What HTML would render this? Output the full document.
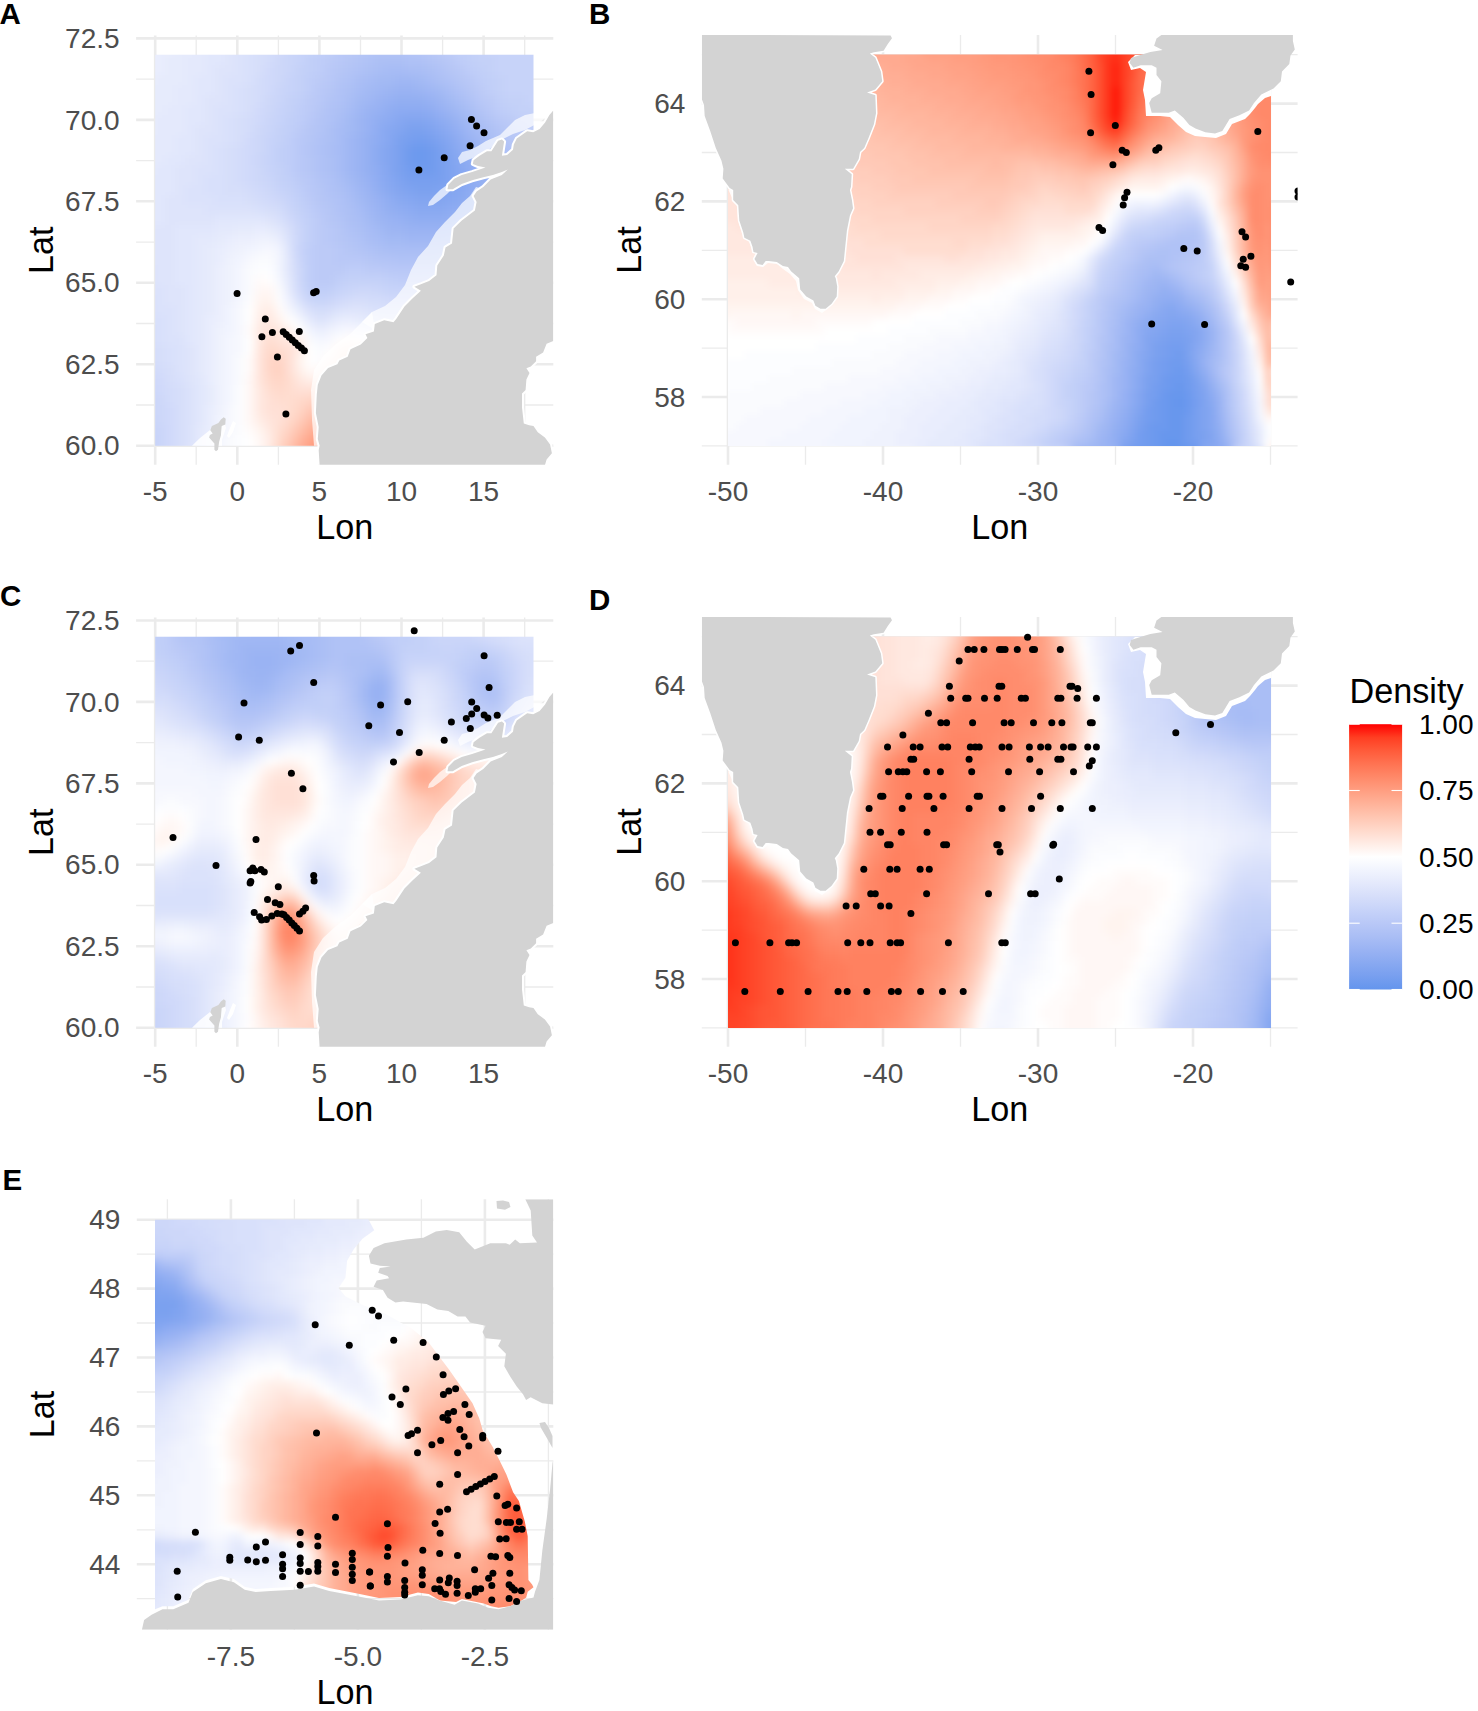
<!DOCTYPE html>
<html><head><meta charset="utf-8"><title>Density maps</title>
<style>
html,body{margin:0;padding:0;background:#fff;}
svg{display:block;}
.tk{font-family:"Liberation Sans",Arial,sans-serif;font-size:28px;fill:#4D4D4D;}
.ti{font-family:"Liberation Sans",Arial,sans-serif;font-size:34.2px;fill:#000;}
.pl{font-family:"Liberation Sans",Arial,sans-serif;font-size:29.5px;font-weight:bold;fill:#000;}
.lg{font-family:"Liberation Sans",Arial,sans-serif;font-size:28px;fill:#000;}
</style></head><body>
<svg width="1478" height="1711" viewBox="0 0 1478 1711">
<defs><filter id="blA" filterUnits="userSpaceOnUse" x="135.2" y="34.8" width="420" height="440" color-interpolation-filters="sRGB"><feGaussianBlur stdDeviation="5"/></filter><clipPath id="rcA"><path d="M155.2 54.8H533.5V338H518V445.7H155.2Z"/></clipPath><clipPath id="clipA"><rect x="136.1" y="35.6" width="417.2" height="429.1"/></clipPath><filter id="blB" filterUnits="userSpaceOnUse" x="712" y="38.5" width="576" height="424" color-interpolation-filters="sRGB"><feGaussianBlur stdDeviation="3.5"/></filter><clipPath id="rcB"><path d="M728 54.5H1271V445.9H728z"/></clipPath><clipPath id="clipB"><rect x="701.8" y="35" width="595.8" height="429.8"/></clipPath><filter id="blC" filterUnits="userSpaceOnUse" x="139.2" y="620.8" width="416" height="424" color-interpolation-filters="sRGB"><feGaussianBlur stdDeviation="4"/></filter><clipPath id="rcC"><path d="M155.2 636.8H533.5V920H518V1027.7H155.2Z"/></clipPath><clipPath id="clipC"><rect x="136.1" y="617.6" width="417.2" height="429.1"/></clipPath><filter id="blD" filterUnits="userSpaceOnUse" x="712" y="620.5" width="576" height="424" color-interpolation-filters="sRGB"><feGaussianBlur stdDeviation="4"/></filter><clipPath id="rcD"><path d="M728 636.5H1271V1027.9H728z"/></clipPath><clipPath id="clipD"><rect x="701.8" y="617" width="595.8" height="429.8"/></clipPath><filter id="blE" filterUnits="userSpaceOnUse" x="139" y="1203.5" width="416" height="424" color-interpolation-filters="sRGB"><feGaussianBlur stdDeviation="3.5"/></filter><clipPath id="rcE"><path d="M155 1219.7L368.3 1219.3L374.2 1230.3L362.4 1238.8L353.9 1249L347.1 1260.8L345.4 1277.8L338.6 1288L345.4 1296.4L362.4 1304.9L384.4 1313.4L399.7 1321.9L411.5 1328.6L428.5 1342.2L438.6 1355.8L448.8 1369.3L460.7 1386.3L472.5 1403.2L479.3 1418.5L482.7 1430.3L492.9 1447.3L499.7 1460.8L506.4 1474.4L513.1 1492.3L518.9 1501.1L524.8 1521.5L527.7 1536.2L528.4 1580L532.1 1584.4L533.5 1587.3L527.7 1591.7L526.2 1597.5L521.8 1600.5L510.2 1606.3L498.5 1607.8L491.2 1606.3L483.8 1603.4L461.9 1599L456.1 1601.9L440 1600.5L428.8 1594L417.9 1592.5L400.6 1597L379 1598L357.3 1593.5L329.2 1588L314 1583.5L294.5 1586.8L270.7 1588L255.6 1589L244.7 1586.8L233.9 1579L220.9 1576L205.8 1580.3L192.8 1589L188.5 1599.8L173.3 1606.3L162.5 1606.3L155 1609.3Z"/></clipPath><clipPath id="clipE"><rect x="136.8" y="1199.2" width="416.5" height="430.6"/></clipPath><linearGradient id="lgbar" x1="0" y1="0" x2="0" y2="1"><stop offset="0.00" stop-color="#ff0000"/><stop offset="0.05" stop-color="#ff3e22"/><stop offset="0.10" stop-color="#ff5b3a"/><stop offset="0.15" stop-color="#ff7352"/><stop offset="0.20" stop-color="#ff8969"/><stop offset="0.25" stop-color="#ff9e81"/><stop offset="0.30" stop-color="#ffb299"/><stop offset="0.35" stop-color="#ffc6b2"/><stop offset="0.40" stop-color="#ffd9cb"/><stop offset="0.45" stop-color="#ffece5"/><stop offset="0.50" stop-color="#ffffff"/><stop offset="0.55" stop-color="#f1f4fe"/><stop offset="0.60" stop-color="#e4e9fc"/><stop offset="0.65" stop-color="#d6defa"/><stop offset="0.70" stop-color="#c7d3f9"/><stop offset="0.75" stop-color="#b9c8f7"/><stop offset="0.80" stop-color="#aabef5"/><stop offset="0.85" stop-color="#9ab3f3"/><stop offset="0.90" stop-color="#89a9f1"/><stop offset="0.95" stop-color="#789fef"/><stop offset="1.00" stop-color="#6495ed"/></linearGradient></defs>
<rect width="1478" height="1711" fill="#fff"/>
<line x1="196.2" y1="35.6" x2="196.2" y2="464.7" stroke="#EBEBEB" stroke-width="1.3"/>
<line x1="278.4" y1="35.6" x2="278.4" y2="464.7" stroke="#EBEBEB" stroke-width="1.3"/>
<line x1="360.5" y1="35.6" x2="360.5" y2="464.7" stroke="#EBEBEB" stroke-width="1.3"/>
<line x1="442.6" y1="35.6" x2="442.6" y2="464.7" stroke="#EBEBEB" stroke-width="1.3"/>
<line x1="524.7" y1="35.6" x2="524.7" y2="464.7" stroke="#EBEBEB" stroke-width="1.3"/>
<line x1="136.1" y1="405" x2="553.3" y2="405" stroke="#EBEBEB" stroke-width="1.3"/>
<line x1="136.1" y1="323.5" x2="553.3" y2="323.5" stroke="#EBEBEB" stroke-width="1.3"/>
<line x1="136.1" y1="242.1" x2="553.3" y2="242.1" stroke="#EBEBEB" stroke-width="1.3"/>
<line x1="136.1" y1="160.6" x2="553.3" y2="160.6" stroke="#EBEBEB" stroke-width="1.3"/>
<line x1="136.1" y1="79.2" x2="553.3" y2="79.2" stroke="#EBEBEB" stroke-width="1.3"/>
<line x1="155.2" y1="35.6" x2="155.2" y2="464.7" stroke="#EBEBEB" stroke-width="2.6"/>
<line x1="237.3" y1="35.6" x2="237.3" y2="464.7" stroke="#EBEBEB" stroke-width="2.6"/>
<line x1="319.4" y1="35.6" x2="319.4" y2="464.7" stroke="#EBEBEB" stroke-width="2.6"/>
<line x1="401.5" y1="35.6" x2="401.5" y2="464.7" stroke="#EBEBEB" stroke-width="2.6"/>
<line x1="483.6" y1="35.6" x2="483.6" y2="464.7" stroke="#EBEBEB" stroke-width="2.6"/>
<line x1="136.1" y1="445.7" x2="553.3" y2="445.7" stroke="#EBEBEB" stroke-width="2.6"/>
<line x1="136.1" y1="364.2" x2="553.3" y2="364.2" stroke="#EBEBEB" stroke-width="2.6"/>
<line x1="136.1" y1="282.8" x2="553.3" y2="282.8" stroke="#EBEBEB" stroke-width="2.6"/>
<line x1="136.1" y1="201.3" x2="553.3" y2="201.3" stroke="#EBEBEB" stroke-width="2.6"/>
<line x1="136.1" y1="119.9" x2="553.3" y2="119.9" stroke="#EBEBEB" stroke-width="2.6"/>
<line x1="136.1" y1="38.4" x2="553.3" y2="38.4" stroke="#EBEBEB" stroke-width="2.6"/>
<g clip-path="url(#rcA)"><g filter="url(#blA)" shape-rendering="crispEdges"><path fill="#6c99ee" d="M415.2 144.8h10v10h-10zM415.2 154.8h10v10h-10z"/><path fill="#709bee" d="M405.2 144.8h10v10h-10zM425.2 144.8h10v10h-10zM405.2 154.8h10v10h-10zM425.2 154.8h10v10h-10zM415.2 164.8h20v10h-20z"/><path fill="#749def" d="M415.2 134.8h10v10h-10zM405.2 164.8h10v10h-10z"/><path fill="#789fef" d="M405.2 134.8h10v10h-10zM425.2 134.8h10v10h-10zM435.2 144.8h10v10h-10zM435.2 154.8h10v10h-10zM435.2 164.8h10v10h-10zM405.2 174.8h40v10h-40z"/><path fill="#7ba1ef" d="M405.2 124.8h20v10h-20zM395.2 134.8h10v10h-10zM395.2 144.8h10v10h-10zM395.2 154.8h10v10h-10zM395.2 164.8h10v10h-10zM415.2 184.8h20v10h-20z"/><path fill="#7fa3f0" d="M425.2 124.8h10v10h-10zM435.2 134.8h10v10h-10zM445.2 154.8h10v10h-10zM445.2 164.8h10v10h-10zM395.2 174.8h10v10h-10zM445.2 174.8h10v10h-10zM405.2 184.8h10v10h-10zM435.2 184.8h10v10h-10z"/><path fill="#83a5f0" d="M405.2 114.8h20v10h-20zM395.2 124.8h10v10h-10zM385.2 144.8h10v10h-10zM445.2 144.8h10v10h-10zM385.2 154.8h10v10h-10zM385.2 164.8h10v10h-10zM395.2 184.8h10v10h-10zM445.2 184.8h10v10h-10zM415.2 194.8h30v10h-30z"/><path fill="#86a7f1" d="M395.2 114.8h10v10h-10zM425.2 114.8h10v10h-10zM385.2 124.8h10v10h-10zM435.2 124.8h10v10h-10zM385.2 134.8h10v10h-10zM445.2 134.8h10v10h-10zM455.2 164.8h10v10h-10zM385.2 174.8h10v10h-10zM455.2 174.8h10v10h-10zM455.2 184.8h10v10h-10zM405.2 194.8h10v10h-10zM445.2 194.8h10v10h-10z"/><path fill="#89a9f1" d="M375.2 144.8h10v10h-10zM375.2 154.8h10v10h-10zM455.2 154.8h10v10h-10zM385.2 184.8h10v10h-10zM395.2 194.8h10v10h-10zM455.2 194.8h10v10h-10zM415.2 204.8h30v10h-30z"/><path fill="#8dabf2" d="M395.2 104.8h30v10h-30zM385.2 114.8h10v10h-10zM435.2 114.8h10v10h-10zM375.2 124.8h10v10h-10zM445.2 124.8h10v10h-10zM375.2 134.8h10v10h-10zM455.2 144.8h10v10h-10zM375.2 164.8h10v10h-10zM465.2 164.8h10v10h-10zM375.2 174.8h10v10h-10zM465.2 174.8h10v10h-10zM465.2 184.8h10v10h-10zM405.2 204.8h10v10h-10zM445.2 204.8h10v10h-10z"/><path fill="#90adf2" d="M385.2 104.8h10v10h-10zM425.2 104.8h10v10h-10zM375.2 114.8h10v10h-10zM455.2 134.8h10v10h-10zM465.2 154.8h10v10h-10zM375.2 184.8h10v10h-10zM385.2 194.8h10v10h-10zM465.2 194.8h10v10h-10zM395.2 204.8h10v10h-10zM455.2 204.8h10v10h-10zM415.2 214.8h30v10h-30z"/><path fill="#93aff2" d="M395.2 94.8h30v10h-30zM445.2 114.8h10v10h-10zM365.2 134.8h10v10h-10zM365.2 144.8h10v10h-10zM465.2 144.8h10v10h-10zM365.2 154.8h10v10h-10zM365.2 164.8h10v10h-10zM475.2 174.8h10v10h-10zM475.2 184.8h10v10h-10zM385.2 204.8h10v10h-10zM465.2 204.8h10v10h-10zM405.2 214.8h10v10h-10zM445.2 214.8h10v10h-10z"/><path fill="#97b1f3" d="M385.2 94.8h10v10h-10zM425.2 94.8h10v10h-10zM375.2 104.8h10v10h-10zM435.2 104.8h10v10h-10zM365.2 114.8h10v10h-10zM365.2 124.8h10v10h-10zM455.2 124.8h10v10h-10zM475.2 154.8h10v10h-10zM475.2 164.8h10v10h-10zM365.2 174.8h10v10h-10zM375.2 194.8h10v10h-10zM475.2 194.8h10v10h-10zM395.2 214.8h10v10h-10zM455.2 214.8h10v10h-10z"/><path fill="#9ab3f3" d="M395.2 84.8h20v10h-20zM375.2 94.8h10v10h-10zM365.2 104.8h10v10h-10zM355.2 134.8h10v10h-10zM465.2 134.8h10v10h-10zM355.2 144.8h10v10h-10zM355.2 154.8h10v10h-10zM355.2 164.8h10v10h-10zM485.2 174.8h10v10h-10zM365.2 184.8h10v10h-10zM485.2 184.8h10v10h-10zM375.2 204.8h10v10h-10zM475.2 204.8h10v10h-10zM385.2 214.8h10v10h-10zM465.2 214.8h10v10h-10zM405.2 224.8h50v10h-50z"/><path fill="#9db5f3" d="M385.2 84.8h10v10h-10zM415.2 84.8h10v10h-10zM435.2 94.8h10v10h-10zM445.2 104.8h10v10h-10zM355.2 114.8h10v10h-10zM455.2 114.8h10v10h-10zM355.2 124.8h10v10h-10zM475.2 144.8h10v10h-10zM485.2 164.8h10v10h-10zM355.2 174.8h10v10h-10zM365.2 194.8h10v10h-10zM485.2 194.8h10v10h-10zM375.2 214.8h10v10h-10zM475.2 214.8h10v10h-10zM385.2 224.8h20v10h-20zM455.2 224.8h10v10h-10z"/><path fill="#a0b7f4" d="M395.2 74.8h20v10h-20zM375.2 84.8h10v10h-10zM425.2 84.8h10v10h-10zM365.2 94.8h10v10h-10zM355.2 104.8h10v10h-10zM465.2 124.8h10v10h-10zM345.2 134.8h10v10h-10zM475.2 134.8h10v10h-10zM345.2 144.8h10v10h-10zM345.2 154.8h10v10h-10zM485.2 154.8h10v10h-10zM345.2 164.8h10v10h-10zM355.2 184.8h10v10h-10zM365.2 204.8h10v10h-10zM485.2 204.8h10v10h-10zM465.2 224.8h10v10h-10zM405.2 234.8h40v10h-40z"/><path fill="#a3baf4" d="M375.2 74.8h20v10h-20zM415.2 74.8h10v10h-10zM365.2 84.8h10v10h-10zM435.2 84.8h10v10h-10zM355.2 94.8h10v10h-10zM445.2 94.8h10v10h-10zM455.2 104.8h10v10h-10zM345.2 114.8h10v10h-10zM465.2 114.8h10v10h-10zM345.2 124.8h10v10h-10zM485.2 144.8h10v10h-10zM495.2 164.8h10v10h-10zM345.2 174.8h10v10h-10zM495.2 174.8h10v10h-10zM495.2 184.8h10v10h-10zM355.2 194.8h10v10h-10zM495.2 194.8h10v10h-10zM365.2 214.8h10v10h-10zM485.2 214.8h10v10h-10zM375.2 224.8h10v10h-10zM475.2 224.8h10v10h-10zM385.2 234.8h20v10h-20zM445.2 234.8h20v10h-20z"/><path fill="#a7bcf5" d="M385.2 64.8h20v10h-20zM365.2 74.8h10v10h-10zM425.2 74.8h10v10h-10zM355.2 84.8h10v10h-10zM345.2 104.8h10v10h-10zM335.2 124.8h10v10h-10zM475.2 124.8h10v10h-10zM335.2 134.8h10v10h-10zM335.2 144.8h10v10h-10zM335.2 154.8h10v10h-10zM495.2 154.8h10v10h-10zM335.2 164.8h10v10h-10zM345.2 184.8h10v10h-10zM355.2 204.8h10v10h-10zM495.2 204.8h10v10h-10zM365.2 224.8h10v10h-10zM375.2 234.8h10v10h-10zM465.2 234.8h10v10h-10z"/><path fill="#aabef5" d="M375.2 64.8h10v10h-10zM405.2 64.8h20v10h-20zM355.2 74.8h10v10h-10zM445.2 84.8h10v10h-10zM345.2 94.8h10v10h-10zM455.2 94.8h10v10h-10zM465.2 104.8h10v10h-10zM335.2 114.8h10v10h-10zM485.2 134.8h10v10h-10zM325.2 144.8h10v10h-10zM495.2 144.8h10v10h-10zM505.2 164.8h10v10h-10zM335.2 174.8h10v10h-10zM505.2 174.8h10v10h-10zM505.2 184.8h10v10h-10zM345.2 194.8h10v10h-10zM505.2 194.8h10v10h-10zM355.2 214.8h10v10h-10zM495.2 214.8h10v10h-10zM485.2 224.8h10v10h-10zM365.2 234.8h10v10h-10zM385.2 244.8h70v10h-70z"/><path fill="#adc0f5" d="M375.2 54.8h30v10h-30zM365.2 64.8h10v10h-10zM425.2 64.8h10v10h-10zM435.2 74.8h10v10h-10zM345.2 84.8h10v10h-10zM335.2 104.8h10v10h-10zM475.2 114.8h10v10h-10zM325.2 124.8h10v10h-10zM485.2 124.8h10v10h-10zM325.2 134.8h10v10h-10zM325.2 154.8h10v10h-10zM505.2 154.8h10v10h-10zM325.2 164.8h10v10h-10zM335.2 184.8h10v10h-10zM345.2 204.8h10v10h-10zM505.2 204.8h10v10h-10zM345.2 214.8h10v10h-10zM355.2 224.8h10v10h-10zM475.2 234.8h10v10h-10zM375.2 244.8h10v10h-10zM455.2 244.8h10v10h-10z"/><path fill="#b0c2f6" d="M365.2 54.8h10v10h-10zM405.2 54.8h20v10h-20zM355.2 64.8h10v10h-10zM435.2 64.8h10v10h-10zM345.2 74.8h10v10h-10zM445.2 74.8h10v10h-10zM335.2 84.8h10v10h-10zM455.2 84.8h10v10h-10zM335.2 94.8h10v10h-10zM465.2 94.8h10v10h-10zM325.2 104.8h10v10h-10zM325.2 114.8h10v10h-10zM315.2 134.8h10v10h-10zM495.2 134.8h10v10h-10zM315.2 144.8h10v10h-10zM505.2 144.8h10v10h-10zM315.2 154.8h10v10h-10zM315.2 164.8h10v10h-10zM325.2 174.8h10v10h-10zM515.2 174.8h10v10h-10zM325.2 184.8h10v10h-10zM515.2 184.8h10v10h-10zM335.2 194.8h10v10h-10zM515.2 194.8h10v10h-10zM335.2 204.8h10v10h-10zM505.2 214.8h10v10h-10zM345.2 224.8h10v10h-10zM495.2 224.8h10v10h-10zM355.2 234.8h10v10h-10zM485.2 234.8h10v10h-10zM365.2 244.8h10v10h-10zM465.2 244.8h10v10h-10zM395.2 254.8h40v10h-40z"/><path fill="#b3c4f6" d="M365.2 44.8h50v10h-50zM355.2 54.8h10v10h-10zM425.2 54.8h10v10h-10zM345.2 64.8h10v10h-10zM335.2 74.8h10v10h-10zM325.2 94.8h10v10h-10zM475.2 104.8h10v10h-10zM315.2 114.8h10v10h-10zM485.2 114.8h10v10h-10zM315.2 124.8h10v10h-10zM495.2 124.8h10v10h-10zM305.2 144.8h10v10h-10zM515.2 154.8h10v10h-10zM515.2 164.8h10v10h-10zM315.2 174.8h10v10h-10zM325.2 194.8h10v10h-10zM515.2 204.8h10v10h-10zM335.2 214.8h10v10h-10zM345.2 234.8h10v10h-10zM355.2 244.8h10v10h-10zM475.2 244.8h10v10h-10zM375.2 254.8h20v10h-20zM435.2 254.8h20v10h-20z"/><path fill="#b6c6f6" d="M365.2 34.8h40v10h-40zM355.2 44.8h10v10h-10zM415.2 44.8h10v10h-10zM345.2 54.8h10v10h-10zM435.2 54.8h10v10h-10zM335.2 64.8h10v10h-10zM445.2 64.8h10v10h-10zM455.2 74.8h10v10h-10zM325.2 84.8h10v10h-10zM465.2 84.8h10v10h-10zM315.2 104.8h10v10h-10zM305.2 124.8h10v10h-10zM305.2 134.8h10v10h-10zM505.2 134.8h10v10h-10zM515.2 144.8h10v10h-10zM305.2 154.8h10v10h-10zM305.2 164.8h10v10h-10zM525.2 164.8h10v10h-10zM525.2 174.8h10v10h-10zM315.2 184.8h10v10h-10zM525.2 184.8h10v10h-10zM315.2 194.8h10v10h-10zM525.2 194.8h10v10h-10zM325.2 204.8h10v10h-10zM325.2 214.8h10v10h-10zM515.2 214.8h10v10h-10zM335.2 224.8h10v10h-10zM505.2 224.8h10v10h-10zM335.2 234.8h10v10h-10zM495.2 234.8h10v10h-10zM345.2 244.8h10v10h-10zM485.2 244.8h10v10h-10zM365.2 254.8h10v10h-10zM455.2 254.8h20v10h-20z"/><path fill="#b9c8f7" d="M355.2 34.8h10v10h-10zM405.2 34.8h20v10h-20zM335.2 44.8h20v10h-20zM425.2 44.8h10v10h-10zM335.2 54.8h10v10h-10zM445.2 54.8h10v10h-10zM325.2 64.8h10v10h-10zM455.2 64.8h10v10h-10zM325.2 74.8h10v10h-10zM465.2 74.8h10v10h-10zM315.2 84.8h10v10h-10zM315.2 94.8h10v10h-10zM475.2 94.8h10v10h-10zM485.2 104.8h10v10h-10zM305.2 114.8h10v10h-10zM495.2 114.8h10v10h-10zM505.2 124.8h10v10h-10zM295.2 134.8h10v10h-10zM515.2 134.8h10v10h-10zM295.2 144.8h10v10h-10zM295.2 154.8h10v10h-10zM525.2 154.8h10v10h-10zM295.2 164.8h10v10h-10zM305.2 174.8h10v10h-10zM305.2 184.8h10v10h-10zM315.2 204.8h10v10h-10zM525.2 204.8h10v10h-10zM325.2 224.8h10v10h-10zM515.2 224.8h10v10h-10zM325.2 234.8h10v10h-10zM505.2 234.8h10v10h-10zM335.2 244.8h10v10h-10zM335.2 254.8h30v10h-30zM475.2 254.8h10v10h-10zM385.2 264.8h60v10h-60z"/><path fill="#bccaf7" d="M335.2 34.8h20v10h-20zM425.2 34.8h10v10h-10zM435.2 44.8h10v10h-10zM325.2 54.8h10v10h-10zM315.2 74.8h10v10h-10zM475.2 84.8h10v10h-10zM305.2 94.8h10v10h-10zM485.2 94.8h10v10h-10zM305.2 104.8h10v10h-10zM505.2 114.8h10v10h-10zM295.2 124.8h10v10h-10zM515.2 124.8h10v10h-10zM525.2 144.8h10v10h-10zM535.2 164.8h10v10h-10zM295.2 174.8h10v10h-10zM535.2 174.8h10v10h-10zM535.2 184.8h10v10h-10zM305.2 194.8h10v10h-10zM535.2 194.8h10v10h-10zM315.2 214.8h10v10h-10zM525.2 214.8h10v10h-10zM315.2 224.8h10v10h-10zM315.2 234.8h10v10h-10zM315.2 244.8h20v10h-20zM495.2 244.8h10v10h-10zM315.2 254.8h20v10h-20zM315.2 264.8h30v10h-30zM365.2 264.8h20v10h-20zM445.2 264.8h20v10h-20zM315.2 274.8h20v10h-20z"/><path fill="#bfcdf8" d="M325.2 34.8h10v10h-10zM435.2 34.8h10v10h-10zM325.2 44.8h10v10h-10zM445.2 44.8h10v10h-10zM315.2 54.8h10v10h-10zM455.2 54.8h10v10h-10zM315.2 64.8h10v10h-10zM465.2 64.8h10v10h-10zM305.2 74.8h10v10h-10zM475.2 74.8h10v10h-10zM305.2 84.8h10v10h-10zM295.2 104.8h10v10h-10zM495.2 104.8h10v10h-10zM295.2 114.8h10v10h-10zM285.2 134.8h10v10h-10zM525.2 134.8h10v10h-10zM285.2 144.8h10v10h-10zM535.2 144.8h10v10h-10zM285.2 154.8h10v10h-10zM535.2 154.8h10v10h-10zM285.2 164.8h10v10h-10zM295.2 184.8h10v10h-10zM305.2 204.8h10v10h-10zM535.2 204.8h10v10h-10zM525.2 224.8h10v10h-10zM515.2 234.8h10v10h-10zM305.2 244.8h10v10h-10zM505.2 244.8h10v10h-10zM305.2 254.8h10v10h-10zM485.2 254.8h10v10h-10zM305.2 264.8h10v10h-10zM345.2 264.8h20v10h-20zM465.2 264.8h10v10h-10zM305.2 274.8h10v10h-10zM395.2 274.8h30v10h-30zM315.2 284.8h10v10h-10z"/><path fill="#c1cff8" d="M315.2 34.8h10v10h-10zM445.2 34.8h20v10h-20zM315.2 44.8h10v10h-10zM455.2 44.8h20v10h-20zM305.2 54.8h10v10h-10zM465.2 54.8h10v10h-10zM305.2 64.8h10v10h-10zM475.2 64.8h10v10h-10zM485.2 74.8h10v10h-10zM485.2 84.8h10v10h-10zM295.2 94.8h10v10h-10zM495.2 94.8h10v10h-10zM505.2 104.8h10v10h-10zM285.2 114.8h10v10h-10zM515.2 114.8h20v10h-20zM285.2 124.8h10v10h-10zM525.2 124.8h10v10h-10zM535.2 134.8h10v10h-10zM275.2 144.8h10v10h-10zM275.2 154.8h10v10h-10zM545.2 154.8h10v10h-10zM545.2 164.8h10v10h-10zM285.2 174.8h10v10h-10zM545.2 174.8h10v10h-10zM545.2 184.8h10v10h-10zM295.2 194.8h10v10h-10zM545.2 194.8h10v10h-10zM305.2 214.8h10v10h-10zM535.2 214.8h10v10h-10zM305.2 224.8h10v10h-10zM305.2 234.8h10v10h-10zM495.2 254.8h10v10h-10zM475.2 264.8h10v10h-10zM335.2 274.8h10v10h-10zM385.2 274.8h10v10h-10zM425.2 274.8h20v10h-20zM305.2 284.8h10v10h-10zM325.2 284.8h10v10h-10zM135.2 424.8h10v10h-10zM135.2 434.8h10v10h-10zM135.2 444.8h10v10h-10zM135.2 454.8h10v10h-10z"/><path fill="#c4d1f8" d="M465.2 34.8h10v10h-10zM305.2 44.8h10v10h-10zM475.2 44.8h10v10h-10zM475.2 54.8h20v10h-20zM295.2 64.8h10v10h-10zM485.2 64.8h10v10h-10zM295.2 74.8h10v10h-10zM495.2 74.8h10v10h-10zM295.2 84.8h10v10h-10zM495.2 84.8h10v10h-10zM285.2 94.8h10v10h-10zM505.2 94.8h20v10h-20zM285.2 104.8h10v10h-10zM515.2 104.8h20v10h-20zM535.2 114.8h10v10h-10zM275.2 124.8h10v10h-10zM535.2 124.8h10v10h-10zM275.2 134.8h10v10h-10zM545.2 134.8h10v10h-10zM545.2 144.8h10v10h-10zM275.2 164.8h10v10h-10zM275.2 174.8h10v10h-10zM285.2 184.8h10v10h-10zM295.2 204.8h10v10h-10zM545.2 204.8h10v10h-10zM535.2 224.8h10v10h-10zM525.2 234.8h10v10h-10zM515.2 244.8h10v10h-10zM505.2 254.8h10v10h-10zM485.2 264.8h10v10h-10zM345.2 274.8h40v10h-40zM445.2 274.8h20v10h-20zM135.2 404.8h10v10h-10zM135.2 414.8h10v10h-10zM145.2 434.8h10v10h-10zM145.2 444.8h10v10h-10zM135.2 464.8h10v10h-10z"/><path fill="#c7d3f9" d="M305.2 34.8h10v10h-10zM475.2 34.8h70v10h-70zM295.2 44.8h10v10h-10zM485.2 44.8h60v10h-60zM295.2 54.8h10v10h-10zM495.2 54.8h50v10h-50zM495.2 64.8h50v10h-50zM285.2 74.8h10v10h-10zM505.2 74.8h40v10h-40zM285.2 84.8h10v10h-10zM505.2 84.8h40v10h-40zM525.2 94.8h20v10h-20zM275.2 104.8h10v10h-10zM535.2 104.8h20v10h-20zM275.2 114.8h10v10h-10zM545.2 114.8h10v10h-10zM545.2 124.8h10v10h-10zM265.2 134.8h10v10h-10zM265.2 144.8h10v10h-10zM265.2 154.8h10v10h-10zM265.2 164.8h10v10h-10zM275.2 184.8h10v10h-10zM285.2 194.8h10v10h-10zM295.2 214.8h10v10h-10zM545.2 214.8h10v10h-10zM535.2 234.8h10v10h-10zM295.2 244.8h10v10h-10zM525.2 244.8h10v10h-10zM495.2 264.8h10v10h-10zM465.2 274.8h10v10h-10zM335.2 284.8h10v10h-10zM385.2 284.8h50v10h-50zM315.2 294.8h10v10h-10zM135.2 384.8h10v10h-10zM135.2 394.8h10v10h-10zM145.2 414.8h10v10h-10zM145.2 424.8h10v10h-10zM145.2 454.8h10v10h-10zM145.2 464.8h10v10h-10z"/><path fill="#cad5f9" d="M295.2 34.8h10v10h-10zM545.2 34.8h10v10h-10zM285.2 44.8h10v10h-10zM545.2 44.8h10v10h-10zM285.2 54.8h10v10h-10zM545.2 54.8h10v10h-10zM285.2 64.8h10v10h-10zM545.2 64.8h10v10h-10zM545.2 74.8h10v10h-10zM275.2 84.8h10v10h-10zM545.2 84.8h10v10h-10zM275.2 94.8h10v10h-10zM545.2 94.8h10v10h-10zM265.2 114.8h10v10h-10zM265.2 124.8h10v10h-10zM255.2 154.8h10v10h-10zM265.2 174.8h10v10h-10zM285.2 204.8h10v10h-10zM295.2 224.8h10v10h-10zM545.2 224.8h10v10h-10zM295.2 234.8h10v10h-10zM295.2 254.8h10v10h-10zM515.2 254.8h10v10h-10zM475.2 274.8h10v10h-10zM345.2 284.8h10v10h-10zM375.2 284.8h10v10h-10zM435.2 284.8h20v10h-20zM305.2 294.8h10v10h-10zM325.2 294.8h10v10h-10zM135.2 374.8h10v10h-10zM145.2 384.8h10v10h-10zM145.2 394.8h10v10h-10zM145.2 404.8h10v10h-10zM155.2 424.8h10v10h-10zM155.2 434.8h10v10h-10zM155.2 444.8h10v10h-10zM155.2 454.8h10v10h-10z"/><path fill="#cdd7f9" d="M285.2 34.8h10v10h-10zM275.2 54.8h10v10h-10zM275.2 64.8h10v10h-10zM275.2 74.8h10v10h-10zM265.2 94.8h10v10h-10zM265.2 104.8h10v10h-10zM255.2 124.8h10v10h-10zM255.2 134.8h10v10h-10zM255.2 144.8h10v10h-10zM255.2 164.8h10v10h-10zM255.2 174.8h10v10h-10zM265.2 184.8h10v10h-10zM275.2 194.8h10v10h-10zM545.2 234.8h10v10h-10zM535.2 244.8h10v10h-10zM525.2 254.8h10v10h-10zM295.2 264.8h10v10h-10zM505.2 264.8h10v10h-10zM295.2 274.8h10v10h-10zM485.2 274.8h10v10h-10zM355.2 284.8h20v10h-20zM455.2 284.8h10v10h-10zM135.2 364.8h10v10h-10zM145.2 374.8h10v10h-10zM155.2 394.8h10v10h-10zM155.2 404.8h10v10h-10zM155.2 414.8h10v10h-10zM155.2 464.8h10v10h-10z"/><path fill="#d0d9fa" d="M275.2 34.8h10v10h-10zM275.2 44.8h10v10h-10zM265.2 64.8h10v10h-10zM265.2 74.8h10v10h-10zM265.2 84.8h10v10h-10zM255.2 104.8h10v10h-10zM255.2 114.8h10v10h-10zM245.2 134.8h10v10h-10zM245.2 144.8h10v10h-10zM245.2 154.8h10v10h-10zM245.2 164.8h10v10h-10zM245.2 174.8h10v10h-10zM255.2 184.8h10v10h-10zM265.2 194.8h10v10h-10zM285.2 214.8h10v10h-10zM515.2 264.8h10v10h-10zM495.2 274.8h10v10h-10zM295.2 284.8h10v10h-10zM465.2 284.8h10v10h-10zM335.2 294.8h10v10h-10zM385.2 294.8h50v10h-50zM135.2 344.8h10v10h-10zM135.2 354.8h10v10h-10zM145.2 364.8h10v10h-10zM155.2 374.8h10v10h-10zM155.2 384.8h10v10h-10zM165.2 404.8h10v10h-10zM165.2 414.8h10v10h-10zM165.2 424.8h10v10h-10zM165.2 434.8h10v10h-10zM165.2 444.8h10v10h-10zM165.2 454.8h10v10h-10z"/><path fill="#d3dcfa" d="M265.2 34.8h10v10h-10zM265.2 44.8h10v10h-10zM265.2 54.8h10v10h-10zM255.2 74.8h10v10h-10zM255.2 84.8h10v10h-10zM255.2 94.8h10v10h-10zM245.2 114.8h10v10h-10zM245.2 124.8h10v10h-10zM235.2 144.8h10v10h-10zM235.2 154.8h10v10h-10zM235.2 164.8h10v10h-10zM235.2 174.8h10v10h-10zM245.2 184.8h10v10h-10zM255.2 194.8h10v10h-10zM275.2 204.8h10v10h-10zM545.2 244.8h10v10h-10zM535.2 254.8h10v10h-10zM525.2 264.8h10v10h-10zM505.2 274.8h10v10h-10zM475.2 284.8h10v10h-10zM345.2 294.8h10v10h-10zM365.2 294.8h20v10h-20zM435.2 294.8h20v10h-20zM315.2 304.8h10v10h-10zM135.2 324.8h10v10h-10zM135.2 334.8h10v10h-10zM145.2 344.8h10v10h-10zM145.2 354.8h10v10h-10zM155.2 364.8h10v10h-10zM165.2 384.8h10v10h-10zM165.2 394.8h10v10h-10zM165.2 464.8h10v10h-10z"/><path fill="#d6defa" d="M255.2 34.8h10v10h-10zM255.2 44.8h10v10h-10zM255.2 54.8h10v10h-10zM255.2 64.8h10v10h-10zM245.2 84.8h10v10h-10zM245.2 94.8h10v10h-10zM245.2 104.8h10v10h-10zM235.2 114.8h10v10h-10zM235.2 124.8h10v10h-10zM235.2 134.8h10v10h-10zM225.2 144.8h10v10h-10zM225.2 154.8h10v10h-10zM225.2 164.8h10v10h-10zM225.2 174.8h10v10h-10zM225.2 184.8h20v10h-20zM245.2 194.8h10v10h-10zM265.2 204.8h10v10h-10zM285.2 224.8h10v10h-10zM515.2 274.8h10v10h-10zM485.2 284.8h10v10h-10zM355.2 294.8h10v10h-10zM455.2 294.8h10v10h-10zM135.2 304.8h10v10h-10zM325.2 304.8h10v10h-10zM135.2 314.8h10v10h-10zM145.2 324.8h10v10h-10zM145.2 334.8h10v10h-10zM155.2 344.8h10v10h-10zM155.2 354.8h10v10h-10zM165.2 364.8h10v10h-10zM165.2 374.8h10v10h-10zM175.2 384.8h10v10h-10zM175.2 394.8h10v10h-10zM175.2 404.8h10v10h-10zM175.2 414.8h10v10h-10zM175.2 424.8h10v10h-10zM175.2 434.8h10v10h-10zM175.2 444.8h10v10h-10z"/><path fill="#d8e0fb" d="M245.2 34.8h10v10h-10zM245.2 44.8h10v10h-10zM245.2 54.8h10v10h-10zM245.2 64.8h10v10h-10zM245.2 74.8h10v10h-10zM235.2 84.8h10v10h-10zM235.2 94.8h10v10h-10zM235.2 104.8h10v10h-10zM225.2 114.8h10v10h-10zM225.2 124.8h10v10h-10zM225.2 134.8h10v10h-10zM215.2 144.8h10v10h-10zM215.2 154.8h10v10h-10zM215.2 164.8h10v10h-10zM205.2 174.8h20v10h-20zM205.2 184.8h20v10h-20zM215.2 194.8h30v10h-30zM255.2 204.8h10v10h-10zM275.2 214.8h10v10h-10zM285.2 234.8h10v10h-10zM545.2 254.8h10v10h-10zM535.2 264.8h10v10h-10zM135.2 284.8h10v10h-10zM495.2 284.8h10v10h-10zM135.2 294.8h20v10h-20zM295.2 294.8h10v10h-10zM465.2 294.8h10v10h-10zM145.2 304.8h10v10h-10zM305.2 304.8h10v10h-10zM375.2 304.8h50v10h-50zM145.2 314.8h20v10h-20zM155.2 324.8h10v10h-10zM155.2 334.8h10v10h-10zM165.2 344.8h10v10h-10zM165.2 354.8h10v10h-10zM175.2 374.8h10v10h-10zM175.2 454.8h10v10h-10zM175.2 464.8h10v10h-10z"/><path fill="#dbe2fb" d="M235.2 34.8h10v10h-10zM235.2 44.8h10v10h-10zM235.2 54.8h10v10h-10zM235.2 64.8h10v10h-10zM225.2 74.8h20v10h-20zM225.2 84.8h10v10h-10zM225.2 94.8h10v10h-10zM215.2 104.8h20v10h-20zM215.2 114.8h10v10h-10zM215.2 124.8h10v10h-10zM205.2 134.8h20v10h-20zM205.2 144.8h10v10h-10zM205.2 154.8h10v10h-10zM195.2 164.8h20v10h-20zM195.2 174.8h10v10h-10zM185.2 184.8h20v10h-20zM185.2 194.8h30v10h-30zM205.2 204.8h50v10h-50zM285.2 244.8h10v10h-10zM135.2 254.8h10v10h-10zM135.2 264.8h20v10h-20zM545.2 264.8h10v10h-10zM135.2 274.8h20v10h-20zM525.2 274.8h10v10h-10zM145.2 284.8h20v10h-20zM505.2 284.8h10v10h-10zM155.2 294.8h10v10h-10zM475.2 294.8h20v10h-20zM155.2 304.8h20v10h-20zM335.2 304.8h10v10h-10zM365.2 304.8h10v10h-10zM425.2 304.8h20v10h-20zM165.2 314.8h10v10h-10zM315.2 314.8h10v10h-10zM165.2 324.8h10v10h-10zM165.2 334.8h20v10h-20zM175.2 344.8h10v10h-10zM175.2 354.8h10v10h-10zM175.2 364.8h10v10h-10zM185.2 384.8h10v10h-10zM185.2 394.8h10v10h-10zM185.2 404.8h10v10h-10zM185.2 414.8h10v10h-10zM185.2 424.8h10v10h-10zM185.2 434.8h10v10h-10z"/><path fill="#dee4fb" d="M225.2 34.8h10v10h-10zM225.2 44.8h10v10h-10zM225.2 54.8h10v10h-10zM215.2 64.8h20v10h-20zM215.2 74.8h10v10h-10zM215.2 84.8h10v10h-10zM205.2 94.8h20v10h-20zM205.2 104.8h10v10h-10zM205.2 114.8h10v10h-10zM195.2 124.8h20v10h-20zM195.2 134.8h10v10h-10zM195.2 144.8h10v10h-10zM185.2 154.8h20v10h-20zM175.2 164.8h20v10h-20zM175.2 174.8h20v10h-20zM175.2 184.8h10v10h-10zM165.2 194.8h20v10h-20zM165.2 204.8h40v10h-40zM135.2 214.8h10v10h-10zM165.2 214.8h50v10h-50zM265.2 214.8h10v10h-10zM135.2 224.8h40v10h-40zM135.2 234.8h40v10h-40zM135.2 244.8h40v10h-40zM145.2 254.8h30v10h-30zM285.2 254.8h10v10h-10zM155.2 264.8h20v10h-20zM285.2 264.8h10v10h-10zM155.2 274.8h20v10h-20zM535.2 274.8h10v10h-10zM165.2 284.8h20v10h-20zM515.2 284.8h10v10h-10zM165.2 294.8h20v10h-20zM495.2 294.8h10v10h-10zM175.2 304.8h10v10h-10zM345.2 304.8h20v10h-20zM445.2 304.8h20v10h-20zM175.2 314.8h10v10h-10zM175.2 324.8h10v10h-10zM185.2 344.8h10v10h-10zM185.2 354.8h10v10h-10zM185.2 364.8h10v10h-10zM185.2 374.8h10v10h-10zM185.2 444.8h10v10h-10zM185.2 454.8h10v10h-10z"/><path fill="#e1e7fc" d="M215.2 34.8h10v10h-10zM205.2 44.8h20v10h-20zM205.2 54.8h20v10h-20zM205.2 64.8h10v10h-10zM195.2 74.8h20v10h-20zM195.2 84.8h20v10h-20zM195.2 94.8h10v10h-10zM185.2 104.8h20v10h-20zM185.2 114.8h20v10h-20zM185.2 124.8h10v10h-10zM175.2 134.8h20v10h-20zM175.2 144.8h20v10h-20zM165.2 154.8h20v10h-20zM155.2 164.8h20v10h-20zM145.2 174.8h30v10h-30zM135.2 184.8h40v10h-40zM135.2 194.8h30v10h-30zM135.2 204.8h30v10h-30zM145.2 214.8h20v10h-20zM215.2 214.8h50v10h-50zM175.2 224.8h40v10h-40zM275.2 224.8h10v10h-10zM175.2 234.8h20v10h-20zM175.2 244.8h20v10h-20zM175.2 254.8h20v10h-20zM175.2 264.8h20v10h-20zM175.2 274.8h20v10h-20zM285.2 274.8h10v10h-10zM185.2 284.8h10v10h-10zM525.2 284.8h10v10h-10zM185.2 294.8h10v10h-10zM505.2 294.8h10v10h-10zM185.2 304.8h10v10h-10zM465.2 304.8h10v10h-10zM185.2 314.8h10v10h-10zM325.2 314.8h10v10h-10zM375.2 314.8h40v10h-40zM185.2 324.8h10v10h-10zM185.2 334.8h10v10h-10zM195.2 374.8h10v10h-10zM195.2 384.8h10v10h-10zM195.2 394.8h10v10h-10zM195.2 404.8h10v10h-10zM195.2 414.8h10v10h-10zM185.2 464.8h10v10h-10z"/><path fill="#e4e9fc" d="M195.2 34.8h20v10h-20zM195.2 44.8h10v10h-10zM185.2 54.8h20v10h-20zM185.2 64.8h20v10h-20zM185.2 74.8h10v10h-10zM175.2 84.8h20v10h-20zM175.2 94.8h20v10h-20zM165.2 104.8h20v10h-20zM155.2 114.8h30v10h-30zM155.2 124.8h30v10h-30zM135.2 134.8h40v10h-40zM135.2 144.8h40v10h-40zM135.2 154.8h30v10h-30zM135.2 164.8h20v10h-20zM135.2 174.8h10v10h-10zM215.2 224.8h20v10h-20zM195.2 234.8h20v10h-20zM195.2 244.8h10v10h-10zM195.2 254.8h10v10h-10zM195.2 264.8h10v10h-10zM195.2 274.8h10v10h-10zM545.2 274.8h10v10h-10zM195.2 284.8h10v10h-10zM285.2 284.8h10v10h-10zM535.2 284.8h10v10h-10zM195.2 294.8h10v10h-10zM515.2 294.8h10v10h-10zM195.2 304.8h10v10h-10zM475.2 304.8h20v10h-20zM195.2 314.8h10v10h-10zM305.2 314.8h10v10h-10zM365.2 314.8h10v10h-10zM415.2 314.8h30v10h-30zM195.2 324.8h10v10h-10zM195.2 334.8h10v10h-10zM195.2 344.8h10v10h-10zM195.2 354.8h10v10h-10zM195.2 364.8h10v10h-10zM195.2 424.8h10v10h-10zM195.2 434.8h10v10h-10zM195.2 444.8h10v10h-10z"/><path fill="#e6ebfc" d="M175.2 34.8h20v10h-20zM175.2 44.8h20v10h-20zM165.2 54.8h20v10h-20zM165.2 64.8h20v10h-20zM155.2 74.8h30v10h-30zM145.2 84.8h30v10h-30zM135.2 94.8h40v10h-40zM135.2 104.8h30v10h-30zM135.2 114.8h20v10h-20zM135.2 124.8h20v10h-20zM235.2 224.8h20v10h-20zM265.2 224.8h10v10h-10zM215.2 234.8h10v10h-10zM205.2 244.8h10v10h-10zM205.2 254.8h10v10h-10zM205.2 264.8h10v10h-10zM205.2 274.8h10v10h-10zM205.2 284.8h10v10h-10zM205.2 294.8h10v10h-10zM205.2 304.8h10v10h-10zM295.2 304.8h10v10h-10zM495.2 304.8h10v10h-10zM355.2 314.8h10v10h-10zM445.2 314.8h20v10h-20zM205.2 384.8h10v10h-10zM205.2 394.8h10v10h-10zM195.2 454.8h10v10h-10zM195.2 464.8h10v10h-10z"/><path fill="#e9edfd" d="M135.2 34.8h40v10h-40zM135.2 44.8h40v10h-40zM135.2 54.8h30v10h-30zM135.2 64.8h30v10h-30zM135.2 74.8h20v10h-20zM135.2 84.8h10v10h-10zM255.2 224.8h10v10h-10zM225.2 234.8h10v10h-10zM275.2 234.8h10v10h-10zM215.2 244.8h10v10h-10zM215.2 254.8h10v10h-10zM545.2 284.8h10v10h-10zM525.2 294.8h10v10h-10zM505.2 304.8h10v10h-10zM205.2 314.8h10v10h-10zM335.2 314.8h20v10h-20zM465.2 314.8h10v10h-10zM205.2 324.8h10v10h-10zM315.2 324.8h10v10h-10zM205.2 334.8h10v10h-10zM205.2 344.8h10v10h-10zM205.2 354.8h10v10h-10zM205.2 364.8h10v10h-10zM205.2 374.8h10v10h-10zM205.2 404.8h10v10h-10zM205.2 414.8h10v10h-10zM205.2 424.8h10v10h-10z"/><path fill="#eceffd" d="M235.2 234.8h20v10h-20zM225.2 244.8h10v10h-10zM215.2 264.8h10v10h-10zM215.2 274.8h10v10h-10zM215.2 284.8h10v10h-10zM215.2 294.8h10v10h-10zM285.2 294.8h10v10h-10zM535.2 294.8h10v10h-10zM215.2 304.8h10v10h-10zM515.2 304.8h10v10h-10zM215.2 314.8h10v10h-10zM475.2 314.8h20v10h-20zM375.2 324.8h50v10h-50zM205.2 434.8h10v10h-10zM205.2 444.8h10v10h-10zM205.2 454.8h10v10h-10z"/><path fill="#eff2fd" d="M255.2 234.8h20v10h-20zM235.2 244.8h10v10h-10zM225.2 254.8h10v10h-10zM225.2 264.8h10v10h-10zM225.2 274.8h10v10h-10zM225.2 284.8h10v10h-10zM225.2 294.8h10v10h-10zM545.2 294.8h10v10h-10zM525.2 304.8h10v10h-10zM495.2 314.8h10v10h-10zM215.2 324.8h10v10h-10zM325.2 324.8h10v10h-10zM365.2 324.8h10v10h-10zM425.2 324.8h30v10h-30zM215.2 334.8h10v10h-10zM215.2 344.8h10v10h-10zM215.2 354.8h10v10h-10zM215.2 364.8h10v10h-10zM215.2 374.8h10v10h-10zM215.2 384.8h10v10h-10zM215.2 394.8h10v10h-10zM215.2 404.8h10v10h-10zM205.2 464.8h10v10h-10z"/><path fill="#f1f4fe" d="M245.2 244.8h10v10h-10zM275.2 244.8h10v10h-10zM235.2 254.8h10v10h-10zM275.2 254.8h10v10h-10zM275.2 264.8h10v10h-10zM225.2 304.8h10v10h-10zM535.2 304.8h10v10h-10zM225.2 314.8h10v10h-10zM505.2 314.8h10v10h-10zM225.2 324.8h10v10h-10zM305.2 324.8h10v10h-10zM455.2 324.8h20v10h-20zM215.2 414.8h10v10h-10zM215.2 424.8h10v10h-10z"/><path fill="#f4f6fe" d="M255.2 244.8h10v10h-10zM235.2 264.8h10v10h-10zM235.2 274.8h10v10h-10zM275.2 274.8h10v10h-10zM235.2 284.8h10v10h-10zM235.2 294.8h10v10h-10zM285.2 304.8h10v10h-10zM545.2 304.8h10v10h-10zM295.2 314.8h10v10h-10zM515.2 314.8h10v10h-10zM335.2 324.8h10v10h-10zM355.2 324.8h10v10h-10zM475.2 324.8h10v10h-10zM225.2 334.8h10v10h-10zM315.2 334.8h10v10h-10zM225.2 344.8h10v10h-10zM225.2 354.8h10v10h-10zM225.2 364.8h10v10h-10zM225.2 374.8h10v10h-10zM225.2 384.8h10v10h-10zM225.2 394.8h10v10h-10zM215.2 434.8h10v10h-10zM215.2 444.8h10v10h-10zM215.2 454.8h10v10h-10zM215.2 464.8h10v10h-10z"/><path fill="#f7f8fe" d="M265.2 244.8h10v10h-10zM245.2 254.8h10v10h-10zM235.2 304.8h10v10h-10zM235.2 314.8h10v10h-10zM525.2 314.8h10v10h-10zM235.2 324.8h10v10h-10zM345.2 324.8h10v10h-10zM485.2 324.8h20v10h-20zM235.2 334.8h10v10h-10zM325.2 334.8h10v10h-10zM385.2 334.8h50v10h-50zM235.2 344.8h10v10h-10zM225.2 404.8h10v10h-10zM225.2 414.8h10v10h-10zM225.2 424.8h10v10h-10z"/><path fill="#fafbfe" d="M255.2 254.8h20v10h-20zM245.2 264.8h10v10h-10zM245.2 274.8h10v10h-10zM245.2 284.8h10v10h-10zM275.2 284.8h10v10h-10zM535.2 314.8h10v10h-10zM505.2 324.8h10v10h-10zM305.2 334.8h10v10h-10zM375.2 334.8h10v10h-10zM435.2 334.8h30v10h-30zM315.2 344.8h10v10h-10zM235.2 354.8h10v10h-10zM235.2 364.8h10v10h-10zM235.2 374.8h10v10h-10zM225.2 434.8h10v10h-10zM225.2 444.8h10v10h-10zM225.2 454.8h10v10h-10zM225.2 464.8h10v10h-10z"/><path fill="#fcfdff" d="M255.2 264.8h20v10h-20zM245.2 294.8h10v10h-10zM275.2 294.8h10v10h-10zM545.2 314.8h10v10h-10zM515.2 324.8h10v10h-10zM365.2 334.8h10v10h-10zM465.2 334.8h20v10h-20zM315.2 354.8h10v10h-10zM235.2 384.8h10v10h-10zM235.2 394.8h10v10h-10zM235.2 404.8h10v10h-10zM235.2 414.8h10v10h-10zM235.2 424.8h10v10h-10zM235.2 434.8h10v10h-10zM235.2 444.8h10v10h-10z"/><path fill="#ffffff" d="M265.2 274.8h10v10h-10zM245.2 304.8h10v10h-10zM245.2 314.8h10v10h-10zM285.2 314.8h10v10h-10zM295.2 324.8h10v10h-10zM525.2 324.8h10v10h-10zM245.2 334.8h10v10h-10zM335.2 334.8h10v10h-10zM355.2 334.8h10v10h-10zM485.2 334.8h20v10h-20zM245.2 344.8h10v10h-10zM305.2 344.8h10v10h-10zM325.2 344.8h10v10h-10zM305.2 354.8h10v10h-10zM245.2 434.8h10v10h-10zM245.2 444.8h10v10h-10zM235.2 454.8h10v10h-10zM235.2 464.8h10v10h-10z"/><path fill="#fffbfa" d="M255.2 274.8h10v10h-10zM275.2 304.8h10v10h-10zM245.2 324.8h10v10h-10zM535.2 324.8h10v10h-10zM345.2 334.8h10v10h-10zM505.2 334.8h10v10h-10zM395.2 344.8h60v10h-60zM245.2 354.8h10v10h-10zM245.2 364.8h10v10h-10zM305.2 364.8h10v10h-10zM245.2 424.8h10v10h-10zM245.2 454.8h10v10h-10z"/><path fill="#fff7f5" d="M255.2 284.8h20v10h-20zM545.2 324.8h10v10h-10zM515.2 334.8h10v10h-10zM375.2 344.8h20v10h-20zM455.2 344.8h20v10h-20zM325.2 354.8h10v10h-10zM315.2 364.8h10v10h-10zM245.2 374.8h10v10h-10zM245.2 384.8h10v10h-10zM245.2 394.8h10v10h-10zM245.2 404.8h10v10h-10zM245.2 414.8h10v10h-10zM255.2 434.8h10v10h-10zM255.2 444.8h10v10h-10z"/><path fill="#fff4ef" d="M255.2 294.8h20v10h-20zM275.2 314.8h10v10h-10zM285.2 324.8h10v10h-10zM525.2 334.8h20v10h-20zM335.2 344.8h10v10h-10zM365.2 344.8h10v10h-10zM475.2 344.8h20v10h-20zM295.2 354.8h10v10h-10zM255.2 424.8h10v10h-10zM245.2 464.8h10v10h-10z"/><path fill="#fff0ea" d="M255.2 304.8h10v10h-10zM295.2 334.8h10v10h-10zM545.2 334.8h10v10h-10zM345.2 344.8h20v10h-20zM495.2 344.8h20v10h-20zM335.2 354.8h10v10h-10zM295.2 364.8h10v10h-10zM325.2 364.8h10v10h-10zM305.2 374.8h10v10h-10zM255.2 454.8h10v10h-10z"/><path fill="#ffece5" d="M265.2 304.8h10v10h-10zM255.2 314.8h10v10h-10zM295.2 344.8h10v10h-10zM515.2 344.8h10v10h-10zM395.2 354.8h70v10h-70zM315.2 374.8h10v10h-10zM255.2 414.8h10v10h-10zM265.2 434.8h10v10h-10zM255.2 464.8h10v10h-10z"/><path fill="#ffe8e0" d="M265.2 314.8h10v10h-10zM255.2 324.8h10v10h-10zM275.2 324.8h10v10h-10zM255.2 334.8h10v10h-10zM285.2 334.8h10v10h-10zM525.2 344.8h20v10h-20zM345.2 354.8h10v10h-10zM365.2 354.8h30v10h-30zM465.2 354.8h30v10h-30zM335.2 364.8h10v10h-10zM295.2 374.8h10v10h-10zM255.2 384.8h10v10h-10zM255.2 394.8h10v10h-10zM255.2 404.8h10v10h-10zM265.2 424.8h10v10h-10zM265.2 444.8h10v10h-10z"/><path fill="#ffe4db" d="M265.2 324.8h10v10h-10zM275.2 334.8h10v10h-10zM255.2 344.8h10v10h-10zM545.2 344.8h10v10h-10zM255.2 354.8h10v10h-10zM355.2 354.8h10v10h-10zM495.2 354.8h20v10h-20zM255.2 364.8h10v10h-10zM255.2 374.8h10v10h-10zM325.2 374.8h10v10h-10zM265.2 414.8h10v10h-10zM265.2 454.8h10v10h-10z"/><path fill="#ffe0d6" d="M285.2 344.8h10v10h-10zM285.2 354.8h10v10h-10zM515.2 354.8h20v10h-20zM285.2 364.8h10v10h-10zM345.2 364.8h10v10h-10zM295.2 384.8h20v10h-20zM265.2 394.8h10v10h-10zM265.2 404.8h20v10h-20zM275.2 414.8h10v10h-10z"/><path fill="#ffddd0" d="M265.2 334.8h10v10h-10zM275.2 344.8h10v10h-10zM535.2 354.8h10v10h-10zM355.2 364.8h10v10h-10zM385.2 364.8h100v10h-100zM285.2 374.8h10v10h-10zM335.2 374.8h10v10h-10zM265.2 384.8h10v10h-10zM285.2 384.8h10v10h-10zM315.2 384.8h10v10h-10zM275.2 394.8h20v10h-20zM285.2 404.8h10v10h-10zM275.2 424.8h10v10h-10zM265.2 464.8h10v10h-10z"/><path fill="#ffd9cb" d="M265.2 344.8h10v10h-10zM545.2 354.8h10v10h-10zM365.2 364.8h20v10h-20zM485.2 364.8h30v10h-30zM265.2 374.8h10v10h-10zM275.2 384.8h10v10h-10zM325.2 384.8h10v10h-10zM295.2 394.8h10v10h-10zM285.2 414.8h10v10h-10zM275.2 434.8h10v10h-10z"/><path fill="#ffd5c6" d="M265.2 354.8h20v10h-20zM265.2 364.8h10v10h-10zM515.2 364.8h20v10h-20zM275.2 374.8h10v10h-10zM345.2 374.8h10v10h-10zM305.2 394.8h10v10h-10zM295.2 404.8h10v10h-10zM275.2 444.8h10v10h-10z"/><path fill="#ffd1c1" d="M275.2 364.8h10v10h-10zM535.2 364.8h10v10h-10zM355.2 374.8h10v10h-10zM425.2 374.8h50v10h-50zM335.2 384.8h10v10h-10zM315.2 394.8h10v10h-10zM285.2 424.8h10v10h-10zM275.2 454.8h10v10h-10z"/><path fill="#ffcdbc" d="M545.2 364.8h10v10h-10zM365.2 374.8h60v10h-60zM475.2 374.8h40v10h-40zM295.2 414.8h10v10h-10zM275.2 464.8h10v10h-10z"/><path fill="#ffc9b7" d="M515.2 374.8h20v10h-20zM345.2 384.8h10v10h-10zM325.2 394.8h10v10h-10zM305.2 404.8h10v10h-10zM285.2 434.8h10v10h-10z"/><path fill="#ffc6b2" d="M535.2 374.8h20v10h-20zM355.2 384.8h10v10h-10z"/><path fill="#ffc2ad" d="M365.2 384.8h20v10h-20zM395.2 384.8h110v10h-110zM335.2 394.8h10v10h-10zM315.2 404.8h10v10h-10zM295.2 424.8h10v10h-10zM285.2 444.8h10v10h-10z"/><path fill="#ffbea8" d="M385.2 384.8h10v10h-10zM505.2 384.8h30v10h-30zM305.2 414.8h10v10h-10zM285.2 454.8h10v10h-10z"/><path fill="#ffbaa3" d="M535.2 384.8h20v10h-20zM345.2 394.8h10v10h-10zM325.2 404.8h10v10h-10zM285.2 464.8h10v10h-10z"/><path fill="#ffb69e" d="M355.2 394.8h20v10h-20zM425.2 394.8h80v10h-80zM295.2 434.8h10v10h-10z"/><path fill="#ffb299" d="M375.2 394.8h50v10h-50zM505.2 394.8h40v10h-40zM335.2 404.8h10v10h-10zM315.2 414.8h10v10h-10zM305.2 424.8h10v10h-10z"/><path fill="#ffae95" d="M545.2 394.8h10v10h-10zM345.2 404.8h10v10h-10zM295.2 444.8h10v10h-10z"/><path fill="#ffaa90" d="M355.2 404.8h10v10h-10zM445.2 404.8h70v10h-70zM325.2 414.8h10v10h-10zM295.2 454.8h10v10h-10z"/><path fill="#ffa68b" d="M365.2 404.8h80v10h-80zM515.2 404.8h40v10h-40zM315.2 424.8h10v10h-10zM305.2 434.8h10v10h-10zM295.2 464.8h10v10h-10z"/><path fill="#ffa286" d="M335.2 414.8h10v10h-10z"/><path fill="#ff9e81" d="M345.2 414.8h10v10h-10zM455.2 414.8h70v10h-70zM325.2 424.8h10v10h-10zM305.2 444.8h10v10h-10z"/><path fill="#ff9a7c" d="M355.2 414.8h30v10h-30zM395.2 414.8h60v10h-60zM525.2 414.8h30v10h-30zM315.2 434.8h10v10h-10zM305.2 454.8h10v10h-10z"/><path fill="#ff9678" d="M385.2 414.8h10v10h-10zM335.2 424.8h10v10h-10zM305.2 464.8h10v10h-10z"/><path fill="#ff9273" d="M345.2 424.8h10v10h-10zM455.2 424.8h90v10h-90zM325.2 434.8h10v10h-10zM315.2 444.8h10v10h-10z"/><path fill="#ff8d6e" d="M355.2 424.8h100v10h-100zM545.2 424.8h10v10h-10zM315.2 454.8h10v10h-10z"/><path fill="#ff8969" d="M335.2 434.8h10v10h-10zM325.2 444.8h10v10h-10zM315.2 464.8h10v10h-10z"/><path fill="#ff8565" d="M345.2 434.8h20v10h-20zM445.2 434.8h110v10h-110z"/><path fill="#ff8160" d="M365.2 434.8h80v10h-80zM335.2 444.8h10v10h-10zM325.2 454.8h10v10h-10z"/><path fill="#ff7c5b" d="M345.2 444.8h10v10h-10zM475.2 444.8h80v10h-80zM335.2 454.8h10v10h-10zM325.2 464.8h10v10h-10z"/><path fill="#ff7857" d="M355.2 444.8h30v10h-30zM415.2 444.8h60v10h-60z"/><path fill="#ff7352" d="M385.2 444.8h30v10h-30zM345.2 454.8h10v10h-10zM335.2 464.8h10v10h-10z"/><path fill="#ff6f4d" d="M355.2 454.8h20v10h-20zM445.2 454.8h110v10h-110zM345.2 464.8h10v10h-10z"/><path fill="#ff6a49" d="M375.2 454.8h70v10h-70zM355.2 464.8h10v10h-10z"/><path fill="#ff6544" d="M365.2 464.8h20v10h-20zM455.2 464.8h100v10h-100z"/><path fill="#ff603f" d="M385.2 464.8h70v10h-70z"/></g></g>
<g clip-path="url(#clipA)"><path d="M553 104L540 112L525 115L515 120L508 127L500 135L493 138L486 141L478 146L470 150L462 152L458 158L460 164L468 160L478 156L488 151L498 141L505 138L513 134L525 130L540 122L553 112Z" fill="#ffffff" fill-opacity="0.7"/><path d="M447 185L440 190L434 196L429 202L428 206L433 205L440 200L447 194L452 189Z" fill="#ffffff" fill-opacity="0.7"/><path d="M452 189L460 185L472 181L485 178L495 176L505 172L507 168L495 172L483 175L470 178L458 182L448 187Z" fill="#ffffff" fill-opacity="0.7"/><path d="M487 190L476 187L470 196L462 203L455 212L445 222L436 232L428 246L418 257L411 270L405 285L396 297L385 306L372 312L362 322L375 330L395 320L415 295L435 275L445 255L455 235L465 220L478 205L487 195Z" fill="#ffffff" fill-opacity="0.7"/><path d="M372 312L362 322L350 334L336 344L323 356L314 370L311 390L312 420L314 445.7L321 445.7L318 420L318 395L322 380L330 368L345 356L360 342L375 330Z" fill="#ffffff" fill-opacity="0.7"/><path d="M192 445.7L200 438L210 430L218 424L224 419L226 428L222 440L222 445.7Z" fill="#ffffff" fill-opacity="0.85"/><path d="M233 421L236 423L233 432L229 438L227 436L230 428Z" fill="#ffffff"/><path d="M553.3 110.5L549.4 114.9L545.1 122.5L539.6 129L533.2 132.2L527.2 131.2L516.8 138.6L513.8 144.6L513 149.8L507.1 155L501.9 155.7L504.1 141.6L501.9 139.4L498.1 140.8L491.4 151.3L487 151.3L479.5 155.7L473.6 160.2L472.8 163.9L478 166.1L485.5 167.6L472.1 172.1L461.7 175.1L454.2 178.8L448.3 184.8L447.5 189.2L452.7 189.2L461.7 184L472.1 180.3L483.3 177.3L492.9 175.1L501.9 172.1L507.8 169.6L501.9 175.1L490.7 179.5L483.3 187L476.6 191.4L473.6 195.9L476.6 201.9L474.9 210.6L461.8 220.5L453.6 228.6L452 243.4L445.5 247.5L443.8 255.6L437.3 265.5L436.5 275.3L429.1 281L420.9 284.3L414.4 286.7L420.9 290.8L412.7 298.2L404.5 306.4L396.4 318.7L393.5 322.2L384.2 320.3L374.8 324L373.9 331.5L365.5 334.3L367.4 338.1L360.8 344.6L350.5 349.3L347.7 356.8L339.3 360.5L337.4 364.3L328.1 368L321.5 375.5L317.8 384.8L316.8 394.2L315.9 412.9L318.7 426.9L317.8 439.1L319.6 445.6L318.7 450.3L319.6 465.3L544.9 465.3L546.6 459.4L551.9 453.2L550.1 444.4L544.9 437.4L537.8 432.2L533.5 426L529.1 425.2L523.8 423.4L522 407.6L522 393.6L525.6 390.1L526.4 379.6L529.5 373L526.4 368.2L530.8 366.4L536.1 361.2L536.1 356.8L543.1 352.4L546.6 343.7L553.3 341Z" fill="#ffffff" stroke="#fff" stroke-width="4" stroke-linejoin="round"/><path d="M553.3 110.5L549.4 114.9L545.1 122.5L539.6 129L533.2 132.2L527.2 131.2L516.8 138.6L513.8 144.6L513 149.8L507.1 155L501.9 155.7L504.1 141.6L501.9 139.4L498.1 140.8L491.4 151.3L487 151.3L479.5 155.7L473.6 160.2L472.8 163.9L478 166.1L485.5 167.6L472.1 172.1L461.7 175.1L454.2 178.8L448.3 184.8L447.5 189.2L452.7 189.2L461.7 184L472.1 180.3L483.3 177.3L492.9 175.1L501.9 172.1L507.8 169.6L501.9 175.1L490.7 179.5L483.3 187L476.6 191.4L473.6 195.9L476.6 201.9L474.9 210.6L461.8 220.5L453.6 228.6L452 243.4L445.5 247.5L443.8 255.6L437.3 265.5L436.5 275.3L429.1 281L420.9 284.3L414.4 286.7L420.9 290.8L412.7 298.2L404.5 306.4L396.4 318.7L393.5 322.2L384.2 320.3L374.8 324L373.9 331.5L365.5 334.3L367.4 338.1L360.8 344.6L350.5 349.3L347.7 356.8L339.3 360.5L337.4 364.3L328.1 368L321.5 375.5L317.8 384.8L316.8 394.2L315.9 412.9L318.7 426.9L317.8 439.1L319.6 445.6L318.7 450.3L319.6 465.3L544.9 465.3L546.6 459.4L551.9 453.2L550.1 444.4L544.9 437.4L537.8 432.2L533.5 426L529.1 425.2L523.8 423.4L522 407.6L522 393.6L525.6 390.1L526.4 379.6L529.5 373L526.4 368.2L530.8 366.4L536.1 361.2L536.1 356.8L543.1 352.4L546.6 343.7L553.3 341Z" fill="#D3D3D3"/><path d="M223.7 417.2L225.7 418.8L225.3 424.5L221.7 426.1L221.3 430.2L220.9 435.5L219.2 441.5L218 449.7L216 451.3L214.4 449.7L214.4 443.6L211.5 440.3L209.1 437.5L209.9 435L212.7 433.4L210.3 430.2L211.9 426.1L218.4 422.9L220.9 419.6Z" fill="#D3D3D3"/></g>
<g clip-path="url(#clipA)" fill="#000"><circle cx="237.1" cy="293.5" r="3.5"/><circle cx="313.6" cy="292.7" r="3.5"/><circle cx="316.2" cy="291.4" r="3.5"/><circle cx="265.3" cy="319.1" r="3.5"/><circle cx="272.4" cy="332.6" r="3.5"/><circle cx="261.9" cy="336.8" r="3.5"/><circle cx="299.3" cy="331.5" r="3.5"/><circle cx="277.4" cy="356.9" r="3.5"/><circle cx="285.9" cy="414.1" r="3.5"/><circle cx="418.9" cy="170.0" r="3.5"/><circle cx="444.2" cy="157.7" r="3.5"/><circle cx="470.1" cy="145.8" r="3.5"/><circle cx="471.4" cy="119.4" r="3.5"/><circle cx="476.6" cy="126.0" r="3.5"/><circle cx="484.0" cy="132.8" r="3.5"/><circle cx="283.2" cy="331.8" r="3.5"/><circle cx="286.2" cy="334.5" r="3.5"/><circle cx="289.3" cy="337.2" r="3.5"/><circle cx="292.3" cy="339.9" r="3.5"/><circle cx="295.3" cy="342.7" r="3.5"/><circle cx="298.3" cy="345.4" r="3.5"/><circle cx="301.4" cy="348.1" r="3.5"/><circle cx="304.4" cy="350.8" r="3.5"/></g>
<text x="119.6" y="455.3" text-anchor="end" class="tk">60.0</text>
<text x="119.6" y="373.9" text-anchor="end" class="tk">62.5</text>
<text x="119.6" y="292.4" text-anchor="end" class="tk">65.0</text>
<text x="119.6" y="210.9" text-anchor="end" class="tk">67.5</text>
<text x="119.6" y="129.5" text-anchor="end" class="tk">70.0</text>
<text x="119.6" y="48" text-anchor="end" class="tk">72.5</text>
<text x="155.2" y="500.7" text-anchor="middle" class="tk">-5</text>
<text x="237.3" y="500.7" text-anchor="middle" class="tk">0</text>
<text x="319.4" y="500.7" text-anchor="middle" class="tk">5</text>
<text x="401.5" y="500.7" text-anchor="middle" class="tk">10</text>
<text x="483.6" y="500.7" text-anchor="middle" class="tk">15</text>
<text x="344.7" y="539.2" text-anchor="middle" class="ti">Lon</text>
<text transform="translate(52.8,250.2) rotate(-90)" text-anchor="middle" class="ti">Lat</text>
<text x="-0.5" y="24.1" class="pl">A</text>
<line x1="805.5" y1="35" x2="805.5" y2="464.8" stroke="#EBEBEB" stroke-width="1.3"/>
<line x1="960.5" y1="35" x2="960.5" y2="464.8" stroke="#EBEBEB" stroke-width="1.3"/>
<line x1="1115.5" y1="35" x2="1115.5" y2="464.8" stroke="#EBEBEB" stroke-width="1.3"/>
<line x1="1270.5" y1="35" x2="1270.5" y2="464.8" stroke="#EBEBEB" stroke-width="1.3"/>
<line x1="701.8" y1="445.9" x2="1297.6" y2="445.9" stroke="#EBEBEB" stroke-width="1.3"/>
<line x1="701.8" y1="348.1" x2="1297.6" y2="348.1" stroke="#EBEBEB" stroke-width="1.3"/>
<line x1="701.8" y1="250.3" x2="1297.6" y2="250.3" stroke="#EBEBEB" stroke-width="1.3"/>
<line x1="701.8" y1="152.5" x2="1297.6" y2="152.5" stroke="#EBEBEB" stroke-width="1.3"/>
<line x1="701.8" y1="54.7" x2="1297.6" y2="54.7" stroke="#EBEBEB" stroke-width="1.3"/>
<line x1="728" y1="35" x2="728" y2="464.8" stroke="#EBEBEB" stroke-width="2.6"/>
<line x1="883" y1="35" x2="883" y2="464.8" stroke="#EBEBEB" stroke-width="2.6"/>
<line x1="1038" y1="35" x2="1038" y2="464.8" stroke="#EBEBEB" stroke-width="2.6"/>
<line x1="1193" y1="35" x2="1193" y2="464.8" stroke="#EBEBEB" stroke-width="2.6"/>
<line x1="701.8" y1="397" x2="1297.6" y2="397" stroke="#EBEBEB" stroke-width="2.6"/>
<line x1="701.8" y1="299.2" x2="1297.6" y2="299.2" stroke="#EBEBEB" stroke-width="2.6"/>
<line x1="701.8" y1="201.4" x2="1297.6" y2="201.4" stroke="#EBEBEB" stroke-width="2.6"/>
<line x1="701.8" y1="103.6" x2="1297.6" y2="103.6" stroke="#EBEBEB" stroke-width="2.6"/>
<g clip-path="url(#rcB)"><g filter="url(#blB)" shape-rendering="crispEdges"><path fill="#6495ed" d="M1176 398.5h8v8h-8zM1168 438.5h8v8h-8zM1160 446.5h32v8h-32zM1160 454.5h32v8h-32z"/><path fill="#6897ed" d="M1176 382.5h8v8h-8zM1168 390.5h16v8h-16zM1168 398.5h8v8h-8zM1168 406.5h16v8h-16zM1168 414.5h16v8h-16zM1168 422.5h16v8h-16zM1160 430.5h24v8h-24zM1160 438.5h8v8h-8zM1176 438.5h8v8h-8zM1192 446.5h8v8h-8zM1192 454.5h8v8h-8z"/><path fill="#6c99ee" d="M1176 366.5h8v8h-8zM1168 374.5h16v8h-16zM1168 382.5h8v8h-8zM1160 390.5h8v8h-8zM1184 390.5h8v8h-8zM1160 398.5h8v8h-8zM1184 398.5h8v8h-8zM1160 406.5h8v8h-8zM1184 406.5h8v8h-8zM1160 414.5h8v8h-8zM1152 422.5h16v8h-16zM1152 430.5h8v8h-8zM1152 438.5h8v8h-8z"/><path fill="#709bee" d="M1176 350.5h8v8h-8zM1168 358.5h16v8h-16zM1168 366.5h8v8h-8zM1160 374.5h8v8h-8zM1184 374.5h8v8h-8zM1160 382.5h8v8h-8zM1184 382.5h8v8h-8zM1152 398.5h8v8h-8zM1152 406.5h8v8h-8zM1152 414.5h8v8h-8zM1184 414.5h8v8h-8zM1144 422.5h8v8h-8zM1184 422.5h8v8h-8zM1144 430.5h8v8h-8zM1184 430.5h8v8h-8zM1144 438.5h8v8h-8zM1184 438.5h8v8h-8zM1128 446.5h32v8h-32zM1128 454.5h32v8h-32z"/><path fill="#749def" d="M1168 342.5h16v8h-16zM1168 350.5h8v8h-8zM1160 358.5h8v8h-8zM1160 366.5h8v8h-8zM1184 366.5h8v8h-8zM1152 382.5h8v8h-8zM1152 390.5h8v8h-8zM1192 398.5h8v8h-8zM1144 406.5h8v8h-8zM1144 414.5h8v8h-8zM1136 430.5h8v8h-8zM1136 438.5h8v8h-8zM1192 438.5h8v8h-8zM1120 454.5h8v8h-8z"/><path fill="#789fef" d="M1168 334.5h16v8h-16zM1160 342.5h8v8h-8zM1160 350.5h8v8h-8zM1152 358.5h8v8h-8zM1184 358.5h8v8h-8zM1152 366.5h8v8h-8zM1152 374.5h8v8h-8zM1192 382.5h8v8h-8zM1144 390.5h8v8h-8zM1192 390.5h8v8h-8zM1144 398.5h8v8h-8zM1192 406.5h8v8h-8zM1192 414.5h8v8h-8zM1136 422.5h8v8h-8zM1192 422.5h8v8h-8zM1192 430.5h8v8h-8zM1120 446.5h8v8h-8z"/><path fill="#7ba1ef" d="M1168 326.5h16v8h-16zM1160 334.5h8v8h-8zM1184 334.5h8v8h-8zM1152 342.5h8v8h-8zM1184 342.5h8v8h-8zM1152 350.5h8v8h-8zM1184 350.5h8v8h-8zM1144 374.5h8v8h-8zM1192 374.5h8v8h-8zM1144 382.5h8v8h-8zM1136 414.5h8v8h-8zM1200 430.5h8v8h-8zM1128 438.5h8v8h-8z"/><path fill="#7fa3f0" d="M1168 318.5h16v8h-16zM1160 326.5h8v8h-8zM1184 326.5h8v8h-8zM1152 334.5h8v8h-8zM1144 358.5h8v8h-8zM1144 366.5h8v8h-8zM1200 390.5h8v8h-8zM1200 398.5h8v8h-8zM1136 406.5h8v8h-8zM1200 406.5h8v8h-8zM1200 414.5h8v8h-8zM1200 422.5h8v8h-8zM1128 430.5h8v8h-8zM1200 438.5h8v8h-8z"/><path fill="#83a5f0" d="M1168 310.5h8v8h-8zM1160 318.5h8v8h-8zM1184 318.5h8v8h-8zM1152 326.5h8v8h-8zM1192 326.5h8v8h-8zM1144 334.5h8v8h-8zM1192 334.5h8v8h-8zM1144 342.5h8v8h-8zM1144 350.5h8v8h-8zM1192 366.5h8v8h-8zM1200 382.5h8v8h-8zM1136 390.5h8v8h-8zM1136 398.5h8v8h-8zM1128 422.5h8v8h-8zM1208 430.5h8v8h-8zM1120 438.5h8v8h-8zM1208 438.5h8v8h-8z"/><path fill="#86a7f1" d="M1168 302.5h8v8h-8zM1160 310.5h8v8h-8zM1176 310.5h8v8h-8zM1152 318.5h8v8h-8zM1144 326.5h8v8h-8zM1192 342.5h8v8h-8zM1192 358.5h8v8h-8zM1136 374.5h8v8h-8zM1136 382.5h8v8h-8zM1208 406.5h8v8h-8zM1128 414.5h8v8h-8zM1208 414.5h8v8h-8zM1208 422.5h8v8h-8zM1200 446.5h8v8h-8zM1200 454.5h8v8h-8z"/><path fill="#89a9f1" d="M1160 302.5h8v8h-8zM1152 310.5h8v8h-8zM1184 310.5h8v8h-8zM1144 318.5h8v8h-8zM1192 318.5h8v8h-8zM1136 350.5h8v8h-8zM1192 350.5h8v8h-8zM1136 358.5h8v8h-8zM1136 366.5h8v8h-8zM1200 374.5h8v8h-8zM1208 398.5h8v8h-8zM1128 406.5h8v8h-8zM1120 430.5h8v8h-8zM1208 446.5h16v8h-16zM1208 454.5h16v8h-16z"/><path fill="#8dabf2" d="M1176 302.5h8v8h-8zM1136 326.5h8v8h-8zM1200 326.5h8v8h-8zM1136 334.5h8v8h-8zM1200 334.5h8v8h-8zM1136 342.5h8v8h-8zM1128 390.5h8v8h-8zM1208 390.5h8v8h-8zM1128 398.5h8v8h-8zM1120 422.5h8v8h-8zM1216 438.5h8v8h-8z"/><path fill="#90adf2" d="M1160 294.5h16v8h-16zM1152 302.5h8v8h-8zM1144 310.5h8v8h-8zM1192 310.5h8v8h-8zM1136 318.5h8v8h-8zM1200 342.5h8v8h-8zM1128 366.5h8v8h-8zM1200 366.5h8v8h-8zM1128 374.5h8v8h-8zM1128 382.5h8v8h-8zM1120 414.5h8v8h-8zM1112 430.5h8v8h-8zM1216 430.5h8v8h-8zM1112 438.5h8v8h-8zM1224 454.5h8v8h-8z"/><path fill="#93aff2" d="M1160 286.5h8v8h-8zM1152 294.5h8v8h-8zM1176 294.5h8v8h-8zM1184 302.5h8v8h-8zM1200 318.5h8v8h-8zM1128 342.5h8v8h-8zM1128 350.5h8v8h-8zM1200 350.5h8v8h-8zM1128 358.5h8v8h-8zM1208 382.5h8v8h-8zM1120 406.5h8v8h-8zM1112 422.5h8v8h-8zM1216 422.5h8v8h-8zM1224 446.5h8v8h-8z"/><path fill="#97b1f3" d="M1168 286.5h8v8h-8zM1144 302.5h8v8h-8zM1136 310.5h8v8h-8zM1128 318.5h8v8h-8zM1128 326.5h8v8h-8zM1128 334.5h8v8h-8zM1200 358.5h8v8h-8zM1120 390.5h8v8h-8zM1120 398.5h8v8h-8zM1112 414.5h8v8h-8zM1216 414.5h8v8h-8zM1104 438.5h8v8h-8zM1112 446.5h8v8h-8z"/><path fill="#9ab3f3" d="M1160 278.5h8v8h-8zM1152 286.5h8v8h-8zM1144 294.5h8v8h-8zM1136 302.5h8v8h-8zM1192 302.5h8v8h-8zM1200 310.5h8v8h-8zM1208 326.5h8v8h-8zM1208 334.5h8v8h-8zM1120 358.5h8v8h-8zM1120 366.5h8v8h-8zM1120 374.5h8v8h-8zM1208 374.5h8v8h-8zM1120 382.5h8v8h-8zM1216 398.5h8v8h-8zM1112 406.5h8v8h-8zM1216 406.5h8v8h-8zM1104 430.5h8v8h-8zM1112 454.5h8v8h-8z"/><path fill="#9db5f3" d="M1152 278.5h8v8h-8zM1144 286.5h8v8h-8zM1176 286.5h8v8h-8zM1184 294.5h8v8h-8zM1128 310.5h8v8h-8zM1120 334.5h8v8h-8zM1120 342.5h8v8h-8zM1208 342.5h8v8h-8zM1120 350.5h8v8h-8zM1216 390.5h8v8h-8zM1112 398.5h8v8h-8zM1104 422.5h8v8h-8zM1096 438.5h8v8h-8zM1224 438.5h8v8h-8zM1080 446.5h32v8h-32zM1072 454.5h40v8h-40z"/><path fill="#a0b7f4" d="M1152 270.5h8v8h-8zM1144 278.5h8v8h-8zM1168 278.5h8v8h-8zM1136 294.5h8v8h-8zM1128 302.5h8v8h-8zM1120 318.5h8v8h-8zM1208 318.5h8v8h-8zM1120 326.5h8v8h-8zM1208 350.5h8v8h-8zM1208 366.5h8v8h-8zM1112 374.5h8v8h-8zM1112 382.5h8v8h-8zM1112 390.5h8v8h-8zM1104 414.5h8v8h-8zM1096 430.5h8v8h-8z"/><path fill="#a3baf4" d="M1160 270.5h8v8h-8zM1136 286.5h8v8h-8zM1192 294.5h8v8h-8zM1200 302.5h8v8h-8zM1120 310.5h8v8h-8zM1112 350.5h8v8h-8zM1112 358.5h8v8h-8zM1208 358.5h8v8h-8zM1112 366.5h8v8h-8zM1216 382.5h8v8h-8zM1104 406.5h8v8h-8zM1096 422.5h8v8h-8zM1224 430.5h8v8h-8zM1088 438.5h8v8h-8zM1072 446.5h8v8h-8z"/><path fill="#a7bcf5" d="M1152 262.5h8v8h-8zM1144 270.5h8v8h-8zM1136 278.5h8v8h-8zM1176 278.5h8v8h-8zM1184 286.5h8v8h-8zM1128 294.5h8v8h-8zM1120 302.5h8v8h-8zM1208 310.5h8v8h-8zM1112 326.5h8v8h-8zM1112 334.5h8v8h-8zM1112 342.5h8v8h-8zM1104 398.5h8v8h-8zM1224 422.5h8v8h-8zM1064 454.5h8v8h-8z"/><path fill="#aabef5" d="M1144 262.5h8v8h-8zM1136 270.5h8v8h-8zM1168 270.5h8v8h-8zM1128 286.5h8v8h-8zM1200 294.5h8v8h-8zM1112 310.5h8v8h-8zM1112 318.5h8v8h-8zM1216 326.5h8v8h-8zM1216 334.5h8v8h-8zM1216 342.5h8v8h-8zM1216 350.5h8v8h-8zM1104 366.5h8v8h-8zM1104 374.5h8v8h-8zM1216 374.5h8v8h-8zM1104 382.5h8v8h-8zM1104 390.5h8v8h-8zM1096 414.5h8v8h-8zM1224 414.5h8v8h-8zM1088 430.5h8v8h-8zM1080 438.5h8v8h-8z"/><path fill="#adc0f5" d="M1160 246.5h8v8h-8zM1144 254.5h24v8h-24zM1136 262.5h8v8h-8zM1160 262.5h8v8h-8zM1128 278.5h8v8h-8zM1192 286.5h8v8h-8zM1120 294.5h8v8h-8zM1112 302.5h8v8h-8zM1208 302.5h8v8h-8zM1104 342.5h8v8h-8zM1104 350.5h8v8h-8zM1104 358.5h8v8h-8zM1216 358.5h8v8h-8zM1096 406.5h8v8h-8zM1224 406.5h8v8h-8zM1088 422.5h8v8h-8zM1072 438.5h8v8h-8z"/><path fill="#b0c2f6" d="M1168 238.5h24v8h-24zM1152 246.5h8v8h-8zM1168 246.5h16v8h-16zM1168 254.5h8v8h-8zM1128 270.5h8v8h-8zM1176 270.5h8v8h-8zM1184 278.5h8v8h-8zM1120 286.5h8v8h-8zM1112 294.5h8v8h-8zM1104 318.5h8v8h-8zM1216 318.5h8v8h-8zM1104 326.5h8v8h-8zM1104 334.5h8v8h-8zM1216 366.5h8v8h-8zM1096 382.5h8v8h-8zM1096 390.5h8v8h-8zM1224 390.5h8v8h-8zM1096 398.5h8v8h-8zM1224 398.5h8v8h-8zM1088 414.5h8v8h-8zM1080 430.5h8v8h-8z"/><path fill="#b3c4f6" d="M1176 230.5h24v8h-24zM1160 238.5h8v8h-8zM1192 238.5h8v8h-8zM1144 246.5h8v8h-8zM1184 246.5h8v8h-8zM1136 254.5h8v8h-8zM1176 254.5h8v8h-8zM1128 262.5h8v8h-8zM1168 262.5h8v8h-8zM1120 278.5h8v8h-8zM1200 286.5h8v8h-8zM1104 302.5h8v8h-8zM1104 310.5h8v8h-8zM1096 358.5h8v8h-8zM1096 366.5h8v8h-8zM1096 374.5h8v8h-8zM1224 382.5h8v8h-8zM1088 406.5h8v8h-8zM1232 438.5h8v8h-8z"/><path fill="#b6c6f6" d="M1152 238.5h8v8h-8zM1136 246.5h8v8h-8zM1192 246.5h8v8h-8zM1184 254.5h8v8h-8zM1176 262.5h8v8h-8zM1120 270.5h8v8h-8zM1184 270.5h8v8h-8zM1192 278.5h8v8h-8zM1112 286.5h8v8h-8zM1104 294.5h8v8h-8zM1208 294.5h8v8h-8zM1216 310.5h8v8h-8zM1096 334.5h8v8h-8zM1096 342.5h8v8h-8zM1096 350.5h8v8h-8zM1088 390.5h8v8h-8zM1088 398.5h8v8h-8zM1080 422.5h8v8h-8zM1072 430.5h8v8h-8zM1232 430.5h8v8h-8zM1064 438.5h8v8h-8z"/><path fill="#b9c8f7" d="M1184 222.5h16v8h-16zM1168 230.5h8v8h-8zM1144 238.5h8v8h-8zM1128 254.5h8v8h-8zM1192 254.5h8v8h-8zM1120 262.5h8v8h-8zM1184 262.5h8v8h-8zM1112 278.5h8v8h-8zM1096 310.5h8v8h-8zM1096 318.5h8v8h-8zM1096 326.5h8v8h-8zM1224 326.5h8v8h-8zM1224 334.5h8v8h-8zM1224 342.5h8v8h-8zM1224 350.5h8v8h-8zM1224 358.5h8v8h-8zM1088 374.5h8v8h-8zM1224 374.5h8v8h-8zM1088 382.5h8v8h-8zM1080 414.5h8v8h-8zM1232 422.5h8v8h-8z"/><path fill="#bccaf7" d="M1176 222.5h8v8h-8zM1160 230.5h8v8h-8zM1136 238.5h8v8h-8zM1200 238.5h8v8h-8zM1128 246.5h8v8h-8zM1200 246.5h8v8h-8zM1192 262.5h8v8h-8zM1112 270.5h8v8h-8zM1192 270.5h8v8h-8zM1200 278.5h8v8h-8zM1104 286.5h8v8h-8zM1208 286.5h8v8h-8zM1096 294.5h8v8h-8zM1096 302.5h8v8h-8zM1216 302.5h8v8h-8zM1088 350.5h8v8h-8zM1088 358.5h8v8h-8zM1088 366.5h8v8h-8zM1224 366.5h8v8h-8zM1080 382.5h8v8h-8zM1080 390.5h8v8h-8zM1080 398.5h8v8h-8zM1080 406.5h8v8h-8zM1232 414.5h8v8h-8zM1072 422.5h8v8h-8zM1064 430.5h8v8h-8zM1056 438.5h8v8h-8z"/><path fill="#bfcdf8" d="M1168 222.5h8v8h-8zM1152 230.5h8v8h-8zM1200 230.5h8v8h-8zM1128 238.5h8v8h-8zM1120 254.5h8v8h-8zM1200 254.5h8v8h-8zM1112 262.5h8v8h-8zM1200 262.5h8v8h-8zM1104 278.5h8v8h-8zM1224 318.5h8v8h-8zM1088 326.5h8v8h-8zM1088 334.5h8v8h-8zM1088 342.5h8v8h-8zM1080 374.5h8v8h-8zM1232 398.5h8v8h-8zM1232 406.5h8v8h-8zM1072 414.5h8v8h-8zM1056 430.5h8v8h-8zM1048 438.5h8v8h-8z"/><path fill="#c1cff8" d="M1184 214.5h16v8h-16zM1160 222.5h8v8h-8zM1136 230.5h16v8h-16zM1120 246.5h8v8h-8zM1112 254.5h8v8h-8zM1104 270.5h8v8h-8zM1200 270.5h8v8h-8zM1208 278.5h8v8h-8zM1096 286.5h8v8h-8zM1088 302.5h8v8h-8zM1088 310.5h8v8h-8zM1088 318.5h8v8h-8zM1080 366.5h8v8h-8zM1072 374.5h8v8h-8zM1072 382.5h8v8h-8zM1072 390.5h8v8h-8zM1232 390.5h8v8h-8zM1072 398.5h8v8h-8zM1072 406.5h8v8h-8zM1064 422.5h8v8h-8zM1064 446.5h8v8h-8z"/><path fill="#c4d1f8" d="M1176 214.5h8v8h-8zM1152 222.5h8v8h-8zM1128 230.5h8v8h-8zM1104 262.5h8v8h-8zM1096 278.5h8v8h-8zM1088 294.5h8v8h-8zM1216 294.5h8v8h-8zM1080 342.5h8v8h-8zM1080 350.5h8v8h-8zM1080 358.5h8v8h-8zM1072 366.5h8v8h-8zM1064 382.5h8v8h-8zM1232 382.5h8v8h-8zM1064 390.5h8v8h-8zM1048 430.5h8v8h-8zM1240 430.5h8v8h-8zM1040 438.5h8v8h-8zM1240 438.5h8v8h-8zM1232 446.5h8v8h-8z"/><path fill="#c7d3f9" d="M1168 214.5h8v8h-8zM1144 222.5h8v8h-8zM1200 222.5h8v8h-8zM1120 238.5h8v8h-8zM1112 246.5h8v8h-8zM1208 262.5h8v8h-8zM1096 270.5h8v8h-8zM1208 270.5h8v8h-8zM1224 310.5h8v8h-8zM1080 318.5h8v8h-8zM1080 326.5h8v8h-8zM1080 334.5h8v8h-8zM1232 350.5h8v8h-8zM1072 358.5h8v8h-8zM1232 358.5h8v8h-8zM1232 366.5h8v8h-8zM1064 374.5h8v8h-8zM1232 374.5h8v8h-8zM1064 398.5h8v8h-8zM1064 406.5h8v8h-8zM1064 414.5h8v8h-8zM1056 422.5h8v8h-8zM1240 422.5h8v8h-8zM1056 454.5h8v8h-8zM1232 454.5h8v8h-8z"/><path fill="#cad5f9" d="M1184 206.5h8v8h-8zM1160 214.5h8v8h-8zM1136 222.5h8v8h-8zM1104 254.5h8v8h-8zM1216 286.5h8v8h-8zM1080 302.5h8v8h-8zM1080 310.5h8v8h-8zM1232 334.5h8v8h-8zM1232 342.5h8v8h-8zM1072 350.5h8v8h-8zM1064 366.5h8v8h-8zM1056 374.5h8v8h-8zM1056 382.5h8v8h-8zM1056 390.5h8v8h-8zM1056 398.5h8v8h-8zM1240 414.5h8v8h-8zM1048 422.5h8v8h-8zM1040 430.5h8v8h-8zM1032 438.5h8v8h-8zM1048 446.5h16v8h-16z"/><path fill="#cdd7f9" d="M1176 206.5h8v8h-8zM1152 214.5h8v8h-8zM1128 222.5h8v8h-8zM1120 230.5h8v8h-8zM1208 254.5h8v8h-8zM1096 262.5h8v8h-8zM1088 286.5h8v8h-8zM1080 294.5h8v8h-8zM1072 326.5h8v8h-8zM1072 334.5h8v8h-8zM1072 342.5h8v8h-8zM1064 358.5h8v8h-8zM1056 366.5h8v8h-8zM1056 406.5h8v8h-8zM1240 406.5h8v8h-8zM1056 414.5h8v8h-8zM1032 430.5h8v8h-8zM1024 438.5h8v8h-8zM1040 446.5h8v8h-8zM1240 446.5h16v8h-16zM1040 454.5h16v8h-16zM1240 454.5h16v8h-16z"/><path fill="#d0d9fa" d="M1168 206.5h8v8h-8zM1192 206.5h8v8h-8zM1112 238.5h8v8h-8zM1072 302.5h8v8h-8zM1224 302.5h8v8h-8zM1072 310.5h8v8h-8zM1072 318.5h8v8h-8zM1232 326.5h8v8h-8zM1064 342.5h8v8h-8zM1064 350.5h8v8h-8zM1056 358.5h8v8h-8zM1048 366.5h8v8h-8zM1048 374.5h8v8h-8zM1048 382.5h8v8h-8zM1048 390.5h8v8h-8zM1240 390.5h8v8h-8zM1048 398.5h8v8h-8zM1240 398.5h8v8h-8zM1048 406.5h8v8h-8zM1048 414.5h8v8h-8zM1040 422.5h8v8h-8zM1016 438.5h8v8h-8z"/><path fill="#d3dcfa" d="M1144 214.5h8v8h-8zM1200 214.5h8v8h-8zM1104 246.5h8v8h-8zM1208 246.5h8v8h-8zM1096 254.5h8v8h-8zM1216 278.5h8v8h-8zM1064 334.5h8v8h-8zM1056 350.5h8v8h-8zM1048 358.5h8v8h-8zM1240 382.5h8v8h-8zM1040 406.5h8v8h-8zM1032 414.5h16v8h-16zM1032 422.5h8v8h-8zM1024 430.5h8v8h-8zM1248 438.5h8v8h-8zM1256 454.5h8v8h-8z"/><path fill="#d6defa" d="M1184 198.5h8v8h-8zM1136 214.5h8v8h-8zM1208 238.5h8v8h-8zM1088 278.5h8v8h-8zM1080 286.5h8v8h-8zM1072 294.5h8v8h-8zM1064 318.5h8v8h-8zM1064 326.5h8v8h-8zM1056 342.5h8v8h-8zM1048 350.5h8v8h-8zM1040 358.5h8v8h-8zM1040 366.5h8v8h-8zM1040 374.5h8v8h-8zM1040 382.5h8v8h-8zM1040 390.5h8v8h-8zM1040 398.5h8v8h-8zM1032 406.5h8v8h-8zM1024 414.5h8v8h-8zM1016 422.5h16v8h-16zM1008 430.5h16v8h-16zM1248 430.5h8v8h-8zM1008 438.5h8v8h-8zM1024 446.5h16v8h-16zM1256 446.5h8v8h-8z"/><path fill="#d8e0fb" d="M1160 206.5h8v8h-8zM1128 214.5h8v8h-8zM1120 222.5h8v8h-8zM1088 270.5h8v8h-8zM1224 294.5h8v8h-8zM1064 302.5h8v8h-8zM1064 310.5h8v8h-8zM1056 334.5h8v8h-8zM1048 342.5h8v8h-8zM1040 350.5h8v8h-8zM1032 366.5h8v8h-8zM1240 366.5h8v8h-8zM1032 374.5h8v8h-8zM1240 374.5h8v8h-8zM1032 390.5h8v8h-8zM1024 398.5h16v8h-16zM1016 406.5h16v8h-16zM1016 414.5h8v8h-8zM1008 422.5h8v8h-8zM1248 422.5h8v8h-8zM1000 430.5h8v8h-8zM1000 438.5h8v8h-8zM984 446.5h40v8h-40zM976 454.5h64v8h-64z"/><path fill="#dbe2fb" d="M1176 198.5h8v8h-8zM1216 270.5h8v8h-8zM1072 286.5h8v8h-8zM1064 294.5h8v8h-8zM1232 318.5h8v8h-8zM1056 326.5h8v8h-8zM1048 334.5h8v8h-8zM1040 342.5h8v8h-8zM1240 350.5h8v8h-8zM1032 358.5h8v8h-8zM1240 358.5h8v8h-8zM1032 382.5h8v8h-8zM1024 390.5h8v8h-8zM1016 398.5h8v8h-8zM1008 406.5h8v8h-8zM1000 414.5h16v8h-16zM1248 414.5h8v8h-8zM1000 422.5h8v8h-8zM992 430.5h8v8h-8zM984 438.5h16v8h-16zM976 446.5h8v8h-8z"/><path fill="#dee4fb" d="M1192 198.5h8v8h-8zM1152 206.5h8v8h-8zM1112 230.5h8v8h-8zM1208 230.5h8v8h-8zM1088 262.5h8v8h-8zM1080 278.5h8v8h-8zM1056 310.5h8v8h-8zM1056 318.5h8v8h-8zM1048 326.5h8v8h-8zM1040 334.5h8v8h-8zM1240 342.5h8v8h-8zM1032 350.5h8v8h-8zM1024 358.5h8v8h-8zM1024 366.5h8v8h-8zM1024 374.5h8v8h-8zM1024 382.5h8v8h-8zM1016 390.5h8v8h-8zM1000 398.5h16v8h-16zM1000 406.5h8v8h-8zM1248 406.5h8v8h-8zM992 414.5h8v8h-8zM984 422.5h16v8h-16zM984 430.5h8v8h-8zM976 438.5h8v8h-8z"/><path fill="#e1e7fc" d="M1168 198.5h8v8h-8zM1136 206.5h16v8h-16zM1200 206.5h8v8h-8zM1216 262.5h8v8h-8zM1224 286.5h8v8h-8zM1056 302.5h8v8h-8zM1232 310.5h8v8h-8zM1048 318.5h8v8h-8zM1040 326.5h8v8h-8zM1032 342.5h8v8h-8zM1024 350.5h8v8h-8zM1016 374.5h8v8h-8zM1008 382.5h16v8h-16zM1000 390.5h16v8h-16zM992 398.5h8v8h-8zM1248 398.5h8v8h-8zM984 406.5h16v8h-16zM984 414.5h8v8h-8zM976 422.5h8v8h-8zM968 430.5h16v8h-16zM968 438.5h8v8h-8z"/><path fill="#e4e9fc" d="M1120 214.5h8v8h-8zM1104 238.5h8v8h-8zM1096 246.5h8v8h-8zM1088 254.5h8v8h-8zM1064 286.5h8v8h-8zM1056 294.5h8v8h-8zM1048 310.5h8v8h-8zM1040 318.5h8v8h-8zM1032 334.5h8v8h-8zM1240 334.5h8v8h-8zM1024 342.5h8v8h-8zM1016 350.5h8v8h-8zM1016 358.5h8v8h-8zM1016 366.5h8v8h-8zM1008 374.5h8v8h-8zM1000 382.5h8v8h-8zM984 390.5h16v8h-16zM1248 390.5h8v8h-8zM976 398.5h16v8h-16zM976 406.5h8v8h-8zM968 414.5h16v8h-16zM968 422.5h8v8h-8zM960 430.5h8v8h-8zM952 438.5h16v8h-16zM928 446.5h48v8h-48zM920 454.5h56v8h-56z"/><path fill="#e6ebfc" d="M1184 190.5h8v8h-8zM1128 206.5h8v8h-8zM1080 270.5h8v8h-8zM1072 278.5h8v8h-8zM1048 302.5h8v8h-8zM1232 302.5h8v8h-8zM1040 310.5h8v8h-8zM1032 326.5h8v8h-8zM1024 334.5h8v8h-8zM1016 342.5h8v8h-8zM1008 358.5h8v8h-8zM1008 366.5h8v8h-8zM992 374.5h16v8h-16zM984 382.5h16v8h-16zM1248 382.5h8v8h-8zM976 390.5h8v8h-8zM968 398.5h8v8h-8zM960 406.5h16v8h-16zM952 414.5h16v8h-16zM944 422.5h24v8h-24zM936 430.5h24v8h-24zM1256 430.5h8v8h-8zM928 438.5h24v8h-24zM1256 438.5h8v8h-8zM920 446.5h8v8h-8z"/><path fill="#e9edfd" d="M1176 190.5h8v8h-8zM1160 198.5h8v8h-8zM1112 222.5h8v8h-8zM1208 222.5h8v8h-8zM1216 254.5h8v8h-8zM1224 278.5h8v8h-8zM1056 286.5h8v8h-8zM1048 294.5h8v8h-8zM1040 302.5h8v8h-8zM1032 310.5h8v8h-8zM1032 318.5h8v8h-8zM1024 326.5h8v8h-8zM1016 334.5h8v8h-8zM1008 350.5h8v8h-8zM1000 358.5h8v8h-8zM992 366.5h16v8h-16zM984 374.5h8v8h-8zM1248 374.5h8v8h-8zM968 382.5h16v8h-16zM960 390.5h16v8h-16zM944 398.5h24v8h-24zM936 406.5h24v8h-24zM928 414.5h24v8h-24zM920 422.5h24v8h-24zM1256 422.5h8v8h-8zM920 430.5h16v8h-16zM912 438.5h16v8h-16z"/><path fill="#eceffd" d="M1192 190.5h8v8h-8zM1120 206.5h8v8h-8zM1064 278.5h8v8h-8zM1040 294.5h8v8h-8zM1032 302.5h8v8h-8zM1024 318.5h8v8h-8zM1016 326.5h8v8h-8zM1240 326.5h8v8h-8zM1008 334.5h8v8h-8zM1008 342.5h8v8h-8zM1000 350.5h8v8h-8zM992 358.5h8v8h-8zM976 366.5h16v8h-16zM1248 366.5h8v8h-8zM968 374.5h16v8h-16zM952 382.5h16v8h-16zM936 390.5h24v8h-24zM920 398.5h24v8h-24zM912 406.5h24v8h-24zM904 414.5h24v8h-24zM904 422.5h16v8h-16zM896 430.5h24v8h-24zM896 438.5h16v8h-16zM912 446.5h8v8h-8z"/><path fill="#eff2fd" d="M1136 198.5h8v8h-8zM1152 198.5h8v8h-8zM1200 198.5h8v8h-8zM1216 246.5h8v8h-8zM1080 262.5h8v8h-8zM1072 270.5h8v8h-8zM1048 286.5h8v8h-8zM1032 294.5h8v8h-8zM1232 294.5h8v8h-8zM1024 302.5h8v8h-8zM1024 310.5h8v8h-8zM1016 318.5h8v8h-8zM1008 326.5h8v8h-8zM992 342.5h16v8h-16zM984 350.5h16v8h-16zM968 358.5h24v8h-24zM1248 358.5h8v8h-8zM960 366.5h16v8h-16zM944 374.5h24v8h-24zM928 382.5h24v8h-24zM912 390.5h24v8h-24zM904 398.5h16v8h-16zM888 406.5h24v8h-24zM888 414.5h16v8h-16zM880 422.5h24v8h-24zM872 430.5h24v8h-24zM864 438.5h32v8h-32zM840 446.5h72v8h-72zM840 454.5h80v8h-80z"/><path fill="#f1f4fe" d="M1168 190.5h8v8h-8zM1128 198.5h8v8h-8zM1144 198.5h8v8h-8zM1112 214.5h8v8h-8zM1208 214.5h8v8h-8zM1104 230.5h8v8h-8zM1224 270.5h8v8h-8zM1056 278.5h8v8h-8zM1040 286.5h8v8h-8zM1024 294.5h8v8h-8zM1016 310.5h8v8h-8zM1008 318.5h8v8h-8zM1000 326.5h8v8h-8zM992 334.5h16v8h-16zM976 342.5h16v8h-16zM960 350.5h24v8h-24zM1248 350.5h8v8h-8zM952 358.5h16v8h-16zM936 366.5h24v8h-24zM920 374.5h24v8h-24zM904 382.5h24v8h-24zM888 390.5h24v8h-24zM880 398.5h24v8h-24zM864 406.5h24v8h-24zM848 414.5h40v8h-40zM1256 414.5h8v8h-8zM840 422.5h40v8h-40zM832 430.5h40v8h-40zM824 438.5h40v8h-40z"/><path fill="#f4f6fe" d="M1216 238.5h8v8h-8zM1088 246.5h8v8h-8zM1080 254.5h8v8h-8zM1064 270.5h8v8h-8zM1048 278.5h8v8h-8zM1032 286.5h8v8h-8zM1016 294.5h8v8h-8zM1016 302.5h8v8h-8zM1008 310.5h8v8h-8zM1000 318.5h8v8h-8zM1240 318.5h8v8h-8zM984 326.5h16v8h-16zM968 334.5h24v8h-24zM952 342.5h24v8h-24zM936 350.5h24v8h-24zM920 358.5h32v8h-32zM912 366.5h24v8h-24zM896 374.5h24v8h-24zM880 382.5h24v8h-24zM864 390.5h24v8h-24zM840 398.5h40v8h-40zM1256 398.5h8v8h-8zM824 406.5h40v8h-40zM1256 406.5h8v8h-8zM808 414.5h40v8h-40zM800 422.5h40v8h-40zM784 430.5h48v8h-48zM768 438.5h56v8h-56zM768 446.5h72v8h-72zM768 454.5h72v8h-72z"/><path fill="#f7f8fe" d="M1184 182.5h8v8h-8zM1120 198.5h8v8h-8zM1096 238.5h8v8h-8zM1072 262.5h8v8h-8zM1056 270.5h8v8h-8zM1040 278.5h8v8h-8zM1024 286.5h8v8h-8zM1232 286.5h8v8h-8zM1008 302.5h8v8h-8zM1000 310.5h8v8h-8zM984 318.5h16v8h-16zM968 326.5h16v8h-16zM936 334.5h32v8h-32zM920 342.5h32v8h-32zM1248 342.5h8v8h-8zM904 350.5h32v8h-32zM896 358.5h24v8h-24zM880 366.5h32v8h-32zM848 374.5h48v8h-48zM824 382.5h56v8h-56zM800 390.5h64v8h-64zM1256 390.5h8v8h-8zM784 398.5h56v8h-56zM760 406.5h64v8h-64zM744 414.5h64v8h-64zM736 422.5h64v8h-64zM712 430.5h72v8h-72zM712 438.5h56v8h-56zM712 446.5h56v8h-56zM712 454.5h56v8h-56z"/><path fill="#fafbfe" d="M1176 182.5h8v8h-8zM1192 182.5h8v8h-8zM1160 190.5h8v8h-8zM1200 190.5h8v8h-8zM1112 206.5h8v8h-8zM1208 206.5h8v8h-8zM1104 222.5h8v8h-8zM1064 262.5h8v8h-8zM1224 262.5h8v8h-8zM1048 270.5h8v8h-8zM1032 278.5h8v8h-8zM1016 286.5h8v8h-8zM1008 294.5h8v8h-8zM992 302.5h16v8h-16zM976 310.5h24v8h-24zM960 318.5h24v8h-24zM928 326.5h40v8h-40zM904 334.5h32v8h-32zM888 342.5h32v8h-32zM872 350.5h32v8h-32zM832 358.5h64v8h-64zM792 366.5h88v8h-88zM768 374.5h80v8h-80zM752 382.5h72v8h-72zM1256 382.5h8v8h-8zM728 390.5h72v8h-72zM712 398.5h72v8h-72zM712 406.5h48v8h-48zM712 414.5h32v8h-32zM712 422.5h24v8h-24zM1264 430.5h8v8h-8z"/><path fill="#fcfdff" d="M1216 230.5h8v8h-8zM1072 254.5h8v8h-8zM1056 262.5h8v8h-8zM1040 270.5h8v8h-8zM1024 278.5h8v8h-8zM1000 286.5h16v8h-16zM992 294.5h16v8h-16zM968 302.5h24v8h-24zM944 310.5h32v8h-32zM912 318.5h48v8h-48zM888 326.5h40v8h-40zM856 334.5h48v8h-48zM816 342.5h72v8h-72zM744 350.5h128v8h-128zM712 358.5h120v8h-120zM712 366.5h80v8h-80zM712 374.5h56v8h-56zM1256 374.5h8v8h-8zM712 382.5h40v8h-40zM712 390.5h16v8h-16zM1264 422.5h8v8h-8z"/><path fill="#ffffff" d="M1168 182.5h8v8h-8zM1128 190.5h32v8h-32zM1104 214.5h8v8h-8zM1096 230.5h8v8h-8zM1088 238.5h8v8h-8zM1080 246.5h8v8h-8zM1064 254.5h8v8h-8zM1048 262.5h8v8h-8zM1032 270.5h8v8h-8zM1008 278.5h16v8h-16zM1232 278.5h8v8h-8zM992 286.5h8v8h-8zM968 294.5h24v8h-24zM944 302.5h24v8h-24zM912 310.5h32v8h-32zM1240 310.5h8v8h-8zM712 318.5h8v8h-8zM872 318.5h40v8h-40zM712 326.5h16v8h-16zM824 326.5h64v8h-64zM712 334.5h144v8h-144zM1248 334.5h8v8h-8zM712 342.5h104v8h-104zM712 350.5h32v8h-32zM1272 422.5h16v8h-16zM1272 430.5h8v8h-8zM1264 438.5h8v8h-8z"/><path fill="#fffbfa" d="M1184 174.5h8v8h-8zM1200 182.5h8v8h-8zM1120 190.5h8v8h-8zM1112 198.5h8v8h-8zM1208 198.5h8v8h-8zM1096 222.5h8v8h-8zM1216 222.5h8v8h-8zM1064 246.5h16v8h-16zM1048 254.5h16v8h-16zM1224 254.5h8v8h-8zM1032 262.5h16v8h-16zM1016 270.5h16v8h-16zM1000 278.5h8v8h-8zM976 286.5h16v8h-16zM952 294.5h16v8h-16zM920 302.5h24v8h-24zM888 310.5h24v8h-24zM720 318.5h16v8h-16zM816 318.5h56v8h-56zM728 326.5h96v8h-96zM1256 366.5h8v8h-8zM1272 414.5h16v8h-16zM1280 430.5h8v8h-8z"/><path fill="#fff7f5" d="M1176 174.5h8v8h-8zM1192 174.5h8v8h-8zM1160 182.5h8v8h-8zM1208 190.5h8v8h-8zM1104 206.5h8v8h-8zM1088 230.5h8v8h-8zM1072 238.5h16v8h-16zM1040 246.5h24v8h-24zM1032 254.5h16v8h-16zM1024 262.5h8v8h-8zM1000 270.5h16v8h-16zM976 278.5h24v8h-24zM952 286.5h24v8h-24zM928 294.5h24v8h-24zM896 302.5h24v8h-24zM1240 302.5h8v8h-8zM728 310.5h64v8h-64zM800 310.5h88v8h-88zM736 318.5h80v8h-80zM1264 414.5h8v8h-8zM1264 446.5h8v8h-8z"/><path fill="#fff4ef" d="M1168 174.5h8v8h-8zM1200 174.5h8v8h-8zM1128 182.5h32v8h-32zM1208 182.5h8v8h-8zM1112 190.5h8v8h-8zM1216 214.5h8v8h-8zM1088 222.5h8v8h-8zM1080 230.5h8v8h-8zM1040 238.5h32v8h-32zM1032 246.5h8v8h-8zM1224 246.5h8v8h-8zM1024 254.5h8v8h-8zM1008 262.5h16v8h-16zM984 270.5h16v8h-16zM1232 270.5h8v8h-8zM960 278.5h16v8h-16zM936 286.5h16v8h-16zM904 294.5h24v8h-24zM712 302.5h184v8h-184zM712 310.5h16v8h-16zM792 310.5h8v8h-8zM1248 326.5h8v8h-8zM1256 358.5h8v8h-8zM1280 366.5h8v8h-8zM1264 454.5h8v8h-8z"/><path fill="#fff0ea" d="M1160 174.5h8v8h-8zM1104 198.5h8v8h-8zM1096 214.5h8v8h-8zM1080 222.5h8v8h-8zM1040 230.5h40v8h-40zM1032 238.5h8v8h-8zM1224 238.5h8v8h-8zM1024 246.5h8v8h-8zM1016 254.5h8v8h-8zM992 262.5h16v8h-16zM968 270.5h16v8h-16zM712 278.5h56v8h-56zM936 278.5h24v8h-24zM712 286.5h88v8h-88zM904 286.5h32v8h-32zM712 294.5h160v8h-160zM880 294.5h24v8h-24zM1240 294.5h8v8h-8zM1272 438.5h16v8h-16z"/><path fill="#ffece5" d="M1184 166.5h16v8h-16zM1136 174.5h24v8h-24zM1208 174.5h8v8h-8zM1120 182.5h8v8h-8zM1096 206.5h8v8h-8zM1216 206.5h8v8h-8zM1088 214.5h8v8h-8zM1072 222.5h8v8h-8zM1032 230.5h8v8h-8zM1224 230.5h8v8h-8zM1024 238.5h8v8h-8zM1016 246.5h8v8h-8zM712 254.5h64v8h-64zM1000 254.5h16v8h-16zM712 262.5h96v8h-96zM976 262.5h16v8h-16zM712 270.5h104v8h-104zM920 270.5h48v8h-48zM768 278.5h56v8h-56zM896 278.5h40v8h-40zM800 286.5h104v8h-104zM872 294.5h8v8h-8zM1256 350.5h8v8h-8zM1272 366.5h8v8h-8zM1264 406.5h8v8h-8zM1272 446.5h16v8h-16zM1272 454.5h16v8h-16z"/><path fill="#ffe8e0" d="M1168 166.5h16v8h-16zM1200 166.5h8v8h-8zM1128 174.5h8v8h-8zM1104 190.5h8v8h-8zM1216 190.5h8v8h-8zM1080 214.5h8v8h-8zM712 222.5h24v8h-24zM1032 222.5h40v8h-40zM712 230.5h40v8h-40zM1024 230.5h8v8h-8zM712 238.5h88v8h-88zM1016 238.5h8v8h-8zM712 246.5h104v8h-104zM1000 246.5h16v8h-16zM776 254.5h48v8h-48zM984 254.5h16v8h-16zM808 262.5h32v8h-32zM904 262.5h72v8h-72zM1232 262.5h8v8h-8zM816 270.5h56v8h-56zM880 270.5h40v8h-40zM824 278.5h72v8h-72zM1240 286.5h8v8h-8zM1248 318.5h8v8h-8z"/><path fill="#ffe4db" d="M1184 158.5h16v8h-16zM1160 166.5h8v8h-8zM1208 166.5h8v8h-8zM712 174.5h16v8h-16zM712 182.5h16v8h-16zM1112 182.5h8v8h-8zM1216 182.5h8v8h-8zM712 190.5h24v8h-24zM712 198.5h40v8h-40zM1096 198.5h8v8h-8zM1216 198.5h8v8h-8zM712 206.5h48v8h-48zM712 214.5h56v8h-56zM1032 214.5h48v8h-48zM736 222.5h64v8h-64zM1024 222.5h8v8h-8zM1224 222.5h8v8h-8zM752 230.5h64v8h-64zM1016 230.5h8v8h-8zM800 238.5h32v8h-32zM1008 238.5h8v8h-8zM816 246.5h32v8h-32zM984 246.5h16v8h-16zM824 254.5h32v8h-32zM896 254.5h48v8h-48zM960 254.5h24v8h-24zM840 262.5h64v8h-64zM872 270.5h8v8h-8zM1256 342.5h8v8h-8z"/><path fill="#ffe0d6" d="M1176 158.5h8v8h-8zM1200 158.5h8v8h-8zM728 166.5h8v8h-8zM1144 166.5h16v8h-16zM728 174.5h24v8h-24zM1120 174.5h8v8h-8zM1216 174.5h8v8h-8zM728 182.5h32v8h-32zM736 190.5h40v8h-40zM752 198.5h32v8h-32zM760 206.5h40v8h-40zM1032 206.5h32v8h-32zM1088 206.5h8v8h-8zM768 214.5h48v8h-48zM1024 214.5h8v8h-8zM1224 214.5h8v8h-8zM800 222.5h32v8h-32zM1016 222.5h8v8h-8zM816 230.5h32v8h-32zM1008 230.5h8v8h-8zM832 238.5h32v8h-32zM992 238.5h16v8h-16zM848 246.5h56v8h-56zM968 246.5h16v8h-16zM856 254.5h40v8h-40zM944 254.5h16v8h-16zM1240 278.5h8v8h-8zM1264 390.5h8v8h-8zM1264 398.5h8v8h-8z"/><path fill="#ffddd0" d="M712 126.5h16v8h-16zM712 134.5h16v8h-16zM712 142.5h24v8h-24zM712 150.5h32v8h-32zM1192 150.5h8v8h-8zM712 158.5h48v8h-48zM1168 158.5h8v8h-8zM1208 158.5h8v8h-8zM712 166.5h16v8h-16zM736 166.5h32v8h-32zM1136 166.5h8v8h-8zM1216 166.5h8v8h-8zM752 174.5h32v8h-32zM760 182.5h32v8h-32zM1104 182.5h8v8h-8zM776 190.5h32v8h-32zM1096 190.5h8v8h-8zM784 198.5h32v8h-32zM1040 198.5h24v8h-24zM800 206.5h32v8h-32zM1024 206.5h8v8h-8zM1064 206.5h24v8h-24zM816 214.5h24v8h-24zM1016 214.5h8v8h-8zM832 222.5h24v8h-24zM1008 222.5h8v8h-8zM848 230.5h32v8h-32zM992 230.5h16v8h-16zM864 238.5h88v8h-88zM968 238.5h24v8h-24zM904 246.5h64v8h-64zM1232 254.5h8v8h-8zM1248 310.5h8v8h-8zM1256 334.5h8v8h-8z"/><path fill="#ffd9cb" d="M728 126.5h8v8h-8zM728 134.5h16v8h-16zM736 142.5h24v8h-24zM744 150.5h24v8h-24zM1184 150.5h8v8h-8zM1200 150.5h8v8h-8zM760 158.5h24v8h-24zM1160 158.5h8v8h-8zM768 166.5h24v8h-24zM1128 166.5h8v8h-8zM784 174.5h24v8h-24zM1112 174.5h8v8h-8zM792 182.5h24v8h-24zM808 190.5h24v8h-24zM1040 190.5h16v8h-16zM816 198.5h32v8h-32zM1024 198.5h16v8h-16zM1064 198.5h32v8h-32zM832 206.5h24v8h-24zM1016 206.5h8v8h-8zM1224 206.5h8v8h-8zM840 214.5h32v8h-32zM1008 214.5h8v8h-8zM856 222.5h72v8h-72zM992 222.5h16v8h-16zM880 230.5h112v8h-112zM952 238.5h16v8h-16zM1264 382.5h8v8h-8zM1272 406.5h8v8h-8z"/><path fill="#ffd5c6" d="M728 110.5h8v8h-8zM728 118.5h24v8h-24zM736 126.5h24v8h-24zM744 134.5h24v8h-24zM760 142.5h24v8h-24zM768 150.5h24v8h-24zM1176 150.5h8v8h-8zM1208 150.5h8v8h-8zM784 158.5h24v8h-24zM1216 158.5h8v8h-8zM792 166.5h24v8h-24zM808 174.5h24v8h-24zM816 182.5h32v8h-32zM1040 182.5h8v8h-8zM1096 182.5h8v8h-8zM832 190.5h24v8h-24zM1032 190.5h8v8h-8zM1056 190.5h16v8h-16zM1088 190.5h8v8h-8zM848 198.5h24v8h-24zM1016 198.5h8v8h-8zM856 206.5h48v8h-48zM1008 206.5h8v8h-8zM872 214.5h88v8h-88zM1000 214.5h8v8h-8zM928 222.5h64v8h-64zM1232 246.5h8v8h-8zM1240 270.5h8v8h-8zM1272 374.5h16v8h-16zM1280 406.5h8v8h-8z"/><path fill="#ffd1c1" d="M712 78.5h16v8h-16zM712 86.5h16v8h-16zM712 94.5h24v8h-24zM712 102.5h40v8h-40zM712 110.5h16v8h-16zM736 110.5h24v8h-24zM712 118.5h16v8h-16zM752 118.5h24v8h-24zM760 126.5h24v8h-24zM768 134.5h24v8h-24zM784 142.5h24v8h-24zM1192 142.5h16v8h-16zM792 150.5h32v8h-32zM1168 150.5h8v8h-8zM808 158.5h24v8h-24zM1144 158.5h16v8h-16zM816 166.5h32v8h-32zM832 174.5h24v8h-24zM1104 174.5h8v8h-8zM1224 174.5h8v8h-8zM848 182.5h24v8h-24zM1032 182.5h8v8h-8zM1048 182.5h16v8h-16zM1088 182.5h8v8h-8zM1224 182.5h8v8h-8zM856 190.5h32v8h-32zM1016 190.5h16v8h-16zM1072 190.5h16v8h-16zM1224 190.5h8v8h-8zM872 198.5h64v8h-64zM1008 198.5h8v8h-8zM1224 198.5h8v8h-8zM904 206.5h72v8h-72zM1000 206.5h8v8h-8zM960 214.5h40v8h-40zM1232 230.5h8v8h-8zM1232 238.5h8v8h-8zM1256 326.5h8v8h-8zM1264 374.5h8v8h-8zM1272 382.5h16v8h-16zM1272 390.5h16v8h-16zM1272 398.5h16v8h-16z"/><path fill="#ffcdbc" d="M728 70.5h8v8h-8zM728 78.5h16v8h-16zM728 86.5h24v8h-24zM736 94.5h24v8h-24zM752 102.5h24v8h-24zM760 110.5h24v8h-24zM776 118.5h24v8h-24zM784 126.5h24v8h-24zM792 134.5h24v8h-24zM1192 134.5h8v8h-8zM808 142.5h24v8h-24zM1184 142.5h8v8h-8zM824 150.5h24v8h-24zM1160 150.5h8v8h-8zM1216 150.5h8v8h-8zM832 158.5h24v8h-24zM1136 158.5h8v8h-8zM848 166.5h24v8h-24zM1120 166.5h8v8h-8zM1224 166.5h8v8h-8zM856 174.5h32v8h-32zM1032 174.5h24v8h-24zM1096 174.5h8v8h-8zM872 182.5h24v8h-24zM1024 182.5h8v8h-8zM1064 182.5h16v8h-16zM888 190.5h64v8h-64zM1008 190.5h8v8h-8zM936 198.5h48v8h-48zM1000 198.5h8v8h-8zM976 206.5h24v8h-24zM1232 222.5h8v8h-8zM1248 302.5h8v8h-8zM1280 318.5h8v8h-8zM1272 326.5h16v8h-16zM1264 366.5h8v8h-8z"/><path fill="#ffc9b7" d="M712 38.5h56v8h-56zM712 46.5h48v8h-48zM712 54.5h32v8h-32zM712 62.5h40v8h-40zM712 70.5h16v8h-16zM736 70.5h24v8h-24zM744 78.5h24v8h-24zM752 86.5h24v8h-24zM760 94.5h24v8h-24zM776 102.5h24v8h-24zM784 110.5h24v8h-24zM800 118.5h16v8h-16zM808 126.5h16v8h-16zM816 134.5h24v8h-24zM1200 134.5h8v8h-8zM832 142.5h24v8h-24zM1176 142.5h8v8h-8zM1208 142.5h8v8h-8zM848 150.5h24v8h-24zM856 158.5h32v8h-32zM1224 158.5h8v8h-8zM872 166.5h24v8h-24zM1032 166.5h8v8h-8zM888 174.5h24v8h-24zM1016 174.5h16v8h-16zM1056 174.5h16v8h-16zM1088 174.5h8v8h-8zM896 182.5h72v8h-72zM1008 182.5h16v8h-16zM1080 182.5h8v8h-8zM952 190.5h56v8h-56zM984 198.5h16v8h-16zM1232 214.5h8v8h-8zM1240 262.5h8v8h-8zM1256 318.5h8v8h-8zM1272 318.5h8v8h-8zM1272 334.5h8v8h-8z"/><path fill="#ffc6b2" d="M760 46.5h8v8h-8zM744 54.5h16v8h-16zM752 62.5h16v8h-16zM760 70.5h16v8h-16zM768 78.5h16v8h-16zM776 86.5h24v8h-24zM784 94.5h24v8h-24zM800 102.5h16v8h-16zM808 110.5h16v8h-16zM816 118.5h24v8h-24zM824 126.5h24v8h-24zM840 134.5h32v8h-32zM1184 134.5h8v8h-8zM1208 134.5h8v8h-8zM856 142.5h32v8h-32zM1168 142.5h8v8h-8zM1216 142.5h8v8h-8zM872 150.5h32v8h-32zM1152 150.5h8v8h-8zM1224 150.5h8v8h-8zM888 158.5h24v8h-24zM896 166.5h32v8h-32zM1016 166.5h16v8h-16zM1040 166.5h16v8h-16zM1112 166.5h8v8h-8zM912 174.5h64v8h-64zM1008 174.5h8v8h-8zM1072 174.5h16v8h-16zM968 182.5h40v8h-40zM1248 294.5h8v8h-8z"/><path fill="#ffc2ad" d="M760 54.5h16v8h-16zM768 62.5h16v8h-16zM776 70.5h24v8h-24zM784 78.5h24v8h-24zM800 86.5h16v8h-16zM808 94.5h16v8h-16zM816 102.5h24v8h-24zM824 110.5h24v8h-24zM840 118.5h24v8h-24zM848 126.5h32v8h-32zM1184 126.5h24v8h-24zM872 134.5h24v8h-24zM888 142.5h24v8h-24zM904 150.5h24v8h-24zM1144 150.5h8v8h-8zM912 158.5h32v8h-32zM1016 158.5h24v8h-24zM1128 158.5h8v8h-8zM928 166.5h56v8h-56zM1008 166.5h8v8h-8zM1056 166.5h16v8h-16zM1104 166.5h8v8h-8zM976 174.5h32v8h-32zM1232 206.5h8v8h-8zM1240 254.5h8v8h-8zM1248 286.5h8v8h-8zM1264 358.5h8v8h-8z"/><path fill="#ffbea8" d="M768 46.5h8v8h-8zM776 54.5h16v8h-16zM784 62.5h24v8h-24zM800 70.5h16v8h-16zM808 78.5h16v8h-16zM816 86.5h24v8h-24zM824 94.5h24v8h-24zM840 102.5h16v8h-16zM848 110.5h24v8h-24zM864 118.5h24v8h-24zM880 126.5h24v8h-24zM1208 126.5h8v8h-8zM896 134.5h24v8h-24zM1176 134.5h8v8h-8zM912 142.5h24v8h-24zM1160 142.5h8v8h-8zM1224 142.5h8v8h-8zM928 150.5h32v8h-32zM944 158.5h48v8h-48zM1000 158.5h16v8h-16zM1040 158.5h16v8h-16zM984 166.5h24v8h-24zM1072 166.5h8v8h-8zM1096 166.5h8v8h-8zM1232 166.5h8v8h-8zM1232 174.5h8v8h-8zM1256 310.5h8v8h-8zM1264 350.5h8v8h-8z"/><path fill="#ffbaa3" d="M768 38.5h72v8h-72zM776 46.5h56v8h-56zM792 54.5h24v8h-24zM808 62.5h16v8h-16zM816 70.5h24v8h-24zM824 78.5h24v8h-24zM840 86.5h16v8h-16zM848 94.5h16v8h-16zM856 102.5h24v8h-24zM872 110.5h24v8h-24zM888 118.5h24v8h-24zM1184 118.5h16v8h-16zM904 126.5h24v8h-24zM1216 126.5h8v8h-8zM920 134.5h32v8h-32zM1216 134.5h8v8h-8zM936 142.5h32v8h-32zM1152 142.5h8v8h-8zM960 150.5h72v8h-72zM992 158.5h8v8h-8zM1056 158.5h8v8h-8zM1232 158.5h8v8h-8zM1080 166.5h16v8h-16zM1232 182.5h8v8h-8zM1232 198.5h8v8h-8zM1248 278.5h8v8h-8zM1264 326.5h8v8h-8zM1264 334.5h8v8h-8zM1280 334.5h8v8h-8zM1264 342.5h8v8h-8zM1272 358.5h16v8h-16z"/><path fill="#ffb69e" d="M832 46.5h8v8h-8zM816 54.5h24v8h-24zM824 62.5h24v8h-24zM840 70.5h16v8h-16zM848 78.5h16v8h-16zM856 86.5h24v8h-24zM864 94.5h24v8h-24zM880 102.5h24v8h-24zM896 110.5h32v8h-32zM912 118.5h32v8h-32zM1200 118.5h16v8h-16zM928 126.5h32v8h-32zM1176 126.5h8v8h-8zM952 134.5h32v8h-32zM1168 134.5h8v8h-8zM968 142.5h32v8h-32zM1032 150.5h16v8h-16zM1136 150.5h8v8h-8zM1232 150.5h8v8h-8zM1064 158.5h8v8h-8zM1120 158.5h8v8h-8zM1232 190.5h8v8h-8zM1240 238.5h8v8h-8zM1240 246.5h8v8h-8zM1264 318.5h8v8h-8zM1272 342.5h8v8h-8z"/><path fill="#ffb299" d="M840 54.5h16v8h-16zM848 62.5h16v8h-16zM856 70.5h24v8h-24zM864 78.5h24v8h-24zM880 86.5h24v8h-24zM888 94.5h32v8h-32zM904 102.5h32v8h-32zM928 110.5h24v8h-24zM1184 110.5h16v8h-16zM944 118.5h24v8h-24zM1176 118.5h8v8h-8zM1216 118.5h8v8h-8zM960 126.5h32v8h-32zM984 134.5h24v8h-24zM1160 134.5h8v8h-8zM1224 134.5h8v8h-8zM1000 142.5h32v8h-32zM1144 142.5h8v8h-8zM1232 142.5h8v8h-8zM1048 150.5h8v8h-8zM1072 158.5h8v8h-8zM1240 222.5h8v8h-8zM1240 230.5h8v8h-8zM1248 270.5h8v8h-8zM1256 302.5h8v8h-8zM1280 342.5h8v8h-8zM1272 350.5h16v8h-16z"/><path fill="#ffae95" d="M840 46.5h8v8h-8zM856 54.5h16v8h-16zM864 62.5h24v8h-24zM880 70.5h24v8h-24zM888 78.5h24v8h-24zM904 86.5h24v8h-24zM920 94.5h24v8h-24zM936 102.5h24v8h-24zM952 110.5h24v8h-24zM1176 110.5h8v8h-8zM1200 110.5h8v8h-8zM968 118.5h24v8h-24zM992 126.5h16v8h-16zM1168 126.5h8v8h-8zM1224 126.5h8v8h-8zM1008 134.5h8v8h-8zM1152 134.5h8v8h-8zM1032 142.5h16v8h-16zM1056 150.5h16v8h-16zM1080 158.5h8v8h-8zM1240 214.5h8v8h-8zM1264 310.5h8v8h-8z"/><path fill="#ffaa90" d="M840 38.5h80v8h-80zM848 46.5h72v8h-72zM872 54.5h32v8h-32zM888 62.5h24v8h-24zM904 70.5h24v8h-24zM912 78.5h32v8h-32zM928 86.5h32v8h-32zM944 94.5h24v8h-24zM960 102.5h24v8h-24zM1176 102.5h24v8h-24zM976 110.5h24v8h-24zM1208 110.5h8v8h-8zM992 118.5h16v8h-16zM1168 118.5h8v8h-8zM1224 118.5h8v8h-8zM1008 126.5h16v8h-16zM1016 134.5h24v8h-24zM1232 134.5h8v8h-8zM1048 142.5h8v8h-8zM1072 150.5h8v8h-8zM1128 150.5h8v8h-8zM1088 158.5h32v8h-32zM1240 158.5h8v8h-8zM1240 166.5h8v8h-8zM1240 174.5h8v8h-8zM1240 206.5h8v8h-8zM1248 262.5h8v8h-8zM1264 302.5h8v8h-8z"/><path fill="#ffa68b" d="M904 54.5h24v8h-24zM912 62.5h32v8h-32zM928 70.5h24v8h-24zM944 78.5h24v8h-24zM960 86.5h16v8h-16zM968 94.5h24v8h-24zM984 102.5h16v8h-16zM1200 102.5h8v8h-8zM1000 110.5h16v8h-16zM1168 110.5h8v8h-8zM1216 110.5h16v8h-16zM1008 118.5h16v8h-16zM1024 126.5h8v8h-8zM1160 126.5h8v8h-8zM1040 134.5h8v8h-8zM1056 142.5h8v8h-8zM1080 150.5h8v8h-8zM1240 150.5h8v8h-8zM1256 294.5h16v8h-16z"/><path fill="#ffa286" d="M928 54.5h24v8h-24zM944 62.5h24v8h-24zM952 70.5h24v8h-24zM968 78.5h16v8h-16zM976 86.5h24v8h-24zM992 94.5h16v8h-16zM1176 94.5h16v8h-16zM1000 102.5h16v8h-16zM1168 102.5h8v8h-8zM1208 102.5h8v8h-8zM1016 110.5h8v8h-8zM1024 118.5h16v8h-16zM1232 118.5h8v8h-8zM1032 126.5h16v8h-16zM1232 126.5h8v8h-8zM1048 134.5h8v8h-8zM1144 134.5h8v8h-8zM1064 142.5h8v8h-8zM1136 142.5h8v8h-8zM1240 182.5h8v8h-8zM1240 198.5h8v8h-8zM1248 254.5h8v8h-8zM1264 278.5h8v8h-8zM1256 286.5h16v8h-16zM1272 310.5h8v8h-8z"/><path fill="#ff9e81" d="M920 38.5h64v8h-64zM920 46.5h64v8h-64zM952 54.5h24v8h-24zM968 62.5h16v8h-16zM976 70.5h16v8h-16zM984 78.5h24v8h-24zM1000 86.5h16v8h-16zM1008 94.5h8v8h-8zM1168 94.5h8v8h-8zM1192 94.5h8v8h-8zM1016 102.5h16v8h-16zM1216 102.5h8v8h-8zM1024 110.5h16v8h-16zM1232 110.5h8v8h-8zM1040 118.5h8v8h-8zM1160 118.5h8v8h-8zM1048 126.5h8v8h-8zM1152 126.5h8v8h-8zM1056 134.5h8v8h-8zM1072 142.5h8v8h-8zM1240 142.5h8v8h-8zM1120 150.5h8v8h-8zM1240 190.5h8v8h-8zM1264 262.5h8v8h-8zM1264 270.5h8v8h-8zM1280 310.5h8v8h-8z"/><path fill="#ff9a7c" d="M976 54.5h16v8h-16zM984 62.5h24v8h-24zM992 70.5h24v8h-24zM1008 78.5h16v8h-16zM1016 86.5h8v8h-8zM1168 86.5h24v8h-24zM1016 94.5h16v8h-16zM1200 94.5h8v8h-8zM1032 102.5h8v8h-8zM1224 102.5h8v8h-8zM1040 110.5h8v8h-8zM1160 110.5h8v8h-8zM1048 118.5h8v8h-8zM1056 126.5h8v8h-8zM1240 126.5h8v8h-8zM1064 134.5h8v8h-8zM1240 134.5h8v8h-8zM1080 142.5h8v8h-8zM1088 150.5h8v8h-8zM1248 166.5h8v8h-8zM1248 246.5h8v8h-8zM1264 246.5h8v8h-8zM1264 254.5h8v8h-8zM1256 270.5h8v8h-8zM1272 270.5h16v8h-16zM1256 278.5h8v8h-8zM1272 278.5h16v8h-16zM1272 286.5h16v8h-16zM1272 294.5h16v8h-16zM1272 302.5h16v8h-16z"/><path fill="#ff9678" d="M984 38.5h40v8h-40zM984 46.5h40v8h-40zM992 54.5h24v8h-24zM1008 62.5h16v8h-16zM1016 70.5h16v8h-16zM1024 78.5h16v8h-16zM1024 86.5h16v8h-16zM1192 86.5h8v8h-8zM1032 94.5h16v8h-16zM1208 94.5h16v8h-16zM1040 102.5h8v8h-8zM1160 102.5h8v8h-8zM1232 102.5h8v8h-8zM1048 110.5h8v8h-8zM1240 110.5h8v8h-8zM1056 118.5h8v8h-8zM1152 118.5h8v8h-8zM1240 118.5h8v8h-8zM1144 126.5h8v8h-8zM1072 134.5h8v8h-8zM1136 134.5h8v8h-8zM1128 142.5h8v8h-8zM1096 150.5h8v8h-8zM1248 158.5h8v8h-8zM1248 174.5h8v8h-8zM1264 222.5h8v8h-8zM1248 230.5h8v8h-8zM1264 230.5h8v8h-8zM1248 238.5h8v8h-8zM1264 238.5h8v8h-8zM1256 254.5h8v8h-8zM1256 262.5h8v8h-8z"/><path fill="#ff9273" d="M1016 54.5h16v8h-16zM1024 62.5h16v8h-16zM1032 70.5h8v8h-8zM1040 78.5h8v8h-8zM1168 78.5h16v8h-16zM1040 86.5h8v8h-8zM1200 86.5h8v8h-8zM1048 94.5h8v8h-8zM1160 94.5h8v8h-8zM1224 94.5h8v8h-8zM1048 102.5h16v8h-16zM1240 102.5h8v8h-8zM1056 110.5h8v8h-8zM1064 118.5h8v8h-8zM1248 118.5h8v8h-8zM1064 126.5h8v8h-8zM1248 126.5h8v8h-8zM1080 134.5h8v8h-8zM1248 134.5h8v8h-8zM1088 142.5h8v8h-8zM1104 150.5h8v8h-8zM1248 150.5h8v8h-8zM1256 166.5h32v8h-32zM1256 174.5h32v8h-32zM1248 182.5h8v8h-8zM1264 182.5h24v8h-24zM1264 190.5h24v8h-24zM1264 198.5h8v8h-8zM1280 198.5h8v8h-8zM1264 206.5h8v8h-8zM1264 214.5h8v8h-8zM1248 222.5h8v8h-8zM1256 238.5h8v8h-8zM1256 246.5h8v8h-8z"/><path fill="#ff8d6e" d="M1024 38.5h32v8h-32zM1024 46.5h32v8h-32zM1032 54.5h16v8h-16zM1040 62.5h8v8h-8zM1040 70.5h16v8h-16zM1048 78.5h8v8h-8zM1184 78.5h8v8h-8zM1048 86.5h16v8h-16zM1160 86.5h8v8h-8zM1208 86.5h8v8h-8zM1056 94.5h8v8h-8zM1232 94.5h8v8h-8zM1064 102.5h8v8h-8zM1248 102.5h8v8h-8zM1064 110.5h8v8h-8zM1152 110.5h8v8h-8zM1248 110.5h8v8h-8zM1072 118.5h8v8h-8zM1144 118.5h8v8h-8zM1256 118.5h8v8h-8zM1072 126.5h8v8h-8zM1256 126.5h8v8h-8zM1256 134.5h8v8h-8zM1248 142.5h8v8h-8zM1112 150.5h8v8h-8zM1256 150.5h8v8h-8zM1256 158.5h16v8h-16zM1256 182.5h8v8h-8zM1248 190.5h16v8h-16zM1248 198.5h16v8h-16zM1272 198.5h8v8h-8zM1248 206.5h16v8h-16zM1248 214.5h16v8h-16zM1256 222.5h8v8h-8zM1256 230.5h8v8h-8zM1272 254.5h8v8h-8zM1272 262.5h8v8h-8z"/><path fill="#ff8969" d="M1208 38.5h80v8h-80zM1216 46.5h72v8h-72zM1048 54.5h8v8h-8zM1240 54.5h48v8h-48zM1048 62.5h16v8h-16zM1240 62.5h48v8h-48zM1056 70.5h8v8h-8zM1168 70.5h16v8h-16zM1240 70.5h48v8h-48zM1056 78.5h8v8h-8zM1160 78.5h8v8h-8zM1192 78.5h16v8h-16zM1240 78.5h48v8h-48zM1064 86.5h8v8h-8zM1216 86.5h72v8h-72zM1064 94.5h8v8h-8zM1240 94.5h48v8h-48zM1152 102.5h8v8h-8zM1256 102.5h32v8h-32zM1072 110.5h8v8h-8zM1256 110.5h32v8h-32zM1264 118.5h24v8h-24zM1080 126.5h8v8h-8zM1264 126.5h24v8h-24zM1264 134.5h24v8h-24zM1256 142.5h32v8h-32zM1264 150.5h24v8h-24zM1272 158.5h16v8h-16zM1272 206.5h16v8h-16zM1272 214.5h16v8h-16zM1272 222.5h16v8h-16zM1272 230.5h16v8h-16zM1272 238.5h16v8h-16zM1272 246.5h16v8h-16zM1280 254.5h8v8h-8zM1280 262.5h8v8h-8z"/><path fill="#ff8565" d="M1208 46.5h8v8h-8zM1056 54.5h8v8h-8zM1216 54.5h24v8h-24zM1064 62.5h8v8h-8zM1216 62.5h24v8h-24zM1064 70.5h8v8h-8zM1160 70.5h8v8h-8zM1184 70.5h8v8h-8zM1216 70.5h24v8h-24zM1064 78.5h8v8h-8zM1208 78.5h32v8h-32zM1152 94.5h8v8h-8zM1072 102.5h8v8h-8zM1144 110.5h8v8h-8zM1080 118.5h8v8h-8zM1136 126.5h8v8h-8zM1088 134.5h8v8h-8zM1128 134.5h8v8h-8zM1096 142.5h8v8h-8zM1120 142.5h8v8h-8z"/><path fill="#ff8160" d="M1056 38.5h16v8h-16zM1056 46.5h16v8h-16zM1064 54.5h8v8h-8zM1200 54.5h16v8h-16zM1160 62.5h24v8h-24zM1192 62.5h24v8h-24zM1192 70.5h24v8h-24zM1152 78.5h8v8h-8zM1072 86.5h8v8h-8zM1152 86.5h8v8h-8zM1072 94.5h8v8h-8zM1144 102.5h8v8h-8zM1080 110.5h8v8h-8z"/><path fill="#ff7c5b" d="M1072 38.5h8v8h-8zM1072 46.5h8v8h-8zM1200 46.5h8v8h-8zM1160 54.5h40v8h-40zM1072 62.5h8v8h-8zM1184 62.5h8v8h-8zM1072 70.5h8v8h-8zM1152 70.5h8v8h-8zM1072 78.5h8v8h-8zM1144 94.5h8v8h-8zM1080 102.5h8v8h-8zM1136 118.5h8v8h-8z"/><path fill="#ff7857" d="M1152 38.5h56v8h-56zM1152 46.5h48v8h-48zM1072 54.5h8v8h-8zM1152 62.5h8v8h-8zM1144 86.5h8v8h-8zM1080 94.5h8v8h-8zM1136 110.5h8v8h-8zM1088 126.5h8v8h-8zM1104 142.5h8v8h-8z"/><path fill="#ff7352" d="M1152 54.5h8v8h-8zM1080 70.5h8v8h-8zM1144 70.5h8v8h-8zM1080 78.5h8v8h-8zM1144 78.5h8v8h-8zM1080 86.5h8v8h-8zM1136 102.5h8v8h-8zM1128 126.5h8v8h-8zM1096 134.5h8v8h-8zM1112 142.5h8v8h-8z"/><path fill="#ff6f4d" d="M1080 54.5h8v8h-8zM1144 54.5h8v8h-8zM1080 62.5h8v8h-8zM1144 62.5h8v8h-8zM1136 94.5h8v8h-8zM1088 118.5h8v8h-8zM1120 134.5h8v8h-8z"/><path fill="#ff6a49" d="M1080 38.5h8v8h-8zM1080 46.5h8v8h-8zM1144 46.5h8v8h-8zM1136 70.5h8v8h-8zM1136 78.5h8v8h-8zM1136 86.5h8v8h-8zM1088 94.5h8v8h-8zM1088 102.5h8v8h-8zM1088 110.5h8v8h-8z"/><path fill="#ff6544" d="M1144 38.5h8v8h-8zM1136 54.5h8v8h-8zM1136 62.5h8v8h-8zM1088 70.5h8v8h-8zM1088 78.5h8v8h-8zM1088 86.5h8v8h-8zM1128 118.5h8v8h-8zM1104 134.5h8v8h-8z"/><path fill="#ff603f" d="M1088 38.5h8v8h-8zM1136 38.5h8v8h-8zM1088 46.5h8v8h-8zM1136 46.5h8v8h-8zM1088 54.5h8v8h-8zM1088 62.5h8v8h-8zM1128 110.5h8v8h-8zM1096 126.5h8v8h-8z"/><path fill="#ff5b3a" d="M1128 102.5h8v8h-8zM1120 126.5h8v8h-8zM1112 134.5h8v8h-8z"/><path fill="#ff5636" d="M1128 78.5h8v8h-8zM1128 86.5h8v8h-8zM1128 94.5h8v8h-8zM1096 118.5h8v8h-8z"/><path fill="#ff5031" d="M1128 54.5h8v8h-8zM1096 62.5h8v8h-8zM1128 62.5h8v8h-8zM1096 70.5h8v8h-8zM1128 70.5h8v8h-8zM1096 78.5h8v8h-8zM1096 86.5h8v8h-8zM1096 94.5h8v8h-8zM1096 102.5h8v8h-8zM1096 110.5h8v8h-8z"/><path fill="#ff4a2c" d="M1096 54.5h8v8h-8zM1120 118.5h8v8h-8zM1104 126.5h8v8h-8z"/><path fill="#ff4427" d="M1096 38.5h8v8h-8zM1128 38.5h8v8h-8zM1096 46.5h8v8h-8zM1128 46.5h8v8h-8zM1120 110.5h8v8h-8z"/><path fill="#ff3e22" d="M1104 38.5h8v8h-8zM1120 38.5h8v8h-8zM1104 46.5h8v8h-8zM1120 46.5h8v8h-8zM1120 54.5h8v8h-8zM1120 62.5h8v8h-8zM1120 70.5h8v8h-8zM1120 78.5h8v8h-8zM1120 86.5h8v8h-8zM1120 94.5h8v8h-8zM1120 102.5h8v8h-8zM1104 118.5h8v8h-8zM1112 126.5h8v8h-8z"/><path fill="#ff361c" d="M1104 54.5h8v8h-8zM1104 62.5h8v8h-8zM1104 70.5h8v8h-8zM1104 78.5h8v8h-8zM1104 86.5h8v8h-8zM1104 94.5h8v8h-8zM1104 102.5h8v8h-8zM1104 110.5h8v8h-8z"/><path fill="#ff2e16" d="M1112 38.5h8v8h-8zM1112 46.5h8v8h-8zM1112 54.5h8v8h-8z"/><path fill="#ff2410" d="M1112 62.5h8v8h-8zM1112 70.5h8v8h-8zM1112 78.5h8v8h-8zM1112 118.5h8v8h-8z"/><path fill="#ff1708" d="M1112 86.5h8v8h-8zM1112 94.5h8v8h-8zM1112 102.5h8v8h-8zM1112 110.5h8v8h-8z"/></g></g>
<g clip-path="url(#clipB)"><path d="M701.9 34.9L890.6 35.5L892 38.3L887.8 43.9L883.6 50.8L873.9 52.2L869.8 53.6L875.3 57.7L880.9 71.6L882.2 81.3L875.3 89.6L867 92.4L875.3 95.2L876 113.2L873.9 124.3L868.4 138.2L864.2 147.9L860 152L858.7 159L853.1 168.7L844.8 168.7L851.7 174.2L851 186.7L849.9 190L851.9 200.1L853 208.3L849.9 215.4L846.9 230.6L844.8 250.9L843.8 261L838.7 271.2L834.7 276.3L835.7 278.3L837.2 286.4L836.7 296.6L831.6 303.7L825.6 308.7L820.5 308.7L815.4 305.7L813.4 300.6L806.3 296.6L800.2 289.5L799.2 278.3L791 271.2L788 267.1L782.9 266.1L776.8 262.1L768.7 261L765.7 261L762.6 265.1L757.6 264.1L754.5 259L757.6 252.9L753.5 251.9L752.5 246.8L750.4 240.7L744.4 237.7L743.3 232.6L739.3 220.4L738.3 205.2L733.2 200.1L733.2 190L729.7 188.1L722.7 178.4L723.4 168.7L721.4 160.4L715.8 147.9L710.3 131.2L704.7 116L704 104.9L701.9 99.3Z" fill="#ffffff" stroke="#fff" stroke-width="3" stroke-linejoin="round"/><path d="M728.5 190L733 200L737 206L738 220L742 233L749 241L752 250L756 253L753 259L757 266L763 267L768 263L777 264L783 269L790 274L796 281L798 290L804 299L812 303L815 309L822 313L826 310L820 306L816 300L807 294L802 288L800 278L792 270L784 265L777 261L766 260L760 263L757 258L756 252L752 245L748 239L742 232L739 220L738 205L733 199L732 188Z" fill="#ffffff" fill-opacity="0.85"/><path d="M1135 55L1128 62L1131 70L1140 68L1146 72L1143 90L1145 100L1146 116L1160 116L1170 117L1178 125L1186 132L1195 136L1205 137L1216 138L1226 134L1232 124L1245 119L1250 114L1255 108L1258 104L1265 98L1271 96L1271 55Z" fill="#ffffff"/><path d="M701.9 34.9L890.6 35.5L892 38.3L887.8 43.9L883.6 50.8L873.9 52.2L869.8 53.6L875.3 57.7L880.9 71.6L882.2 81.3L875.3 89.6L867 92.4L875.3 95.2L876 113.2L873.9 124.3L868.4 138.2L864.2 147.9L860 152L858.7 159L853.1 168.7L844.8 168.7L851.7 174.2L851 186.7L849.9 190L851.9 200.1L853 208.3L849.9 215.4L846.9 230.6L844.8 250.9L843.8 261L838.7 271.2L834.7 276.3L835.7 278.3L837.2 286.4L836.7 296.6L831.6 303.7L825.6 308.7L820.5 308.7L815.4 305.7L813.4 300.6L806.3 296.6L800.2 289.5L799.2 278.3L791 271.2L788 267.1L782.9 266.1L776.8 262.1L768.7 261L765.7 261L762.6 265.1L757.6 264.1L754.5 259L757.6 252.9L753.5 251.9L752.5 246.8L750.4 240.7L744.4 237.7L743.3 232.6L739.3 220.4L738.3 205.2L733.2 200.1L733.2 190L729.7 188.1L722.7 178.4L723.4 168.7L721.4 160.4L715.8 147.9L710.3 131.2L704.7 116L704 104.9L701.9 99.3Z" fill="#D3D3D3"/><path d="M1161.4 35.1L1292.9 35.1L1292.9 41L1294.8 49.5L1290.5 55.6L1289.3 64.1L1282 71.4L1280.8 81.2L1273.5 88.5L1261.3 94.5L1254 103.1L1249.1 110.4L1239.4 115.3L1229.6 118.9L1226 125L1222.3 131.1L1215 133.5L1205.3 132.3L1195.5 128.6L1189.4 125L1183.3 117.7L1174.8 110.4L1168.7 112.8L1151.7 112.8L1149.2 103.1L1151.7 98.2L1160.2 93.3L1161.4 81.2L1156.5 75.1L1156.5 67.8L1151.7 65.3L1140.7 65.3L1133.4 67.8L1129.7 62.9L1131 58L1141.9 54.4L1150.4 51.9L1162.6 50.1L1154.1 45.8L1156.5 38.5Z" fill="#D3D3D3"/></g>
<g clip-path="url(#clipB)" fill="#000"><circle cx="1088.9" cy="71.2" r="3.5"/><circle cx="1091.1" cy="94.6" r="3.5"/><circle cx="1115.3" cy="125.5" r="3.5"/><circle cx="1090.6" cy="132.7" r="3.5"/><circle cx="1122.2" cy="150.2" r="3.5"/><circle cx="1126.3" cy="152.6" r="3.5"/><circle cx="1112.9" cy="164.8" r="3.5"/><circle cx="1155.8" cy="150.2" r="3.5"/><circle cx="1158.9" cy="147.8" r="3.5"/><circle cx="1127.0" cy="192.2" r="3.5"/><circle cx="1124.6" cy="197.7" r="3.5"/><circle cx="1123.2" cy="204.9" r="3.5"/><circle cx="1099.0" cy="227.6" r="3.5"/><circle cx="1102.6" cy="230.5" r="3.5"/><circle cx="1183.8" cy="248.5" r="3.5"/><circle cx="1197.2" cy="250.9" r="3.5"/><circle cx="1151.7" cy="324.0" r="3.5"/><circle cx="1204.6" cy="324.5" r="3.5"/><circle cx="1257.8" cy="131.5" r="3.5"/><circle cx="1242.0" cy="231.7" r="3.5"/><circle cx="1245.6" cy="237.0" r="3.5"/><circle cx="1250.9" cy="256.2" r="3.5"/><circle cx="1243.2" cy="259.3" r="3.5"/><circle cx="1240.8" cy="265.7" r="3.5"/><circle cx="1245.6" cy="267.2" r="3.5"/><circle cx="1290.7" cy="282.0" r="3.5"/><circle cx="1298.0" cy="191.0" r="3.5"/><circle cx="1298.0" cy="197.0" r="3.5"/></g>
<text x="685.3" y="406.6" text-anchor="end" class="tk">58</text>
<text x="685.3" y="308.8" text-anchor="end" class="tk">60</text>
<text x="685.3" y="211" text-anchor="end" class="tk">62</text>
<text x="685.3" y="113.2" text-anchor="end" class="tk">64</text>
<text x="728" y="500.8" text-anchor="middle" class="tk">-50</text>
<text x="883" y="500.8" text-anchor="middle" class="tk">-40</text>
<text x="1038" y="500.8" text-anchor="middle" class="tk">-30</text>
<text x="1193" y="500.8" text-anchor="middle" class="tk">-20</text>
<text x="999.7" y="539.3" text-anchor="middle" class="ti">Lon</text>
<text transform="translate(641.2,249.9) rotate(-90)" text-anchor="middle" class="ti">Lat</text>
<text x="589" y="24.1" class="pl">B</text>
<line x1="196.2" y1="617.6" x2="196.2" y2="1046.7" stroke="#EBEBEB" stroke-width="1.3"/>
<line x1="278.4" y1="617.6" x2="278.4" y2="1046.7" stroke="#EBEBEB" stroke-width="1.3"/>
<line x1="360.5" y1="617.6" x2="360.5" y2="1046.7" stroke="#EBEBEB" stroke-width="1.3"/>
<line x1="442.6" y1="617.6" x2="442.6" y2="1046.7" stroke="#EBEBEB" stroke-width="1.3"/>
<line x1="524.7" y1="617.6" x2="524.7" y2="1046.7" stroke="#EBEBEB" stroke-width="1.3"/>
<line x1="136.1" y1="987" x2="553.3" y2="987" stroke="#EBEBEB" stroke-width="1.3"/>
<line x1="136.1" y1="905.5" x2="553.3" y2="905.5" stroke="#EBEBEB" stroke-width="1.3"/>
<line x1="136.1" y1="824.1" x2="553.3" y2="824.1" stroke="#EBEBEB" stroke-width="1.3"/>
<line x1="136.1" y1="742.6" x2="553.3" y2="742.6" stroke="#EBEBEB" stroke-width="1.3"/>
<line x1="136.1" y1="661.2" x2="553.3" y2="661.2" stroke="#EBEBEB" stroke-width="1.3"/>
<line x1="155.2" y1="617.6" x2="155.2" y2="1046.7" stroke="#EBEBEB" stroke-width="2.6"/>
<line x1="237.3" y1="617.6" x2="237.3" y2="1046.7" stroke="#EBEBEB" stroke-width="2.6"/>
<line x1="319.4" y1="617.6" x2="319.4" y2="1046.7" stroke="#EBEBEB" stroke-width="2.6"/>
<line x1="401.5" y1="617.6" x2="401.5" y2="1046.7" stroke="#EBEBEB" stroke-width="2.6"/>
<line x1="483.6" y1="617.6" x2="483.6" y2="1046.7" stroke="#EBEBEB" stroke-width="2.6"/>
<line x1="136.1" y1="1027.7" x2="553.3" y2="1027.7" stroke="#EBEBEB" stroke-width="2.6"/>
<line x1="136.1" y1="946.2" x2="553.3" y2="946.2" stroke="#EBEBEB" stroke-width="2.6"/>
<line x1="136.1" y1="864.8" x2="553.3" y2="864.8" stroke="#EBEBEB" stroke-width="2.6"/>
<line x1="136.1" y1="783.4" x2="553.3" y2="783.4" stroke="#EBEBEB" stroke-width="2.6"/>
<line x1="136.1" y1="701.9" x2="553.3" y2="701.9" stroke="#EBEBEB" stroke-width="2.6"/>
<line x1="136.1" y1="620.5" x2="553.3" y2="620.5" stroke="#EBEBEB" stroke-width="2.6"/>
<g clip-path="url(#rcC)"><g filter="url(#blC)" shape-rendering="crispEdges"><path fill="#97b1f3" d="M371.2 684.8h16v8h-16zM371.2 692.8h8v8h-8z"/><path fill="#9ab3f3" d="M251.2 652.8h24v8h-24zM251.2 660.8h24v8h-24zM259.2 668.8h8v8h-8zM379.2 692.8h8v8h-8zM371.2 700.8h8v8h-8z"/><path fill="#9db5f3" d="M243.2 644.8h40v8h-40zM243.2 652.8h8v8h-8zM275.2 652.8h16v8h-16zM243.2 660.8h8v8h-8zM275.2 660.8h8v8h-8zM243.2 668.8h16v8h-16zM267.2 668.8h8v8h-8zM251.2 676.8h16v8h-16zM371.2 676.8h16v8h-16zM379.2 700.8h8v8h-8z"/><path fill="#a0b7f4" d="M251.2 620.8h32v8h-32zM251.2 628.8h32v8h-32zM235.2 636.8h48v8h-48zM235.2 644.8h8v8h-8zM283.2 644.8h8v8h-8zM227.2 652.8h16v8h-16zM291.2 652.8h8v8h-8zM235.2 660.8h8v8h-8zM283.2 660.8h8v8h-8zM235.2 668.8h8v8h-8zM275.2 668.8h8v8h-8zM243.2 676.8h8v8h-8zM267.2 676.8h8v8h-8zM251.2 684.8h16v8h-16zM363.2 684.8h8v8h-8zM363.2 692.8h8v8h-8zM371.2 708.8h8v8h-8z"/><path fill="#a3baf4" d="M219.2 620.8h32v8h-32zM283.2 620.8h8v8h-8zM219.2 628.8h32v8h-32zM283.2 628.8h8v8h-8zM227.2 636.8h8v8h-8zM283.2 636.8h16v8h-16zM227.2 644.8h8v8h-8zM291.2 644.8h16v8h-16zM299.2 652.8h8v8h-8zM227.2 660.8h8v8h-8zM291.2 660.8h8v8h-8zM371.2 668.8h16v8h-16zM235.2 676.8h8v8h-8zM363.2 676.8h8v8h-8zM243.2 684.8h8v8h-8zM267.2 684.8h8v8h-8zM251.2 692.8h8v8h-8zM363.2 700.8h8v8h-8zM379.2 708.8h8v8h-8z"/><path fill="#a7bcf5" d="M211.2 620.8h8v8h-8zM291.2 620.8h24v8h-24zM211.2 628.8h8v8h-8zM291.2 628.8h24v8h-24zM219.2 636.8h8v8h-8zM299.2 636.8h16v8h-16zM219.2 644.8h8v8h-8zM307.2 644.8h8v8h-8zM219.2 652.8h8v8h-8zM307.2 652.8h8v8h-8zM219.2 660.8h8v8h-8zM299.2 660.8h8v8h-8zM227.2 668.8h8v8h-8zM283.2 668.8h8v8h-8zM275.2 676.8h8v8h-8zM235.2 684.8h8v8h-8zM243.2 692.8h8v8h-8zM259.2 692.8h8v8h-8zM371.2 716.8h8v8h-8z"/><path fill="#aabef5" d="M315.2 620.8h8v8h-8zM315.2 628.8h8v8h-8zM211.2 636.8h8v8h-8zM315.2 636.8h8v8h-8zM211.2 644.8h8v8h-8zM315.2 644.8h8v8h-8zM211.2 652.8h8v8h-8zM315.2 652.8h8v8h-8zM307.2 660.8h8v8h-8zM363.2 660.8h24v8h-24zM219.2 668.8h8v8h-8zM291.2 668.8h8v8h-8zM363.2 668.8h8v8h-8zM227.2 676.8h8v8h-8zM283.2 676.8h8v8h-8zM355.2 676.8h8v8h-8zM387.2 676.8h8v8h-8zM275.2 684.8h8v8h-8zM355.2 684.8h8v8h-8zM387.2 684.8h8v8h-8zM235.2 692.8h8v8h-8zM267.2 692.8h8v8h-8zM355.2 692.8h8v8h-8zM387.2 692.8h8v8h-8zM243.2 700.8h16v8h-16zM363.2 708.8h8v8h-8zM379.2 716.8h8v8h-8z"/><path fill="#adc0f5" d="M323.2 620.8h8v8h-8zM323.2 628.8h8v8h-8zM203.2 636.8h8v8h-8zM323.2 636.8h8v8h-8zM323.2 644.8h8v8h-8zM323.2 652.8h8v8h-8zM347.2 652.8h32v8h-32zM211.2 660.8h8v8h-8zM315.2 660.8h8v8h-8zM347.2 660.8h16v8h-16zM299.2 668.8h8v8h-8zM355.2 668.8h8v8h-8zM219.2 676.8h8v8h-8zM291.2 676.8h8v8h-8zM227.2 684.8h8v8h-8zM283.2 684.8h8v8h-8zM483.2 684.8h8v8h-8zM235.2 700.8h8v8h-8zM259.2 700.8h8v8h-8zM355.2 700.8h8v8h-8zM387.2 700.8h8v8h-8zM363.2 716.8h8v8h-8z"/><path fill="#b0c2f6" d="M203.2 620.8h8v8h-8zM331.2 620.8h32v8h-32zM203.2 628.8h8v8h-8zM331.2 628.8h32v8h-32zM331.2 636.8h32v8h-32zM203.2 644.8h8v8h-8zM331.2 644.8h40v8h-40zM203.2 652.8h8v8h-8zM331.2 652.8h16v8h-16zM379.2 652.8h8v8h-8zM203.2 660.8h8v8h-8zM323.2 660.8h8v8h-8zM339.2 660.8h8v8h-8zM211.2 668.8h8v8h-8zM307.2 668.8h8v8h-8zM347.2 668.8h8v8h-8zM387.2 668.8h8v8h-8zM347.2 676.8h8v8h-8zM483.2 676.8h8v8h-8zM219.2 684.8h8v8h-8zM491.2 684.8h8v8h-8zM227.2 692.8h8v8h-8zM275.2 692.8h8v8h-8zM483.2 692.8h16v8h-16zM267.2 700.8h8v8h-8zM235.2 708.8h24v8h-24zM387.2 708.8h8v8h-8zM371.2 724.8h16v8h-16z"/><path fill="#b3c4f6" d="M179.2 620.8h24v8h-24zM179.2 628.8h24v8h-24zM187.2 636.8h16v8h-16zM363.2 636.8h8v8h-8zM195.2 644.8h8v8h-8zM371.2 644.8h8v8h-8zM195.2 652.8h8v8h-8zM331.2 660.8h8v8h-8zM203.2 668.8h8v8h-8zM315.2 668.8h8v8h-8zM339.2 668.8h8v8h-8zM211.2 676.8h8v8h-8zM299.2 676.8h8v8h-8zM475.2 676.8h8v8h-8zM491.2 676.8h8v8h-8zM291.2 684.8h8v8h-8zM347.2 684.8h8v8h-8zM475.2 684.8h8v8h-8zM219.2 692.8h8v8h-8zM283.2 692.8h8v8h-8zM347.2 692.8h8v8h-8zM227.2 700.8h8v8h-8zM259.2 708.8h8v8h-8zM355.2 708.8h8v8h-8z"/><path fill="#b6c6f6" d="M171.2 620.8h8v8h-8zM363.2 620.8h8v8h-8zM363.2 628.8h8v8h-8zM179.2 636.8h8v8h-8zM371.2 636.8h8v8h-8zM187.2 644.8h8v8h-8zM379.2 644.8h8v8h-8zM195.2 660.8h8v8h-8zM387.2 660.8h8v8h-8zM323.2 668.8h16v8h-16zM475.2 668.8h16v8h-16zM203.2 676.8h8v8h-8zM307.2 676.8h8v8h-8zM339.2 676.8h8v8h-8zM211.2 684.8h8v8h-8zM299.2 684.8h8v8h-8zM475.2 692.8h8v8h-8zM275.2 700.8h8v8h-8zM347.2 700.8h8v8h-8zM491.2 700.8h8v8h-8zM227.2 708.8h8v8h-8zM267.2 708.8h8v8h-8zM235.2 716.8h24v8h-24zM355.2 716.8h8v8h-8zM387.2 716.8h8v8h-8zM363.2 724.8h8v8h-8z"/><path fill="#b9c8f7" d="M171.2 628.8h8v8h-8zM171.2 636.8h8v8h-8zM379.2 636.8h8v8h-8zM179.2 644.8h8v8h-8zM187.2 652.8h8v8h-8zM387.2 652.8h8v8h-8zM187.2 660.8h8v8h-8zM483.2 660.8h8v8h-8zM195.2 668.8h8v8h-8zM491.2 668.8h8v8h-8zM315.2 676.8h8v8h-8zM467.2 676.8h8v8h-8zM203.2 684.8h8v8h-8zM339.2 684.8h8v8h-8zM211.2 692.8h8v8h-8zM291.2 692.8h8v8h-8zM219.2 700.8h8v8h-8zM283.2 700.8h8v8h-8zM483.2 700.8h8v8h-8zM347.2 708.8h8v8h-8zM227.2 716.8h8v8h-8zM371.2 732.8h16v8h-16z"/><path fill="#bccaf7" d="M371.2 620.8h8v8h-8zM371.2 628.8h8v8h-8zM171.2 644.8h8v8h-8zM387.2 644.8h8v8h-8zM179.2 652.8h8v8h-8zM475.2 660.8h8v8h-8zM491.2 660.8h8v8h-8zM187.2 668.8h8v8h-8zM467.2 668.8h8v8h-8zM195.2 676.8h8v8h-8zM323.2 676.8h16v8h-16zM307.2 684.8h8v8h-8zM467.2 684.8h8v8h-8zM499.2 684.8h8v8h-8zM299.2 692.8h8v8h-8zM339.2 692.8h8v8h-8zM499.2 692.8h8v8h-8zM211.2 700.8h8v8h-8zM339.2 700.8h8v8h-8zM475.2 700.8h8v8h-8zM219.2 708.8h8v8h-8zM275.2 708.8h8v8h-8zM259.2 716.8h8v8h-8zM347.2 716.8h8v8h-8zM235.2 724.8h16v8h-16zM355.2 724.8h8v8h-8zM387.2 724.8h8v8h-8zM363.2 732.8h8v8h-8z"/><path fill="#bfcdf8" d="M163.2 620.8h8v8h-8zM163.2 628.8h8v8h-8zM379.2 628.8h8v8h-8zM163.2 636.8h8v8h-8zM387.2 636.8h8v8h-8zM163.2 644.8h8v8h-8zM171.2 652.8h8v8h-8zM475.2 652.8h16v8h-16zM179.2 660.8h8v8h-8zM467.2 660.8h8v8h-8zM459.2 668.8h8v8h-8zM187.2 676.8h8v8h-8zM395.2 676.8h8v8h-8zM499.2 676.8h8v8h-8zM195.2 684.8h8v8h-8zM315.2 684.8h8v8h-8zM331.2 684.8h8v8h-8zM395.2 684.8h8v8h-8zM203.2 692.8h8v8h-8zM307.2 692.8h8v8h-8zM395.2 692.8h8v8h-8zM467.2 692.8h8v8h-8zM291.2 700.8h16v8h-16zM339.2 708.8h8v8h-8zM483.2 708.8h16v8h-16zM219.2 716.8h8v8h-8zM267.2 716.8h8v8h-8zM251.2 724.8h8v8h-8zM347.2 724.8h8v8h-8z"/><path fill="#c1cff8" d="M139.2 620.8h24v8h-24zM379.2 620.8h40v8h-40zM139.2 628.8h24v8h-24zM387.2 628.8h32v8h-32zM139.2 636.8h24v8h-24zM395.2 636.8h16v8h-16zM155.2 644.8h8v8h-8zM395.2 644.8h8v8h-8zM163.2 652.8h8v8h-8zM395.2 652.8h8v8h-8zM467.2 652.8h8v8h-8zM491.2 652.8h8v8h-8zM171.2 660.8h8v8h-8zM395.2 660.8h8v8h-8zM459.2 660.8h8v8h-8zM179.2 668.8h8v8h-8zM395.2 668.8h8v8h-8zM499.2 668.8h8v8h-8zM459.2 676.8h8v8h-8zM323.2 684.8h8v8h-8zM195.2 692.8h8v8h-8zM315.2 692.8h8v8h-8zM331.2 692.8h8v8h-8zM203.2 700.8h8v8h-8zM307.2 700.8h16v8h-16zM331.2 700.8h8v8h-8zM395.2 700.8h8v8h-8zM467.2 700.8h8v8h-8zM499.2 700.8h8v8h-8zM211.2 708.8h8v8h-8zM283.2 708.8h8v8h-8zM331.2 708.8h8v8h-8zM475.2 708.8h8v8h-8zM339.2 716.8h8v8h-8zM227.2 724.8h8v8h-8zM355.2 732.8h8v8h-8zM387.2 732.8h8v8h-8z"/><path fill="#c4d1f8" d="M419.2 620.8h8v8h-8zM419.2 628.8h8v8h-8zM411.2 636.8h16v8h-16zM139.2 644.8h16v8h-16zM403.2 644.8h24v8h-24zM467.2 644.8h16v8h-16zM155.2 652.8h8v8h-8zM459.2 652.8h8v8h-8zM163.2 660.8h8v8h-8zM451.2 660.8h8v8h-8zM499.2 660.8h8v8h-8zM171.2 668.8h8v8h-8zM179.2 676.8h8v8h-8zM187.2 684.8h8v8h-8zM459.2 684.8h8v8h-8zM323.2 692.8h8v8h-8zM323.2 700.8h8v8h-8zM203.2 708.8h8v8h-8zM291.2 708.8h8v8h-8zM315.2 708.8h16v8h-16zM395.2 708.8h8v8h-8zM467.2 708.8h8v8h-8zM499.2 708.8h8v8h-8zM211.2 716.8h8v8h-8zM275.2 716.8h8v8h-8zM331.2 716.8h8v8h-8zM259.2 724.8h8v8h-8zM339.2 724.8h8v8h-8zM235.2 732.8h16v8h-16zM347.2 732.8h8v8h-8zM363.2 740.8h16v8h-16z"/><path fill="#c7d3f9" d="M427.2 636.8h8v8h-8zM427.2 644.8h16v8h-16zM451.2 644.8h16v8h-16zM483.2 644.8h8v8h-8zM139.2 652.8h16v8h-16zM403.2 652.8h56v8h-56zM499.2 652.8h8v8h-8zM139.2 660.8h24v8h-24zM163.2 668.8h8v8h-8zM451.2 668.8h8v8h-8zM507.2 668.8h8v8h-8zM171.2 676.8h8v8h-8zM507.2 676.8h8v8h-8zM179.2 684.8h8v8h-8zM507.2 684.8h8v8h-8zM187.2 692.8h8v8h-8zM459.2 692.8h8v8h-8zM195.2 700.8h8v8h-8zM299.2 708.8h16v8h-16zM283.2 716.8h8v8h-8zM395.2 716.8h8v8h-8zM475.2 716.8h24v8h-24zM219.2 724.8h8v8h-8zM355.2 740.8h8v8h-8zM379.2 740.8h8v8h-8zM139.2 1012.8h16v8h-16zM139.2 1020.8h16v8h-16zM139.2 1028.8h24v8h-24zM139.2 1036.8h24v8h-24z"/><path fill="#cad5f9" d="M427.2 620.8h8v8h-8zM427.2 628.8h8v8h-8zM435.2 636.8h40v8h-40zM443.2 644.8h8v8h-8zM491.2 644.8h8v8h-8zM403.2 660.8h8v8h-8zM443.2 660.8h8v8h-8zM507.2 660.8h8v8h-8zM139.2 668.8h24v8h-24zM163.2 676.8h8v8h-8zM451.2 676.8h8v8h-8zM171.2 684.8h8v8h-8zM179.2 692.8h8v8h-8zM507.2 692.8h8v8h-8zM187.2 700.8h8v8h-8zM459.2 700.8h8v8h-8zM195.2 708.8h8v8h-8zM459.2 708.8h8v8h-8zM203.2 716.8h8v8h-8zM323.2 716.8h8v8h-8zM467.2 716.8h8v8h-8zM267.2 724.8h8v8h-8zM331.2 724.8h8v8h-8zM395.2 724.8h8v8h-8zM227.2 732.8h8v8h-8zM251.2 732.8h8v8h-8zM339.2 732.8h8v8h-8zM347.2 740.8h8v8h-8zM139.2 1004.8h24v8h-24zM155.2 1012.8h8v8h-8zM155.2 1020.8h8v8h-8zM163.2 1028.8h8v8h-8zM163.2 1036.8h8v8h-8z"/><path fill="#cdd7f9" d="M435.2 620.8h32v8h-32zM435.2 628.8h32v8h-32zM475.2 636.8h8v8h-8zM499.2 644.8h8v8h-8zM507.2 652.8h8v8h-8zM411.2 660.8h32v8h-32zM403.2 668.8h8v8h-8zM443.2 668.8h8v8h-8zM155.2 676.8h8v8h-8zM163.2 684.8h8v8h-8zM451.2 684.8h8v8h-8zM171.2 692.8h8v8h-8zM451.2 692.8h8v8h-8zM507.2 700.8h8v8h-8zM291.2 716.8h8v8h-8zM315.2 716.8h8v8h-8zM499.2 716.8h8v8h-8zM211.2 724.8h8v8h-8zM235.2 740.8h8v8h-8zM387.2 740.8h8v8h-8zM355.2 748.8h16v8h-16zM139.2 980.8h16v8h-16zM139.2 988.8h24v8h-24zM139.2 996.8h24v8h-24zM163.2 1004.8h8v8h-8zM163.2 1012.8h8v8h-8zM163.2 1020.8h8v8h-8z"/><path fill="#d0d9fa" d="M467.2 620.8h8v8h-8zM467.2 628.8h8v8h-8zM483.2 636.8h8v8h-8zM515.2 660.8h8v8h-8zM515.2 668.8h8v8h-8zM139.2 676.8h16v8h-16zM403.2 676.8h8v8h-8zM443.2 676.8h8v8h-8zM515.2 676.8h8v8h-8zM155.2 684.8h8v8h-8zM403.2 684.8h8v8h-8zM515.2 684.8h8v8h-8zM403.2 692.8h8v8h-8zM179.2 700.8h8v8h-8zM451.2 700.8h8v8h-8zM187.2 708.8h8v8h-8zM507.2 708.8h8v8h-8zM195.2 716.8h8v8h-8zM299.2 716.8h16v8h-16zM459.2 716.8h8v8h-8zM275.2 724.8h8v8h-8zM219.2 732.8h8v8h-8zM259.2 732.8h8v8h-8zM395.2 732.8h8v8h-8zM243.2 740.8h8v8h-8zM339.2 740.8h8v8h-8zM139.2 972.8h16v8h-16zM155.2 980.8h8v8h-8zM163.2 988.8h8v8h-8zM163.2 996.8h16v8h-16zM171.2 1004.8h8v8h-8zM171.2 1012.8h8v8h-8zM171.2 1020.8h8v8h-8zM171.2 1028.8h8v8h-8zM171.2 1036.8h8v8h-8z"/><path fill="#d3dcfa" d="M475.2 628.8h8v8h-8zM491.2 636.8h8v8h-8zM507.2 644.8h8v8h-8zM515.2 652.8h8v8h-8zM435.2 668.8h8v8h-8zM139.2 684.8h16v8h-16zM443.2 684.8h8v8h-8zM139.2 692.8h32v8h-32zM515.2 692.8h8v8h-8zM171.2 700.8h8v8h-8zM403.2 700.8h8v8h-8zM179.2 708.8h8v8h-8zM403.2 708.8h8v8h-8zM451.2 708.8h8v8h-8zM203.2 724.8h8v8h-8zM283.2 724.8h8v8h-8zM475.2 724.8h24v8h-24zM331.2 732.8h8v8h-8zM227.2 740.8h8v8h-8zM347.2 748.8h8v8h-8zM371.2 748.8h8v8h-8zM315.2 876.8h8v8h-8zM155.2 972.8h8v8h-8zM163.2 980.8h8v8h-8zM171.2 988.8h8v8h-8zM179.2 996.8h8v8h-8zM179.2 1004.8h8v8h-8zM179.2 1012.8h8v8h-8zM179.2 1020.8h8v8h-8zM179.2 1028.8h16v8h-16zM179.2 1036.8h16v8h-16z"/><path fill="#d6defa" d="M475.2 620.8h8v8h-8zM483.2 628.8h16v8h-16zM499.2 636.8h8v8h-8zM515.2 644.8h8v8h-8zM523.2 652.8h8v8h-8zM523.2 660.8h8v8h-8zM411.2 668.8h24v8h-24zM523.2 668.8h8v8h-8zM435.2 676.8h8v8h-8zM523.2 676.8h8v8h-8zM443.2 692.8h8v8h-8zM163.2 700.8h8v8h-8zM443.2 700.8h8v8h-8zM515.2 700.8h8v8h-8zM171.2 708.8h8v8h-8zM187.2 716.8h8v8h-8zM403.2 716.8h8v8h-8zM451.2 716.8h8v8h-8zM507.2 716.8h8v8h-8zM323.2 724.8h8v8h-8zM467.2 724.8h8v8h-8zM499.2 724.8h8v8h-8zM211.2 732.8h8v8h-8zM267.2 732.8h8v8h-8zM251.2 740.8h8v8h-8zM339.2 748.8h8v8h-8zM355.2 756.8h16v8h-16zM315.2 884.8h8v8h-8zM139.2 964.8h24v8h-24zM163.2 972.8h8v8h-8zM171.2 980.8h16v8h-16zM179.2 988.8h8v8h-8zM187.2 996.8h8v8h-8zM187.2 1004.8h8v8h-8zM187.2 1012.8h8v8h-8zM187.2 1020.8h8v8h-8z"/><path fill="#d8e0fb" d="M483.2 620.8h32v8h-32zM499.2 628.8h16v8h-16zM507.2 636.8h8v8h-8zM523.2 644.8h16v8h-16zM531.2 652.8h24v8h-24zM531.2 660.8h24v8h-24zM531.2 668.8h16v8h-16zM523.2 684.8h8v8h-8zM139.2 700.8h24v8h-24zM443.2 708.8h8v8h-8zM179.2 716.8h8v8h-8zM195.2 724.8h8v8h-8zM291.2 724.8h8v8h-8zM315.2 724.8h8v8h-8zM459.2 724.8h8v8h-8zM219.2 740.8h8v8h-8zM331.2 740.8h8v8h-8zM395.2 740.8h8v8h-8zM227.2 748.8h16v8h-16zM379.2 748.8h8v8h-8zM347.2 756.8h8v8h-8zM315.2 868.8h8v8h-8zM323.2 876.8h8v8h-8zM179.2 884.8h32v8h-32zM323.2 884.8h8v8h-8zM155.2 892.8h56v8h-56zM139.2 900.8h72v8h-72zM139.2 908.8h8v8h-8zM139.2 956.8h16v8h-16zM163.2 964.8h8v8h-8zM171.2 972.8h16v8h-16zM187.2 980.8h8v8h-8zM187.2 988.8h8v8h-8zM195.2 1020.8h8v8h-8zM195.2 1028.8h8v8h-8zM195.2 1036.8h8v8h-8z"/><path fill="#dbe2fb" d="M515.2 620.8h8v8h-8zM515.2 628.8h8v8h-8zM515.2 636.8h40v8h-40zM539.2 644.8h16v8h-16zM547.2 668.8h8v8h-8zM411.2 676.8h8v8h-8zM427.2 676.8h8v8h-8zM531.2 676.8h24v8h-24zM435.2 684.8h8v8h-8zM531.2 684.8h8v8h-8zM435.2 692.8h8v8h-8zM523.2 692.8h8v8h-8zM163.2 708.8h8v8h-8zM515.2 708.8h8v8h-8zM171.2 716.8h8v8h-8zM443.2 716.8h8v8h-8zM187.2 724.8h8v8h-8zM299.2 724.8h16v8h-16zM403.2 724.8h8v8h-8zM203.2 732.8h8v8h-8zM275.2 732.8h8v8h-8zM243.2 748.8h8v8h-8zM355.2 764.8h8v8h-8zM195.2 860.8h8v8h-8zM187.2 868.8h24v8h-24zM323.2 868.8h8v8h-8zM139.2 876.8h16v8h-16zM179.2 876.8h40v8h-40zM139.2 884.8h40v8h-40zM211.2 884.8h8v8h-8zM139.2 892.8h16v8h-16zM211.2 892.8h8v8h-8zM211.2 900.8h8v8h-8zM147.2 908.8h64v8h-64zM155.2 956.8h8v8h-8zM171.2 964.8h8v8h-8zM187.2 972.8h8v8h-8zM195.2 980.8h8v8h-8zM195.2 988.8h8v8h-8zM195.2 996.8h8v8h-8zM195.2 1004.8h8v8h-8zM195.2 1012.8h8v8h-8z"/><path fill="#dee4fb" d="M523.2 620.8h32v8h-32zM523.2 628.8h32v8h-32zM419.2 676.8h8v8h-8zM411.2 684.8h8v8h-8zM427.2 684.8h8v8h-8zM539.2 684.8h16v8h-16zM411.2 692.8h8v8h-8zM531.2 692.8h24v8h-24zM435.2 700.8h8v8h-8zM523.2 700.8h8v8h-8zM139.2 708.8h24v8h-24zM435.2 708.8h8v8h-8zM163.2 716.8h8v8h-8zM515.2 716.8h8v8h-8zM179.2 724.8h8v8h-8zM451.2 724.8h8v8h-8zM507.2 724.8h8v8h-8zM323.2 732.8h8v8h-8zM403.2 732.8h8v8h-8zM475.2 732.8h16v8h-16zM211.2 740.8h8v8h-8zM259.2 740.8h8v8h-8zM219.2 748.8h8v8h-8zM387.2 748.8h8v8h-8zM339.2 756.8h8v8h-8zM371.2 756.8h8v8h-8zM363.2 764.8h8v8h-8zM187.2 860.8h8v8h-8zM203.2 860.8h16v8h-16zM315.2 860.8h8v8h-8zM179.2 868.8h8v8h-8zM211.2 868.8h8v8h-8zM155.2 876.8h24v8h-24zM307.2 876.8h8v8h-8zM219.2 884.8h8v8h-8zM219.2 892.8h8v8h-8zM219.2 900.8h8v8h-8zM211.2 908.8h8v8h-8zM163.2 956.8h8v8h-8zM179.2 964.8h16v8h-16zM195.2 972.8h8v8h-8z"/><path fill="#e1e7fc" d="M419.2 684.8h8v8h-8zM427.2 692.8h8v8h-8zM411.2 700.8h8v8h-8zM531.2 700.8h8v8h-8zM411.2 708.8h8v8h-8zM155.2 716.8h8v8h-8zM171.2 724.8h8v8h-8zM195.2 732.8h8v8h-8zM283.2 732.8h8v8h-8zM467.2 732.8h8v8h-8zM491.2 732.8h8v8h-8zM251.2 748.8h8v8h-8zM331.2 748.8h8v8h-8zM347.2 764.8h8v8h-8zM355.2 772.8h8v8h-8zM195.2 852.8h24v8h-24zM179.2 860.8h8v8h-8zM171.2 868.8h8v8h-8zM219.2 868.8h8v8h-8zM307.2 868.8h8v8h-8zM219.2 876.8h8v8h-8zM331.2 876.8h8v8h-8zM323.2 892.8h8v8h-8zM219.2 908.8h8v8h-8zM139.2 916.8h16v8h-16zM139.2 948.8h16v8h-16zM171.2 956.8h8v8h-8zM195.2 964.8h16v8h-16zM203.2 972.8h8v8h-8zM203.2 980.8h8v8h-8zM203.2 988.8h8v8h-8zM203.2 996.8h8v8h-8zM203.2 1004.8h8v8h-8zM203.2 1012.8h8v8h-8zM203.2 1020.8h8v8h-8z"/><path fill="#e4e9fc" d="M419.2 692.8h8v8h-8zM427.2 700.8h8v8h-8zM539.2 700.8h16v8h-16zM427.2 708.8h8v8h-8zM523.2 708.8h8v8h-8zM139.2 716.8h16v8h-16zM411.2 716.8h8v8h-8zM435.2 716.8h8v8h-8zM163.2 724.8h8v8h-8zM443.2 724.8h8v8h-8zM187.2 732.8h8v8h-8zM291.2 732.8h8v8h-8zM459.2 732.8h8v8h-8zM499.2 732.8h8v8h-8zM203.2 740.8h8v8h-8zM267.2 740.8h8v8h-8zM211.2 748.8h8v8h-8zM227.2 756.8h16v8h-16zM347.2 772.8h8v8h-8zM187.2 852.8h8v8h-8zM219.2 860.8h8v8h-8zM307.2 860.8h8v8h-8zM323.2 860.8h8v8h-8zM139.2 868.8h32v8h-32zM227.2 884.8h8v8h-8zM307.2 884.8h8v8h-8zM331.2 884.8h8v8h-8zM227.2 892.8h8v8h-8zM315.2 892.8h8v8h-8zM227.2 900.8h8v8h-8zM227.2 908.8h8v8h-8zM155.2 916.8h8v8h-8zM187.2 916.8h40v8h-40zM155.2 948.8h8v8h-8zM179.2 956.8h40v8h-40zM211.2 964.8h8v8h-8zM211.2 972.8h8v8h-8zM211.2 980.8h8v8h-8zM203.2 1028.8h8v8h-8zM203.2 1036.8h8v8h-8z"/><path fill="#e6ebfc" d="M419.2 700.8h8v8h-8zM419.2 708.8h8v8h-8zM139.2 724.8h24v8h-24zM515.2 724.8h8v8h-8zM179.2 732.8h8v8h-8zM299.2 732.8h8v8h-8zM315.2 732.8h8v8h-8zM195.2 740.8h8v8h-8zM323.2 740.8h8v8h-8zM203.2 748.8h8v8h-8zM219.2 756.8h8v8h-8zM331.2 756.8h8v8h-8zM339.2 764.8h8v8h-8zM363.2 772.8h8v8h-8zM195.2 844.8h24v8h-24zM219.2 852.8h8v8h-8zM315.2 852.8h8v8h-8zM171.2 860.8h8v8h-8zM331.2 868.8h8v8h-8zM227.2 876.8h8v8h-8zM331.2 892.8h8v8h-8zM163.2 916.8h24v8h-24zM227.2 916.8h8v8h-8zM219.2 924.8h8v8h-8zM163.2 948.8h8v8h-8zM211.2 948.8h8v8h-8zM219.2 956.8h8v8h-8zM219.2 964.8h8v8h-8zM211.2 988.8h8v8h-8zM211.2 996.8h8v8h-8zM211.2 1004.8h8v8h-8zM211.2 1012.8h8v8h-8zM211.2 1020.8h8v8h-8z"/><path fill="#e9edfd" d="M531.2 708.8h8v8h-8zM427.2 716.8h8v8h-8zM523.2 716.8h8v8h-8zM411.2 724.8h8v8h-8zM163.2 732.8h16v8h-16zM307.2 732.8h8v8h-8zM451.2 732.8h8v8h-8zM507.2 732.8h8v8h-8zM275.2 740.8h8v8h-8zM403.2 740.8h8v8h-8zM259.2 748.8h8v8h-8zM395.2 748.8h8v8h-8zM211.2 756.8h8v8h-8zM243.2 756.8h8v8h-8zM379.2 756.8h8v8h-8zM371.2 764.8h8v8h-8zM339.2 772.8h8v8h-8zM347.2 780.8h16v8h-16zM219.2 844.8h8v8h-8zM179.2 852.8h8v8h-8zM307.2 852.8h8v8h-8zM323.2 852.8h8v8h-8zM163.2 860.8h8v8h-8zM331.2 860.8h8v8h-8zM227.2 868.8h8v8h-8zM235.2 884.8h8v8h-8zM235.2 892.8h8v8h-8zM235.2 900.8h8v8h-8zM235.2 908.8h8v8h-8zM211.2 924.8h8v8h-8zM227.2 924.8h8v8h-8zM219.2 932.8h8v8h-8zM219.2 940.8h8v8h-8zM171.2 948.8h40v8h-40zM219.2 948.8h8v8h-8zM219.2 972.8h8v8h-8zM219.2 980.8h8v8h-8zM211.2 1028.8h16v8h-16zM211.2 1036.8h16v8h-16z"/><path fill="#eceffd" d="M539.2 708.8h16v8h-16zM419.2 716.8h8v8h-8zM435.2 724.8h8v8h-8zM147.2 732.8h16v8h-16zM179.2 740.8h16v8h-16zM283.2 740.8h8v8h-8zM467.2 740.8h16v8h-16zM195.2 748.8h8v8h-8zM203.2 756.8h8v8h-8zM219.2 764.8h8v8h-8zM339.2 780.8h8v8h-8zM363.2 780.8h8v8h-8zM347.2 788.8h8v8h-8zM195.2 836.8h24v8h-24zM187.2 844.8h8v8h-8zM315.2 844.8h8v8h-8zM227.2 860.8h8v8h-8zM299.2 868.8h8v8h-8zM235.2 876.8h8v8h-8zM299.2 876.8h8v8h-8zM339.2 876.8h8v8h-8zM339.2 884.8h8v8h-8zM323.2 900.8h8v8h-8zM235.2 916.8h8v8h-8zM139.2 924.8h8v8h-8zM195.2 924.8h16v8h-16zM211.2 932.8h8v8h-8zM227.2 932.8h8v8h-8zM139.2 940.8h24v8h-24zM203.2 940.8h16v8h-16zM227.2 940.8h8v8h-8zM227.2 948.8h8v8h-8zM227.2 956.8h8v8h-8zM227.2 964.8h8v8h-8zM219.2 988.8h8v8h-8zM219.2 996.8h8v8h-8zM219.2 1004.8h8v8h-8zM219.2 1012.8h8v8h-8zM219.2 1020.8h8v8h-8z"/><path fill="#eff2fd" d="M531.2 716.8h8v8h-8zM427.2 724.8h8v8h-8zM523.2 724.8h8v8h-8zM139.2 732.8h8v8h-8zM411.2 732.8h8v8h-8zM443.2 732.8h8v8h-8zM515.2 732.8h8v8h-8zM155.2 740.8h24v8h-24zM459.2 740.8h8v8h-8zM483.2 740.8h16v8h-16zM187.2 748.8h8v8h-8zM323.2 748.8h8v8h-8zM195.2 756.8h8v8h-8zM251.2 756.8h8v8h-8zM203.2 764.8h16v8h-16zM227.2 764.8h16v8h-16zM331.2 764.8h8v8h-8zM371.2 772.8h8v8h-8zM339.2 788.8h8v8h-8zM355.2 788.8h8v8h-8zM219.2 836.8h8v8h-8zM307.2 844.8h8v8h-8zM323.2 844.8h8v8h-8zM171.2 852.8h8v8h-8zM227.2 852.8h8v8h-8zM331.2 852.8h8v8h-8zM147.2 860.8h16v8h-16zM299.2 860.8h8v8h-8zM339.2 868.8h8v8h-8zM243.2 884.8h8v8h-8zM243.2 892.8h8v8h-8zM339.2 892.8h8v8h-8zM243.2 900.8h8v8h-8zM331.2 900.8h8v8h-8zM147.2 924.8h24v8h-24zM187.2 924.8h8v8h-8zM235.2 924.8h8v8h-8zM203.2 932.8h8v8h-8zM163.2 940.8h8v8h-8zM195.2 940.8h8v8h-8zM227.2 972.8h8v8h-8zM227.2 980.8h8v8h-8zM227.2 1028.8h8v8h-8zM227.2 1036.8h8v8h-8z"/><path fill="#f1f4fe" d="M539.2 716.8h16v8h-16zM419.2 724.8h8v8h-8zM531.2 724.8h24v8h-24zM547.2 732.8h8v8h-8zM139.2 740.8h16v8h-16zM291.2 740.8h16v8h-16zM315.2 740.8h8v8h-8zM499.2 740.8h8v8h-8zM139.2 748.8h48v8h-48zM267.2 748.8h8v8h-8zM163.2 756.8h32v8h-32zM323.2 756.8h8v8h-8zM387.2 756.8h8v8h-8zM187.2 764.8h16v8h-16zM203.2 772.8h24v8h-24zM331.2 772.8h8v8h-8zM211.2 780.8h8v8h-8zM331.2 780.8h8v8h-8zM339.2 796.8h16v8h-16zM203.2 820.8h8v8h-8zM195.2 828.8h24v8h-24zM315.2 836.8h16v8h-16zM179.2 844.8h8v8h-8zM227.2 844.8h8v8h-8zM331.2 844.8h8v8h-8zM299.2 852.8h8v8h-8zM139.2 860.8h8v8h-8zM339.2 860.8h8v8h-8zM235.2 868.8h8v8h-8zM243.2 876.8h8v8h-8zM307.2 892.8h8v8h-8zM243.2 908.8h8v8h-8zM243.2 916.8h8v8h-8zM171.2 924.8h16v8h-16zM147.2 932.8h16v8h-16zM195.2 932.8h8v8h-8zM235.2 932.8h8v8h-8zM171.2 940.8h24v8h-24zM235.2 940.8h8v8h-8zM235.2 948.8h8v8h-8zM235.2 956.8h8v8h-8zM235.2 964.8h8v8h-8zM227.2 988.8h8v8h-8zM227.2 996.8h8v8h-8zM227.2 1004.8h8v8h-8zM227.2 1012.8h8v8h-8zM227.2 1020.8h8v8h-8z"/><path fill="#f4f6fe" d="M435.2 732.8h8v8h-8zM523.2 732.8h24v8h-24zM307.2 740.8h8v8h-8zM451.2 740.8h8v8h-8zM507.2 740.8h8v8h-8zM547.2 740.8h8v8h-8zM275.2 748.8h8v8h-8zM139.2 756.8h24v8h-24zM139.2 764.8h48v8h-48zM243.2 764.8h8v8h-8zM323.2 764.8h8v8h-8zM379.2 764.8h8v8h-8zM139.2 772.8h64v8h-64zM227.2 772.8h8v8h-8zM139.2 780.8h72v8h-72zM219.2 780.8h8v8h-8zM371.2 780.8h8v8h-8zM195.2 788.8h32v8h-32zM331.2 788.8h8v8h-8zM363.2 788.8h8v8h-8zM203.2 796.8h16v8h-16zM331.2 796.8h8v8h-8zM203.2 804.8h16v8h-16zM339.2 804.8h16v8h-16zM203.2 812.8h16v8h-16zM339.2 812.8h8v8h-8zM195.2 820.8h8v8h-8zM211.2 820.8h8v8h-8zM339.2 820.8h8v8h-8zM219.2 828.8h8v8h-8zM323.2 828.8h24v8h-24zM187.2 836.8h8v8h-8zM227.2 836.8h8v8h-8zM307.2 836.8h8v8h-8zM331.2 836.8h16v8h-16zM299.2 844.8h8v8h-8zM339.2 844.8h8v8h-8zM163.2 852.8h8v8h-8zM339.2 852.8h8v8h-8zM235.2 860.8h8v8h-8zM315.2 900.8h8v8h-8zM339.2 900.8h8v8h-8zM139.2 932.8h8v8h-8zM163.2 932.8h8v8h-8zM187.2 932.8h8v8h-8zM235.2 972.8h8v8h-8z"/><path fill="#f7f8fe" d="M419.2 732.8h16v8h-16zM411.2 740.8h8v8h-8zM515.2 740.8h32v8h-32zM315.2 748.8h8v8h-8zM547.2 748.8h8v8h-8zM259.2 756.8h8v8h-8zM235.2 772.8h8v8h-8zM323.2 772.8h8v8h-8zM227.2 780.8h8v8h-8zM139.2 788.8h56v8h-56zM139.2 796.8h24v8h-24zM179.2 796.8h24v8h-24zM219.2 796.8h8v8h-8zM355.2 796.8h8v8h-8zM195.2 804.8h8v8h-8zM219.2 804.8h8v8h-8zM331.2 804.8h8v8h-8zM195.2 812.8h8v8h-8zM219.2 812.8h8v8h-8zM331.2 812.8h8v8h-8zM347.2 812.8h8v8h-8zM219.2 820.8h8v8h-8zM323.2 820.8h16v8h-16zM347.2 820.8h8v8h-8zM227.2 828.8h8v8h-8zM315.2 828.8h8v8h-8zM347.2 828.8h8v8h-8zM139.2 852.8h8v8h-8zM235.2 852.8h8v8h-8zM291.2 852.8h8v8h-8zM291.2 860.8h8v8h-8zM243.2 868.8h8v8h-8zM347.2 868.8h8v8h-8zM347.2 876.8h8v8h-8zM299.2 884.8h8v8h-8zM347.2 884.8h8v8h-8zM331.2 908.8h8v8h-8zM243.2 924.8h8v8h-8zM171.2 932.8h16v8h-16zM243.2 932.8h8v8h-8zM235.2 980.8h8v8h-8zM235.2 988.8h8v8h-8zM235.2 996.8h8v8h-8zM235.2 1004.8h8v8h-8zM235.2 1012.8h8v8h-8zM235.2 1020.8h8v8h-8z"/><path fill="#fafbfe" d="M283.2 748.8h8v8h-8zM299.2 748.8h16v8h-16zM467.2 748.8h16v8h-16zM515.2 748.8h32v8h-32zM315.2 756.8h8v8h-8zM531.2 756.8h24v8h-24zM251.2 764.8h8v8h-8zM539.2 764.8h16v8h-16zM243.2 772.8h8v8h-8zM235.2 780.8h8v8h-8zM323.2 780.8h8v8h-8zM227.2 788.8h8v8h-8zM323.2 788.8h8v8h-8zM163.2 796.8h16v8h-16zM227.2 796.8h8v8h-8zM323.2 796.8h8v8h-8zM363.2 796.8h8v8h-8zM139.2 804.8h16v8h-16zM187.2 804.8h8v8h-8zM227.2 804.8h8v8h-8zM323.2 804.8h8v8h-8zM355.2 804.8h8v8h-8zM187.2 812.8h8v8h-8zM227.2 812.8h8v8h-8zM323.2 812.8h8v8h-8zM355.2 812.8h8v8h-8zM227.2 820.8h8v8h-8zM315.2 820.8h8v8h-8zM187.2 828.8h8v8h-8zM307.2 828.8h8v8h-8zM299.2 836.8h8v8h-8zM347.2 836.8h8v8h-8zM171.2 844.8h8v8h-8zM235.2 844.8h8v8h-8zM291.2 844.8h8v8h-8zM347.2 844.8h8v8h-8zM147.2 852.8h16v8h-16zM347.2 852.8h8v8h-8zM347.2 860.8h8v8h-8zM291.2 868.8h8v8h-8zM251.2 876.8h8v8h-8zM251.2 884.8h8v8h-8zM251.2 892.8h8v8h-8zM347.2 892.8h8v8h-8zM323.2 908.8h8v8h-8zM339.2 908.8h8v8h-8zM243.2 940.8h8v8h-8zM243.2 948.8h8v8h-8zM243.2 956.8h8v8h-8zM243.2 964.8h8v8h-8zM235.2 1028.8h8v8h-8zM235.2 1036.8h8v8h-8z"/><path fill="#fcfdff" d="M443.2 740.8h8v8h-8zM291.2 748.8h8v8h-8zM403.2 748.8h8v8h-8zM483.2 748.8h32v8h-32zM523.2 756.8h8v8h-8zM315.2 764.8h8v8h-8zM531.2 764.8h8v8h-8zM379.2 772.8h8v8h-8zM547.2 772.8h8v8h-8zM235.2 788.8h8v8h-8zM371.2 788.8h8v8h-8zM155.2 804.8h32v8h-32zM363.2 804.8h8v8h-8zM139.2 812.8h16v8h-16zM315.2 812.8h8v8h-8zM187.2 820.8h8v8h-8zM355.2 820.8h8v8h-8zM355.2 828.8h8v8h-8zM179.2 836.8h8v8h-8zM235.2 836.8h8v8h-8zM355.2 836.8h8v8h-8zM139.2 844.8h8v8h-8zM355.2 844.8h8v8h-8zM283.2 852.8h8v8h-8zM355.2 852.8h8v8h-8zM355.2 860.8h8v8h-8zM355.2 868.8h8v8h-8zM291.2 876.8h8v8h-8zM355.2 876.8h8v8h-8zM355.2 884.8h8v8h-8zM251.2 900.8h8v8h-8zM347.2 900.8h8v8h-8zM251.2 908.8h8v8h-8zM243.2 972.8h8v8h-8zM243.2 980.8h8v8h-8zM243.2 988.8h8v8h-8zM243.2 1012.8h8v8h-8z"/><path fill="#ffffff" d="M435.2 740.8h8v8h-8zM459.2 748.8h8v8h-8zM267.2 756.8h8v8h-8zM307.2 756.8h8v8h-8zM395.2 756.8h8v8h-8zM515.2 756.8h8v8h-8zM315.2 772.8h8v8h-8zM539.2 772.8h8v8h-8zM243.2 780.8h8v8h-8zM315.2 780.8h8v8h-8zM379.2 780.8h8v8h-8zM315.2 788.8h8v8h-8zM235.2 796.8h8v8h-8zM371.2 796.8h8v8h-8zM235.2 804.8h8v8h-8zM315.2 804.8h8v8h-8zM155.2 812.8h8v8h-8zM179.2 812.8h8v8h-8zM235.2 812.8h8v8h-8zM363.2 812.8h8v8h-8zM139.2 820.8h16v8h-16zM235.2 820.8h8v8h-8zM307.2 820.8h8v8h-8zM363.2 820.8h8v8h-8zM139.2 828.8h8v8h-8zM235.2 828.8h8v8h-8zM299.2 828.8h8v8h-8zM139.2 836.8h8v8h-8zM291.2 836.8h8v8h-8zM163.2 844.8h8v8h-8zM283.2 844.8h8v8h-8zM243.2 860.8h8v8h-8zM283.2 860.8h8v8h-8zM251.2 868.8h8v8h-8zM355.2 892.8h8v8h-8zM347.2 908.8h8v8h-8zM251.2 916.8h8v8h-8zM331.2 916.8h16v8h-16zM251.2 924.8h8v8h-8zM243.2 996.8h8v8h-8zM243.2 1004.8h8v8h-8zM243.2 1020.8h8v8h-8zM243.2 1028.8h8v8h-8zM243.2 1036.8h8v8h-8z"/><path fill="#fffbfa" d="M419.2 740.8h16v8h-16zM275.2 756.8h8v8h-8zM299.2 756.8h8v8h-8zM507.2 756.8h8v8h-8zM307.2 764.8h8v8h-8zM387.2 764.8h8v8h-8zM523.2 764.8h8v8h-8zM251.2 772.8h8v8h-8zM531.2 772.8h8v8h-8zM547.2 780.8h8v8h-8zM243.2 788.8h8v8h-8zM243.2 796.8h8v8h-8zM315.2 796.8h8v8h-8zM371.2 804.8h8v8h-8zM163.2 812.8h16v8h-16zM155.2 820.8h8v8h-8zM179.2 820.8h8v8h-8zM147.2 828.8h8v8h-8zM179.2 828.8h8v8h-8zM363.2 828.8h8v8h-8zM171.2 836.8h8v8h-8zM283.2 836.8h8v8h-8zM363.2 836.8h8v8h-8zM147.2 844.8h16v8h-16zM243.2 844.8h8v8h-8zM363.2 844.8h8v8h-8zM243.2 852.8h8v8h-8zM363.2 852.8h8v8h-8zM363.2 860.8h8v8h-8zM283.2 868.8h8v8h-8zM363.2 868.8h8v8h-8zM259.2 876.8h8v8h-8zM363.2 876.8h8v8h-8zM259.2 884.8h8v8h-8zM363.2 884.8h8v8h-8zM355.2 900.8h8v8h-8zM251.2 932.8h8v8h-8zM395.2 932.8h8v8h-8zM251.2 940.8h8v8h-8zM395.2 940.8h8v8h-8z"/><path fill="#fff7f5" d="M451.2 748.8h8v8h-8zM283.2 756.8h16v8h-16zM499.2 756.8h8v8h-8zM259.2 764.8h8v8h-8zM307.2 772.8h8v8h-8zM251.2 780.8h8v8h-8zM379.2 788.8h8v8h-8zM243.2 804.8h8v8h-8zM243.2 812.8h8v8h-8zM307.2 812.8h8v8h-8zM371.2 812.8h8v8h-8zM163.2 820.8h16v8h-16zM243.2 820.8h8v8h-8zM299.2 820.8h8v8h-8zM371.2 820.8h8v8h-8zM155.2 828.8h8v8h-8zM171.2 828.8h8v8h-8zM243.2 828.8h8v8h-8zM291.2 828.8h8v8h-8zM371.2 828.8h8v8h-8zM147.2 836.8h8v8h-8zM243.2 836.8h8v8h-8zM371.2 836.8h8v8h-8zM275.2 844.8h8v8h-8zM371.2 844.8h8v8h-8zM275.2 852.8h8v8h-8zM371.2 852.8h16v8h-16zM275.2 860.8h8v8h-8zM371.2 860.8h16v8h-16zM275.2 868.8h8v8h-8zM371.2 868.8h16v8h-16zM267.2 876.8h8v8h-8zM371.2 876.8h8v8h-8zM371.2 884.8h8v8h-8zM363.2 892.8h8v8h-8zM307.2 900.8h8v8h-8zM363.2 900.8h8v8h-8zM315.2 908.8h8v8h-8zM355.2 908.8h8v8h-8zM323.2 916.8h8v8h-8zM347.2 916.8h8v8h-8zM411.2 916.8h16v8h-16zM331.2 924.8h16v8h-16zM395.2 924.8h40v8h-40zM387.2 932.8h8v8h-8zM403.2 932.8h40v8h-40zM387.2 940.8h8v8h-8zM403.2 940.8h48v8h-48zM251.2 948.8h8v8h-8zM387.2 948.8h72v8h-72zM251.2 956.8h8v8h-8zM379.2 956.8h80v8h-80zM371.2 964.8h96v8h-96zM371.2 972.8h104v8h-104zM363.2 980.8h120v8h-120zM371.2 988.8h120v8h-120zM395.2 996.8h104v8h-104zM435.2 1004.8h64v8h-64zM251.2 1012.8h8v8h-8zM467.2 1012.8h40v8h-40zM251.2 1020.8h8v8h-8zM507.2 1020.8h8v8h-8zM251.2 1028.8h8v8h-8zM251.2 1036.8h8v8h-8z"/><path fill="#fff4ef" d="M483.2 756.8h16v8h-16zM299.2 764.8h8v8h-8zM515.2 764.8h8v8h-8zM387.2 772.8h8v8h-8zM523.2 772.8h8v8h-8zM307.2 780.8h8v8h-8zM539.2 780.8h8v8h-8zM251.2 788.8h8v8h-8zM379.2 796.8h8v8h-8zM307.2 804.8h8v8h-8zM379.2 804.8h8v8h-8zM291.2 820.8h8v8h-8zM163.2 828.8h8v8h-8zM283.2 828.8h8v8h-8zM379.2 828.8h8v8h-8zM155.2 836.8h16v8h-16zM275.2 836.8h8v8h-8zM379.2 836.8h8v8h-8zM379.2 844.8h8v8h-8zM387.2 852.8h8v8h-8zM251.2 860.8h8v8h-8zM267.2 860.8h8v8h-8zM387.2 860.8h8v8h-8zM259.2 868.8h16v8h-16zM387.2 868.8h8v8h-8zM275.2 876.8h16v8h-16zM379.2 876.8h8v8h-8zM291.2 884.8h8v8h-8zM379.2 884.8h8v8h-8zM259.2 892.8h8v8h-8zM299.2 892.8h8v8h-8zM371.2 892.8h8v8h-8zM411.2 908.8h24v8h-24zM355.2 916.8h8v8h-8zM403.2 916.8h8v8h-8zM427.2 916.8h16v8h-16zM347.2 924.8h8v8h-8zM435.2 924.8h16v8h-16zM339.2 932.8h8v8h-8zM443.2 932.8h16v8h-16zM451.2 940.8h8v8h-8zM379.2 948.8h8v8h-8zM459.2 948.8h8v8h-8zM371.2 956.8h8v8h-8zM459.2 956.8h16v8h-16zM251.2 964.8h8v8h-8zM467.2 964.8h16v8h-16zM251.2 972.8h8v8h-8zM363.2 972.8h8v8h-8zM475.2 972.8h16v8h-16zM251.2 980.8h8v8h-8zM355.2 980.8h8v8h-8zM483.2 980.8h16v8h-16zM251.2 988.8h8v8h-8zM363.2 988.8h8v8h-8zM491.2 988.8h8v8h-8zM251.2 996.8h8v8h-8zM387.2 996.8h8v8h-8zM499.2 996.8h8v8h-8zM251.2 1004.8h8v8h-8zM427.2 1004.8h8v8h-8zM499.2 1004.8h16v8h-16zM459.2 1012.8h8v8h-8zM507.2 1012.8h16v8h-16zM499.2 1020.8h8v8h-8zM515.2 1020.8h8v8h-8z"/><path fill="#fff0ea" d="M411.2 748.8h8v8h-8zM443.2 748.8h8v8h-8zM467.2 756.8h16v8h-16zM267.2 764.8h8v8h-8zM499.2 764.8h16v8h-16zM259.2 772.8h8v8h-8zM387.2 780.8h8v8h-8zM531.2 780.8h8v8h-8zM307.2 788.8h8v8h-8zM547.2 788.8h8v8h-8zM251.2 796.8h8v8h-8zM307.2 796.8h8v8h-8zM251.2 804.8h8v8h-8zM251.2 812.8h8v8h-8zM299.2 812.8h8v8h-8zM379.2 812.8h8v8h-8zM251.2 820.8h8v8h-8zM283.2 820.8h8v8h-8zM379.2 820.8h8v8h-8zM251.2 828.8h8v8h-8zM275.2 828.8h8v8h-8zM251.2 836.8h8v8h-8zM387.2 836.8h8v8h-8zM251.2 844.8h8v8h-8zM267.2 844.8h8v8h-8zM387.2 844.8h8v8h-8zM251.2 852.8h8v8h-8zM267.2 852.8h8v8h-8zM395.2 852.8h16v8h-16zM259.2 860.8h8v8h-8zM395.2 860.8h16v8h-16zM395.2 868.8h8v8h-8zM387.2 876.8h8v8h-8zM435.2 876.8h16v8h-16zM267.2 884.8h8v8h-8zM427.2 884.8h32v8h-32zM379.2 892.8h8v8h-8zM427.2 892.8h40v8h-40zM371.2 900.8h8v8h-8zM411.2 900.8h64v8h-64zM363.2 908.8h8v8h-8zM403.2 908.8h8v8h-8zM435.2 908.8h48v8h-48zM395.2 916.8h8v8h-8zM443.2 916.8h48v8h-48zM387.2 924.8h8v8h-8zM451.2 924.8h48v8h-48zM331.2 932.8h8v8h-8zM347.2 932.8h8v8h-8zM459.2 932.8h48v8h-48zM331.2 940.8h16v8h-16zM379.2 940.8h8v8h-8zM459.2 940.8h56v8h-56zM331.2 948.8h8v8h-8zM371.2 948.8h8v8h-8zM467.2 948.8h56v8h-56zM475.2 956.8h56v8h-56zM363.2 964.8h8v8h-8zM483.2 964.8h56v8h-56zM491.2 972.8h56v8h-56zM499.2 980.8h56v8h-56zM355.2 988.8h8v8h-8zM499.2 988.8h56v8h-56zM379.2 996.8h8v8h-8zM507.2 996.8h48v8h-48zM411.2 1004.8h16v8h-16zM515.2 1004.8h40v8h-40zM443.2 1012.8h16v8h-16zM523.2 1012.8h32v8h-32zM259.2 1020.8h8v8h-8zM483.2 1020.8h16v8h-16zM523.2 1020.8h32v8h-32zM259.2 1028.8h8v8h-8zM531.2 1028.8h24v8h-24zM259.2 1036.8h8v8h-8zM539.2 1036.8h16v8h-16z"/><path fill="#ffece5" d="M459.2 756.8h8v8h-8zM275.2 764.8h8v8h-8zM291.2 764.8h8v8h-8zM491.2 764.8h8v8h-8zM299.2 772.8h8v8h-8zM515.2 772.8h8v8h-8zM259.2 780.8h8v8h-8zM523.2 780.8h8v8h-8zM387.2 788.8h8v8h-8zM539.2 788.8h8v8h-8zM387.2 796.8h8v8h-8zM387.2 804.8h8v8h-8zM291.2 812.8h8v8h-8zM387.2 812.8h8v8h-8zM259.2 820.8h8v8h-8zM275.2 820.8h8v8h-8zM387.2 820.8h8v8h-8zM259.2 828.8h16v8h-16zM387.2 828.8h8v8h-8zM259.2 836.8h16v8h-16zM395.2 836.8h8v8h-8zM259.2 844.8h8v8h-8zM395.2 844.8h32v8h-32zM259.2 852.8h8v8h-8zM411.2 852.8h16v8h-16zM411.2 860.8h8v8h-8zM403.2 868.8h8v8h-8zM435.2 868.8h16v8h-16zM395.2 876.8h8v8h-8zM427.2 876.8h8v8h-8zM451.2 876.8h8v8h-8zM275.2 884.8h8v8h-8zM387.2 884.8h8v8h-8zM419.2 884.8h8v8h-8zM459.2 884.8h8v8h-8zM419.2 892.8h8v8h-8zM467.2 892.8h8v8h-8zM259.2 900.8h8v8h-8zM475.2 900.8h8v8h-8zM371.2 908.8h8v8h-8zM483.2 908.8h8v8h-8zM363.2 916.8h8v8h-8zM491.2 916.8h8v8h-8zM323.2 924.8h8v8h-8zM355.2 924.8h8v8h-8zM499.2 924.8h8v8h-8zM507.2 932.8h8v8h-8zM515.2 940.8h8v8h-8zM339.2 948.8h8v8h-8zM523.2 948.8h8v8h-8zM323.2 956.8h16v8h-16zM363.2 956.8h8v8h-8zM531.2 956.8h8v8h-8zM323.2 964.8h8v8h-8zM539.2 964.8h8v8h-8zM355.2 972.8h8v8h-8zM547.2 972.8h8v8h-8zM347.2 980.8h8v8h-8zM347.2 988.8h8v8h-8zM371.2 996.8h8v8h-8zM395.2 1004.8h16v8h-16zM259.2 1012.8h8v8h-8zM435.2 1012.8h8v8h-8zM467.2 1020.8h16v8h-16zM507.2 1028.8h24v8h-24zM531.2 1036.8h8v8h-8z"/><path fill="#ffe8e0" d="M435.2 748.8h8v8h-8zM283.2 764.8h8v8h-8zM483.2 764.8h8v8h-8zM267.2 772.8h8v8h-8zM491.2 772.8h24v8h-24zM299.2 780.8h8v8h-8zM491.2 780.8h32v8h-32zM259.2 788.8h8v8h-8zM491.2 788.8h48v8h-48zM259.2 796.8h8v8h-8zM491.2 796.8h64v8h-64zM259.2 804.8h8v8h-8zM299.2 804.8h8v8h-8zM483.2 804.8h72v8h-72zM259.2 812.8h32v8h-32zM491.2 812.8h64v8h-64zM267.2 820.8h8v8h-8zM395.2 820.8h8v8h-8zM491.2 820.8h64v8h-64zM395.2 828.8h8v8h-8zM443.2 828.8h16v8h-16zM491.2 828.8h64v8h-64zM403.2 836.8h56v8h-56zM483.2 836.8h72v8h-72zM427.2 844.8h24v8h-24zM483.2 844.8h72v8h-72zM427.2 852.8h8v8h-8zM491.2 852.8h64v8h-64zM419.2 860.8h32v8h-32zM491.2 860.8h64v8h-64zM411.2 868.8h24v8h-24zM451.2 868.8h8v8h-8zM499.2 868.8h56v8h-56zM403.2 876.8h24v8h-24zM459.2 876.8h8v8h-8zM507.2 876.8h48v8h-48zM283.2 884.8h8v8h-8zM395.2 884.8h8v8h-8zM467.2 884.8h8v8h-8zM507.2 884.8h48v8h-48zM267.2 892.8h8v8h-8zM387.2 892.8h8v8h-8zM411.2 892.8h8v8h-8zM475.2 892.8h8v8h-8zM515.2 892.8h40v8h-40zM379.2 900.8h8v8h-8zM403.2 900.8h8v8h-8zM483.2 900.8h8v8h-8zM515.2 900.8h40v8h-40zM259.2 908.8h8v8h-8zM395.2 908.8h8v8h-8zM491.2 908.8h8v8h-8zM523.2 908.8h32v8h-32zM259.2 916.8h8v8h-8zM315.2 916.8h8v8h-8zM387.2 916.8h8v8h-8zM499.2 916.8h8v8h-8zM531.2 916.8h24v8h-24zM363.2 924.8h8v8h-8zM507.2 924.8h8v8h-8zM531.2 924.8h24v8h-24zM355.2 932.8h8v8h-8zM379.2 932.8h8v8h-8zM515.2 932.8h8v8h-8zM539.2 932.8h16v8h-16zM347.2 940.8h8v8h-8zM523.2 940.8h8v8h-8zM539.2 940.8h16v8h-16zM323.2 948.8h8v8h-8zM531.2 948.8h24v8h-24zM339.2 956.8h8v8h-8zM539.2 956.8h8v8h-8zM331.2 964.8h8v8h-8zM547.2 964.8h8v8h-8zM323.2 972.8h8v8h-8zM259.2 988.8h8v8h-8zM259.2 996.8h8v8h-8zM363.2 996.8h8v8h-8zM259.2 1004.8h8v8h-8zM387.2 1004.8h8v8h-8zM427.2 1012.8h8v8h-8zM267.2 1020.8h8v8h-8zM459.2 1020.8h8v8h-8zM267.2 1028.8h8v8h-8zM499.2 1028.8h8v8h-8zM267.2 1036.8h8v8h-8z"/><path fill="#ffe4db" d="M403.2 756.8h8v8h-8zM395.2 764.8h8v8h-8zM475.2 764.8h8v8h-8zM275.2 772.8h24v8h-24zM483.2 772.8h8v8h-8zM267.2 780.8h8v8h-8zM483.2 780.8h8v8h-8zM267.2 788.8h8v8h-8zM299.2 788.8h8v8h-8zM483.2 788.8h8v8h-8zM267.2 796.8h8v8h-8zM299.2 796.8h8v8h-8zM483.2 796.8h8v8h-8zM267.2 804.8h32v8h-32zM395.2 804.8h8v8h-8zM475.2 804.8h8v8h-8zM395.2 812.8h8v8h-8zM459.2 812.8h8v8h-8zM483.2 812.8h8v8h-8zM443.2 820.8h24v8h-24zM483.2 820.8h8v8h-8zM403.2 828.8h40v8h-40zM459.2 828.8h8v8h-8zM483.2 828.8h8v8h-8zM459.2 836.8h24v8h-24zM451.2 844.8h32v8h-32zM435.2 852.8h56v8h-56zM451.2 860.8h40v8h-40zM459.2 868.8h40v8h-40zM467.2 876.8h40v8h-40zM403.2 884.8h16v8h-16zM475.2 884.8h32v8h-32zM395.2 892.8h16v8h-16zM483.2 892.8h32v8h-32zM387.2 900.8h16v8h-16zM491.2 900.8h24v8h-24zM379.2 908.8h16v8h-16zM499.2 908.8h24v8h-24zM371.2 916.8h16v8h-16zM507.2 916.8h24v8h-24zM259.2 924.8h8v8h-8zM371.2 924.8h16v8h-16zM515.2 924.8h16v8h-16zM259.2 932.8h8v8h-8zM323.2 932.8h8v8h-8zM363.2 932.8h8v8h-8zM523.2 932.8h16v8h-16zM259.2 940.8h8v8h-8zM323.2 940.8h8v8h-8zM355.2 940.8h8v8h-8zM371.2 940.8h8v8h-8zM531.2 940.8h8v8h-8zM259.2 948.8h8v8h-8zM347.2 948.8h8v8h-8zM363.2 948.8h8v8h-8zM547.2 956.8h8v8h-8zM355.2 964.8h8v8h-8zM259.2 972.8h8v8h-8zM315.2 972.8h8v8h-8zM331.2 972.8h8v8h-8zM347.2 972.8h8v8h-8zM259.2 980.8h8v8h-8zM315.2 980.8h16v8h-16zM339.2 988.8h8v8h-8zM347.2 996.8h16v8h-16zM267.2 1012.8h8v8h-8zM275.2 1020.8h8v8h-8zM275.2 1028.8h8v8h-8zM275.2 1036.8h8v8h-8z"/><path fill="#ffe0d6" d="M419.2 748.8h16v8h-16zM451.2 756.8h8v8h-8zM467.2 764.8h8v8h-8zM475.2 772.8h8v8h-8zM275.2 780.8h24v8h-24zM475.2 780.8h8v8h-8zM275.2 788.8h24v8h-24zM395.2 788.8h8v8h-8zM475.2 788.8h8v8h-8zM275.2 796.8h24v8h-24zM395.2 796.8h8v8h-8zM475.2 796.8h8v8h-8zM467.2 804.8h8v8h-8zM403.2 812.8h8v8h-8zM451.2 812.8h8v8h-8zM467.2 812.8h16v8h-16zM403.2 820.8h8v8h-8zM435.2 820.8h8v8h-8zM467.2 820.8h16v8h-16zM467.2 828.8h16v8h-16zM307.2 908.8h8v8h-8zM371.2 932.8h8v8h-8zM363.2 940.8h8v8h-8zM355.2 948.8h8v8h-8zM259.2 956.8h8v8h-8zM347.2 956.8h16v8h-16zM259.2 964.8h8v8h-8zM315.2 964.8h8v8h-8zM339.2 964.8h8v8h-8zM339.2 972.8h8v8h-8zM331.2 980.8h16v8h-16zM315.2 988.8h24v8h-24zM315.2 996.8h8v8h-8zM339.2 996.8h8v8h-8zM267.2 1004.8h8v8h-8zM379.2 1004.8h8v8h-8zM275.2 1012.8h8v8h-8zM419.2 1012.8h8v8h-8zM451.2 1020.8h8v8h-8zM491.2 1028.8h8v8h-8zM523.2 1036.8h8v8h-8z"/><path fill="#ffddd0" d="M395.2 772.8h8v8h-8zM395.2 780.8h8v8h-8zM467.2 796.8h8v8h-8zM403.2 804.8h8v8h-8zM459.2 804.8h8v8h-8zM443.2 812.8h8v8h-8zM411.2 820.8h24v8h-24zM275.2 892.8h8v8h-8zM315.2 956.8h8v8h-8zM347.2 964.8h8v8h-8zM307.2 988.8h8v8h-8zM267.2 996.8h8v8h-8zM307.2 996.8h8v8h-8zM323.2 996.8h16v8h-16zM307.2 1004.8h8v8h-8zM403.2 1012.8h16v8h-16zM283.2 1020.8h8v8h-8zM443.2 1020.8h8v8h-8zM283.2 1028.8h8v8h-8zM475.2 1028.8h16v8h-16zM283.2 1036.8h8v8h-8zM515.2 1036.8h8v8h-8z"/><path fill="#ffd9cb" d="M443.2 756.8h8v8h-8zM459.2 764.8h8v8h-8zM467.2 772.8h8v8h-8zM467.2 780.8h8v8h-8zM467.2 788.8h8v8h-8zM403.2 796.8h8v8h-8zM451.2 804.8h8v8h-8zM411.2 812.8h8v8h-8zM291.2 892.8h8v8h-8zM267.2 900.8h8v8h-8zM299.2 900.8h8v8h-8zM315.2 924.8h8v8h-8zM307.2 980.8h8v8h-8zM267.2 988.8h8v8h-8zM275.2 1004.8h8v8h-8zM299.2 1004.8h8v8h-8zM315.2 1004.8h8v8h-8zM347.2 1004.8h32v8h-32zM283.2 1012.8h8v8h-8zM299.2 1012.8h16v8h-16zM387.2 1012.8h16v8h-16zM291.2 1020.8h16v8h-16zM427.2 1020.8h16v8h-16zM291.2 1028.8h8v8h-8zM459.2 1028.8h16v8h-16zM291.2 1036.8h8v8h-8zM499.2 1036.8h16v8h-16z"/><path fill="#ffd5c6" d="M459.2 772.8h8v8h-8zM459.2 780.8h8v8h-8zM459.2 788.8h8v8h-8zM459.2 796.8h8v8h-8zM411.2 804.8h8v8h-8zM419.2 812.8h24v8h-24zM315.2 948.8h8v8h-8zM267.2 972.8h8v8h-8zM307.2 972.8h8v8h-8zM267.2 980.8h8v8h-8zM275.2 996.8h8v8h-8zM299.2 996.8h8v8h-8zM283.2 1004.8h8v8h-8zM323.2 1004.8h24v8h-24zM291.2 1012.8h8v8h-8zM315.2 1012.8h8v8h-8zM379.2 1012.8h8v8h-8zM307.2 1020.8h8v8h-8zM419.2 1020.8h8v8h-8zM299.2 1028.8h16v8h-16zM451.2 1028.8h8v8h-8zM299.2 1036.8h16v8h-16zM491.2 1036.8h8v8h-8z"/><path fill="#ffd1c1" d="M451.2 764.8h8v8h-8zM403.2 788.8h8v8h-8zM411.2 796.8h8v8h-8zM451.2 796.8h8v8h-8zM419.2 804.8h8v8h-8zM443.2 804.8h8v8h-8zM283.2 892.8h8v8h-8zM315.2 932.8h8v8h-8zM315.2 940.8h8v8h-8zM267.2 964.8h8v8h-8zM275.2 988.8h8v8h-8zM299.2 988.8h8v8h-8zM291.2 1004.8h8v8h-8zM323.2 1012.8h56v8h-56zM315.2 1020.8h104v8h-104zM315.2 1028.8h136v8h-136zM315.2 1036.8h176v8h-176z"/><path fill="#ffcdbc" d="M411.2 756.8h8v8h-8zM435.2 756.8h8v8h-8zM403.2 764.8h8v8h-8zM451.2 780.8h8v8h-8zM451.2 788.8h8v8h-8zM419.2 796.8h8v8h-8zM427.2 804.8h16v8h-16zM267.2 908.8h8v8h-8zM307.2 916.8h8v8h-8zM267.2 956.8h8v8h-8zM307.2 964.8h8v8h-8zM299.2 980.8h8v8h-8zM283.2 996.8h16v8h-16z"/><path fill="#ffc9b7" d="M451.2 772.8h8v8h-8zM403.2 780.8h8v8h-8zM443.2 796.8h8v8h-8zM275.2 980.8h8v8h-8zM283.2 988.8h16v8h-16z"/><path fill="#ffc6b2" d="M427.2 756.8h8v8h-8zM443.2 764.8h8v8h-8zM403.2 772.8h8v8h-8zM411.2 788.8h8v8h-8zM443.2 788.8h8v8h-8zM427.2 796.8h16v8h-16zM275.2 900.8h8v8h-8zM267.2 916.8h8v8h-8zM267.2 948.8h8v8h-8zM307.2 956.8h8v8h-8zM299.2 972.8h8v8h-8z"/><path fill="#ffc2ad" d="M419.2 756.8h8v8h-8zM443.2 772.8h8v8h-8zM443.2 780.8h8v8h-8zM299.2 908.8h8v8h-8zM267.2 924.8h8v8h-8zM307.2 924.8h8v8h-8zM267.2 932.8h8v8h-8zM267.2 940.8h8v8h-8zM307.2 948.8h8v8h-8zM275.2 972.8h8v8h-8zM283.2 980.8h16v8h-16z"/><path fill="#ffbea8" d="M419.2 788.8h24v8h-24zM275.2 964.8h8v8h-8zM299.2 964.8h8v8h-8z"/><path fill="#ffbaa3" d="M435.2 764.8h8v8h-8zM411.2 780.8h8v8h-8zM435.2 780.8h8v8h-8zM291.2 900.8h8v8h-8zM307.2 932.8h8v8h-8zM307.2 940.8h8v8h-8zM283.2 972.8h16v8h-16z"/><path fill="#ffb69e" d="M411.2 764.8h8v8h-8zM435.2 772.8h8v8h-8zM275.2 956.8h8v8h-8zM299.2 956.8h8v8h-8z"/><path fill="#ffb299" d="M427.2 764.8h8v8h-8zM419.2 780.8h16v8h-16zM283.2 900.8h8v8h-8zM283.2 964.8h16v8h-16z"/><path fill="#ffae95" d="M411.2 772.8h8v8h-8zM275.2 908.8h8v8h-8zM299.2 916.8h8v8h-8z"/><path fill="#ffaa90" d="M419.2 764.8h8v8h-8zM427.2 772.8h8v8h-8zM275.2 948.8h8v8h-8zM299.2 948.8h8v8h-8zM291.2 956.8h8v8h-8z"/><path fill="#ffa68b" d="M419.2 772.8h8v8h-8zM299.2 924.8h8v8h-8zM283.2 956.8h8v8h-8z"/><path fill="#ffa286" d="M291.2 908.8h8v8h-8zM275.2 916.8h8v8h-8zM275.2 940.8h8v8h-8zM299.2 940.8h8v8h-8z"/><path fill="#ff9e81" d="M299.2 932.8h8v8h-8zM291.2 948.8h8v8h-8z"/><path fill="#ff9a7c" d="M283.2 908.8h8v8h-8zM275.2 924.8h8v8h-8zM275.2 932.8h8v8h-8zM283.2 948.8h8v8h-8z"/><path fill="#ff9273" d="M291.2 916.8h8v8h-8zM291.2 940.8h8v8h-8z"/><path fill="#ff8d6e" d="M283.2 940.8h8v8h-8z"/><path fill="#ff8969" d="M283.2 916.8h8v8h-8zM291.2 924.8h8v8h-8zM291.2 932.8h8v8h-8z"/><path fill="#ff8565" d="M283.2 924.8h8v8h-8zM283.2 932.8h8v8h-8z"/></g></g>
<g clip-path="url(#clipC)"><path d="M553 686L540 694L525 697L515 702L508 709L500 717L493 720L486 723L478 728L470 732L462 734L458 740L460 746L468 742L478 738L488 733L498 723L505 720L513 716L525 712L540 704L553 694Z" fill="#ffffff" fill-opacity="0.7"/><path d="M447 767L440 772L434 778L429 784L428 788L433 787L440 782L447 776L452 771Z" fill="#ffffff" fill-opacity="0.7"/><path d="M452 771L460 767L472 763L485 760L495 758L505 754L507 750L495 754L483 757L470 760L458 764L448 769Z" fill="#ffffff" fill-opacity="0.7"/><path d="M487 772L476 769L470 778L462 785L455 794L445 804L436 814L428 828L418 839L411 852L405 867L396 879L385 888L372 894L362 904L375 912L395 902L415 877L435 857L445 837L455 817L465 802L478 787L487 777Z" fill="#ffffff" fill-opacity="0.7"/><path d="M372 894L362 904L350 916L336 926L323 938L314 952L311 972L312 1002L314 1027.7L321 1027.7L318 1002L318 977L322 962L330 950L345 938L360 924L375 912Z" fill="#ffffff" fill-opacity="0.7"/><path d="M192 1027.7L200 1020L210 1012L218 1006L224 1001L226 1010L222 1022L222 1027.7Z" fill="#ffffff" fill-opacity="0.85"/><path d="M233 1003L236 1005L233 1014L229 1020L227 1018L230 1010Z" fill="#ffffff"/><path d="M553.3 692.5L549.4 696.9L545.1 704.5L539.6 711L533.2 714.2L527.2 713.2L516.8 720.6L513.8 726.6L513 731.8L507.1 737L501.9 737.7L504.1 723.6L501.9 721.4L498.1 722.8L491.4 733.3L487 733.3L479.5 737.7L473.6 742.2L472.8 745.9L478 748.1L485.5 749.6L472.1 754.1L461.7 757.1L454.2 760.8L448.3 766.8L447.5 771.2L452.7 771.2L461.7 766L472.1 762.3L483.3 759.3L492.9 757.1L501.9 754.1L507.8 751.6L501.9 757.1L490.7 761.5L483.3 769L476.6 773.4L473.6 777.9L476.6 783.9L474.9 792.6L461.8 802.5L453.6 810.6L452 825.4L445.5 829.5L443.8 837.6L437.3 847.5L436.5 857.3L429.1 863L420.9 866.3L414.4 868.7L420.9 872.8L412.7 880.2L404.5 888.4L396.4 900.7L393.5 904.2L384.2 902.3L374.8 906L373.9 913.5L365.5 916.3L367.4 920.1L360.8 926.6L350.5 931.3L347.7 938.8L339.3 942.5L337.4 946.3L328.1 950L321.5 957.5L317.8 966.8L316.8 976.2L315.9 994.9L318.7 1008.9L317.8 1021.1L319.6 1027.6L318.7 1032.3L319.6 1047.3L544.9 1047.3L546.6 1041.4L551.9 1035.2L550.1 1026.4L544.9 1019.4L537.8 1014.2L533.5 1008L529.1 1007.2L523.8 1005.4L522 989.6L522 975.6L525.6 972.1L526.4 961.6L529.5 955L526.4 950.2L530.8 948.4L536.1 943.2L536.1 938.8L543.1 934.4L546.6 925.7L553.3 923Z" fill="#ffffff" stroke="#fff" stroke-width="4" stroke-linejoin="round"/><path d="M553.3 692.5L549.4 696.9L545.1 704.5L539.6 711L533.2 714.2L527.2 713.2L516.8 720.6L513.8 726.6L513 731.8L507.1 737L501.9 737.7L504.1 723.6L501.9 721.4L498.1 722.8L491.4 733.3L487 733.3L479.5 737.7L473.6 742.2L472.8 745.9L478 748.1L485.5 749.6L472.1 754.1L461.7 757.1L454.2 760.8L448.3 766.8L447.5 771.2L452.7 771.2L461.7 766L472.1 762.3L483.3 759.3L492.9 757.1L501.9 754.1L507.8 751.6L501.9 757.1L490.7 761.5L483.3 769L476.6 773.4L473.6 777.9L476.6 783.9L474.9 792.6L461.8 802.5L453.6 810.6L452 825.4L445.5 829.5L443.8 837.6L437.3 847.5L436.5 857.3L429.1 863L420.9 866.3L414.4 868.7L420.9 872.8L412.7 880.2L404.5 888.4L396.4 900.7L393.5 904.2L384.2 902.3L374.8 906L373.9 913.5L365.5 916.3L367.4 920.1L360.8 926.6L350.5 931.3L347.7 938.8L339.3 942.5L337.4 946.3L328.1 950L321.5 957.5L317.8 966.8L316.8 976.2L315.9 994.9L318.7 1008.9L317.8 1021.1L319.6 1027.6L318.7 1032.3L319.6 1047.3L544.9 1047.3L546.6 1041.4L551.9 1035.2L550.1 1026.4L544.9 1019.4L537.8 1014.2L533.5 1008L529.1 1007.2L523.8 1005.4L522 989.6L522 975.6L525.6 972.1L526.4 961.6L529.5 955L526.4 950.2L530.8 948.4L536.1 943.2L536.1 938.8L543.1 934.4L546.6 925.7L553.3 923Z" fill="#D3D3D3"/><path d="M223.7 999.2L225.7 1000.8L225.3 1006.5L221.7 1008.1L221.3 1012.2L220.9 1017.5L219.2 1023.5L218 1031.7L216 1033.3L214.4 1031.7L214.4 1025.6L211.5 1022.3L209.1 1019.5L209.9 1017L212.7 1015.4L210.3 1012.2L211.9 1008.1L218.4 1004.9L220.9 1001.6Z" fill="#D3D3D3"/></g>
<g clip-path="url(#clipC)" fill="#000"><circle cx="290.7" cy="651.0" r="3.5"/><circle cx="299.5" cy="645.6" r="3.5"/><circle cx="313.7" cy="682.4" r="3.5"/><circle cx="244.0" cy="703.1" r="3.5"/><circle cx="238.6" cy="736.9" r="3.5"/><circle cx="259.3" cy="740.3" r="3.5"/><circle cx="291.4" cy="773.2" r="3.5"/><circle cx="302.9" cy="788.7" r="3.5"/><circle cx="414.2" cy="630.7" r="3.5"/><circle cx="484.1" cy="655.7" r="3.5"/><circle cx="489.1" cy="687.5" r="3.5"/><circle cx="380.6" cy="705.1" r="3.5"/><circle cx="407.7" cy="701.7" r="3.5"/><circle cx="368.8" cy="725.8" r="3.5"/><circle cx="399.5" cy="732.6" r="3.5"/><circle cx="471.7" cy="702.1" r="3.5"/><circle cx="476.7" cy="708.5" r="3.5"/><circle cx="471.7" cy="713.9" r="3.5"/><circle cx="466.3" cy="718.6" r="3.5"/><circle cx="451.4" cy="722.0" r="3.5"/><circle cx="470.3" cy="728.4" r="3.5"/><circle cx="484.1" cy="715.0" r="3.5"/><circle cx="487.9" cy="718.0" r="3.5"/><circle cx="497.2" cy="715.3" r="3.5"/><circle cx="444.2" cy="740.3" r="3.5"/><circle cx="419.2" cy="752.5" r="3.5"/><circle cx="393.5" cy="761.9" r="3.5"/><circle cx="173.0" cy="837.6" r="3.5"/><circle cx="256.0" cy="839.6" r="3.5"/><circle cx="216.0" cy="865.6" r="3.5"/><circle cx="252.8" cy="868.0" r="3.5"/><circle cx="254.9" cy="870.7" r="3.5"/><circle cx="261.0" cy="869.4" r="3.5"/><circle cx="264.3" cy="872.1" r="3.5"/><circle cx="250.1" cy="870.7" r="3.5"/><circle cx="250.1" cy="882.9" r="3.5"/><circle cx="250.8" cy="881.6" r="3.5"/><circle cx="278.3" cy="886.7" r="3.5"/><circle cx="313.7" cy="875.5" r="3.5"/><circle cx="314.1" cy="880.9" r="3.5"/><circle cx="267.5" cy="899.6" r="3.5"/><circle cx="275.2" cy="902.8" r="3.5"/><circle cx="279.9" cy="904.6" r="3.5"/><circle cx="254.2" cy="912.4" r="3.5"/><circle cx="259.6" cy="916.8" r="3.5"/><circle cx="261.6" cy="920.1" r="3.5"/><circle cx="266.4" cy="919.5" r="3.5"/><circle cx="271.8" cy="916.1" r="3.5"/><circle cx="277.2" cy="913.4" r="3.5"/><circle cx="281.9" cy="914.0" r="3.5"/><circle cx="299.5" cy="914.0" r="3.5"/><circle cx="302.9" cy="911.3" r="3.5"/><circle cx="305.6" cy="908.0" r="3.5"/><circle cx="284.0" cy="914.7" r="3.5"/><circle cx="286.6" cy="917.4" r="3.5"/><circle cx="289.2" cy="920.1" r="3.5"/><circle cx="291.8" cy="922.9" r="3.5"/><circle cx="294.3" cy="925.6" r="3.5"/><circle cx="296.9" cy="928.3" r="3.5"/><circle cx="299.5" cy="931.0" r="3.5"/></g>
<text x="119.6" y="1037.3" text-anchor="end" class="tk">60.0</text>
<text x="119.6" y="955.9" text-anchor="end" class="tk">62.5</text>
<text x="119.6" y="874.4" text-anchor="end" class="tk">65.0</text>
<text x="119.6" y="793" text-anchor="end" class="tk">67.5</text>
<text x="119.6" y="711.5" text-anchor="end" class="tk">70.0</text>
<text x="119.6" y="630.1" text-anchor="end" class="tk">72.5</text>
<text x="155.2" y="1082.7" text-anchor="middle" class="tk">-5</text>
<text x="237.3" y="1082.7" text-anchor="middle" class="tk">0</text>
<text x="319.4" y="1082.7" text-anchor="middle" class="tk">5</text>
<text x="401.5" y="1082.7" text-anchor="middle" class="tk">10</text>
<text x="483.6" y="1082.7" text-anchor="middle" class="tk">15</text>
<text x="344.7" y="1121.2" text-anchor="middle" class="ti">Lon</text>
<text transform="translate(52.8,832.2) rotate(-90)" text-anchor="middle" class="ti">Lat</text>
<text x="0" y="606.3" class="pl">C</text>
<line x1="805.5" y1="617" x2="805.5" y2="1046.8" stroke="#EBEBEB" stroke-width="1.3"/>
<line x1="960.5" y1="617" x2="960.5" y2="1046.8" stroke="#EBEBEB" stroke-width="1.3"/>
<line x1="1115.5" y1="617" x2="1115.5" y2="1046.8" stroke="#EBEBEB" stroke-width="1.3"/>
<line x1="1270.5" y1="617" x2="1270.5" y2="1046.8" stroke="#EBEBEB" stroke-width="1.3"/>
<line x1="701.8" y1="1027.9" x2="1297.6" y2="1027.9" stroke="#EBEBEB" stroke-width="1.3"/>
<line x1="701.8" y1="930.1" x2="1297.6" y2="930.1" stroke="#EBEBEB" stroke-width="1.3"/>
<line x1="701.8" y1="832.3" x2="1297.6" y2="832.3" stroke="#EBEBEB" stroke-width="1.3"/>
<line x1="701.8" y1="734.5" x2="1297.6" y2="734.5" stroke="#EBEBEB" stroke-width="1.3"/>
<line x1="701.8" y1="636.7" x2="1297.6" y2="636.7" stroke="#EBEBEB" stroke-width="1.3"/>
<line x1="728" y1="617" x2="728" y2="1046.8" stroke="#EBEBEB" stroke-width="2.6"/>
<line x1="883" y1="617" x2="883" y2="1046.8" stroke="#EBEBEB" stroke-width="2.6"/>
<line x1="1038" y1="617" x2="1038" y2="1046.8" stroke="#EBEBEB" stroke-width="2.6"/>
<line x1="1193" y1="617" x2="1193" y2="1046.8" stroke="#EBEBEB" stroke-width="2.6"/>
<line x1="701.8" y1="979" x2="1297.6" y2="979" stroke="#EBEBEB" stroke-width="2.6"/>
<line x1="701.8" y1="881.2" x2="1297.6" y2="881.2" stroke="#EBEBEB" stroke-width="2.6"/>
<line x1="701.8" y1="783.4" x2="1297.6" y2="783.4" stroke="#EBEBEB" stroke-width="2.6"/>
<line x1="701.8" y1="685.6" x2="1297.6" y2="685.6" stroke="#EBEBEB" stroke-width="2.6"/>
<g clip-path="url(#rcD)"><g filter="url(#blD)" shape-rendering="crispEdges"><path fill="#7ba1ef" d="M1280 1020.5h8v8h-8zM1272 1028.5h16v8h-16zM1272 1036.5h16v8h-16z"/><path fill="#7fa3f0" d="M1280 1012.5h8v8h-8zM1272 1020.5h8v8h-8z"/><path fill="#83a5f0" d="M1272 1012.5h8v8h-8z"/><path fill="#86a7f1" d="M1280 1004.5h8v8h-8zM1264 1028.5h8v8h-8zM1264 1036.5h8v8h-8z"/><path fill="#89a9f1" d="M1280 988.5h8v8h-8zM1280 996.5h8v8h-8zM1272 1004.5h8v8h-8zM1264 1012.5h8v8h-8zM1264 1020.5h8v8h-8z"/><path fill="#8dabf2" d="M1272 988.5h8v8h-8zM1272 996.5h8v8h-8z"/><path fill="#90adf2" d="M1280 980.5h8v8h-8zM1264 1004.5h8v8h-8z"/><path fill="#93aff2" d="M1272 980.5h8v8h-8zM1264 996.5h8v8h-8z"/><path fill="#97b1f3" d="M1264 988.5h8v8h-8z"/><path fill="#9ab3f3" d="M1264 980.5h8v8h-8zM1256 1012.5h8v8h-8zM1256 1020.5h8v8h-8zM1256 1028.5h8v8h-8zM1256 1036.5h8v8h-8z"/><path fill="#9db5f3" d="M1272 972.5h16v8h-16zM1256 1004.5h8v8h-8z"/><path fill="#a0b7f4" d="M1264 972.5h8v8h-8zM1256 996.5h8v8h-8z"/><path fill="#a3baf4" d="M1280 948.5h8v8h-8zM1272 956.5h16v8h-16zM1272 964.5h16v8h-16zM1256 988.5h8v8h-8zM1248 1020.5h8v8h-8zM1248 1028.5h8v8h-8zM1248 1036.5h8v8h-8z"/><path fill="#a7bcf5" d="M1240 700.5h8v8h-8zM1232 708.5h24v8h-24zM1240 716.5h16v8h-16zM1272 948.5h8v8h-8zM1264 964.5h8v8h-8zM1256 980.5h8v8h-8zM1248 1004.5h8v8h-8zM1248 1012.5h8v8h-8z"/><path fill="#aabef5" d="M1280 668.5h8v8h-8zM1248 676.5h40v8h-40zM1232 684.5h56v8h-56zM1232 692.5h56v8h-56zM1224 700.5h16v8h-16zM1248 700.5h40v8h-40zM1224 708.5h8v8h-8zM1256 708.5h32v8h-32zM1232 716.5h8v8h-8zM1256 716.5h32v8h-32zM1280 724.5h8v8h-8zM1264 956.5h8v8h-8zM1256 972.5h8v8h-8zM1248 996.5h8v8h-8zM1240 1028.5h8v8h-8zM1240 1036.5h8v8h-8z"/><path fill="#adc0f5" d="M1264 668.5h16v8h-16zM1232 676.5h16v8h-16zM1224 684.5h8v8h-8zM1224 692.5h8v8h-8zM1216 708.5h8v8h-8zM1224 716.5h8v8h-8zM1240 724.5h40v8h-40zM1272 940.5h16v8h-16zM1264 948.5h8v8h-8zM1256 964.5h8v8h-8zM1248 988.5h8v8h-8zM1240 1012.5h8v8h-8zM1240 1020.5h8v8h-8z"/><path fill="#b0c2f6" d="M1240 668.5h24v8h-24zM1224 676.5h8v8h-8zM1216 684.5h8v8h-8zM1216 692.5h8v8h-8zM1216 700.5h8v8h-8zM1208 708.5h8v8h-8zM1216 716.5h8v8h-8zM1232 724.5h8v8h-8zM1272 732.5h16v8h-16zM1256 956.5h8v8h-8zM1248 972.5h8v8h-8zM1248 980.5h8v8h-8zM1240 996.5h8v8h-8zM1240 1004.5h8v8h-8z"/><path fill="#b3c4f6" d="M1264 660.5h24v8h-24zM1224 668.5h16v8h-16zM1216 676.5h8v8h-8zM1208 692.5h8v8h-8zM1208 700.5h8v8h-8zM1208 716.5h8v8h-8zM1224 724.5h8v8h-8zM1240 732.5h32v8h-32zM1264 940.5h8v8h-8zM1256 948.5h8v8h-8zM1248 964.5h8v8h-8zM1240 980.5h8v8h-8zM1240 988.5h8v8h-8zM1232 1004.5h8v8h-8zM1232 1012.5h8v8h-8zM1232 1020.5h8v8h-8zM1232 1028.5h8v8h-8zM1232 1036.5h8v8h-8z"/><path fill="#b6c6f6" d="M1240 660.5h24v8h-24zM1216 668.5h8v8h-8zM1208 676.5h8v8h-8zM1208 684.5h8v8h-8zM1200 700.5h8v8h-8zM1200 708.5h8v8h-8zM1200 716.5h8v8h-8zM1216 724.5h8v8h-8zM1232 732.5h8v8h-8zM1248 956.5h8v8h-8zM1240 964.5h8v8h-8zM1240 972.5h8v8h-8zM1232 988.5h8v8h-8zM1232 996.5h8v8h-8zM1224 1020.5h8v8h-8zM1216 1028.5h16v8h-16zM1208 1036.5h24v8h-24z"/><path fill="#b9c8f7" d="M1224 660.5h16v8h-16zM1200 684.5h8v8h-8zM1200 692.5h8v8h-8zM1208 724.5h8v8h-8zM1224 732.5h8v8h-8zM1248 740.5h24v8h-24zM1264 932.5h24v8h-24zM1256 940.5h8v8h-8zM1248 948.5h8v8h-8zM1240 956.5h8v8h-8zM1232 972.5h8v8h-8zM1232 980.5h8v8h-8zM1224 996.5h8v8h-8zM1224 1004.5h8v8h-8zM1224 1012.5h8v8h-8zM1216 1020.5h8v8h-8zM1208 1028.5h8v8h-8z"/><path fill="#bccaf7" d="M1240 652.5h32v8h-32zM1216 660.5h8v8h-8zM1208 668.5h8v8h-8zM1200 676.5h8v8h-8zM1192 700.5h8v8h-8zM1192 708.5h8v8h-8zM1192 716.5h8v8h-8zM1200 724.5h8v8h-8zM1216 732.5h8v8h-8zM1240 740.5h8v8h-8zM1272 740.5h16v8h-16zM1256 932.5h8v8h-8zM1240 940.5h16v8h-16zM1240 948.5h8v8h-8zM1232 956.5h8v8h-8zM1232 964.5h8v8h-8zM1224 980.5h8v8h-8zM1224 988.5h8v8h-8zM1216 1004.5h8v8h-8zM1216 1012.5h8v8h-8zM1208 1020.5h8v8h-8zM1200 1028.5h8v8h-8zM1200 1036.5h8v8h-8z"/><path fill="#bfcdf8" d="M1224 652.5h16v8h-16zM1272 652.5h16v8h-16zM1208 660.5h8v8h-8zM1200 668.5h8v8h-8zM1192 676.5h8v8h-8zM1192 684.5h8v8h-8zM1192 692.5h8v8h-8zM1192 724.5h8v8h-8zM1208 732.5h8v8h-8zM1232 740.5h8v8h-8zM1256 748.5h24v8h-24zM1248 924.5h32v8h-32zM1240 932.5h16v8h-16zM1232 940.5h8v8h-8zM1232 948.5h8v8h-8zM1224 964.5h8v8h-8zM1224 972.5h8v8h-8zM1216 988.5h8v8h-8zM1216 996.5h8v8h-8zM1208 1004.5h8v8h-8zM1208 1012.5h8v8h-8zM1200 1020.5h8v8h-8z"/><path fill="#c1cff8" d="M1240 644.5h32v8h-32zM1216 652.5h8v8h-8zM1200 660.5h8v8h-8zM1192 668.5h8v8h-8zM1184 684.5h8v8h-8zM1184 708.5h8v8h-8zM1200 732.5h8v8h-8zM1224 740.5h8v8h-8zM1248 748.5h8v8h-8zM1280 748.5h8v8h-8zM1264 756.5h24v8h-24zM1272 764.5h16v8h-16zM1272 908.5h16v8h-16zM1248 916.5h40v8h-40zM1240 924.5h8v8h-8zM1280 924.5h8v8h-8zM1232 932.5h8v8h-8zM1224 948.5h8v8h-8zM1224 956.5h8v8h-8zM1216 972.5h8v8h-8zM1216 980.5h8v8h-8zM1208 996.5h8v8h-8zM1200 1004.5h8v8h-8zM1200 1012.5h8v8h-8zM1192 1020.5h8v8h-8zM1192 1028.5h8v8h-8zM1192 1036.5h8v8h-8z"/><path fill="#c4d1f8" d="M1248 636.5h24v8h-24zM1224 644.5h16v8h-16zM1272 644.5h8v8h-8zM1208 652.5h8v8h-8zM1184 676.5h8v8h-8zM1184 692.5h8v8h-8zM1184 700.5h8v8h-8zM1184 716.5h8v8h-8zM1184 724.5h8v8h-8zM1192 732.5h8v8h-8zM1216 740.5h8v8h-8zM1240 748.5h8v8h-8zM1256 756.5h8v8h-8zM1264 764.5h8v8h-8zM1272 772.5h16v8h-16zM1248 908.5h24v8h-24zM1232 916.5h16v8h-16zM1232 924.5h8v8h-8zM1224 940.5h8v8h-8zM1216 956.5h8v8h-8zM1216 964.5h8v8h-8zM1208 980.5h8v8h-8zM1208 988.5h8v8h-8zM1200 996.5h8v8h-8zM1192 1004.5h8v8h-8zM1184 1012.5h16v8h-16zM1184 1020.5h8v8h-8z"/><path fill="#c7d3f9" d="M1240 620.5h48v8h-48zM1240 628.5h48v8h-48zM1232 636.5h16v8h-16zM1272 636.5h16v8h-16zM1208 644.5h16v8h-16zM1280 644.5h8v8h-8zM1200 652.5h8v8h-8zM1192 660.5h8v8h-8zM1184 668.5h8v8h-8zM1176 676.5h8v8h-8zM1176 684.5h8v8h-8zM1176 692.5h8v8h-8zM1176 700.5h8v8h-8zM1176 708.5h8v8h-8zM1200 740.5h16v8h-16zM1224 748.5h16v8h-16zM1248 756.5h8v8h-8zM1256 764.5h8v8h-8zM1264 772.5h8v8h-8zM1248 900.5h40v8h-40zM1232 908.5h16v8h-16zM1224 924.5h8v8h-8zM1224 932.5h8v8h-8zM1216 948.5h8v8h-8zM1208 972.5h8v8h-8zM1200 988.5h8v8h-8zM1192 996.5h8v8h-8zM1184 1004.5h8v8h-8zM1176 1020.5h8v8h-8zM1176 1028.5h16v8h-16zM1168 1036.5h24v8h-24z"/><path fill="#cad5f9" d="M1232 620.5h8v8h-8zM1232 628.5h8v8h-8zM1224 636.5h8v8h-8zM1200 644.5h8v8h-8zM1192 652.5h8v8h-8zM1184 660.5h8v8h-8zM1176 668.5h8v8h-8zM1168 676.5h8v8h-8zM1168 684.5h8v8h-8zM1168 692.5h8v8h-8zM1176 716.5h8v8h-8zM1176 724.5h8v8h-8zM1184 732.5h8v8h-8zM1192 740.5h8v8h-8zM1216 748.5h8v8h-8zM1240 756.5h8v8h-8zM1248 764.5h8v8h-8zM1256 772.5h8v8h-8zM1264 780.5h24v8h-24zM1248 892.5h16v8h-16zM1232 900.5h16v8h-16zM1224 916.5h8v8h-8zM1216 940.5h8v8h-8zM1208 956.5h8v8h-8zM1208 964.5h8v8h-8zM1200 980.5h8v8h-8zM1192 988.5h8v8h-8zM1184 996.5h8v8h-8zM1176 1012.5h8v8h-8zM1168 1020.5h8v8h-8zM1168 1028.5h8v8h-8z"/><path fill="#cdd7f9" d="M1208 636.5h16v8h-16zM1192 644.5h8v8h-8zM1184 652.5h8v8h-8zM1176 660.5h8v8h-8zM1168 668.5h8v8h-8zM1160 684.5h8v8h-8zM1168 700.5h8v8h-8zM1168 708.5h8v8h-8zM1168 716.5h8v8h-8zM1176 732.5h8v8h-8zM1184 740.5h8v8h-8zM1208 748.5h8v8h-8zM1232 756.5h8v8h-8zM1240 764.5h8v8h-8zM1256 780.5h8v8h-8zM1264 788.5h24v8h-24zM1272 796.5h16v8h-16zM1280 804.5h8v8h-8zM1240 892.5h8v8h-8zM1264 892.5h24v8h-24zM1224 908.5h8v8h-8zM1216 924.5h8v8h-8zM1216 932.5h8v8h-8zM1208 948.5h8v8h-8zM1200 964.5h8v8h-8zM1200 972.5h8v8h-8zM1192 980.5h8v8h-8zM1184 988.5h8v8h-8zM1176 1004.5h8v8h-8z"/><path fill="#d0d9fa" d="M1224 620.5h8v8h-8zM1216 628.5h16v8h-16zM1192 636.5h16v8h-16zM1184 644.5h8v8h-8zM1176 652.5h8v8h-8zM1168 660.5h8v8h-8zM1160 668.5h8v8h-8zM1152 676.5h16v8h-16zM1152 684.5h8v8h-8zM1152 692.5h16v8h-16zM1160 700.5h8v8h-8zM1160 708.5h8v8h-8zM1160 716.5h8v8h-8zM1168 724.5h8v8h-8zM1192 748.5h16v8h-16zM1224 756.5h8v8h-8zM1232 764.5h8v8h-8zM1248 772.5h8v8h-8zM1248 780.5h8v8h-8zM1256 788.5h8v8h-8zM1264 796.5h8v8h-8zM1272 804.5h8v8h-8zM1240 884.5h32v8h-32zM1232 892.5h8v8h-8zM1224 900.5h8v8h-8zM1216 916.5h8v8h-8zM1208 940.5h8v8h-8zM1200 956.5h8v8h-8zM1192 972.5h8v8h-8zM1184 980.5h8v8h-8zM1176 996.5h8v8h-8zM1168 1012.5h8v8h-8zM1160 1036.5h8v8h-8z"/><path fill="#d3dcfa" d="M1184 620.5h40v8h-40zM1184 628.5h32v8h-32zM1176 636.5h16v8h-16zM1168 644.5h16v8h-16zM1160 652.5h16v8h-16zM1152 660.5h16v8h-16zM1144 668.5h16v8h-16zM1144 676.5h8v8h-8zM1144 684.5h8v8h-8zM1144 692.5h8v8h-8zM1144 700.5h16v8h-16zM1144 708.5h16v8h-16zM1152 716.5h8v8h-8zM1152 724.5h16v8h-16zM1160 732.5h16v8h-16zM1176 740.5h8v8h-8zM1184 748.5h8v8h-8zM1208 756.5h16v8h-16zM1224 764.5h8v8h-8zM1240 772.5h8v8h-8zM1248 788.5h8v8h-8zM1256 796.5h8v8h-8zM1264 804.5h8v8h-8zM1272 812.5h16v8h-16zM1272 868.5h16v8h-16zM1240 876.5h48v8h-48zM1232 884.5h8v8h-8zM1272 884.5h16v8h-16zM1216 908.5h8v8h-8zM1208 932.5h8v8h-8zM1200 948.5h8v8h-8zM1192 964.5h8v8h-8zM1176 988.5h8v8h-8zM1168 1004.5h8v8h-8zM1160 1028.5h8v8h-8z"/><path fill="#d6defa" d="M1168 620.5h16v8h-16zM1168 628.5h16v8h-16zM1160 636.5h16v8h-16zM1152 644.5h16v8h-16zM1144 652.5h16v8h-16zM1136 660.5h16v8h-16zM1136 668.5h8v8h-8zM1128 676.5h16v8h-16zM1128 684.5h16v8h-16zM1136 692.5h8v8h-8zM1136 700.5h8v8h-8zM1136 708.5h8v8h-8zM1136 716.5h16v8h-16zM1144 724.5h8v8h-8zM1144 732.5h16v8h-16zM1160 740.5h16v8h-16zM1176 748.5h8v8h-8zM1192 756.5h16v8h-16zM1216 764.5h8v8h-8zM1232 772.5h8v8h-8zM1240 780.5h8v8h-8zM1240 788.5h8v8h-8zM1248 796.5h8v8h-8zM1256 804.5h8v8h-8zM1248 868.5h24v8h-24zM1232 876.5h8v8h-8zM1224 892.5h8v8h-8zM1208 924.5h8v8h-8zM1200 940.5h8v8h-8zM1192 956.5h8v8h-8zM1184 972.5h8v8h-8zM1160 1020.5h8v8h-8z"/><path fill="#d8e0fb" d="M1136 620.5h32v8h-32zM1136 628.5h32v8h-32zM1136 636.5h24v8h-24zM1136 644.5h16v8h-16zM1128 652.5h16v8h-16zM1128 660.5h8v8h-8zM1120 668.5h16v8h-16zM1120 676.5h8v8h-8zM1120 684.5h8v8h-8zM1128 692.5h8v8h-8zM1128 700.5h8v8h-8zM1128 708.5h8v8h-8zM1128 716.5h8v8h-8zM1136 724.5h8v8h-8zM1136 732.5h8v8h-8zM1136 740.5h24v8h-24zM1152 748.5h24v8h-24zM1176 756.5h16v8h-16zM1200 764.5h16v8h-16zM1216 772.5h16v8h-16zM1232 780.5h8v8h-8zM1264 812.5h8v8h-8zM1256 860.5h32v8h-32zM1240 868.5h8v8h-8zM1224 884.5h8v8h-8zM1216 900.5h8v8h-8zM1208 916.5h8v8h-8zM1200 932.5h8v8h-8zM1192 948.5h8v8h-8zM1184 964.5h8v8h-8zM1176 980.5h8v8h-8zM1168 996.5h8v8h-8z"/><path fill="#dbe2fb" d="M1128 620.5h8v8h-8zM1128 628.5h8v8h-8zM1128 636.5h8v8h-8zM1128 644.5h8v8h-8zM1120 652.5h8v8h-8zM1120 660.5h8v8h-8zM1120 692.5h8v8h-8zM1120 700.5h8v8h-8zM1128 724.5h8v8h-8zM1128 732.5h8v8h-8zM1136 748.5h16v8h-16zM1152 756.5h24v8h-24zM1184 764.5h16v8h-16zM1208 772.5h8v8h-8zM1224 780.5h8v8h-8zM1232 788.5h8v8h-8zM1240 796.5h8v8h-8zM1248 804.5h8v8h-8zM1256 812.5h8v8h-8zM1240 860.5h16v8h-16zM1232 868.5h8v8h-8zM1216 892.5h8v8h-8zM1208 908.5h8v8h-8zM1200 924.5h8v8h-8zM1192 940.5h8v8h-8zM1184 956.5h8v8h-8zM1160 1012.5h8v8h-8z"/><path fill="#dee4fb" d="M1120 636.5h8v8h-8zM1120 644.5h8v8h-8zM1112 660.5h8v8h-8zM1112 668.5h8v8h-8zM1112 676.5h8v8h-8zM1120 708.5h8v8h-8zM1120 716.5h8v8h-8zM1128 740.5h8v8h-8zM1128 748.5h8v8h-8zM1128 756.5h24v8h-24zM1152 764.5h32v8h-32zM1184 772.5h24v8h-24zM1208 780.5h16v8h-16zM1224 788.5h8v8h-8zM1232 796.5h8v8h-8zM1240 804.5h8v8h-8zM1248 812.5h8v8h-8zM1264 820.5h24v8h-24zM1248 852.5h40v8h-40zM1232 860.5h8v8h-8zM1224 876.5h8v8h-8zM1208 900.5h8v8h-8zM1200 916.5h8v8h-8zM1192 932.5h8v8h-8zM1176 972.5h8v8h-8zM1168 988.5h8v8h-8zM1160 1004.5h8v8h-8z"/><path fill="#e1e7fc" d="M1120 620.5h8v8h-8zM1120 628.5h8v8h-8zM1112 636.5h8v8h-8zM1112 644.5h8v8h-8zM1112 652.5h8v8h-8zM1112 684.5h8v8h-8zM1112 692.5h8v8h-8zM1120 724.5h8v8h-8zM1120 732.5h8v8h-8zM1120 740.5h8v8h-8zM1128 764.5h24v8h-24zM1152 772.5h32v8h-32zM1184 780.5h24v8h-24zM1208 788.5h16v8h-16zM1224 796.5h8v8h-8zM1232 804.5h8v8h-8zM1240 812.5h8v8h-8zM1256 820.5h8v8h-8zM1264 828.5h8v8h-8zM1256 844.5h16v8h-16zM1240 852.5h8v8h-8zM1224 868.5h8v8h-8zM1216 884.5h8v8h-8zM1200 908.5h8v8h-8zM1184 948.5h8v8h-8zM1176 964.5h8v8h-8zM1168 980.5h8v8h-8zM1152 1036.5h8v8h-8z"/><path fill="#e4e9fc" d="M1104 620.5h16v8h-16zM1104 628.5h16v8h-16zM1112 700.5h8v8h-8zM1112 708.5h8v8h-8zM1120 748.5h8v8h-8zM1120 756.5h8v8h-8zM1120 764.5h8v8h-8zM1128 772.5h24v8h-24zM1136 780.5h48v8h-48zM1184 788.5h24v8h-24zM1208 796.5h16v8h-16zM1224 804.5h8v8h-8zM1232 812.5h8v8h-8zM1248 820.5h8v8h-8zM1256 828.5h8v8h-8zM1272 828.5h16v8h-16zM1256 836.5h32v8h-32zM1248 844.5h8v8h-8zM1272 844.5h16v8h-16zM1232 852.5h8v8h-8zM1224 860.5h8v8h-8zM1216 876.5h8v8h-8zM1208 892.5h8v8h-8zM1192 924.5h8v8h-8zM1184 940.5h8v8h-8zM1160 996.5h8v8h-8zM1152 1020.5h8v8h-8zM1152 1028.5h8v8h-8z"/><path fill="#e6ebfc" d="M1104 636.5h8v8h-8zM1104 644.5h8v8h-8zM1104 652.5h8v8h-8zM1104 660.5h8v8h-8zM1104 668.5h8v8h-8zM1104 676.5h8v8h-8zM1112 716.5h8v8h-8zM1112 724.5h8v8h-8zM1112 748.5h8v8h-8zM1112 756.5h8v8h-8zM1120 772.5h8v8h-8zM1128 780.5h8v8h-8zM1136 788.5h48v8h-48zM1184 796.5h24v8h-24zM1208 804.5h16v8h-16zM1224 812.5h8v8h-8zM1232 820.5h16v8h-16zM1248 828.5h8v8h-8zM1248 836.5h8v8h-8zM1232 844.5h16v8h-16zM1224 852.5h8v8h-8zM1216 868.5h8v8h-8zM1208 884.5h8v8h-8zM1200 900.5h8v8h-8zM1192 916.5h8v8h-8zM1184 932.5h8v8h-8zM1176 956.5h8v8h-8zM1168 972.5h8v8h-8zM1160 988.5h8v8h-8zM1152 1012.5h8v8h-8z"/><path fill="#e9edfd" d="M1096 620.5h8v8h-8zM1096 628.5h8v8h-8zM1104 684.5h8v8h-8zM1104 692.5h8v8h-8zM1112 732.5h8v8h-8zM1112 740.5h8v8h-8zM1112 764.5h8v8h-8zM1112 772.5h8v8h-8zM1120 780.5h8v8h-8zM1120 788.5h16v8h-16zM1128 796.5h56v8h-56zM1184 804.5h24v8h-24zM1208 812.5h16v8h-16zM1224 820.5h8v8h-8zM1232 828.5h16v8h-16zM1064 836.5h8v8h-8zM1240 836.5h8v8h-8zM1056 844.5h8v8h-8zM1056 852.5h8v8h-8zM1216 860.5h8v8h-8zM1200 892.5h8v8h-8zM1192 908.5h8v8h-8zM1184 924.5h8v8h-8zM1176 948.5h8v8h-8zM1152 1004.5h8v8h-8z"/><path fill="#eceffd" d="M1096 636.5h8v8h-8zM1096 644.5h8v8h-8zM1104 700.5h8v8h-8zM1104 708.5h8v8h-8zM1104 748.5h8v8h-8zM1104 756.5h8v8h-8zM1104 764.5h8v8h-8zM1104 772.5h8v8h-8zM1104 780.5h16v8h-16zM1104 788.5h16v8h-16zM1112 796.5h16v8h-16zM1128 804.5h56v8h-56zM1184 812.5h24v8h-24zM1208 820.5h16v8h-16zM1064 828.5h8v8h-8zM1224 828.5h8v8h-8zM1056 836.5h8v8h-8zM1224 836.5h16v8h-16zM1064 844.5h8v8h-8zM1224 844.5h8v8h-8zM1048 852.5h8v8h-8zM1064 852.5h8v8h-8zM1216 852.5h8v8h-8zM1048 860.5h16v8h-16zM1040 868.5h24v8h-24zM1208 868.5h8v8h-8zM1040 876.5h16v8h-16zM1208 876.5h8v8h-8zM1032 884.5h24v8h-24zM1032 892.5h16v8h-16zM1032 900.5h8v8h-8zM1192 900.5h8v8h-8zM1176 940.5h8v8h-8zM1168 964.5h8v8h-8zM1160 980.5h8v8h-8zM1152 996.5h8v8h-8z"/><path fill="#eff2fd" d="M1096 652.5h8v8h-8zM1096 660.5h8v8h-8zM1096 668.5h8v8h-8zM1096 676.5h8v8h-8zM1104 716.5h8v8h-8zM1104 724.5h8v8h-8zM1104 732.5h8v8h-8zM1104 740.5h8v8h-8zM1096 780.5h8v8h-8zM1096 788.5h8v8h-8zM1096 796.5h16v8h-16zM1104 804.5h24v8h-24zM1128 812.5h56v8h-56zM1184 820.5h24v8h-24zM1056 828.5h8v8h-8zM1072 828.5h8v8h-8zM1208 828.5h16v8h-16zM1072 836.5h8v8h-8zM1216 836.5h8v8h-8zM1048 844.5h8v8h-8zM1072 844.5h8v8h-8zM1216 844.5h8v8h-8zM1208 852.5h8v8h-8zM1040 860.5h8v8h-8zM1064 860.5h8v8h-8zM1208 860.5h8v8h-8zM1032 876.5h8v8h-8zM1056 876.5h8v8h-8zM1200 884.5h8v8h-8zM1048 892.5h8v8h-8zM1192 892.5h8v8h-8zM1024 900.5h8v8h-8zM1040 900.5h8v8h-8zM1024 908.5h16v8h-16zM1024 916.5h16v8h-16zM1184 916.5h8v8h-8zM1024 924.5h8v8h-8zM1024 932.5h8v8h-8zM1176 932.5h8v8h-8zM1168 956.5h8v8h-8zM1160 972.5h8v8h-8zM1152 988.5h8v8h-8zM1144 1012.5h8v8h-8zM1144 1020.5h8v8h-8zM1144 1028.5h8v8h-8zM1144 1036.5h8v8h-8z"/><path fill="#f1f4fe" d="M1088 620.5h8v8h-8zM1088 628.5h8v8h-8zM1096 684.5h8v8h-8zM1096 756.5h8v8h-8zM1096 764.5h8v8h-8zM1096 772.5h8v8h-8zM1088 788.5h8v8h-8zM1088 796.5h8v8h-8zM1088 804.5h16v8h-16zM1096 812.5h32v8h-32zM1064 820.5h16v8h-16zM1136 820.5h48v8h-48zM1184 828.5h24v8h-24zM1048 836.5h8v8h-8zM1200 836.5h16v8h-16zM1200 844.5h16v8h-16zM1040 852.5h8v8h-8zM1072 852.5h8v8h-8zM1200 852.5h8v8h-8zM1200 860.5h8v8h-8zM1032 868.5h8v8h-8zM1064 868.5h8v8h-8zM1200 868.5h8v8h-8zM1200 876.5h8v8h-8zM1056 884.5h8v8h-8zM1192 884.5h8v8h-8zM1024 892.5h8v8h-8zM1040 908.5h8v8h-8zM1184 908.5h8v8h-8zM1016 916.5h8v8h-8zM1040 916.5h8v8h-8zM1016 924.5h8v8h-8zM1032 924.5h8v8h-8zM1176 924.5h8v8h-8zM1016 932.5h8v8h-8zM1032 932.5h8v8h-8zM1016 940.5h16v8h-16zM1016 948.5h16v8h-16zM1168 948.5h8v8h-8zM1016 956.5h8v8h-8zM1160 964.5h8v8h-8zM1152 980.5h8v8h-8zM1000 996.5h8v8h-8zM1144 996.5h8v8h-8zM1000 1004.5h8v8h-8zM1144 1004.5h8v8h-8zM992 1028.5h16v8h-16zM992 1036.5h16v8h-16z"/><path fill="#f4f6fe" d="M1088 636.5h8v8h-8zM1088 644.5h8v8h-8zM1096 692.5h8v8h-8zM1096 700.5h8v8h-8zM1096 740.5h8v8h-8zM1096 748.5h8v8h-8zM1088 780.5h8v8h-8zM1080 796.5h8v8h-8zM1080 804.5h8v8h-8zM1064 812.5h32v8h-32zM1056 820.5h8v8h-8zM1080 820.5h56v8h-56zM1080 828.5h16v8h-16zM1144 828.5h40v8h-40zM1080 836.5h8v8h-8zM1184 836.5h16v8h-16zM1080 844.5h8v8h-8zM1184 844.5h16v8h-16zM1184 852.5h16v8h-16zM1072 860.5h8v8h-8zM1192 860.5h8v8h-8zM1192 868.5h8v8h-8zM1064 876.5h8v8h-8zM1192 876.5h8v8h-8zM1024 884.5h8v8h-8zM1056 892.5h8v8h-8zM1184 892.5h8v8h-8zM1048 900.5h8v8h-8zM1184 900.5h8v8h-8zM1016 908.5h8v8h-8zM1040 924.5h8v8h-8zM1032 940.5h8v8h-8zM1168 940.5h8v8h-8zM1008 948.5h8v8h-8zM1032 948.5h8v8h-8zM1008 956.5h8v8h-8zM1024 956.5h8v8h-8zM1160 956.5h8v8h-8zM1008 964.5h24v8h-24zM1008 972.5h16v8h-16zM1152 972.5h8v8h-8zM1000 980.5h16v8h-16zM1144 980.5h8v8h-8zM1000 988.5h16v8h-16zM1144 988.5h8v8h-8zM1008 996.5h8v8h-8zM992 1004.5h8v8h-8zM1008 1004.5h8v8h-8zM992 1012.5h24v8h-24zM992 1020.5h16v8h-16zM984 1028.5h8v8h-8zM1008 1028.5h8v8h-8zM984 1036.5h8v8h-8zM1008 1036.5h8v8h-8z"/><path fill="#f7f8fe" d="M1080 620.5h8v8h-8zM1088 652.5h8v8h-8zM1088 660.5h8v8h-8zM1096 708.5h8v8h-8zM1096 724.5h8v8h-8zM1096 732.5h8v8h-8zM1072 804.5h8v8h-8zM1048 828.5h8v8h-8zM1096 828.5h48v8h-48zM1088 836.5h16v8h-16zM1152 836.5h32v8h-32zM1040 844.5h8v8h-8zM1176 844.5h8v8h-8zM1080 852.5h8v8h-8zM1032 860.5h8v8h-8zM1184 860.5h8v8h-8zM1072 868.5h8v8h-8zM1024 876.5h8v8h-8zM1064 884.5h8v8h-8zM1184 884.5h8v8h-8zM1016 900.5h8v8h-8zM1056 900.5h8v8h-8zM1048 908.5h8v8h-8zM1176 908.5h8v8h-8zM1048 916.5h8v8h-8zM1176 916.5h8v8h-8zM1008 932.5h8v8h-8zM1040 932.5h8v8h-8zM1168 932.5h8v8h-8zM1008 940.5h8v8h-8zM1040 940.5h8v8h-8zM1040 948.5h8v8h-8zM1160 948.5h8v8h-8zM1032 956.5h8v8h-8zM1032 964.5h8v8h-8zM1152 964.5h8v8h-8zM1000 972.5h8v8h-8zM1024 972.5h8v8h-8zM1144 972.5h8v8h-8zM1016 980.5h8v8h-8zM1016 988.5h8v8h-8zM992 996.5h8v8h-8zM1016 996.5h8v8h-8zM1136 996.5h8v8h-8zM1136 1004.5h8v8h-8zM1136 1012.5h8v8h-8zM984 1020.5h8v8h-8zM1008 1020.5h8v8h-8zM1136 1020.5h8v8h-8z"/><path fill="#fafbfe" d="M1080 628.5h8v8h-8zM1088 668.5h8v8h-8zM1088 676.5h8v8h-8zM1096 716.5h8v8h-8zM1088 772.5h8v8h-8zM1080 788.5h8v8h-8zM1072 796.5h8v8h-8zM1064 804.5h8v8h-8zM1104 836.5h48v8h-48zM1088 844.5h32v8h-32zM1144 844.5h32v8h-32zM1088 852.5h8v8h-8zM1168 852.5h16v8h-16zM1080 860.5h8v8h-8zM1176 860.5h8v8h-8zM1184 868.5h8v8h-8zM1072 876.5h8v8h-8zM1184 876.5h8v8h-8zM1176 892.5h8v8h-8zM1176 900.5h8v8h-8zM1168 916.5h8v8h-8zM1008 924.5h8v8h-8zM1048 924.5h8v8h-8zM1168 924.5h8v8h-8zM1048 932.5h8v8h-8zM1160 932.5h8v8h-8zM1160 940.5h8v8h-8zM1152 948.5h8v8h-8zM1040 956.5h8v8h-8zM1152 956.5h8v8h-8zM1000 964.5h8v8h-8zM1040 964.5h8v8h-8zM1144 964.5h8v8h-8zM1032 972.5h8v8h-8zM1024 980.5h8v8h-8zM1136 980.5h8v8h-8zM992 988.5h8v8h-8zM1136 988.5h8v8h-8zM1016 1004.5h8v8h-8zM984 1012.5h8v8h-8zM1016 1012.5h8v8h-8zM1016 1020.5h8v8h-8zM1136 1028.5h8v8h-8zM1136 1036.5h8v8h-8z"/><path fill="#fcfdff" d="M1080 636.5h8v8h-8zM1088 684.5h8v8h-8zM1088 764.5h8v8h-8zM1056 812.5h8v8h-8zM1048 820.5h8v8h-8zM1040 836.5h8v8h-8zM1120 844.5h24v8h-24zM1096 852.5h32v8h-32zM1136 852.5h32v8h-32zM1088 860.5h16v8h-16zM1160 860.5h16v8h-16zM1024 868.5h8v8h-8zM1080 868.5h8v8h-8zM1176 868.5h8v8h-8zM1176 876.5h8v8h-8zM1072 884.5h8v8h-8zM1176 884.5h8v8h-8zM1016 892.5h8v8h-8zM1064 892.5h8v8h-8zM1168 900.5h8v8h-8zM1056 908.5h8v8h-8zM1168 908.5h8v8h-8zM1008 916.5h8v8h-8zM1056 916.5h8v8h-8zM1160 916.5h8v8h-8zM1160 924.5h8v8h-8zM1152 932.5h8v8h-8zM1048 940.5h8v8h-8zM1152 940.5h8v8h-8zM1048 948.5h8v8h-8zM1144 948.5h8v8h-8zM1000 956.5h8v8h-8zM1048 956.5h8v8h-8zM1144 956.5h8v8h-8zM1048 964.5h8v8h-8zM1136 964.5h8v8h-8zM1040 972.5h16v8h-16zM1136 972.5h8v8h-8zM992 980.5h8v8h-8zM1032 980.5h16v8h-16zM1024 988.5h16v8h-16zM1128 988.5h8v8h-8zM1024 996.5h8v8h-8zM1128 996.5h8v8h-8zM984 1004.5h8v8h-8zM1024 1004.5h8v8h-8zM1128 1004.5h8v8h-8zM1024 1012.5h8v8h-8zM1128 1012.5h8v8h-8zM1024 1020.5h8v8h-8zM1128 1020.5h8v8h-8zM1016 1028.5h8v8h-8zM1016 1036.5h8v8h-8z"/><path fill="#ffffff" d="M1080 644.5h8v8h-8zM1088 692.5h8v8h-8zM792 716.5h8v8h-8zM792 724.5h16v8h-16zM784 732.5h32v8h-32zM784 740.5h32v8h-32zM784 748.5h32v8h-32zM784 756.5h32v8h-32zM1088 756.5h8v8h-8zM784 764.5h32v8h-32zM784 772.5h32v8h-32zM784 780.5h32v8h-32zM1080 780.5h8v8h-8zM784 788.5h32v8h-32zM1072 788.5h8v8h-8zM776 796.5h40v8h-40zM1064 796.5h8v8h-8zM768 804.5h48v8h-48zM752 812.5h64v8h-64zM752 820.5h72v8h-72zM760 828.5h80v8h-80zM760 836.5h80v8h-80zM768 844.5h72v8h-72zM776 852.5h64v8h-64zM1032 852.5h8v8h-8zM1128 852.5h8v8h-8zM792 860.5h40v8h-40zM1104 860.5h56v8h-56zM800 868.5h32v8h-32zM1088 868.5h24v8h-24zM1152 868.5h24v8h-24zM800 876.5h32v8h-32zM1080 876.5h16v8h-16zM1168 876.5h8v8h-8zM808 884.5h24v8h-24zM1016 884.5h8v8h-8zM1080 884.5h8v8h-8zM1168 884.5h8v8h-8zM1072 892.5h8v8h-8zM1168 892.5h8v8h-8zM1064 900.5h8v8h-8zM1160 900.5h8v8h-8zM1008 908.5h8v8h-8zM1064 908.5h8v8h-8zM1160 908.5h8v8h-8zM1152 916.5h8v8h-8zM1056 924.5h8v8h-8zM1144 924.5h16v8h-16zM1056 932.5h8v8h-8zM1144 932.5h8v8h-8zM1000 940.5h8v8h-8zM1056 940.5h8v8h-8zM1144 940.5h8v8h-8zM1000 948.5h8v8h-8zM1056 948.5h8v8h-8zM1056 956.5h8v8h-8zM1136 956.5h8v8h-8zM1056 964.5h16v8h-16zM992 972.5h8v8h-8zM1056 972.5h8v8h-8zM1128 972.5h8v8h-8zM1048 980.5h16v8h-16zM1128 980.5h8v8h-8zM1040 988.5h16v8h-16zM1120 988.5h8v8h-8zM984 996.5h8v8h-8zM1032 996.5h16v8h-16zM1120 996.5h8v8h-8zM1032 1004.5h8v8h-8zM1120 1004.5h8v8h-8zM1032 1012.5h8v8h-8zM1120 1012.5h8v8h-8zM1032 1020.5h16v8h-16zM1112 1020.5h16v8h-16zM976 1028.5h8v8h-8zM1024 1028.5h24v8h-24zM1112 1028.5h24v8h-24zM976 1036.5h8v8h-8zM1024 1036.5h24v8h-24zM1112 1036.5h24v8h-24z"/><path fill="#fffbfa" d="M1072 620.5h8v8h-8zM1072 628.5h8v8h-8zM1080 652.5h8v8h-8zM1080 660.5h8v8h-8zM792 668.5h16v8h-16zM784 676.5h32v8h-32zM784 684.5h32v8h-32zM784 692.5h32v8h-32zM784 700.5h32v8h-32zM1088 700.5h8v8h-8zM784 708.5h32v8h-32zM776 716.5h16v8h-16zM800 716.5h16v8h-16zM776 724.5h16v8h-16zM808 724.5h16v8h-16zM768 732.5h16v8h-16zM816 732.5h16v8h-16zM760 740.5h24v8h-24zM816 740.5h24v8h-24zM1088 740.5h8v8h-8zM752 748.5h32v8h-32zM816 748.5h24v8h-24zM1088 748.5h8v8h-8zM752 756.5h32v8h-32zM816 756.5h32v8h-32zM752 764.5h32v8h-32zM816 764.5h32v8h-32zM752 772.5h32v8h-32zM816 772.5h24v8h-24zM752 780.5h32v8h-32zM816 780.5h24v8h-24zM752 788.5h32v8h-32zM816 788.5h24v8h-24zM744 796.5h32v8h-32zM816 796.5h24v8h-24zM744 804.5h24v8h-24zM816 804.5h24v8h-24zM1056 804.5h8v8h-8zM744 812.5h8v8h-8zM816 812.5h32v8h-32zM744 820.5h8v8h-8zM824 820.5h24v8h-24zM752 828.5h8v8h-8zM1040 828.5h8v8h-8zM760 844.5h8v8h-8zM784 860.5h8v8h-8zM832 860.5h8v8h-8zM792 868.5h8v8h-8zM832 868.5h8v8h-8zM1112 868.5h40v8h-40zM1096 876.5h24v8h-24zM1136 876.5h32v8h-32zM1088 884.5h24v8h-24zM1152 884.5h16v8h-16zM1080 892.5h24v8h-24zM1152 892.5h16v8h-16zM1072 900.5h8v8h-8zM1152 900.5h8v8h-8zM1144 908.5h16v8h-16zM1064 916.5h8v8h-8zM1144 916.5h8v8h-8zM1064 924.5h8v8h-8zM1136 924.5h8v8h-8zM1000 932.5h8v8h-8zM1064 932.5h8v8h-8zM1136 932.5h8v8h-8zM1064 940.5h8v8h-8zM1136 940.5h8v8h-8zM1064 948.5h8v8h-8zM1136 948.5h8v8h-8zM1064 956.5h16v8h-16zM1128 956.5h8v8h-8zM1072 964.5h8v8h-8zM1128 964.5h8v8h-8zM1064 972.5h16v8h-16zM1120 972.5h8v8h-8zM1064 980.5h16v8h-16zM1112 980.5h16v8h-16zM1056 988.5h16v8h-16zM1104 988.5h16v8h-16zM1048 996.5h24v8h-24zM1096 996.5h24v8h-24zM1040 1004.5h24v8h-24zM1096 1004.5h24v8h-24zM1040 1012.5h24v8h-24zM1096 1012.5h24v8h-24zM976 1020.5h8v8h-8zM1048 1020.5h16v8h-16zM1096 1020.5h16v8h-16zM1048 1028.5h16v8h-16zM1096 1028.5h16v8h-16zM1048 1036.5h16v8h-16zM1096 1036.5h16v8h-16z"/><path fill="#fff7f5" d="M792 660.5h16v8h-16zM776 668.5h16v8h-16zM808 668.5h16v8h-16zM1080 668.5h8v8h-8zM768 676.5h16v8h-16zM816 676.5h8v8h-8zM768 684.5h16v8h-16zM816 684.5h8v8h-8zM768 692.5h16v8h-16zM816 692.5h8v8h-8zM768 700.5h16v8h-16zM816 700.5h8v8h-8zM768 708.5h16v8h-16zM816 708.5h8v8h-8zM1088 708.5h8v8h-8zM768 716.5h8v8h-8zM816 716.5h8v8h-8zM760 724.5h16v8h-16zM824 724.5h8v8h-8zM752 732.5h16v8h-16zM832 732.5h8v8h-8zM1088 732.5h8v8h-8zM744 740.5h16v8h-16zM840 740.5h8v8h-8zM744 748.5h8v8h-8zM840 748.5h16v8h-16zM736 756.5h16v8h-16zM848 756.5h8v8h-8zM736 764.5h16v8h-16zM848 764.5h8v8h-8zM736 772.5h16v8h-16zM840 772.5h16v8h-16zM1080 772.5h8v8h-8zM736 780.5h16v8h-16zM840 780.5h8v8h-8zM736 788.5h16v8h-16zM840 788.5h8v8h-8zM840 796.5h8v8h-8zM840 804.5h8v8h-8zM1048 812.5h8v8h-8zM840 828.5h8v8h-8zM752 836.5h8v8h-8zM1032 844.5h8v8h-8zM768 852.5h8v8h-8zM1024 860.5h8v8h-8zM792 876.5h8v8h-8zM832 876.5h8v8h-8zM1016 876.5h8v8h-8zM1120 876.5h16v8h-16zM800 884.5h8v8h-8zM1112 884.5h40v8h-40zM816 892.5h8v8h-8zM1104 892.5h48v8h-48zM1008 900.5h8v8h-8zM1080 900.5h72v8h-72zM1072 908.5h40v8h-40zM1136 908.5h8v8h-8zM1072 916.5h32v8h-32zM1128 916.5h16v8h-16zM1000 924.5h8v8h-8zM1072 924.5h32v8h-32zM1128 924.5h8v8h-8zM1072 932.5h40v8h-40zM1120 932.5h16v8h-16zM1072 940.5h64v8h-64zM1072 948.5h64v8h-64zM1080 956.5h48v8h-48zM992 964.5h8v8h-8zM1080 964.5h48v8h-48zM1080 972.5h40v8h-40zM1080 980.5h32v8h-32zM984 988.5h8v8h-8zM1072 988.5h32v8h-32zM1072 996.5h24v8h-24zM1064 1004.5h32v8h-32zM976 1012.5h8v8h-8zM1064 1012.5h32v8h-32zM1064 1020.5h32v8h-32zM1064 1028.5h32v8h-32zM1064 1036.5h32v8h-32z"/><path fill="#fff4ef" d="M1072 636.5h8v8h-8zM792 652.5h8v8h-8zM776 660.5h16v8h-16zM808 660.5h24v8h-24zM760 668.5h16v8h-16zM824 668.5h8v8h-8zM752 676.5h16v8h-16zM824 676.5h8v8h-8zM1080 676.5h8v8h-8zM752 684.5h16v8h-16zM824 684.5h8v8h-8zM752 692.5h16v8h-16zM824 692.5h8v8h-8zM760 700.5h8v8h-8zM824 700.5h8v8h-8zM760 708.5h8v8h-8zM824 708.5h8v8h-8zM752 716.5h16v8h-16zM824 716.5h8v8h-8zM1088 716.5h8v8h-8zM752 724.5h8v8h-8zM832 724.5h8v8h-8zM1088 724.5h8v8h-8zM744 732.5h8v8h-8zM840 732.5h8v8h-8zM736 740.5h8v8h-8zM848 740.5h8v8h-8zM736 748.5h8v8h-8zM848 780.5h8v8h-8zM1072 780.5h8v8h-8zM1064 788.5h8v8h-8zM736 796.5h8v8h-8zM1056 796.5h8v8h-8zM736 804.5h8v8h-8zM1040 820.5h8v8h-8zM744 828.5h8v8h-8zM840 836.5h8v8h-8zM776 860.5h8v8h-8zM784 868.5h8v8h-8zM832 884.5h8v8h-8zM808 892.5h8v8h-8zM824 892.5h8v8h-8zM1112 908.5h24v8h-24zM1104 916.5h24v8h-24zM1104 924.5h24v8h-24zM1112 932.5h8v8h-8zM992 956.5h8v8h-8zM984 980.5h8v8h-8zM976 1004.5h8v8h-8z"/><path fill="#fff0ea" d="M1072 644.5h8v8h-8zM776 652.5h16v8h-16zM800 652.5h32v8h-32zM760 660.5h16v8h-16zM832 660.5h8v8h-8zM744 668.5h16v8h-16zM832 668.5h8v8h-8zM736 676.5h16v8h-16zM832 676.5h8v8h-8zM736 684.5h16v8h-16zM832 684.5h8v8h-8zM1080 684.5h8v8h-8zM744 692.5h8v8h-8zM832 692.5h8v8h-8zM744 700.5h16v8h-16zM832 700.5h8v8h-8zM744 708.5h16v8h-16zM832 708.5h8v8h-8zM744 716.5h8v8h-8zM832 716.5h8v8h-8zM736 724.5h16v8h-16zM840 724.5h8v8h-8zM736 732.5h8v8h-8zM848 732.5h8v8h-8zM728 740.5h8v8h-8zM728 748.5h8v8h-8zM728 756.5h8v8h-8zM728 764.5h8v8h-8zM1080 764.5h8v8h-8zM728 772.5h8v8h-8zM728 780.5h8v8h-8zM848 788.5h8v8h-8zM848 796.5h8v8h-8zM1048 804.5h8v8h-8zM1032 836.5h8v8h-8zM840 844.5h8v8h-8zM1016 868.5h8v8h-8zM1008 892.5h8v8h-8zM1000 916.5h8v8h-8zM992 948.5h8v8h-8z"/><path fill="#ffece5" d="M712 620.5h48v8h-48zM920 620.5h24v8h-24zM1064 620.5h8v8h-8zM712 628.5h48v8h-48zM920 628.5h16v8h-16zM712 636.5h48v8h-48zM792 636.5h8v8h-8zM920 636.5h16v8h-16zM712 644.5h128v8h-128zM920 644.5h8v8h-8zM712 652.5h64v8h-64zM832 652.5h16v8h-16zM920 652.5h8v8h-8zM1072 652.5h8v8h-8zM712 660.5h48v8h-48zM840 660.5h8v8h-8zM912 660.5h16v8h-16zM712 668.5h32v8h-32zM840 668.5h8v8h-8zM712 676.5h24v8h-24zM840 676.5h8v8h-8zM712 684.5h24v8h-24zM840 684.5h8v8h-8zM712 692.5h32v8h-32zM840 692.5h8v8h-8zM1080 692.5h8v8h-8zM728 700.5h16v8h-16zM840 700.5h8v8h-8zM728 708.5h16v8h-16zM840 708.5h8v8h-8zM728 716.5h16v8h-16zM840 716.5h8v8h-8zM728 724.5h8v8h-8zM848 724.5h8v8h-8zM728 732.5h8v8h-8zM720 740.5h8v8h-8zM856 740.5h8v8h-8zM720 748.5h8v8h-8zM856 748.5h8v8h-8zM720 756.5h8v8h-8zM856 756.5h8v8h-8zM1080 756.5h8v8h-8zM720 764.5h8v8h-8zM728 788.5h8v8h-8zM848 804.5h8v8h-8zM736 812.5h8v8h-8zM1040 812.5h8v8h-8zM760 852.5h8v8h-8zM840 852.5h8v8h-8zM1024 852.5h8v8h-8zM1008 884.5h8v8h-8zM1000 908.5h8v8h-8zM992 940.5h8v8h-8zM984 972.5h8v8h-8zM976 996.5h8v8h-8z"/><path fill="#ffe8e0" d="M760 620.5h72v8h-72zM896 620.5h24v8h-24zM760 628.5h72v8h-72zM896 628.5h24v8h-24zM936 628.5h8v8h-8zM1064 628.5h8v8h-8zM760 636.5h32v8h-32zM800 636.5h40v8h-40zM896 636.5h24v8h-24zM936 636.5h8v8h-8zM840 644.5h16v8h-16zM896 644.5h24v8h-24zM928 644.5h8v8h-8zM848 652.5h16v8h-16zM896 652.5h24v8h-24zM928 652.5h8v8h-8zM848 660.5h16v8h-16zM896 660.5h16v8h-16zM928 660.5h8v8h-8zM848 668.5h16v8h-16zM896 668.5h32v8h-32zM848 676.5h16v8h-16zM904 676.5h24v8h-24zM848 684.5h8v8h-8zM848 692.5h8v8h-8zM712 700.5h16v8h-16zM848 700.5h8v8h-8zM1080 700.5h8v8h-8zM712 708.5h16v8h-16zM848 708.5h8v8h-8zM712 716.5h16v8h-16zM848 716.5h8v8h-8zM712 724.5h16v8h-16zM856 724.5h8v8h-8zM712 732.5h16v8h-16zM856 732.5h8v8h-8zM712 740.5h8v8h-8zM712 748.5h8v8h-8zM1080 748.5h8v8h-8zM712 756.5h8v8h-8zM712 764.5h8v8h-8zM856 764.5h8v8h-8zM720 772.5h8v8h-8zM1072 772.5h8v8h-8zM1064 780.5h8v8h-8zM1056 788.5h8v8h-8zM728 796.5h8v8h-8zM848 812.5h8v8h-8zM1032 828.5h8v8h-8zM744 836.5h8v8h-8zM752 844.5h8v8h-8zM840 860.5h8v8h-8zM1016 860.5h8v8h-8zM832 892.5h8v8h-8zM992 932.5h8v8h-8zM984 964.5h8v8h-8zM968 1020.5h8v8h-8zM968 1028.5h8v8h-8zM968 1036.5h8v8h-8z"/><path fill="#ffe4db" d="M832 620.5h8v8h-8zM880 620.5h16v8h-16zM944 620.5h8v8h-8zM832 628.5h8v8h-8zM880 628.5h16v8h-16zM840 636.5h32v8h-32zM880 636.5h16v8h-16zM856 644.5h16v8h-16zM880 644.5h16v8h-16zM936 644.5h8v8h-8zM864 652.5h8v8h-8zM880 652.5h16v8h-16zM864 660.5h8v8h-8zM880 660.5h16v8h-16zM1072 660.5h8v8h-8zM864 668.5h8v8h-8zM880 668.5h16v8h-16zM928 668.5h8v8h-8zM864 676.5h8v8h-8zM880 676.5h24v8h-24zM856 684.5h16v8h-16zM856 692.5h16v8h-16zM856 700.5h8v8h-8zM856 708.5h8v8h-8zM856 716.5h8v8h-8zM1080 732.5h8v8h-8zM1080 740.5h8v8h-8zM712 772.5h8v8h-8zM856 772.5h8v8h-8zM720 780.5h8v8h-8zM1048 796.5h8v8h-8zM736 820.5h8v8h-8zM848 820.5h8v8h-8zM1032 820.5h8v8h-8zM1024 844.5h8v8h-8zM768 860.5h8v8h-8zM840 868.5h8v8h-8zM1008 876.5h8v8h-8zM792 884.5h8v8h-8zM800 892.5h8v8h-8zM1000 900.5h8v8h-8zM976 988.5h8v8h-8zM968 1012.5h8v8h-8z"/><path fill="#ffe0d6" d="M840 620.5h40v8h-40zM840 628.5h40v8h-40zM944 628.5h8v8h-8zM872 636.5h8v8h-8zM1064 636.5h8v8h-8zM872 644.5h8v8h-8zM872 652.5h8v8h-8zM936 652.5h8v8h-8zM872 660.5h8v8h-8zM872 668.5h8v8h-8zM1072 668.5h8v8h-8zM872 676.5h8v8h-8zM928 676.5h8v8h-8zM872 684.5h56v8h-56zM872 692.5h24v8h-24zM864 700.5h16v8h-16zM864 708.5h8v8h-8zM1080 708.5h8v8h-8zM864 716.5h8v8h-8zM1080 716.5h8v8h-8zM864 724.5h8v8h-8zM1080 724.5h8v8h-8zM1072 764.5h8v8h-8zM720 788.5h8v8h-8zM1040 804.5h8v8h-8zM848 828.5h8v8h-8zM1016 852.5h8v8h-8zM784 876.5h8v8h-8zM992 924.5h8v8h-8zM984 956.5h8v8h-8zM976 980.5h8v8h-8zM968 1004.5h8v8h-8z"/><path fill="#ffddd0" d="M944 636.5h8v8h-8zM936 660.5h8v8h-8zM1072 676.5h8v8h-8zM896 692.5h8v8h-8zM880 700.5h16v8h-16zM872 708.5h16v8h-16zM872 716.5h8v8h-8zM864 732.5h8v8h-8zM1064 772.5h8v8h-8zM712 780.5h8v8h-8zM856 780.5h8v8h-8zM1056 780.5h8v8h-8zM1048 788.5h8v8h-8zM720 796.5h8v8h-8zM728 804.5h8v8h-8zM1032 812.5h8v8h-8zM736 828.5h8v8h-8zM1024 836.5h8v8h-8zM776 868.5h8v8h-8zM1008 868.5h8v8h-8zM840 876.5h8v8h-8zM1000 892.5h8v8h-8zM992 916.5h8v8h-8zM984 948.5h8v8h-8z"/><path fill="#ffd9cb" d="M1064 644.5h8v8h-8zM1072 684.5h8v8h-8zM904 692.5h16v8h-16zM896 700.5h8v8h-8zM888 708.5h8v8h-8zM880 716.5h8v8h-8zM1072 756.5h8v8h-8zM712 788.5h8v8h-8zM712 796.5h8v8h-8zM1040 796.5h8v8h-8zM848 836.5h8v8h-8zM1008 860.5h8v8h-8zM816 900.5h16v8h-16zM992 908.5h8v8h-8zM984 940.5h8v8h-8zM976 972.5h8v8h-8zM968 996.5h8v8h-8zM960 1020.5h8v8h-8zM960 1028.5h8v8h-8zM960 1036.5h8v8h-8z"/><path fill="#ffd5c6" d="M944 644.5h8v8h-8zM1064 652.5h8v8h-8zM936 668.5h8v8h-8zM928 684.5h8v8h-8zM1072 692.5h8v8h-8zM872 724.5h8v8h-8zM864 740.5h8v8h-8zM1072 748.5h8v8h-8zM1064 764.5h8v8h-8zM1056 772.5h8v8h-8zM856 788.5h8v8h-8zM1032 804.5h8v8h-8zM1024 828.5h8v8h-8zM1016 844.5h8v8h-8zM840 884.5h8v8h-8zM1000 884.5h8v8h-8zM808 900.5h8v8h-8zM984 932.5h8v8h-8zM976 964.5h8v8h-8zM968 988.5h8v8h-8zM960 1012.5h8v8h-8z"/><path fill="#ffd1c1" d="M952 620.5h8v8h-8zM952 628.5h8v8h-8zM944 652.5h8v8h-8zM1064 660.5h8v8h-8zM936 676.5h8v8h-8zM920 692.5h8v8h-8zM904 700.5h8v8h-8zM1072 700.5h8v8h-8zM896 708.5h8v8h-8zM888 716.5h8v8h-8zM1072 732.5h8v8h-8zM1072 740.5h8v8h-8zM864 748.5h8v8h-8zM1048 780.5h8v8h-8zM1040 788.5h8v8h-8zM856 796.5h8v8h-8zM1024 820.5h8v8h-8zM752 852.5h8v8h-8zM1008 852.5h8v8h-8zM1000 876.5h8v8h-8zM992 900.5h8v8h-8zM984 924.5h8v8h-8z"/><path fill="#ffcdbc" d="M1056 620.5h8v8h-8zM1056 628.5h8v8h-8zM952 636.5h8v8h-8zM912 700.5h8v8h-8zM1072 708.5h8v8h-8zM1072 716.5h8v8h-8zM880 724.5h8v8h-8zM1072 724.5h8v8h-8zM1064 756.5h8v8h-8zM1032 796.5h8v8h-8zM1024 812.5h8v8h-8zM1016 836.5h8v8h-8zM744 844.5h8v8h-8zM848 844.5h8v8h-8zM760 860.5h8v8h-8zM1000 868.5h8v8h-8zM984 916.5h8v8h-8zM976 956.5h8v8h-8zM968 980.5h8v8h-8zM960 1004.5h8v8h-8zM952 1028.5h8v8h-8zM952 1036.5h8v8h-8z"/><path fill="#ffc9b7" d="M944 660.5h8v8h-8zM1064 668.5h8v8h-8zM936 684.5h8v8h-8zM928 692.5h8v8h-8zM904 708.5h8v8h-8zM896 716.5h8v8h-8zM872 732.5h8v8h-8zM864 756.5h8v8h-8zM1056 764.5h8v8h-8zM1048 772.5h8v8h-8zM1040 780.5h8v8h-8zM720 804.5h8v8h-8zM856 804.5h8v8h-8zM728 812.5h8v8h-8zM1016 828.5h8v8h-8zM736 836.5h8v8h-8zM1008 844.5h8v8h-8zM1000 860.5h8v8h-8zM992 892.5h8v8h-8zM832 900.5h8v8h-8zM984 908.5h8v8h-8zM976 948.5h8v8h-8zM968 972.5h8v8h-8zM960 996.5h8v8h-8zM952 1020.5h8v8h-8z"/><path fill="#ffc6b2" d="M1056 636.5h8v8h-8zM952 644.5h8v8h-8zM944 668.5h8v8h-8zM1064 676.5h8v8h-8zM1064 684.5h8v8h-8zM920 700.5h8v8h-8zM888 724.5h8v8h-8zM1064 748.5h8v8h-8zM864 764.5h8v8h-8zM1032 788.5h8v8h-8zM712 804.5h8v8h-8zM1024 804.5h8v8h-8zM1016 820.5h8v8h-8zM848 852.5h8v8h-8zM1000 852.5h8v8h-8zM992 884.5h8v8h-8zM792 892.5h8v8h-8zM840 892.5h8v8h-8zM984 900.5h8v8h-8zM976 932.5h8v8h-8zM976 940.5h8v8h-8zM968 964.5h8v8h-8zM960 988.5h8v8h-8zM952 1012.5h8v8h-8z"/><path fill="#ffc2ad" d="M1056 644.5h8v8h-8zM1064 692.5h8v8h-8zM912 708.5h8v8h-8zM880 732.5h8v8h-8zM1064 732.5h8v8h-8zM1064 740.5h8v8h-8zM1056 756.5h8v8h-8zM1048 764.5h8v8h-8zM1040 772.5h8v8h-8zM1024 796.5h8v8h-8zM856 812.5h8v8h-8zM1016 812.5h8v8h-8zM1008 836.5h8v8h-8zM992 876.5h8v8h-8zM800 900.5h8v8h-8zM976 924.5h8v8h-8zM968 956.5h8v8h-8zM960 980.5h8v8h-8zM952 1004.5h8v8h-8z"/><path fill="#ffbea8" d="M960 620.5h8v8h-8zM960 628.5h8v8h-8zM952 652.5h8v8h-8zM1056 652.5h8v8h-8zM944 676.5h8v8h-8zM936 692.5h8v8h-8zM1064 700.5h8v8h-8zM904 716.5h8v8h-8zM896 724.5h8v8h-8zM1064 724.5h8v8h-8zM872 740.5h8v8h-8zM864 772.5h8v8h-8zM1032 780.5h8v8h-8zM1008 828.5h8v8h-8zM1000 844.5h8v8h-8zM768 868.5h8v8h-8zM992 868.5h8v8h-8zM784 884.5h8v8h-8zM984 892.5h8v8h-8zM976 908.5h8v8h-8zM976 916.5h8v8h-8zM968 940.5h8v8h-8zM968 948.5h8v8h-8zM960 972.5h8v8h-8zM952 996.5h8v8h-8zM944 1020.5h8v8h-8zM944 1028.5h8v8h-8zM944 1036.5h8v8h-8z"/><path fill="#ffbaa3" d="M1048 620.5h8v8h-8zM960 636.5h8v8h-8zM952 660.5h8v8h-8zM1056 660.5h8v8h-8zM928 700.5h8v8h-8zM1064 708.5h8v8h-8zM1064 716.5h8v8h-8zM1056 748.5h8v8h-8zM1048 756.5h8v8h-8zM1040 764.5h8v8h-8zM1024 788.5h8v8h-8zM1016 804.5h8v8h-8zM728 820.5h8v8h-8zM856 820.5h8v8h-8zM1008 820.5h8v8h-8zM1000 836.5h8v8h-8zM848 860.5h8v8h-8zM992 860.5h8v8h-8zM776 876.5h8v8h-8zM984 884.5h8v8h-8zM976 900.5h8v8h-8zM968 924.5h8v8h-8zM968 932.5h8v8h-8zM960 964.5h8v8h-8zM952 988.5h8v8h-8zM944 1004.5h8v8h-8zM944 1012.5h8v8h-8z"/><path fill="#ffb69e" d="M1048 628.5h8v8h-8zM1056 668.5h8v8h-8zM1056 676.5h8v8h-8zM944 684.5h8v8h-8zM920 708.5h8v8h-8zM888 732.5h8v8h-8zM1056 740.5h8v8h-8zM872 748.5h8v8h-8zM1032 772.5h8v8h-8zM864 780.5h8v8h-8zM1024 780.5h8v8h-8zM1016 796.5h8v8h-8zM1008 812.5h8v8h-8zM856 828.5h8v8h-8zM1000 828.5h8v8h-8zM992 852.5h8v8h-8zM984 876.5h8v8h-8zM976 892.5h8v8h-8zM968 916.5h8v8h-8zM960 956.5h8v8h-8zM952 980.5h8v8h-8zM944 996.5h8v8h-8z"/><path fill="#ffb299" d="M1048 636.5h8v8h-8zM960 644.5h8v8h-8zM952 668.5h8v8h-8zM1056 684.5h8v8h-8zM1056 692.5h8v8h-8zM912 716.5h8v8h-8zM904 724.5h8v8h-8zM1056 724.5h8v8h-8zM1056 732.5h8v8h-8zM880 740.5h8v8h-8zM1048 748.5h8v8h-8zM1040 756.5h8v8h-8zM864 788.5h8v8h-8zM1016 788.5h8v8h-8zM1008 804.5h8v8h-8zM1000 820.5h8v8h-8zM856 836.5h8v8h-8zM736 844.5h8v8h-8zM992 844.5h8v8h-8zM752 860.5h8v8h-8zM984 860.5h8v8h-8zM848 868.5h8v8h-8zM984 868.5h8v8h-8zM976 884.5h8v8h-8zM968 900.5h8v8h-8zM824 908.5h8v8h-8zM968 908.5h8v8h-8zM960 932.5h8v8h-8zM960 940.5h8v8h-8zM960 948.5h8v8h-8zM952 972.5h8v8h-8zM944 988.5h8v8h-8zM936 1012.5h8v8h-8zM936 1020.5h8v8h-8zM936 1028.5h8v8h-8zM928 1036.5h16v8h-16z"/><path fill="#ffae95" d="M1048 644.5h8v8h-8zM1048 652.5h8v8h-8zM936 700.5h8v8h-8zM1056 700.5h8v8h-8zM1056 708.5h8v8h-8zM1056 716.5h8v8h-8zM896 732.5h8v8h-8zM1048 740.5h8v8h-8zM1032 764.5h8v8h-8zM1024 772.5h8v8h-8zM1016 780.5h8v8h-8zM864 796.5h8v8h-8zM1008 796.5h8v8h-8zM1000 812.5h8v8h-8zM728 828.5h8v8h-8zM992 836.5h8v8h-8zM744 852.5h8v8h-8zM984 852.5h8v8h-8zM848 876.5h8v8h-8zM976 876.5h8v8h-8zM968 892.5h8v8h-8zM840 900.5h8v8h-8zM816 908.5h8v8h-8zM960 916.5h8v8h-8zM960 924.5h8v8h-8zM952 964.5h8v8h-8zM944 980.5h8v8h-8zM936 1004.5h8v8h-8zM928 1028.5h8v8h-8z"/><path fill="#ffaa90" d="M960 652.5h8v8h-8zM1048 660.5h8v8h-8zM1048 668.5h8v8h-8zM952 676.5h8v8h-8zM944 692.5h8v8h-8zM928 708.5h8v8h-8zM1048 732.5h8v8h-8zM888 740.5h8v8h-8zM1040 748.5h8v8h-8zM872 756.5h8v8h-8zM1032 756.5h8v8h-8zM1024 764.5h8v8h-8zM1016 772.5h8v8h-8zM1008 788.5h8v8h-8zM864 804.5h8v8h-8zM1000 804.5h8v8h-8zM992 828.5h8v8h-8zM984 836.5h8v8h-8zM856 844.5h8v8h-8zM984 844.5h8v8h-8zM976 860.5h8v8h-8zM976 868.5h8v8h-8zM848 884.5h8v8h-8zM968 884.5h8v8h-8zM808 908.5h8v8h-8zM832 908.5h8v8h-8zM960 908.5h8v8h-8zM952 948.5h8v8h-8zM952 956.5h8v8h-8zM944 972.5h8v8h-8zM936 988.5h8v8h-8zM936 996.5h8v8h-8zM928 1012.5h8v8h-8zM928 1020.5h8v8h-8zM920 1028.5h8v8h-8zM920 1036.5h8v8h-8z"/><path fill="#ffa68b" d="M968 620.5h8v8h-8zM1040 620.5h8v8h-8zM968 628.5h8v8h-8zM960 660.5h8v8h-8zM1048 676.5h8v8h-8zM1048 684.5h8v8h-8zM1048 692.5h8v8h-8zM1048 700.5h8v8h-8zM920 716.5h8v8h-8zM912 724.5h8v8h-8zM1048 724.5h8v8h-8zM1040 740.5h8v8h-8zM880 748.5h8v8h-8zM1032 748.5h8v8h-8zM1024 756.5h8v8h-8zM872 764.5h8v8h-8zM1016 764.5h8v8h-8zM1008 780.5h8v8h-8zM1000 796.5h8v8h-8zM720 812.5h8v8h-8zM864 812.5h8v8h-8zM992 820.5h8v8h-8zM984 828.5h8v8h-8zM856 852.5h8v8h-8zM976 852.5h8v8h-8zM760 868.5h8v8h-8zM968 876.5h8v8h-8zM960 892.5h8v8h-8zM960 900.5h8v8h-8zM952 924.5h8v8h-8zM952 932.5h8v8h-8zM952 940.5h8v8h-8zM944 964.5h8v8h-8zM936 980.5h8v8h-8zM928 1004.5h8v8h-8zM920 1020.5h8v8h-8z"/><path fill="#ffa286" d="M1040 628.5h8v8h-8zM968 636.5h8v8h-8zM1040 636.5h8v8h-8zM1040 644.5h8v8h-8zM1040 652.5h8v8h-8zM952 684.5h8v8h-8zM944 700.5h8v8h-8zM936 708.5h8v8h-8zM1048 708.5h8v8h-8zM1048 716.5h8v8h-8zM904 732.5h8v8h-8zM1040 732.5h8v8h-8zM1032 740.5h8v8h-8zM1024 748.5h8v8h-8zM872 772.5h8v8h-8zM1008 772.5h8v8h-8zM1000 788.5h8v8h-8zM992 804.5h8v8h-8zM992 812.5h8v8h-8zM864 820.5h8v8h-8zM984 820.5h8v8h-8zM864 828.5h8v8h-8zM728 836.5h8v8h-8zM976 836.5h8v8h-8zM976 844.5h8v8h-8zM968 860.5h8v8h-8zM968 868.5h8v8h-8zM960 884.5h8v8h-8zM848 892.5h8v8h-8zM792 900.5h8v8h-8zM952 908.5h8v8h-8zM952 916.5h8v8h-8zM944 948.5h8v8h-8zM944 956.5h8v8h-8zM936 972.5h8v8h-8zM928 988.5h8v8h-8zM928 996.5h8v8h-8zM920 1012.5h8v8h-8z"/><path fill="#ff9e81" d="M968 644.5h8v8h-8zM1040 660.5h8v8h-8zM960 668.5h8v8h-8zM1040 668.5h8v8h-8zM928 716.5h8v8h-8zM1040 724.5h8v8h-8zM1032 732.5h8v8h-8zM896 740.5h8v8h-8zM1024 740.5h8v8h-8zM1016 748.5h8v8h-8zM1016 756.5h8v8h-8zM1008 764.5h8v8h-8zM1000 772.5h8v8h-8zM872 780.5h8v8h-8zM1000 780.5h8v8h-8zM992 796.5h8v8h-8zM984 812.5h8v8h-8zM976 828.5h8v8h-8zM864 836.5h8v8h-8zM968 844.5h8v8h-8zM968 852.5h8v8h-8zM856 860.5h8v8h-8zM960 868.5h8v8h-8zM960 876.5h8v8h-8zM784 892.5h8v8h-8zM952 892.5h8v8h-8zM952 900.5h8v8h-8zM944 924.5h8v8h-8zM944 932.5h8v8h-8zM944 940.5h8v8h-8zM936 956.5h8v8h-8zM936 964.5h8v8h-8zM928 972.5h8v8h-8zM928 980.5h8v8h-8zM920 996.5h8v8h-8zM920 1004.5h8v8h-8zM912 1020.5h8v8h-8z"/><path fill="#ff9a7c" d="M976 620.5h8v8h-8zM1024 620.5h16v8h-16zM976 628.5h8v8h-8zM1024 628.5h16v8h-16zM976 636.5h8v8h-8zM1032 636.5h8v8h-8zM1032 644.5h8v8h-8zM968 652.5h8v8h-8zM960 676.5h8v8h-8zM1040 676.5h8v8h-8zM1040 684.5h8v8h-8zM952 692.5h8v8h-8zM1040 692.5h8v8h-8zM1040 700.5h8v8h-8zM1040 708.5h8v8h-8zM1040 716.5h8v8h-8zM920 724.5h8v8h-8zM912 732.5h8v8h-8zM1024 732.5h8v8h-8zM1016 740.5h8v8h-8zM888 748.5h8v8h-8zM880 756.5h8v8h-8zM1008 756.5h8v8h-8zM1000 764.5h8v8h-8zM992 780.5h8v8h-8zM872 788.5h8v8h-8zM992 788.5h8v8h-8zM872 796.5h8v8h-8zM872 804.5h8v8h-8zM984 804.5h8v8h-8zM712 812.5h8v8h-8zM872 812.5h8v8h-8zM872 820.5h8v8h-8zM976 820.5h8v8h-8zM968 836.5h8v8h-8zM864 844.5h8v8h-8zM960 852.5h8v8h-8zM960 860.5h8v8h-8zM768 876.5h8v8h-8zM952 876.5h8v8h-8zM776 884.5h8v8h-8zM952 884.5h8v8h-8zM848 900.5h8v8h-8zM800 908.5h8v8h-8zM840 908.5h8v8h-8zM944 908.5h8v8h-8zM824 916.5h8v8h-8zM944 916.5h8v8h-8zM936 932.5h8v8h-8zM936 940.5h8v8h-8zM936 948.5h8v8h-8zM928 964.5h8v8h-8zM920 980.5h8v8h-8zM920 988.5h8v8h-8zM912 1004.5h8v8h-8zM912 1012.5h8v8h-8zM912 1028.5h8v8h-8zM912 1036.5h8v8h-8z"/><path fill="#ff9678" d="M984 620.5h8v8h-8zM1016 620.5h8v8h-8zM984 628.5h8v8h-8zM1016 628.5h8v8h-8zM984 636.5h8v8h-8zM1016 636.5h16v8h-16zM976 644.5h8v8h-8zM1024 644.5h8v8h-8zM976 652.5h8v8h-8zM1024 652.5h16v8h-16zM968 660.5h8v8h-8zM1032 660.5h8v8h-8zM968 668.5h8v8h-8zM1032 668.5h8v8h-8zM960 684.5h8v8h-8zM944 708.5h8v8h-8zM936 716.5h8v8h-8zM1032 716.5h8v8h-8zM928 724.5h8v8h-8zM1024 724.5h16v8h-16zM1016 732.5h8v8h-8zM904 740.5h8v8h-8zM1008 740.5h8v8h-8zM1008 748.5h8v8h-8zM1000 756.5h8v8h-8zM880 764.5h8v8h-8zM992 764.5h8v8h-8zM880 772.5h8v8h-8zM992 772.5h8v8h-8zM984 780.5h8v8h-8zM984 788.5h8v8h-8zM984 796.5h8v8h-8zM976 804.5h8v8h-8zM976 812.5h8v8h-8zM968 820.5h8v8h-8zM872 828.5h8v8h-8zM968 828.5h8v8h-8zM872 836.5h8v8h-8zM960 836.5h8v8h-8zM960 844.5h8v8h-8zM864 852.5h8v8h-8zM952 860.5h8v8h-8zM856 868.5h8v8h-8zM952 868.5h8v8h-8zM944 884.5h8v8h-8zM944 892.5h8v8h-8zM944 900.5h8v8h-8zM936 908.5h8v8h-8zM816 916.5h8v8h-8zM832 916.5h8v8h-8zM936 916.5h8v8h-8zM936 924.5h8v8h-8zM928 932.5h8v8h-8zM928 940.5h8v8h-8zM928 948.5h8v8h-8zM928 956.5h8v8h-8zM920 964.5h8v8h-8zM920 972.5h8v8h-8zM912 988.5h8v8h-8zM912 996.5h8v8h-8zM904 1012.5h8v8h-8zM904 1020.5h8v8h-8z"/><path fill="#ff9273" d="M992 620.5h24v8h-24zM992 628.5h24v8h-24zM992 636.5h24v8h-24zM984 644.5h40v8h-40zM984 652.5h16v8h-16zM1008 652.5h16v8h-16zM976 660.5h16v8h-16zM1016 660.5h16v8h-16zM976 668.5h8v8h-8zM1024 668.5h8v8h-8zM968 676.5h8v8h-8zM1024 676.5h16v8h-16zM968 684.5h8v8h-8zM1032 684.5h8v8h-8zM960 692.5h8v8h-8zM1032 692.5h8v8h-8zM952 700.5h8v8h-8zM1032 700.5h8v8h-8zM1032 708.5h8v8h-8zM1024 716.5h8v8h-8zM936 724.5h8v8h-8zM1008 724.5h16v8h-16zM920 732.5h16v8h-16zM1008 732.5h8v8h-8zM1000 740.5h8v8h-8zM896 748.5h8v8h-8zM1000 748.5h8v8h-8zM992 756.5h8v8h-8zM984 764.5h8v8h-8zM976 772.5h16v8h-16zM880 780.5h8v8h-8zM976 780.5h8v8h-8zM880 788.5h8v8h-8zM976 788.5h8v8h-8zM880 796.5h8v8h-8zM976 796.5h8v8h-8zM880 804.5h8v8h-8zM968 804.5h8v8h-8zM880 812.5h8v8h-8zM968 812.5h8v8h-8zM720 820.5h8v8h-8zM880 820.5h8v8h-8zM880 828.5h8v8h-8zM960 828.5h8v8h-8zM728 844.5h8v8h-8zM872 844.5h8v8h-8zM952 844.5h8v8h-8zM736 852.5h8v8h-8zM952 852.5h8v8h-8zM744 860.5h8v8h-8zM864 860.5h8v8h-8zM944 868.5h8v8h-8zM856 876.5h8v8h-8zM944 876.5h8v8h-8zM856 884.5h8v8h-8zM856 892.5h8v8h-8zM936 892.5h8v8h-8zM936 900.5h8v8h-8zM848 908.5h8v8h-8zM928 908.5h8v8h-8zM840 916.5h8v8h-8zM928 916.5h8v8h-8zM832 924.5h8v8h-8zM928 924.5h8v8h-8zM920 932.5h8v8h-8zM920 940.5h8v8h-8zM920 948.5h8v8h-8zM920 956.5h8v8h-8zM912 972.5h8v8h-8zM912 980.5h8v8h-8zM904 996.5h8v8h-8zM904 1004.5h8v8h-8zM896 1020.5h8v8h-8zM888 1028.5h24v8h-24zM888 1036.5h24v8h-24z"/><path fill="#ff8d6e" d="M1000 652.5h8v8h-8zM992 660.5h24v8h-24zM984 668.5h40v8h-40zM976 676.5h16v8h-16zM1008 676.5h16v8h-16zM976 684.5h16v8h-16zM1008 684.5h24v8h-24zM968 692.5h24v8h-24zM1008 692.5h24v8h-24zM960 700.5h32v8h-32zM1008 700.5h24v8h-24zM952 708.5h8v8h-8zM1008 708.5h24v8h-24zM944 716.5h8v8h-8zM1008 716.5h16v8h-16zM1000 724.5h8v8h-8zM936 732.5h8v8h-8zM992 732.5h16v8h-16zM912 740.5h24v8h-24zM992 740.5h8v8h-8zM984 748.5h16v8h-16zM888 756.5h8v8h-8zM984 756.5h8v8h-8zM888 764.5h8v8h-8zM976 764.5h8v8h-8zM968 772.5h8v8h-8zM968 780.5h8v8h-8zM968 788.5h8v8h-8zM968 796.5h8v8h-8zM960 812.5h8v8h-8zM960 820.5h8v8h-8zM720 828.5h8v8h-8zM952 828.5h8v8h-8zM880 836.5h8v8h-8zM952 836.5h8v8h-8zM872 852.5h8v8h-8zM944 852.5h8v8h-8zM944 860.5h8v8h-8zM752 868.5h8v8h-8zM864 868.5h8v8h-8zM936 868.5h8v8h-8zM936 876.5h8v8h-8zM936 884.5h8v8h-8zM928 892.5h8v8h-8zM856 900.5h8v8h-8zM928 900.5h8v8h-8zM856 908.5h8v8h-8zM920 908.5h8v8h-8zM808 916.5h8v8h-8zM848 916.5h8v8h-8zM920 916.5h8v8h-8zM824 924.5h8v8h-8zM840 924.5h8v8h-8zM920 924.5h8v8h-8zM832 932.5h8v8h-8zM912 932.5h8v8h-8zM912 940.5h8v8h-8zM912 948.5h8v8h-8zM912 956.5h8v8h-8zM912 964.5h8v8h-8zM904 980.5h8v8h-8zM904 988.5h8v8h-8zM896 1004.5h8v8h-8zM896 1012.5h8v8h-8zM888 1020.5h8v8h-8zM880 1028.5h8v8h-8zM880 1036.5h8v8h-8z"/><path fill="#ff8969" d="M992 676.5h16v8h-16zM992 684.5h16v8h-16zM992 692.5h16v8h-16zM992 700.5h16v8h-16zM960 708.5h48v8h-48zM952 716.5h56v8h-56zM944 724.5h56v8h-56zM944 732.5h8v8h-8zM976 732.5h16v8h-16zM936 740.5h8v8h-8zM976 740.5h16v8h-16zM904 748.5h8v8h-8zM976 748.5h8v8h-8zM968 756.5h16v8h-16zM960 764.5h16v8h-16zM888 772.5h8v8h-8zM960 772.5h8v8h-8zM888 780.5h8v8h-8zM960 780.5h8v8h-8zM888 788.5h8v8h-8zM960 788.5h8v8h-8zM888 796.5h8v8h-8zM960 796.5h8v8h-8zM888 804.5h8v8h-8zM960 804.5h8v8h-8zM888 812.5h8v8h-8zM952 812.5h8v8h-8zM888 820.5h8v8h-8zM952 820.5h8v8h-8zM888 828.5h8v8h-8zM944 828.5h8v8h-8zM888 836.5h8v8h-8zM936 836.5h16v8h-16zM880 844.5h8v8h-8zM936 844.5h16v8h-16zM880 852.5h8v8h-8zM936 852.5h8v8h-8zM872 860.5h8v8h-8zM936 860.5h8v8h-8zM864 876.5h8v8h-8zM928 876.5h8v8h-8zM864 884.5h8v8h-8zM928 884.5h8v8h-8zM864 892.5h8v8h-8zM920 892.5h8v8h-8zM784 900.5h8v8h-8zM864 900.5h8v8h-8zM920 900.5h8v8h-8zM864 908.5h8v8h-8zM912 908.5h8v8h-8zM856 916.5h16v8h-16zM912 916.5h8v8h-8zM816 924.5h8v8h-8zM848 924.5h16v8h-16zM912 924.5h8v8h-8zM824 932.5h8v8h-8zM840 932.5h16v8h-16zM840 940.5h8v8h-8zM904 956.5h8v8h-8zM904 964.5h8v8h-8zM904 972.5h8v8h-8zM896 980.5h8v8h-8zM896 988.5h8v8h-8zM888 996.5h16v8h-16zM888 1004.5h8v8h-8zM880 1012.5h16v8h-16zM880 1020.5h8v8h-8z"/><path fill="#ff8565" d="M952 732.5h24v8h-24zM944 740.5h32v8h-32zM912 748.5h64v8h-64zM896 756.5h16v8h-16zM952 756.5h16v8h-16zM896 764.5h8v8h-8zM952 764.5h8v8h-8zM896 772.5h8v8h-8zM952 772.5h8v8h-8zM896 780.5h8v8h-8zM952 780.5h8v8h-8zM896 788.5h8v8h-8zM952 788.5h8v8h-8zM896 796.5h8v8h-8zM952 796.5h8v8h-8zM896 804.5h8v8h-8zM944 804.5h16v8h-16zM896 812.5h8v8h-8zM912 812.5h40v8h-40zM712 820.5h8v8h-8zM896 820.5h8v8h-8zM912 820.5h40v8h-40zM896 828.5h8v8h-8zM912 828.5h32v8h-32zM720 836.5h8v8h-8zM912 836.5h24v8h-24zM888 844.5h8v8h-8zM920 844.5h16v8h-16zM920 852.5h16v8h-16zM880 860.5h8v8h-8zM920 860.5h16v8h-16zM872 868.5h8v8h-8zM920 868.5h16v8h-16zM872 876.5h8v8h-8zM920 876.5h8v8h-8zM872 884.5h8v8h-8zM920 884.5h8v8h-8zM776 892.5h8v8h-8zM872 892.5h8v8h-8zM912 892.5h8v8h-8zM872 900.5h8v8h-8zM912 900.5h8v8h-8zM792 908.5h8v8h-8zM872 908.5h16v8h-16zM904 908.5h8v8h-8zM872 916.5h16v8h-16zM904 916.5h8v8h-8zM864 924.5h24v8h-24zM904 924.5h8v8h-8zM816 932.5h8v8h-8zM856 932.5h32v8h-32zM904 932.5h8v8h-8zM824 940.5h16v8h-16zM848 940.5h40v8h-40zM904 940.5h8v8h-8zM840 948.5h8v8h-8zM904 948.5h8v8h-8zM896 964.5h8v8h-8zM896 972.5h8v8h-8zM888 980.5h8v8h-8zM880 988.5h16v8h-16zM872 996.5h16v8h-16zM872 1004.5h16v8h-16zM872 1012.5h8v8h-8zM872 1020.5h8v8h-8zM872 1028.5h8v8h-8zM872 1036.5h8v8h-8z"/><path fill="#ff8160" d="M912 756.5h40v8h-40zM904 764.5h48v8h-48zM904 772.5h48v8h-48zM904 780.5h48v8h-48zM904 788.5h48v8h-48zM904 796.5h48v8h-48zM904 804.5h40v8h-40zM904 812.5h8v8h-8zM904 820.5h8v8h-8zM712 828.5h8v8h-8zM904 828.5h8v8h-8zM896 836.5h16v8h-16zM896 844.5h24v8h-24zM888 852.5h32v8h-32zM888 860.5h32v8h-32zM880 868.5h40v8h-40zM760 876.5h8v8h-8zM880 876.5h40v8h-40zM768 884.5h8v8h-8zM880 884.5h40v8h-40zM880 892.5h32v8h-32zM880 900.5h32v8h-32zM888 908.5h16v8h-16zM800 916.5h8v8h-8zM888 916.5h16v8h-16zM808 924.5h8v8h-8zM888 924.5h16v8h-16zM888 932.5h16v8h-16zM816 940.5h8v8h-8zM888 940.5h16v8h-16zM824 948.5h16v8h-16zM848 948.5h56v8h-56zM840 956.5h64v8h-64zM848 964.5h48v8h-48zM848 972.5h48v8h-48zM848 980.5h40v8h-40zM856 988.5h24v8h-24zM856 996.5h16v8h-16zM856 1004.5h16v8h-16zM856 1012.5h16v8h-16zM848 1020.5h24v8h-24zM848 1028.5h24v8h-24zM848 1036.5h24v8h-24z"/><path fill="#ff7c5b" d="M728 852.5h8v8h-8zM808 932.5h8v8h-8zM816 948.5h8v8h-8zM824 956.5h16v8h-16zM832 964.5h16v8h-16zM832 972.5h16v8h-16zM832 980.5h16v8h-16zM840 988.5h16v8h-16zM840 996.5h16v8h-16zM840 1004.5h16v8h-16zM840 1012.5h16v8h-16zM840 1020.5h8v8h-8zM840 1028.5h8v8h-8zM840 1036.5h8v8h-8z"/><path fill="#ff7857" d="M712 836.5h8v8h-8zM736 860.5h8v8h-8zM744 868.5h8v8h-8zM776 900.5h8v8h-8zM784 908.5h8v8h-8zM792 916.5h8v8h-8zM800 924.5h8v8h-8zM808 940.5h8v8h-8zM816 956.5h8v8h-8zM816 964.5h16v8h-16zM824 972.5h8v8h-8zM824 980.5h8v8h-8zM824 988.5h16v8h-16zM824 996.5h16v8h-16zM824 1004.5h16v8h-16zM824 1012.5h16v8h-16zM832 1020.5h8v8h-8zM832 1028.5h8v8h-8zM832 1036.5h8v8h-8z"/><path fill="#ff7352" d="M720 844.5h8v8h-8zM752 876.5h8v8h-8zM768 892.5h8v8h-8zM792 924.5h8v8h-8zM800 932.5h8v8h-8zM800 940.5h8v8h-8zM808 948.5h8v8h-8zM808 956.5h8v8h-8zM808 964.5h8v8h-8zM816 972.5h8v8h-8zM816 980.5h8v8h-8zM816 988.5h8v8h-8zM816 996.5h8v8h-8zM816 1004.5h8v8h-8zM816 1012.5h8v8h-8zM816 1020.5h16v8h-16zM808 1028.5h24v8h-24zM808 1036.5h24v8h-24z"/><path fill="#ff6f4d" d="M760 884.5h8v8h-8zM776 908.5h8v8h-8zM784 916.5h8v8h-8zM792 932.5h8v8h-8zM800 948.5h8v8h-8zM800 956.5h8v8h-8zM808 972.5h8v8h-8zM808 980.5h8v8h-8zM808 988.5h8v8h-8zM808 996.5h8v8h-8zM808 1004.5h8v8h-8zM808 1012.5h8v8h-8zM808 1020.5h8v8h-8zM800 1028.5h8v8h-8zM800 1036.5h8v8h-8z"/><path fill="#ff6a49" d="M728 860.5h8v8h-8zM760 892.5h8v8h-8zM768 900.5h8v8h-8zM784 924.5h8v8h-8zM784 932.5h8v8h-8zM792 940.5h8v8h-8zM792 948.5h8v8h-8zM800 964.5h8v8h-8zM800 972.5h8v8h-8zM800 980.5h8v8h-8zM800 988.5h8v8h-8zM800 996.5h8v8h-8zM800 1004.5h8v8h-8zM800 1012.5h8v8h-8zM800 1020.5h8v8h-8z"/><path fill="#ff6544" d="M712 844.5h8v8h-8zM720 852.5h8v8h-8zM736 868.5h8v8h-8zM744 876.5h8v8h-8zM752 884.5h8v8h-8zM768 908.5h8v8h-8zM776 916.5h8v8h-8zM784 940.5h8v8h-8zM784 948.5h8v8h-8zM792 956.5h8v8h-8zM792 964.5h8v8h-8zM792 972.5h8v8h-8zM792 980.5h8v8h-8zM792 988.5h8v8h-8zM792 996.5h8v8h-8zM792 1004.5h8v8h-8zM792 1012.5h8v8h-8zM792 1020.5h8v8h-8z"/><path fill="#ff603f" d="M752 892.5h8v8h-8zM760 900.5h8v8h-8zM768 916.5h8v8h-8zM776 924.5h8v8h-8zM776 932.5h8v8h-8zM776 940.5h8v8h-8zM784 956.5h8v8h-8zM784 964.5h8v8h-8zM784 972.5h8v8h-8zM784 980.5h8v8h-8zM784 988.5h8v8h-8zM784 996.5h8v8h-8zM784 1004.5h8v8h-8zM784 1012.5h8v8h-8zM784 1020.5h8v8h-8zM792 1028.5h8v8h-8zM792 1036.5h8v8h-8z"/><path fill="#ff5b3a" d="M712 852.5h8v8h-8zM720 860.5h8v8h-8zM728 868.5h8v8h-8zM736 876.5h8v8h-8zM744 884.5h8v8h-8zM752 900.5h8v8h-8zM760 908.5h8v8h-8zM768 924.5h8v8h-8zM768 932.5h8v8h-8zM776 948.5h8v8h-8zM776 956.5h8v8h-8zM776 964.5h8v8h-8zM776 972.5h8v8h-8zM776 980.5h8v8h-8zM776 988.5h8v8h-8zM776 996.5h8v8h-8zM776 1004.5h8v8h-8zM776 1012.5h8v8h-8zM768 1020.5h16v8h-16zM760 1028.5h32v8h-32zM760 1036.5h32v8h-32z"/><path fill="#ff5636" d="M712 860.5h8v8h-8zM736 884.5h8v8h-8zM744 892.5h8v8h-8zM752 908.5h8v8h-8zM760 916.5h8v8h-8zM760 924.5h8v8h-8zM760 932.5h8v8h-8zM768 940.5h8v8h-8zM768 948.5h8v8h-8zM768 956.5h8v8h-8zM768 964.5h8v8h-8zM768 972.5h8v8h-8zM768 980.5h8v8h-8zM768 988.5h8v8h-8zM768 996.5h8v8h-8zM760 1004.5h16v8h-16zM760 1012.5h16v8h-16zM760 1020.5h8v8h-8zM752 1028.5h8v8h-8zM752 1036.5h8v8h-8z"/><path fill="#ff5031" d="M720 868.5h8v8h-8zM728 876.5h8v8h-8zM736 892.5h8v8h-8zM744 900.5h8v8h-8zM752 916.5h8v8h-8zM752 924.5h8v8h-8zM760 940.5h8v8h-8zM760 948.5h8v8h-8zM760 956.5h8v8h-8zM760 964.5h8v8h-8zM760 972.5h8v8h-8zM760 980.5h8v8h-8zM760 988.5h8v8h-8zM760 996.5h8v8h-8zM752 1004.5h8v8h-8zM752 1012.5h8v8h-8zM752 1020.5h8v8h-8z"/><path fill="#ff4a2c" d="M712 868.5h8v8h-8zM720 876.5h8v8h-8zM728 884.5h8v8h-8zM736 900.5h8v8h-8zM744 908.5h8v8h-8zM744 916.5h8v8h-8zM744 924.5h8v8h-8zM752 932.5h8v8h-8zM752 940.5h8v8h-8zM752 948.5h8v8h-8zM752 956.5h8v8h-8zM752 964.5h8v8h-8zM752 972.5h8v8h-8zM752 980.5h8v8h-8zM752 988.5h8v8h-8zM752 996.5h8v8h-8zM744 1004.5h8v8h-8zM744 1012.5h8v8h-8zM736 1020.5h16v8h-16zM744 1028.5h8v8h-8zM744 1036.5h8v8h-8z"/><path fill="#ff4427" d="M712 876.5h8v8h-8zM712 884.5h16v8h-16zM712 892.5h24v8h-24zM728 900.5h8v8h-8zM736 908.5h8v8h-8zM736 916.5h8v8h-8zM744 932.5h8v8h-8zM744 940.5h8v8h-8zM744 948.5h8v8h-8zM744 956.5h8v8h-8zM744 964.5h8v8h-8zM744 972.5h8v8h-8zM744 980.5h8v8h-8zM744 988.5h8v8h-8zM736 996.5h16v8h-16zM736 1004.5h8v8h-8zM712 1012.5h32v8h-32zM712 1020.5h24v8h-24zM712 1028.5h32v8h-32zM712 1036.5h32v8h-32z"/><path fill="#ff3e22" d="M712 900.5h16v8h-16zM728 908.5h8v8h-8zM728 916.5h8v8h-8zM728 924.5h16v8h-16zM736 932.5h8v8h-8zM736 940.5h8v8h-8zM736 948.5h8v8h-8zM736 956.5h8v8h-8zM736 964.5h8v8h-8zM736 972.5h8v8h-8zM736 980.5h8v8h-8zM728 988.5h16v8h-16zM728 996.5h8v8h-8zM712 1004.5h24v8h-24z"/><path fill="#ff361c" d="M712 908.5h16v8h-16zM712 916.5h16v8h-16zM712 924.5h16v8h-16zM712 932.5h24v8h-24zM728 940.5h8v8h-8zM728 948.5h8v8h-8zM728 956.5h8v8h-8zM728 964.5h8v8h-8zM728 972.5h8v8h-8zM712 980.5h24v8h-24zM712 988.5h16v8h-16zM712 996.5h16v8h-16z"/><path fill="#ff2e16" d="M712 940.5h16v8h-16zM712 948.5h16v8h-16zM712 956.5h16v8h-16zM712 964.5h16v8h-16zM712 972.5h16v8h-16z"/></g></g>
<g clip-path="url(#clipD)"><path d="M701.9 616.9L890.6 617.5L892 620.3L887.8 625.9L883.6 632.8L873.9 634.2L869.8 635.6L875.3 639.7L880.9 653.6L882.2 663.3L875.3 671.6L867 674.4L875.3 677.2L876 695.2L873.9 706.3L868.4 720.2L864.2 729.9L860 734L858.7 741L853.1 750.7L844.8 750.7L851.7 756.2L851 768.7L849.9 772L851.9 782.1L853 790.3L849.9 797.4L846.9 812.6L844.8 832.9L843.8 843L838.7 853.2L834.7 858.3L835.7 860.3L837.2 868.4L836.7 878.6L831.6 885.7L825.6 890.7L820.5 890.7L815.4 887.7L813.4 882.6L806.3 878.6L800.2 871.5L799.2 860.3L791 853.2L788 849.1L782.9 848.1L776.8 844.1L768.7 843L765.7 843L762.6 847.1L757.6 846.1L754.5 841L757.6 834.9L753.5 833.9L752.5 828.8L750.4 822.7L744.4 819.7L743.3 814.6L739.3 802.4L738.3 787.2L733.2 782.1L733.2 772L729.7 770.1L722.7 760.4L723.4 750.7L721.4 742.4L715.8 729.9L710.3 713.2L704.7 698L704 686.9L701.9 681.3Z" fill="#ffffff" stroke="#fff" stroke-width="3" stroke-linejoin="round"/><path d="M728.5 772L733 782L737 788L738 802L742 815L749 823L752 832L756 835L753 841L757 848L763 849L768 845L777 846L783 851L790 856L796 863L798 872L804 881L812 885L815 891L822 895L826 892L820 888L816 882L807 876L802 870L800 860L792 852L784 847L777 843L766 842L760 845L757 840L756 834L752 827L748 821L742 814L739 802L738 787L733 781L732 770Z" fill="#ffffff" fill-opacity="0.85"/><path d="M1135 637L1128 644L1131 652L1140 650L1146 654L1143 672L1145 682L1146 698L1160 698L1170 699L1178 707L1186 714L1195 718L1205 719L1216 720L1226 716L1232 706L1245 701L1250 696L1255 690L1258 686L1265 680L1271 678L1271 637Z" fill="#ffffff"/><path d="M701.9 616.9L890.6 617.5L892 620.3L887.8 625.9L883.6 632.8L873.9 634.2L869.8 635.6L875.3 639.7L880.9 653.6L882.2 663.3L875.3 671.6L867 674.4L875.3 677.2L876 695.2L873.9 706.3L868.4 720.2L864.2 729.9L860 734L858.7 741L853.1 750.7L844.8 750.7L851.7 756.2L851 768.7L849.9 772L851.9 782.1L853 790.3L849.9 797.4L846.9 812.6L844.8 832.9L843.8 843L838.7 853.2L834.7 858.3L835.7 860.3L837.2 868.4L836.7 878.6L831.6 885.7L825.6 890.7L820.5 890.7L815.4 887.7L813.4 882.6L806.3 878.6L800.2 871.5L799.2 860.3L791 853.2L788 849.1L782.9 848.1L776.8 844.1L768.7 843L765.7 843L762.6 847.1L757.6 846.1L754.5 841L757.6 834.9L753.5 833.9L752.5 828.8L750.4 822.7L744.4 819.7L743.3 814.6L739.3 802.4L738.3 787.2L733.2 782.1L733.2 772L729.7 770.1L722.7 760.4L723.4 750.7L721.4 742.4L715.8 729.9L710.3 713.2L704.7 698L704 686.9L701.9 681.3Z" fill="#D3D3D3"/><path d="M1161.4 617.1L1292.9 617.1L1292.9 623L1294.8 631.5L1290.5 637.6L1289.3 646.1L1282 653.4L1280.8 663.2L1273.5 670.5L1261.3 676.5L1254 685.1L1249.1 692.4L1239.4 697.3L1229.6 700.9L1226 707L1222.3 713.1L1215 715.5L1205.3 714.3L1195.5 710.6L1189.4 707L1183.3 699.7L1174.8 692.4L1168.7 694.8L1151.7 694.8L1149.2 685.1L1151.7 680.2L1160.2 675.3L1161.4 663.2L1156.5 657.1L1156.5 649.8L1151.7 647.3L1140.7 647.3L1133.4 649.8L1129.7 644.9L1131 640L1141.9 636.4L1150.4 633.9L1162.6 632.1L1154.1 627.8L1156.5 620.5Z" fill="#D3D3D3"/></g>
<g clip-path="url(#clipD)" fill="#000"><circle cx="1027.6" cy="637.3" r="3.5"/><circle cx="959.2" cy="661.0" r="3.5"/><circle cx="928.4" cy="713.2" r="3.5"/><circle cx="902.9" cy="735.0" r="3.5"/><circle cx="1000.0" cy="851.9" r="3.5"/><circle cx="910.9" cy="913.6" r="3.5"/><circle cx="1059.3" cy="879.1" r="3.5"/><circle cx="1210.5" cy="724.5" r="3.5"/><circle cx="1175.8" cy="732.8" r="3.5"/><circle cx="1077.7" cy="688.6" r="3.5"/><circle cx="1092.3" cy="760.7" r="3.5"/><circle cx="1089.3" cy="766.1" r="3.5"/><circle cx="1053.6" cy="844.3" r="3.5"/><circle cx="1052.8" cy="845.3" r="3.5"/><circle cx="968.0" cy="649.4" r="3.5"/><circle cx="974.2" cy="649.4" r="3.5"/><circle cx="983.9" cy="649.4" r="3.5"/><circle cx="999.5" cy="649.4" r="3.5"/><circle cx="1002.0" cy="649.4" r="3.5"/><circle cx="1005.1" cy="649.4" r="3.5"/><circle cx="1017.3" cy="649.4" r="3.5"/><circle cx="1032.5" cy="649.4" r="3.5"/><circle cx="1034.5" cy="649.4" r="3.5"/><circle cx="1060.3" cy="649.4" r="3.5"/><circle cx="949.4" cy="686.3" r="3.5"/><circle cx="999.0" cy="686.3" r="3.5"/><circle cx="1001.8" cy="686.3" r="3.5"/><circle cx="1070.0" cy="686.3" r="3.5"/><circle cx="1072.0" cy="686.3" r="3.5"/><circle cx="950.7" cy="698.2" r="3.5"/><circle cx="965.7" cy="698.2" r="3.5"/><circle cx="968.0" cy="698.2" r="3.5"/><circle cx="984.5" cy="698.2" r="3.5"/><circle cx="997.2" cy="698.2" r="3.5"/><circle cx="1021.3" cy="698.2" r="3.5"/><circle cx="1025.4" cy="698.2" r="3.5"/><circle cx="1057.8" cy="698.2" r="3.5"/><circle cx="1060.9" cy="698.2" r="3.5"/><circle cx="1077.1" cy="698.2" r="3.5"/><circle cx="1096.4" cy="698.2" r="3.5"/><circle cx="940.8" cy="722.8" r="3.5"/><circle cx="946.6" cy="722.8" r="3.5"/><circle cx="972.6" cy="722.8" r="3.5"/><circle cx="1004.1" cy="722.8" r="3.5"/><circle cx="1011.2" cy="722.8" r="3.5"/><circle cx="1033.5" cy="722.8" r="3.5"/><circle cx="1051.8" cy="722.8" r="3.5"/><circle cx="1061.9" cy="722.8" r="3.5"/><circle cx="1090.3" cy="722.8" r="3.5"/><circle cx="1092.3" cy="722.8" r="3.5"/><circle cx="887.5" cy="747.0" r="3.5"/><circle cx="913.2" cy="747.0" r="3.5"/><circle cx="920.1" cy="747.0" r="3.5"/><circle cx="942.0" cy="747.0" r="3.5"/><circle cx="947.7" cy="747.0" r="3.5"/><circle cx="970.3" cy="747.0" r="3.5"/><circle cx="975.3" cy="747.0" r="3.5"/><circle cx="979.3" cy="747.0" r="3.5"/><circle cx="1002.0" cy="747.0" r="3.5"/><circle cx="1009.1" cy="747.0" r="3.5"/><circle cx="1029.4" cy="747.0" r="3.5"/><circle cx="1040.6" cy="747.0" r="3.5"/><circle cx="1048.1" cy="747.0" r="3.5"/><circle cx="1063.5" cy="747.0" r="3.5"/><circle cx="1071.0" cy="747.0" r="3.5"/><circle cx="1073.1" cy="747.0" r="3.5"/><circle cx="1087.7" cy="747.0" r="3.5"/><circle cx="1096.4" cy="747.0" r="3.5"/><circle cx="910.9" cy="759.2" r="3.5"/><circle cx="913.7" cy="759.2" r="3.5"/><circle cx="969.1" cy="759.2" r="3.5"/><circle cx="1029.8" cy="759.2" r="3.5"/><circle cx="1057.8" cy="759.2" r="3.5"/><circle cx="1060.9" cy="759.2" r="3.5"/><circle cx="888.6" cy="771.8" r="3.5"/><circle cx="898.3" cy="771.8" r="3.5"/><circle cx="902.9" cy="771.8" r="3.5"/><circle cx="906.8" cy="771.8" r="3.5"/><circle cx="926.6" cy="771.8" r="3.5"/><circle cx="940.4" cy="771.8" r="3.5"/><circle cx="971.7" cy="771.8" r="3.5"/><circle cx="1008.5" cy="771.8" r="3.5"/><circle cx="1039.6" cy="771.8" r="3.5"/><circle cx="1073.5" cy="771.8" r="3.5"/><circle cx="880.6" cy="796.2" r="3.5"/><circle cx="882.9" cy="796.2" r="3.5"/><circle cx="908.6" cy="796.2" r="3.5"/><circle cx="927.0" cy="796.2" r="3.5"/><circle cx="928.9" cy="796.2" r="3.5"/><circle cx="943.1" cy="796.2" r="3.5"/><circle cx="977.2" cy="796.2" r="3.5"/><circle cx="979.5" cy="796.2" r="3.5"/><circle cx="1040.6" cy="796.2" r="3.5"/><circle cx="869.1" cy="808.6" r="3.5"/><circle cx="902.2" cy="808.6" r="3.5"/><circle cx="933.9" cy="808.6" r="3.5"/><circle cx="969.1" cy="808.6" r="3.5"/><circle cx="1002.0" cy="808.6" r="3.5"/><circle cx="1031.5" cy="808.6" r="3.5"/><circle cx="1060.3" cy="808.6" r="3.5"/><circle cx="1092.3" cy="808.6" r="3.5"/><circle cx="870.0" cy="832.3" r="3.5"/><circle cx="880.6" cy="832.3" r="3.5"/><circle cx="901.3" cy="832.3" r="3.5"/><circle cx="927.0" cy="832.3" r="3.5"/><circle cx="887.5" cy="844.8" r="3.5"/><circle cx="890.2" cy="844.8" r="3.5"/><circle cx="943.6" cy="844.8" r="3.5"/><circle cx="946.6" cy="844.8" r="3.5"/><circle cx="996.7" cy="844.8" r="3.5"/><circle cx="998.3" cy="844.8" r="3.5"/><circle cx="863.8" cy="869.2" r="3.5"/><circle cx="889.8" cy="869.2" r="3.5"/><circle cx="897.1" cy="869.2" r="3.5"/><circle cx="920.1" cy="869.2" r="3.5"/><circle cx="929.3" cy="869.2" r="3.5"/><circle cx="870.7" cy="893.8" r="3.5"/><circle cx="875.3" cy="893.8" r="3.5"/><circle cx="926.6" cy="893.8" r="3.5"/><circle cx="988.5" cy="893.8" r="3.5"/><circle cx="1030.6" cy="893.8" r="3.5"/><circle cx="1035.2" cy="893.8" r="3.5"/><circle cx="846.1" cy="906.0" r="3.5"/><circle cx="856.2" cy="906.0" r="3.5"/><circle cx="880.6" cy="906.0" r="3.5"/><circle cx="889.1" cy="906.0" r="3.5"/><circle cx="735.4" cy="942.8" r="3.5"/><circle cx="769.9" cy="942.8" r="3.5"/><circle cx="788.6" cy="942.8" r="3.5"/><circle cx="792.0" cy="942.8" r="3.5"/><circle cx="796.6" cy="942.8" r="3.5"/><circle cx="847.7" cy="942.8" r="3.5"/><circle cx="860.8" cy="942.8" r="3.5"/><circle cx="870.0" cy="942.8" r="3.5"/><circle cx="890.2" cy="942.8" r="3.5"/><circle cx="897.1" cy="942.8" r="3.5"/><circle cx="900.6" cy="942.8" r="3.5"/><circle cx="948.4" cy="942.8" r="3.5"/><circle cx="1001.8" cy="942.8" r="3.5"/><circle cx="1005.3" cy="942.8" r="3.5"/><circle cx="744.8" cy="991.4" r="3.5"/><circle cx="780.3" cy="991.4" r="3.5"/><circle cx="808.1" cy="991.4" r="3.5"/><circle cx="838.0" cy="991.4" r="3.5"/><circle cx="847.2" cy="991.4" r="3.5"/><circle cx="866.8" cy="991.4" r="3.5"/><circle cx="891.4" cy="991.4" r="3.5"/><circle cx="898.3" cy="991.4" r="3.5"/><circle cx="920.6" cy="991.4" r="3.5"/><circle cx="942.5" cy="991.4" r="3.5"/><circle cx="963.2" cy="991.4" r="3.5"/></g>
<text x="685.3" y="988.6" text-anchor="end" class="tk">58</text>
<text x="685.3" y="890.8" text-anchor="end" class="tk">60</text>
<text x="685.3" y="793" text-anchor="end" class="tk">62</text>
<text x="685.3" y="695.2" text-anchor="end" class="tk">64</text>
<text x="728" y="1082.8" text-anchor="middle" class="tk">-50</text>
<text x="883" y="1082.8" text-anchor="middle" class="tk">-40</text>
<text x="1038" y="1082.8" text-anchor="middle" class="tk">-30</text>
<text x="1193" y="1082.8" text-anchor="middle" class="tk">-20</text>
<text x="999.7" y="1121.3" text-anchor="middle" class="ti">Lon</text>
<text transform="translate(641.2,831.9) rotate(-90)" text-anchor="middle" class="ti">Lat</text>
<text x="589" y="609.9" class="pl">D</text>
<line x1="167.4" y1="1199.2" x2="167.4" y2="1629.8" stroke="#EBEBEB" stroke-width="1.3"/>
<line x1="294.4" y1="1199.2" x2="294.4" y2="1629.8" stroke="#EBEBEB" stroke-width="1.3"/>
<line x1="421.4" y1="1199.2" x2="421.4" y2="1629.8" stroke="#EBEBEB" stroke-width="1.3"/>
<line x1="548.4" y1="1199.2" x2="548.4" y2="1629.8" stroke="#EBEBEB" stroke-width="1.3"/>
<line x1="136.8" y1="1598.7" x2="553.3" y2="1598.7" stroke="#EBEBEB" stroke-width="1.3"/>
<line x1="136.8" y1="1529.8" x2="553.3" y2="1529.8" stroke="#EBEBEB" stroke-width="1.3"/>
<line x1="136.8" y1="1460.9" x2="553.3" y2="1460.9" stroke="#EBEBEB" stroke-width="1.3"/>
<line x1="136.8" y1="1392" x2="553.3" y2="1392" stroke="#EBEBEB" stroke-width="1.3"/>
<line x1="136.8" y1="1323" x2="553.3" y2="1323" stroke="#EBEBEB" stroke-width="1.3"/>
<line x1="136.8" y1="1254.2" x2="553.3" y2="1254.2" stroke="#EBEBEB" stroke-width="1.3"/>
<line x1="230.9" y1="1199.2" x2="230.9" y2="1629.8" stroke="#EBEBEB" stroke-width="2.6"/>
<line x1="357.9" y1="1199.2" x2="357.9" y2="1629.8" stroke="#EBEBEB" stroke-width="2.6"/>
<line x1="484.9" y1="1199.2" x2="484.9" y2="1629.8" stroke="#EBEBEB" stroke-width="2.6"/>
<line x1="136.8" y1="1564.2" x2="553.3" y2="1564.2" stroke="#EBEBEB" stroke-width="2.6"/>
<line x1="136.8" y1="1495.3" x2="553.3" y2="1495.3" stroke="#EBEBEB" stroke-width="2.6"/>
<line x1="136.8" y1="1426.4" x2="553.3" y2="1426.4" stroke="#EBEBEB" stroke-width="2.6"/>
<line x1="136.8" y1="1357.5" x2="553.3" y2="1357.5" stroke="#EBEBEB" stroke-width="2.6"/>
<line x1="136.8" y1="1288.6" x2="553.3" y2="1288.6" stroke="#EBEBEB" stroke-width="2.6"/>
<line x1="136.8" y1="1219.7" x2="553.3" y2="1219.7" stroke="#EBEBEB" stroke-width="2.6"/>
<g clip-path="url(#rcE)"><g filter="url(#blE)" shape-rendering="crispEdges"><path fill="#789fef" d="M139 1291.5h16v8h-16zM139 1299.5h16v8h-16z"/><path fill="#7ba1ef" d="M139 1283.5h16v8h-16zM155 1299.5h24v8h-24zM139 1307.5h32v8h-32zM139 1315.5h16v8h-16z"/><path fill="#7fa3f0" d="M155 1291.5h16v8h-16zM171 1307.5h8v8h-8zM155 1315.5h16v8h-16zM139 1323.5h16v8h-16z"/><path fill="#83a5f0" d="M155 1283.5h8v8h-8zM171 1291.5h8v8h-8zM179 1299.5h8v8h-8zM179 1307.5h8v8h-8zM171 1315.5h8v8h-8z"/><path fill="#86a7f1" d="M139 1275.5h8v8h-8zM163 1283.5h8v8h-8zM179 1315.5h8v8h-8zM155 1323.5h8v8h-8z"/><path fill="#89a9f1" d="M139 1267.5h16v8h-16zM147 1275.5h16v8h-16zM171 1283.5h8v8h-8zM179 1291.5h8v8h-8z"/><path fill="#8dabf2" d="M187 1299.5h8v8h-8zM187 1307.5h8v8h-8zM187 1315.5h8v8h-8zM163 1323.5h8v8h-8zM139 1331.5h8v8h-8z"/><path fill="#90adf2" d="M139 1259.5h8v8h-8zM163 1275.5h8v8h-8zM171 1323.5h8v8h-8zM147 1331.5h8v8h-8z"/><path fill="#93aff2" d="M147 1259.5h8v8h-8zM171 1275.5h8v8h-8zM195 1307.5h8v8h-8zM195 1315.5h8v8h-8zM179 1323.5h8v8h-8zM155 1331.5h8v8h-8zM139 1339.5h8v8h-8z"/><path fill="#97b1f3" d="M155 1267.5h8v8h-8zM179 1283.5h8v8h-8zM187 1291.5h8v8h-8zM195 1299.5h8v8h-8zM187 1323.5h8v8h-8zM163 1331.5h8v8h-8zM147 1339.5h8v8h-8z"/><path fill="#9ab3f3" d="M163 1267.5h8v8h-8zM203 1307.5h8v8h-8zM203 1315.5h8v8h-8zM171 1331.5h8v8h-8z"/><path fill="#9db5f3" d="M155 1339.5h8v8h-8z"/><path fill="#a0b7f4" d="M171 1267.5h8v8h-8zM179 1275.5h8v8h-8zM195 1291.5h8v8h-8zM203 1299.5h8v8h-8zM195 1323.5h8v8h-8zM179 1331.5h8v8h-8z"/><path fill="#a3baf4" d="M187 1283.5h8v8h-8zM211 1307.5h8v8h-8zM211 1315.5h8v8h-8zM163 1339.5h8v8h-8z"/><path fill="#a7bcf5" d="M155 1259.5h8v8h-8zM203 1323.5h8v8h-8zM187 1331.5h8v8h-8zM171 1339.5h8v8h-8z"/><path fill="#aabef5" d="M179 1267.5h8v8h-8zM219 1315.5h8v8h-8z"/><path fill="#adc0f5" d="M163 1259.5h8v8h-8zM203 1291.5h8v8h-8zM211 1299.5h8v8h-8zM179 1339.5h8v8h-8zM155 1347.5h8v8h-8z"/><path fill="#b0c2f6" d="M171 1259.5h8v8h-8zM187 1275.5h8v8h-8zM195 1283.5h8v8h-8zM219 1307.5h8v8h-8zM211 1323.5h8v8h-8zM195 1331.5h8v8h-8zM147 1347.5h8v8h-8zM163 1347.5h8v8h-8z"/><path fill="#b3c4f6" d="M179 1259.5h8v8h-8zM227 1315.5h8v8h-8zM187 1339.5h8v8h-8zM139 1347.5h8v8h-8zM171 1347.5h8v8h-8z"/><path fill="#b6c6f6" d="M187 1267.5h8v8h-8zM219 1323.5h8v8h-8zM203 1331.5h8v8h-8zM139 1355.5h24v8h-24z"/><path fill="#b9c8f7" d="M211 1291.5h8v8h-8zM219 1299.5h8v8h-8zM227 1307.5h8v8h-8zM235 1315.5h8v8h-8zM179 1347.5h8v8h-8zM139 1363.5h16v8h-16z"/><path fill="#bccaf7" d="M155 1251.5h8v8h-8zM187 1259.5h8v8h-8zM195 1275.5h8v8h-8zM203 1283.5h8v8h-8zM227 1323.5h8v8h-8zM211 1331.5h8v8h-8zM195 1339.5h8v8h-8zM163 1355.5h8v8h-8z"/><path fill="#bfcdf8" d="M163 1251.5h24v8h-24zM235 1307.5h8v8h-8zM243 1315.5h8v8h-8zM187 1347.5h8v8h-8zM171 1355.5h8v8h-8zM155 1363.5h8v8h-8z"/><path fill="#c1cff8" d="M139 1251.5h16v8h-16zM187 1251.5h8v8h-8zM227 1299.5h8v8h-8zM235 1323.5h8v8h-8zM219 1331.5h8v8h-8zM203 1339.5h8v8h-8zM163 1363.5h8v8h-8z"/><path fill="#c4d1f8" d="M195 1267.5h8v8h-8zM211 1283.5h8v8h-8zM219 1291.5h8v8h-8zM243 1307.5h8v8h-8zM251 1315.5h8v8h-8zM211 1339.5h8v8h-8zM195 1347.5h8v8h-8zM179 1355.5h8v8h-8z"/><path fill="#c7d3f9" d="M139 1235.5h16v8h-16zM139 1243.5h32v8h-32zM195 1259.5h8v8h-8zM203 1275.5h8v8h-8zM235 1299.5h8v8h-8zM243 1323.5h8v8h-8zM227 1331.5h8v8h-8zM171 1363.5h8v8h-8zM155 1371.5h8v8h-8z"/><path fill="#cad5f9" d="M155 1227.5h8v8h-8zM155 1235.5h16v8h-16zM171 1243.5h24v8h-24zM195 1251.5h8v8h-8zM203 1267.5h8v8h-8zM211 1275.5h8v8h-8zM219 1283.5h8v8h-8zM227 1291.5h8v8h-8zM251 1307.5h8v8h-8zM259 1315.5h8v8h-8zM203 1347.5h8v8h-8zM187 1355.5h8v8h-8zM139 1371.5h16v8h-16zM163 1371.5h8v8h-8z"/><path fill="#cdd7f9" d="M139 1203.5h40v8h-40zM139 1211.5h40v8h-40zM139 1219.5h32v8h-32zM139 1227.5h16v8h-16zM163 1227.5h24v8h-24zM171 1235.5h24v8h-24zM195 1243.5h8v8h-8zM203 1251.5h8v8h-8zM203 1259.5h8v8h-8zM211 1267.5h8v8h-8zM219 1275.5h8v8h-8zM227 1283.5h8v8h-8zM235 1291.5h8v8h-8zM243 1299.5h8v8h-8zM267 1315.5h8v8h-8zM251 1323.5h8v8h-8zM235 1331.5h8v8h-8zM219 1339.5h8v8h-8zM179 1363.5h8v8h-8zM139 1379.5h24v8h-24zM139 1539.5h16v8h-16z"/><path fill="#d0d9fa" d="M171 1219.5h24v8h-24zM187 1227.5h16v8h-16zM195 1235.5h16v8h-16zM203 1243.5h16v8h-16zM211 1251.5h8v8h-8zM211 1259.5h8v8h-8zM219 1267.5h8v8h-8zM227 1275.5h8v8h-8zM235 1283.5h8v8h-8zM259 1307.5h8v8h-8zM275 1315.5h8v8h-8zM259 1323.5h8v8h-8zM211 1347.5h8v8h-8zM195 1355.5h8v8h-8zM171 1371.5h8v8h-8zM139 1387.5h16v8h-16z"/><path fill="#d3dcfa" d="M179 1203.5h48v8h-48zM179 1211.5h48v8h-48zM195 1219.5h16v8h-16zM203 1227.5h16v8h-16zM211 1235.5h8v8h-8zM219 1243.5h8v8h-8zM219 1251.5h16v8h-16zM219 1259.5h16v8h-16zM227 1267.5h8v8h-8zM235 1275.5h8v8h-8zM243 1291.5h8v8h-8zM251 1299.5h8v8h-8zM267 1307.5h8v8h-8zM283 1315.5h8v8h-8zM267 1323.5h8v8h-8zM243 1331.5h8v8h-8zM227 1339.5h8v8h-8zM187 1363.5h8v8h-8zM163 1379.5h8v8h-8zM155 1387.5h8v8h-8zM155 1539.5h8v8h-8zM155 1547.5h16v8h-16z"/><path fill="#d6defa" d="M211 1219.5h24v8h-24zM219 1227.5h16v8h-16zM219 1235.5h16v8h-16zM227 1243.5h16v8h-16zM235 1251.5h8v8h-8zM235 1259.5h8v8h-8zM235 1267.5h8v8h-8zM243 1283.5h8v8h-8zM251 1291.5h8v8h-8zM259 1299.5h8v8h-8zM275 1307.5h8v8h-8zM275 1323.5h8v8h-8zM219 1347.5h8v8h-8zM203 1355.5h8v8h-8zM179 1371.5h8v8h-8zM163 1539.5h16v8h-16zM139 1547.5h16v8h-16zM171 1547.5h16v8h-16z"/><path fill="#d8e0fb" d="M227 1203.5h48v8h-48zM227 1211.5h48v8h-48zM235 1219.5h24v8h-24zM235 1227.5h24v8h-24zM235 1235.5h24v8h-24zM243 1243.5h16v8h-16zM243 1251.5h8v8h-8zM243 1259.5h8v8h-8zM243 1267.5h8v8h-8zM243 1275.5h8v8h-8zM251 1283.5h8v8h-8zM267 1299.5h8v8h-8zM283 1307.5h8v8h-8zM291 1315.5h8v8h-8zM283 1323.5h8v8h-8zM251 1331.5h8v8h-8zM235 1339.5h8v8h-8zM195 1363.5h8v8h-8zM171 1379.5h8v8h-8zM163 1387.5h8v8h-8zM179 1539.5h16v8h-16zM187 1547.5h8v8h-8zM139 1555.5h16v8h-16z"/><path fill="#dbe2fb" d="M259 1219.5h24v8h-24zM259 1227.5h8v8h-8zM259 1235.5h8v8h-8zM259 1243.5h8v8h-8zM251 1251.5h16v8h-16zM251 1259.5h8v8h-8zM251 1267.5h8v8h-8zM251 1275.5h8v8h-8zM259 1283.5h8v8h-8zM259 1291.5h8v8h-8zM291 1323.5h8v8h-8zM259 1331.5h16v8h-16zM227 1347.5h8v8h-8zM211 1355.5h8v8h-8zM187 1371.5h8v8h-8zM139 1395.5h24v8h-24zM195 1539.5h8v8h-8zM155 1555.5h16v8h-16zM139 1563.5h24v8h-24zM139 1571.5h16v8h-16z"/><path fill="#dee4fb" d="M275 1203.5h48v8h-48zM275 1211.5h48v8h-48zM283 1219.5h24v8h-24zM267 1227.5h24v8h-24zM267 1235.5h16v8h-16zM267 1243.5h16v8h-16zM267 1251.5h8v8h-8zM259 1259.5h8v8h-8zM259 1267.5h8v8h-8zM259 1275.5h8v8h-8zM267 1283.5h8v8h-8zM267 1291.5h8v8h-8zM275 1299.5h8v8h-8zM291 1307.5h8v8h-8zM275 1331.5h8v8h-8zM243 1339.5h8v8h-8zM203 1363.5h8v8h-8zM179 1379.5h8v8h-8zM171 1387.5h8v8h-8zM163 1395.5h8v8h-8zM139 1403.5h24v8h-24zM139 1411.5h16v8h-16zM139 1419.5h16v8h-16zM171 1555.5h16v8h-16zM155 1571.5h8v8h-8zM139 1579.5h24v8h-24zM139 1587.5h16v8h-16zM139 1595.5h16v8h-16z"/><path fill="#e1e7fc" d="M307 1219.5h16v8h-16zM291 1227.5h24v8h-24zM283 1235.5h16v8h-16zM283 1243.5h8v8h-8zM275 1251.5h16v8h-16zM267 1259.5h16v8h-16zM267 1267.5h8v8h-8zM267 1275.5h8v8h-8zM275 1283.5h8v8h-8zM275 1291.5h8v8h-8zM283 1299.5h8v8h-8zM283 1331.5h16v8h-16zM251 1339.5h8v8h-8zM219 1355.5h8v8h-8zM323 1355.5h8v8h-8zM195 1371.5h8v8h-8zM163 1403.5h8v8h-8zM155 1411.5h8v8h-8zM195 1547.5h8v8h-8zM235 1547.5h8v8h-8zM251 1547.5h16v8h-16zM187 1555.5h8v8h-8zM235 1555.5h8v8h-8zM163 1563.5h8v8h-8zM163 1571.5h8v8h-8zM155 1587.5h8v8h-8z"/><path fill="#e4e9fc" d="M323 1203.5h40v8h-40zM323 1211.5h40v8h-40zM323 1219.5h24v8h-24zM315 1227.5h16v8h-16zM299 1235.5h16v8h-16zM291 1243.5h16v8h-16zM291 1251.5h8v8h-8zM283 1259.5h8v8h-8zM275 1267.5h16v8h-16zM275 1275.5h8v8h-8zM283 1291.5h8v8h-8zM291 1299.5h8v8h-8zM299 1315.5h8v8h-8zM299 1323.5h8v8h-8zM259 1339.5h8v8h-8zM283 1339.5h16v8h-16zM235 1347.5h8v8h-8zM323 1347.5h8v8h-8zM315 1355.5h8v8h-8zM331 1355.5h8v8h-8zM211 1363.5h8v8h-8zM203 1371.5h8v8h-8zM187 1379.5h8v8h-8zM179 1387.5h8v8h-8zM171 1395.5h8v8h-8zM163 1411.5h8v8h-8zM155 1419.5h8v8h-8zM235 1539.5h8v8h-8zM243 1547.5h8v8h-8zM267 1547.5h8v8h-8zM195 1555.5h8v8h-8zM243 1555.5h32v8h-32zM171 1563.5h8v8h-8zM171 1571.5h8v8h-8zM163 1579.5h8v8h-8zM163 1587.5h8v8h-8zM155 1595.5h8v8h-8zM139 1603.5h24v8h-24zM139 1611.5h24v8h-24zM139 1619.5h24v8h-24z"/><path fill="#e6ebfc" d="M347 1219.5h16v8h-16zM331 1227.5h24v8h-24zM315 1235.5h24v8h-24zM307 1243.5h16v8h-16zM299 1251.5h8v8h-8zM291 1259.5h8v8h-8zM291 1267.5h8v8h-8zM283 1275.5h8v8h-8zM283 1283.5h8v8h-8zM291 1291.5h8v8h-8zM299 1307.5h8v8h-8zM299 1331.5h8v8h-8zM267 1339.5h16v8h-16zM299 1339.5h8v8h-8zM243 1347.5h8v8h-8zM291 1347.5h8v8h-8zM315 1347.5h8v8h-8zM331 1347.5h8v8h-8zM227 1355.5h8v8h-8zM307 1355.5h8v8h-8zM339 1355.5h8v8h-8zM219 1363.5h8v8h-8zM323 1363.5h16v8h-16zM195 1379.5h8v8h-8zM187 1387.5h8v8h-8zM179 1395.5h8v8h-8zM171 1403.5h8v8h-8zM171 1411.5h8v8h-8zM163 1419.5h8v8h-8zM139 1427.5h32v8h-32zM139 1435.5h24v8h-24zM139 1443.5h16v8h-16zM139 1531.5h24v8h-24zM227 1547.5h8v8h-8zM275 1547.5h8v8h-8zM203 1555.5h8v8h-8zM227 1555.5h8v8h-8zM275 1555.5h8v8h-8zM179 1563.5h16v8h-16zM171 1579.5h8v8h-8zM163 1595.5h8v8h-8zM163 1603.5h8v8h-8zM163 1611.5h8v8h-8zM163 1619.5h8v8h-8z"/><path fill="#e9edfd" d="M363 1203.5h192v8h-192zM363 1211.5h176v8h-176zM363 1219.5h152v8h-152zM355 1227.5h8v8h-8zM379 1227.5h112v8h-112zM339 1235.5h16v8h-16zM387 1235.5h88v8h-88zM323 1243.5h16v8h-16zM395 1243.5h48v8h-48zM307 1251.5h16v8h-16zM403 1251.5h8v8h-8zM299 1259.5h8v8h-8zM299 1267.5h8v8h-8zM291 1275.5h8v8h-8zM291 1283.5h8v8h-8zM299 1291.5h8v8h-8zM299 1299.5h8v8h-8zM307 1331.5h8v8h-8zM299 1347.5h16v8h-16zM299 1355.5h8v8h-8zM339 1363.5h16v8h-16zM211 1371.5h8v8h-8zM331 1371.5h8v8h-8zM187 1395.5h8v8h-8zM179 1403.5h8v8h-8zM171 1419.5h8v8h-8zM171 1427.5h8v8h-8zM163 1435.5h8v8h-8zM155 1443.5h8v8h-8zM163 1531.5h8v8h-8zM203 1539.5h8v8h-8zM227 1539.5h8v8h-8zM203 1547.5h8v8h-8zM283 1555.5h8v8h-8zM195 1563.5h16v8h-16zM179 1571.5h8v8h-8zM179 1579.5h8v8h-8zM171 1587.5h8v8h-8zM171 1595.5h8v8h-8z"/><path fill="#eceffd" d="M539 1211.5h16v8h-16zM515 1219.5h16v8h-16zM363 1227.5h16v8h-16zM491 1227.5h16v8h-16zM355 1235.5h32v8h-32zM475 1235.5h8v8h-8zM339 1243.5h16v8h-16zM387 1243.5h8v8h-8zM443 1243.5h24v8h-24zM323 1251.5h16v8h-16zM395 1251.5h8v8h-8zM411 1251.5h32v8h-32zM307 1259.5h16v8h-16zM307 1267.5h8v8h-8zM299 1275.5h8v8h-8zM299 1283.5h8v8h-8zM307 1291.5h8v8h-8zM307 1315.5h8v8h-8zM307 1323.5h8v8h-8zM307 1339.5h24v8h-24zM251 1347.5h16v8h-16zM283 1347.5h8v8h-8zM339 1347.5h8v8h-8zM235 1355.5h8v8h-8zM291 1355.5h8v8h-8zM347 1355.5h8v8h-8zM227 1363.5h8v8h-8zM315 1363.5h8v8h-8zM339 1371.5h24v8h-24zM203 1379.5h8v8h-8zM347 1379.5h16v8h-16zM195 1387.5h8v8h-8zM187 1403.5h8v8h-8zM179 1411.5h8v8h-8zM179 1419.5h8v8h-8zM179 1427.5h8v8h-8zM171 1435.5h8v8h-8zM163 1443.5h8v8h-8zM139 1451.5h32v8h-32zM139 1459.5h24v8h-24zM139 1467.5h24v8h-24zM139 1475.5h16v8h-16zM171 1531.5h8v8h-8zM259 1539.5h8v8h-8zM283 1547.5h8v8h-8zM211 1555.5h16v8h-16zM211 1563.5h56v8h-56zM187 1571.5h16v8h-16zM187 1579.5h8v8h-8zM179 1587.5h8v8h-8zM179 1595.5h8v8h-8zM171 1603.5h8v8h-8z"/><path fill="#eff2fd" d="M531 1219.5h8v8h-8zM507 1227.5h8v8h-8zM483 1235.5h8v8h-8zM355 1243.5h32v8h-32zM467 1243.5h8v8h-8zM339 1251.5h16v8h-16zM371 1251.5h16v8h-16zM323 1259.5h16v8h-16zM403 1259.5h8v8h-8zM315 1267.5h8v8h-8zM307 1275.5h8v8h-8zM307 1283.5h8v8h-8zM307 1299.5h8v8h-8zM307 1307.5h8v8h-8zM315 1331.5h8v8h-8zM331 1339.5h8v8h-8zM267 1347.5h16v8h-16zM307 1363.5h8v8h-8zM219 1371.5h8v8h-8zM323 1371.5h8v8h-8zM211 1379.5h8v8h-8zM339 1379.5h8v8h-8zM203 1387.5h8v8h-8zM355 1387.5h16v8h-16zM195 1395.5h8v8h-8zM195 1403.5h8v8h-8zM187 1411.5h8v8h-8zM187 1419.5h8v8h-8zM187 1427.5h8v8h-8zM179 1435.5h8v8h-8zM171 1443.5h8v8h-8zM171 1451.5h8v8h-8zM163 1459.5h16v8h-16zM163 1467.5h8v8h-8zM155 1475.5h16v8h-16zM139 1483.5h32v8h-32zM139 1491.5h24v8h-24zM139 1499.5h24v8h-24zM155 1523.5h8v8h-8zM179 1531.5h16v8h-16zM251 1539.5h8v8h-8zM267 1539.5h8v8h-8zM211 1547.5h16v8h-16zM291 1555.5h8v8h-8zM267 1563.5h16v8h-16zM203 1571.5h16v8h-16zM195 1579.5h16v8h-16zM187 1587.5h8v8h-8zM187 1595.5h8v8h-8zM179 1603.5h8v8h-8zM171 1611.5h8v8h-8zM171 1619.5h8v8h-8z"/><path fill="#f1f4fe" d="M355 1251.5h16v8h-16zM387 1251.5h8v8h-8zM339 1259.5h48v8h-48zM323 1267.5h24v8h-24zM379 1267.5h8v8h-8zM315 1275.5h16v8h-16zM315 1283.5h8v8h-8zM315 1291.5h16v8h-16zM315 1299.5h8v8h-8zM315 1307.5h8v8h-8zM315 1315.5h8v8h-8zM315 1323.5h8v8h-8zM323 1331.5h8v8h-8zM339 1339.5h8v8h-8zM347 1347.5h8v8h-8zM243 1355.5h8v8h-8zM235 1363.5h8v8h-8zM299 1363.5h8v8h-8zM355 1363.5h8v8h-8zM331 1379.5h8v8h-8zM363 1379.5h8v8h-8zM347 1387.5h8v8h-8zM203 1395.5h8v8h-8zM363 1395.5h8v8h-8zM195 1411.5h8v8h-8zM195 1419.5h8v8h-8zM187 1435.5h8v8h-8zM179 1443.5h16v8h-16zM179 1451.5h16v8h-16zM179 1459.5h8v8h-8zM171 1467.5h16v8h-16zM171 1475.5h16v8h-16zM171 1483.5h8v8h-8zM163 1491.5h16v8h-16zM163 1499.5h16v8h-16zM139 1507.5h40v8h-40zM139 1515.5h40v8h-40zM139 1523.5h16v8h-16zM163 1523.5h16v8h-16zM195 1531.5h8v8h-8zM227 1531.5h16v8h-16zM211 1539.5h16v8h-16zM243 1539.5h8v8h-8zM291 1547.5h8v8h-8zM283 1563.5h8v8h-8zM219 1571.5h56v8h-56zM211 1579.5h16v8h-16zM195 1587.5h16v8h-16zM195 1595.5h16v8h-16zM187 1603.5h24v8h-24zM179 1611.5h32v8h-32zM179 1619.5h32v8h-32z"/><path fill="#f4f6fe" d="M387 1259.5h16v8h-16zM347 1267.5h32v8h-32zM387 1267.5h8v8h-8zM331 1275.5h64v8h-64zM323 1283.5h16v8h-16zM379 1283.5h16v8h-16zM331 1291.5h8v8h-8zM323 1299.5h8v8h-8zM323 1307.5h8v8h-8zM323 1323.5h8v8h-8zM331 1331.5h8v8h-8zM347 1339.5h8v8h-8zM251 1355.5h16v8h-16zM283 1355.5h8v8h-8zM355 1355.5h8v8h-8zM291 1363.5h8v8h-8zM227 1371.5h8v8h-8zM315 1371.5h8v8h-8zM363 1371.5h8v8h-8zM219 1379.5h8v8h-8zM211 1387.5h8v8h-8zM339 1387.5h8v8h-8zM371 1387.5h8v8h-8zM371 1395.5h8v8h-8zM203 1403.5h8v8h-8zM195 1427.5h8v8h-8zM195 1435.5h8v8h-8zM195 1443.5h8v8h-8zM195 1451.5h8v8h-8zM187 1459.5h16v8h-16zM187 1467.5h16v8h-16zM187 1475.5h16v8h-16zM179 1483.5h24v8h-24zM179 1491.5h24v8h-24zM179 1499.5h24v8h-24zM179 1507.5h24v8h-24zM179 1515.5h24v8h-24zM179 1523.5h24v8h-24zM203 1531.5h8v8h-8zM275 1539.5h8v8h-8zM275 1571.5h8v8h-8zM227 1579.5h48v8h-48zM211 1587.5h56v8h-56zM211 1595.5h48v8h-48zM211 1603.5h32v8h-32zM211 1611.5h40v8h-40zM211 1619.5h40v8h-40z"/><path fill="#f7f8fe" d="M443 1251.5h16v8h-16zM411 1259.5h32v8h-32zM395 1267.5h8v8h-8zM395 1275.5h8v8h-8zM339 1283.5h40v8h-40zM395 1283.5h8v8h-8zM339 1291.5h16v8h-16zM363 1291.5h32v8h-32zM331 1299.5h8v8h-8zM379 1299.5h16v8h-16zM331 1307.5h8v8h-8zM323 1315.5h8v8h-8zM331 1323.5h8v8h-8zM339 1331.5h8v8h-8zM355 1347.5h8v8h-8zM267 1355.5h16v8h-16zM243 1363.5h8v8h-8zM363 1363.5h8v8h-8zM323 1379.5h8v8h-8zM371 1379.5h8v8h-8zM219 1387.5h8v8h-8zM211 1395.5h8v8h-8zM355 1395.5h8v8h-8zM211 1403.5h8v8h-8zM363 1403.5h16v8h-16zM203 1411.5h8v8h-8zM203 1419.5h8v8h-8zM203 1427.5h8v8h-8zM203 1443.5h8v8h-8zM203 1451.5h8v8h-8zM203 1459.5h8v8h-8zM203 1467.5h8v8h-8zM203 1475.5h8v8h-8zM203 1483.5h8v8h-8zM203 1491.5h8v8h-8zM203 1499.5h8v8h-8zM203 1507.5h8v8h-8zM203 1515.5h8v8h-8zM203 1523.5h8v8h-8zM211 1531.5h16v8h-16zM291 1563.5h8v8h-8zM283 1571.5h8v8h-8zM275 1579.5h16v8h-16zM267 1587.5h16v8h-16zM259 1595.5h16v8h-16zM243 1603.5h24v8h-24z"/><path fill="#fafbfe" d="M459 1251.5h8v8h-8zM443 1259.5h8v8h-8zM403 1267.5h40v8h-40zM411 1275.5h32v8h-32zM411 1283.5h24v8h-24zM355 1291.5h8v8h-8zM395 1291.5h8v8h-8zM339 1299.5h40v8h-40zM395 1299.5h8v8h-8zM339 1307.5h8v8h-8zM363 1307.5h40v8h-40zM331 1315.5h8v8h-8zM371 1315.5h32v8h-32zM339 1323.5h8v8h-8zM363 1323.5h16v8h-16zM347 1331.5h16v8h-16zM355 1339.5h8v8h-8zM251 1363.5h8v8h-8zM283 1363.5h8v8h-8zM235 1371.5h8v8h-8zM307 1371.5h8v8h-8zM371 1371.5h8v8h-8zM227 1379.5h8v8h-8zM331 1387.5h8v8h-8zM219 1395.5h8v8h-8zM347 1395.5h8v8h-8zM379 1395.5h8v8h-8zM379 1403.5h8v8h-8zM211 1411.5h8v8h-8zM379 1411.5h8v8h-8zM203 1435.5h8v8h-8zM211 1467.5h8v8h-8zM211 1475.5h8v8h-8zM211 1483.5h8v8h-8zM211 1491.5h8v8h-8zM211 1499.5h8v8h-8zM211 1507.5h8v8h-8zM211 1515.5h8v8h-8zM211 1523.5h8v8h-8zM283 1539.5h8v8h-8zM299 1555.5h8v8h-8zM283 1587.5h8v8h-8zM275 1595.5h8v8h-8zM267 1603.5h8v8h-8zM251 1611.5h24v8h-24zM251 1619.5h24v8h-24z"/><path fill="#fcfdff" d="M451 1259.5h8v8h-8zM443 1267.5h8v8h-8zM403 1275.5h8v8h-8zM403 1283.5h8v8h-8zM435 1283.5h8v8h-8zM403 1291.5h8v8h-8zM419 1291.5h16v8h-16zM403 1299.5h8v8h-8zM347 1307.5h16v8h-16zM403 1307.5h8v8h-8zM339 1315.5h8v8h-8zM355 1315.5h16v8h-16zM403 1315.5h8v8h-8zM347 1323.5h16v8h-16zM379 1323.5h24v8h-24zM363 1331.5h24v8h-24zM363 1339.5h16v8h-16zM363 1347.5h8v8h-8zM363 1355.5h8v8h-8zM259 1363.5h16v8h-16zM243 1371.5h8v8h-8zM291 1371.5h16v8h-16zM235 1379.5h8v8h-8zM315 1379.5h8v8h-8zM379 1379.5h8v8h-8zM227 1387.5h8v8h-8zM379 1387.5h8v8h-8zM227 1395.5h8v8h-8zM339 1395.5h8v8h-8zM219 1403.5h8v8h-8zM355 1403.5h8v8h-8zM219 1411.5h8v8h-8zM371 1411.5h8v8h-8zM211 1419.5h8v8h-8zM211 1427.5h8v8h-8zM211 1443.5h8v8h-8zM211 1451.5h8v8h-8zM211 1459.5h8v8h-8zM219 1523.5h8v8h-8zM243 1531.5h8v8h-8zM299 1547.5h8v8h-8zM291 1571.5h8v8h-8zM275 1611.5h8v8h-8zM275 1619.5h8v8h-8z"/><path fill="#ffffff" d="M539 1219.5h8v8h-8zM515 1227.5h8v8h-8zM491 1235.5h8v8h-8zM475 1243.5h8v8h-8zM411 1291.5h8v8h-8zM347 1315.5h8v8h-8zM403 1323.5h8v8h-8zM387 1331.5h16v8h-16zM379 1339.5h8v8h-8zM371 1347.5h8v8h-8zM275 1363.5h8v8h-8zM371 1363.5h8v8h-8zM251 1371.5h8v8h-8zM283 1371.5h8v8h-8zM379 1371.5h8v8h-8zM235 1387.5h8v8h-8zM323 1387.5h8v8h-8zM387 1395.5h8v8h-8zM227 1403.5h8v8h-8zM387 1403.5h8v8h-8zM387 1411.5h8v8h-8zM219 1419.5h8v8h-8zM379 1419.5h16v8h-16zM211 1435.5h8v8h-8zM219 1459.5h8v8h-8zM219 1467.5h8v8h-8zM219 1475.5h8v8h-8zM227 1523.5h8v8h-8zM251 1531.5h16v8h-16zM291 1539.5h8v8h-8zM291 1579.5h8v8h-8zM283 1595.5h8v8h-8zM275 1603.5h8v8h-8z"/><path fill="#fffbfa" d="M523 1227.5h16v8h-16zM499 1235.5h16v8h-16zM483 1243.5h8v8h-8zM467 1251.5h8v8h-8zM459 1259.5h8v8h-8zM451 1267.5h8v8h-8zM443 1275.5h8v8h-8zM435 1291.5h8v8h-8zM411 1299.5h8v8h-8zM411 1307.5h8v8h-8zM411 1315.5h8v8h-8zM411 1323.5h8v8h-8zM403 1331.5h8v8h-8zM387 1339.5h8v8h-8zM379 1347.5h8v8h-8zM371 1355.5h8v8h-8zM379 1363.5h8v8h-8zM259 1371.5h16v8h-16zM243 1379.5h8v8h-8zM307 1379.5h8v8h-8zM235 1395.5h8v8h-8zM347 1403.5h8v8h-8zM227 1411.5h8v8h-8zM363 1411.5h8v8h-8zM219 1427.5h8v8h-8zM387 1427.5h8v8h-8zM219 1435.5h8v8h-8zM219 1443.5h8v8h-8zM219 1451.5h8v8h-8zM219 1483.5h8v8h-8zM219 1491.5h8v8h-8zM219 1499.5h8v8h-8zM219 1507.5h8v8h-8zM219 1515.5h8v8h-8zM235 1523.5h8v8h-8zM299 1563.5h8v8h-8zM291 1587.5h8v8h-8z"/><path fill="#fff7f5" d="M547 1219.5h8v8h-8zM515 1235.5h16v8h-16zM491 1243.5h32v8h-32zM475 1251.5h40v8h-40zM467 1259.5h40v8h-40zM459 1267.5h40v8h-40zM451 1275.5h40v8h-40zM443 1283.5h40v8h-40zM443 1291.5h32v8h-32zM419 1299.5h48v8h-48zM419 1307.5h40v8h-40zM435 1315.5h16v8h-16zM411 1331.5h8v8h-8zM395 1339.5h16v8h-16zM387 1347.5h8v8h-8zM379 1355.5h8v8h-8zM275 1371.5h8v8h-8zM387 1371.5h8v8h-8zM251 1379.5h8v8h-8zM299 1379.5h8v8h-8zM243 1387.5h8v8h-8zM315 1387.5h8v8h-8zM387 1387.5h8v8h-8zM331 1395.5h8v8h-8zM235 1403.5h8v8h-8zM395 1411.5h8v8h-8zM227 1419.5h8v8h-8zM371 1419.5h8v8h-8zM395 1419.5h8v8h-8zM395 1427.5h8v8h-8zM227 1459.5h8v8h-8zM227 1467.5h8v8h-8zM227 1475.5h8v8h-8zM267 1531.5h8v8h-8z"/><path fill="#fff4ef" d="M539 1227.5h8v8h-8zM531 1235.5h8v8h-8zM523 1243.5h8v8h-8zM515 1251.5h8v8h-8zM507 1259.5h8v8h-8zM499 1267.5h8v8h-8zM491 1275.5h8v8h-8zM483 1283.5h8v8h-8zM475 1291.5h8v8h-8zM467 1299.5h8v8h-8zM459 1307.5h8v8h-8zM419 1315.5h8v8h-8zM451 1315.5h8v8h-8zM419 1323.5h8v8h-8zM435 1323.5h16v8h-16zM419 1331.5h8v8h-8zM411 1339.5h8v8h-8zM395 1347.5h8v8h-8zM387 1355.5h8v8h-8zM387 1363.5h8v8h-8zM259 1379.5h8v8h-8zM291 1379.5h8v8h-8zM387 1379.5h8v8h-8zM251 1387.5h8v8h-8zM243 1395.5h8v8h-8zM243 1403.5h8v8h-8zM339 1403.5h8v8h-8zM395 1403.5h8v8h-8zM235 1411.5h8v8h-8zM355 1411.5h8v8h-8zM227 1427.5h8v8h-8zM379 1427.5h8v8h-8zM227 1435.5h8v8h-8zM395 1435.5h8v8h-8zM227 1443.5h8v8h-8zM227 1451.5h8v8h-8zM227 1483.5h8v8h-8zM227 1491.5h8v8h-8zM227 1499.5h8v8h-8zM227 1507.5h8v8h-8zM227 1515.5h8v8h-8zM307 1555.5h8v8h-8zM299 1571.5h8v8h-8zM291 1595.5h8v8h-8zM283 1603.5h8v8h-8z"/><path fill="#fff0ea" d="M427 1315.5h8v8h-8zM427 1323.5h8v8h-8zM419 1339.5h8v8h-8zM403 1347.5h8v8h-8zM267 1379.5h24v8h-24zM259 1387.5h8v8h-8zM299 1387.5h16v8h-16zM251 1395.5h8v8h-8zM323 1395.5h8v8h-8zM395 1395.5h8v8h-8zM243 1411.5h8v8h-8zM235 1419.5h8v8h-8zM235 1427.5h8v8h-8zM387 1435.5h8v8h-8zM235 1459.5h8v8h-8zM235 1467.5h8v8h-8zM235 1475.5h8v8h-8zM243 1523.5h8v8h-8z"/><path fill="#ffece5" d="M427 1331.5h8v8h-8zM427 1339.5h8v8h-8zM411 1347.5h16v8h-16zM395 1355.5h16v8h-16zM395 1363.5h8v8h-8zM267 1387.5h8v8h-8zM291 1387.5h8v8h-8zM395 1387.5h8v8h-8zM259 1395.5h8v8h-8zM251 1403.5h8v8h-8zM331 1403.5h8v8h-8zM347 1411.5h8v8h-8zM243 1419.5h8v8h-8zM363 1419.5h8v8h-8zM403 1419.5h8v8h-8zM403 1427.5h8v8h-8zM235 1435.5h8v8h-8zM403 1435.5h8v8h-8zM235 1443.5h8v8h-8zM235 1451.5h8v8h-8zM235 1483.5h8v8h-8zM235 1491.5h8v8h-8zM235 1499.5h8v8h-8zM235 1507.5h8v8h-8zM235 1515.5h8v8h-8zM299 1539.5h8v8h-8zM307 1547.5h8v8h-8zM299 1579.5h8v8h-8z"/><path fill="#ffe8e0" d="M435 1331.5h8v8h-8zM435 1339.5h8v8h-8zM427 1347.5h8v8h-8zM411 1355.5h16v8h-16zM403 1363.5h8v8h-8zM395 1371.5h8v8h-8zM395 1379.5h8v8h-8zM275 1387.5h16v8h-16zM267 1395.5h8v8h-8zM315 1395.5h8v8h-8zM259 1403.5h8v8h-8zM251 1411.5h8v8h-8zM403 1411.5h8v8h-8zM243 1427.5h8v8h-8zM371 1427.5h8v8h-8zM243 1467.5h8v8h-8zM251 1523.5h16v8h-16zM275 1531.5h16v8h-16zM307 1563.5h8v8h-8zM299 1587.5h8v8h-8zM291 1603.5h8v8h-8zM283 1611.5h8v8h-8z"/><path fill="#ffe4db" d="M547 1227.5h8v8h-8zM539 1235.5h8v8h-8zM531 1243.5h8v8h-8zM523 1251.5h8v8h-8zM515 1259.5h8v8h-8zM507 1267.5h8v8h-8zM499 1275.5h8v8h-8zM491 1283.5h8v8h-8zM483 1291.5h8v8h-8zM475 1299.5h8v8h-8zM467 1307.5h8v8h-8zM459 1315.5h8v8h-8zM451 1323.5h8v8h-8zM443 1331.5h8v8h-8zM435 1347.5h8v8h-8zM427 1355.5h8v8h-8zM411 1363.5h16v8h-16zM403 1371.5h8v8h-8zM275 1395.5h8v8h-8zM291 1395.5h24v8h-24zM267 1403.5h8v8h-8zM323 1403.5h8v8h-8zM403 1403.5h8v8h-8zM259 1411.5h8v8h-8zM339 1411.5h8v8h-8zM251 1419.5h8v8h-8zM355 1419.5h8v8h-8zM243 1435.5h8v8h-8zM379 1435.5h8v8h-8zM243 1443.5h8v8h-8zM243 1451.5h8v8h-8zM243 1459.5h8v8h-8zM243 1475.5h8v8h-8zM243 1483.5h8v8h-8zM243 1515.5h8v8h-8zM283 1619.5h8v8h-8z"/><path fill="#ffe0d6" d="M547 1235.5h8v8h-8zM539 1243.5h16v8h-16zM531 1251.5h24v8h-24zM523 1259.5h32v8h-32zM515 1267.5h40v8h-40zM507 1275.5h32v8h-32zM499 1283.5h32v8h-32zM491 1291.5h32v8h-32zM483 1299.5h32v8h-32zM475 1307.5h32v8h-32zM467 1315.5h32v8h-32zM459 1323.5h32v8h-32zM451 1331.5h32v8h-32zM443 1339.5h32v8h-32zM443 1347.5h24v8h-24zM435 1355.5h16v8h-16zM411 1371.5h8v8h-8zM403 1379.5h8v8h-8zM283 1395.5h8v8h-8zM403 1395.5h8v8h-8zM275 1403.5h8v8h-8zM267 1411.5h8v8h-8zM259 1419.5h8v8h-8zM251 1427.5h8v8h-8zM363 1427.5h8v8h-8zM395 1443.5h16v8h-16zM243 1491.5h8v8h-8zM243 1499.5h8v8h-8zM243 1507.5h8v8h-8zM291 1531.5h8v8h-8zM307 1571.5h8v8h-8zM299 1595.5h8v8h-8zM291 1611.5h24v8h-24zM291 1619.5h24v8h-24z"/><path fill="#ffddd0" d="M539 1275.5h8v8h-8zM531 1283.5h8v8h-8zM523 1291.5h8v8h-8zM515 1299.5h8v8h-8zM507 1307.5h8v8h-8zM499 1315.5h8v8h-8zM491 1323.5h8v8h-8zM483 1331.5h8v8h-8zM475 1339.5h8v8h-8zM467 1347.5h8v8h-8zM451 1355.5h16v8h-16zM427 1363.5h16v8h-16zM419 1371.5h8v8h-8zM411 1379.5h8v8h-8zM403 1387.5h8v8h-8zM283 1403.5h40v8h-40zM331 1411.5h8v8h-8zM347 1419.5h8v8h-8zM259 1427.5h8v8h-8zM251 1435.5h8v8h-8zM251 1443.5h8v8h-8zM387 1443.5h8v8h-8zM411 1443.5h8v8h-8zM251 1451.5h8v8h-8zM251 1459.5h8v8h-8zM251 1467.5h8v8h-8zM251 1475.5h8v8h-8zM475 1499.5h8v8h-8zM467 1507.5h16v8h-16zM467 1515.5h16v8h-16zM467 1523.5h16v8h-16zM467 1531.5h8v8h-8zM307 1579.5h8v8h-8zM299 1603.5h8v8h-8z"/><path fill="#ffd9cb" d="M443 1363.5h16v8h-16zM427 1371.5h8v8h-8zM419 1379.5h8v8h-8zM411 1387.5h8v8h-8zM275 1411.5h8v8h-8zM267 1419.5h8v8h-8zM411 1419.5h8v8h-8zM411 1427.5h8v8h-8zM259 1435.5h8v8h-8zM371 1435.5h8v8h-8zM251 1483.5h8v8h-8zM251 1491.5h8v8h-8zM251 1499.5h8v8h-8zM467 1499.5h8v8h-8zM251 1507.5h8v8h-8zM251 1515.5h8v8h-8zM459 1515.5h8v8h-8zM267 1523.5h8v8h-8zM459 1523.5h8v8h-8zM475 1531.5h8v8h-8zM307 1587.5h8v8h-8zM315 1611.5h8v8h-8zM315 1619.5h8v8h-8z"/><path fill="#ffd5c6" d="M547 1275.5h8v8h-8zM539 1283.5h8v8h-8zM531 1291.5h8v8h-8zM523 1299.5h8v8h-8zM515 1307.5h8v8h-8zM507 1315.5h8v8h-8zM499 1323.5h8v8h-8zM491 1331.5h8v8h-8zM483 1339.5h8v8h-8zM475 1347.5h8v8h-8zM467 1355.5h8v8h-8zM435 1371.5h32v8h-32zM411 1395.5h8v8h-8zM411 1403.5h8v8h-8zM283 1411.5h48v8h-48zM411 1411.5h8v8h-8zM275 1419.5h8v8h-8zM339 1419.5h8v8h-8zM267 1427.5h8v8h-8zM355 1427.5h8v8h-8zM411 1435.5h8v8h-8zM259 1443.5h8v8h-8zM259 1451.5h8v8h-8zM411 1451.5h8v8h-8zM259 1459.5h8v8h-8zM259 1467.5h8v8h-8zM259 1475.5h8v8h-8zM467 1491.5h16v8h-16zM459 1499.5h8v8h-8zM459 1507.5h8v8h-8zM307 1539.5h8v8h-8zM315 1555.5h8v8h-8zM307 1595.5h8v8h-8z"/><path fill="#ffd1c1" d="M547 1283.5h8v8h-8zM539 1291.5h16v8h-16zM531 1299.5h24v8h-24zM523 1307.5h32v8h-32zM515 1315.5h40v8h-40zM507 1323.5h48v8h-48zM499 1331.5h56v8h-56zM491 1339.5h64v8h-64zM483 1347.5h72v8h-72zM475 1355.5h64v8h-64zM467 1363.5h64v8h-64zM467 1371.5h48v8h-48zM427 1379.5h16v8h-16zM467 1379.5h32v8h-32zM419 1387.5h8v8h-8zM475 1387.5h16v8h-16zM283 1419.5h8v8h-8zM275 1427.5h8v8h-8zM267 1435.5h8v8h-8zM363 1435.5h8v8h-8zM267 1443.5h8v8h-8zM379 1443.5h8v8h-8zM267 1451.5h8v8h-8zM419 1459.5h8v8h-8zM427 1467.5h8v8h-8zM259 1483.5h8v8h-8zM259 1491.5h8v8h-8zM459 1491.5h8v8h-8zM259 1515.5h8v8h-8zM275 1523.5h8v8h-8zM483 1523.5h8v8h-8zM459 1531.5h8v8h-8zM483 1531.5h8v8h-8zM467 1539.5h8v8h-8zM315 1547.5h8v8h-8zM315 1563.5h8v8h-8zM315 1571.5h8v8h-8zM307 1603.5h8v8h-8z"/><path fill="#ffcdbc" d="M459 1363.5h8v8h-8zM443 1379.5h24v8h-24zM427 1387.5h8v8h-8zM467 1387.5h8v8h-8zM419 1395.5h8v8h-8zM291 1419.5h8v8h-8zM331 1419.5h8v8h-8zM283 1427.5h8v8h-8zM347 1427.5h8v8h-8zM403 1451.5h8v8h-8zM419 1451.5h8v8h-8zM267 1459.5h8v8h-8zM427 1459.5h8v8h-8zM267 1467.5h8v8h-8zM419 1467.5h8v8h-8zM435 1467.5h8v8h-8zM467 1483.5h16v8h-16zM259 1499.5h8v8h-8zM259 1507.5h8v8h-8zM451 1515.5h8v8h-8zM315 1579.5h8v8h-8z"/><path fill="#ffc9b7" d="M539 1355.5h16v8h-16zM531 1363.5h24v8h-24zM515 1371.5h40v8h-40zM499 1379.5h56v8h-56zM435 1387.5h8v8h-8zM491 1387.5h64v8h-64zM427 1395.5h8v8h-8zM475 1395.5h80v8h-80zM419 1403.5h8v8h-8zM483 1403.5h72v8h-72zM483 1411.5h72v8h-72zM299 1419.5h32v8h-32zM491 1419.5h64v8h-64zM291 1427.5h8v8h-8zM491 1427.5h64v8h-64zM275 1435.5h8v8h-8zM499 1435.5h48v8h-48zM275 1443.5h8v8h-8zM275 1451.5h8v8h-8zM395 1451.5h8v8h-8zM411 1459.5h8v8h-8zM267 1475.5h8v8h-8zM427 1475.5h8v8h-8zM267 1483.5h8v8h-8zM459 1483.5h8v8h-8zM451 1499.5h8v8h-8zM451 1507.5h8v8h-8zM267 1515.5h8v8h-8zM283 1523.5h8v8h-8zM451 1523.5h8v8h-8zM459 1539.5h8v8h-8zM475 1539.5h8v8h-8zM315 1587.5h8v8h-8z"/><path fill="#ffc6b2" d="M443 1387.5h24v8h-24zM467 1395.5h8v8h-8zM475 1403.5h8v8h-8zM483 1419.5h8v8h-8zM299 1427.5h8v8h-8zM339 1427.5h8v8h-8zM283 1435.5h8v8h-8zM355 1435.5h8v8h-8zM491 1435.5h8v8h-8zM547 1435.5h8v8h-8zM371 1443.5h8v8h-8zM507 1443.5h32v8h-32zM275 1459.5h8v8h-8zM435 1459.5h8v8h-8zM275 1467.5h8v8h-8zM443 1467.5h8v8h-8zM435 1475.5h8v8h-8zM267 1491.5h8v8h-8zM451 1491.5h8v8h-8zM267 1499.5h8v8h-8zM483 1499.5h8v8h-8zM267 1507.5h8v8h-8zM483 1507.5h8v8h-8zM483 1515.5h8v8h-8zM299 1531.5h8v8h-8zM451 1531.5h8v8h-8zM315 1595.5h8v8h-8zM315 1603.5h8v8h-8z"/><path fill="#ffc2ad" d="M435 1395.5h16v8h-16zM427 1403.5h8v8h-8zM419 1411.5h8v8h-8zM475 1411.5h8v8h-8zM307 1427.5h16v8h-16zM483 1427.5h8v8h-8zM291 1435.5h8v8h-8zM283 1443.5h8v8h-8zM363 1443.5h8v8h-8zM419 1443.5h8v8h-8zM499 1443.5h8v8h-8zM539 1443.5h8v8h-8zM283 1451.5h8v8h-8zM387 1451.5h8v8h-8zM275 1475.5h8v8h-8zM419 1475.5h8v8h-8zM459 1475.5h16v8h-16zM275 1483.5h8v8h-8zM451 1483.5h8v8h-8zM483 1491.5h8v8h-8zM291 1523.5h8v8h-8zM467 1547.5h8v8h-8zM323 1563.5h8v8h-8zM323 1571.5h8v8h-8zM323 1579.5h8v8h-8z"/><path fill="#ffbea8" d="M451 1395.5h16v8h-16zM435 1403.5h8v8h-8zM467 1403.5h8v8h-8zM419 1419.5h8v8h-8zM475 1419.5h8v8h-8zM323 1427.5h16v8h-16zM299 1435.5h8v8h-8zM347 1435.5h8v8h-8zM483 1435.5h8v8h-8zM291 1443.5h8v8h-8zM491 1443.5h8v8h-8zM291 1451.5h8v8h-8zM427 1451.5h8v8h-8zM283 1459.5h8v8h-8zM443 1459.5h8v8h-8zM283 1467.5h8v8h-8zM451 1467.5h8v8h-8zM443 1475.5h16v8h-16zM475 1475.5h8v8h-8zM427 1483.5h16v8h-16zM483 1483.5h8v8h-8zM275 1491.5h8v8h-8zM275 1499.5h8v8h-8zM275 1507.5h8v8h-8zM275 1515.5h8v8h-8zM451 1539.5h8v8h-8zM483 1539.5h8v8h-8zM323 1587.5h8v8h-8z"/><path fill="#ffbaa3" d="M443 1403.5h8v8h-8zM459 1403.5h8v8h-8zM427 1411.5h8v8h-8zM467 1411.5h8v8h-8zM419 1427.5h8v8h-8zM475 1427.5h8v8h-8zM307 1435.5h16v8h-16zM299 1443.5h8v8h-8zM355 1443.5h8v8h-8zM483 1443.5h8v8h-8zM379 1451.5h8v8h-8zM291 1459.5h8v8h-8zM403 1459.5h8v8h-8zM411 1467.5h8v8h-8zM459 1467.5h8v8h-8zM283 1475.5h8v8h-8zM483 1475.5h8v8h-8zM283 1483.5h8v8h-8zM443 1483.5h8v8h-8zM443 1491.5h8v8h-8zM443 1499.5h8v8h-8zM443 1507.5h8v8h-8zM443 1515.5h8v8h-8zM443 1523.5h8v8h-8zM459 1547.5h8v8h-8zM475 1547.5h8v8h-8zM323 1555.5h8v8h-8zM323 1595.5h8v8h-8z"/><path fill="#ffb69e" d="M451 1403.5h8v8h-8zM435 1411.5h8v8h-8zM427 1419.5h8v8h-8zM467 1419.5h8v8h-8zM323 1435.5h24v8h-24zM419 1435.5h8v8h-8zM475 1435.5h8v8h-8zM307 1443.5h8v8h-8zM299 1451.5h8v8h-8zM435 1451.5h8v8h-8zM491 1451.5h16v8h-16zM451 1459.5h16v8h-16zM291 1467.5h8v8h-8zM467 1467.5h8v8h-8zM283 1491.5h8v8h-8zM435 1491.5h8v8h-8zM283 1499.5h8v8h-8zM283 1507.5h8v8h-8zM283 1515.5h8v8h-8zM443 1531.5h8v8h-8zM491 1531.5h8v8h-8zM315 1539.5h8v8h-8zM459 1555.5h16v8h-16zM323 1603.5h8v8h-8z"/><path fill="#ffb299" d="M443 1411.5h8v8h-8zM459 1411.5h8v8h-8zM467 1427.5h8v8h-8zM315 1443.5h16v8h-16zM347 1443.5h8v8h-8zM427 1443.5h8v8h-8zM307 1451.5h8v8h-8zM483 1451.5h8v8h-8zM299 1459.5h8v8h-8zM395 1459.5h8v8h-8zM467 1459.5h8v8h-8zM475 1467.5h8v8h-8zM291 1475.5h8v8h-8zM291 1483.5h8v8h-8zM419 1483.5h8v8h-8zM443 1539.5h8v8h-8zM323 1547.5h8v8h-8zM451 1547.5h8v8h-8zM483 1547.5h8v8h-8zM451 1555.5h8v8h-8zM331 1563.5h8v8h-8zM443 1563.5h32v8h-32zM331 1571.5h8v8h-8zM331 1579.5h8v8h-8zM331 1587.5h8v8h-8z"/><path fill="#ffae95" d="M451 1411.5h8v8h-8zM435 1419.5h8v8h-8zM459 1419.5h8v8h-8zM427 1427.5h8v8h-8zM467 1435.5h8v8h-8zM331 1443.5h16v8h-16zM467 1443.5h16v8h-16zM315 1451.5h8v8h-8zM355 1451.5h24v8h-24zM443 1451.5h8v8h-8zM459 1451.5h24v8h-24zM307 1459.5h8v8h-8zM475 1459.5h24v8h-24zM299 1467.5h8v8h-8zM483 1467.5h8v8h-8zM411 1475.5h8v8h-8zM291 1491.5h8v8h-8zM427 1491.5h8v8h-8zM291 1499.5h8v8h-8zM435 1499.5h8v8h-8zM291 1507.5h8v8h-8zM291 1515.5h8v8h-8zM299 1523.5h8v8h-8zM491 1523.5h8v8h-8zM307 1531.5h8v8h-8zM491 1539.5h8v8h-8zM443 1547.5h8v8h-8zM331 1555.5h8v8h-8zM435 1555.5h16v8h-16zM475 1555.5h8v8h-8zM435 1563.5h8v8h-8zM331 1595.5h8v8h-8z"/><path fill="#ffaa90" d="M459 1427.5h8v8h-8zM459 1443.5h8v8h-8zM547 1443.5h8v8h-8zM323 1451.5h8v8h-8zM451 1451.5h8v8h-8zM387 1459.5h8v8h-8zM499 1459.5h8v8h-8zM307 1467.5h8v8h-8zM299 1475.5h8v8h-8zM435 1507.5h8v8h-8zM435 1515.5h8v8h-8zM435 1523.5h8v8h-8zM427 1555.5h8v8h-8zM427 1563.5h8v8h-8zM475 1563.5h8v8h-8zM339 1571.5h8v8h-8zM435 1571.5h40v8h-40zM339 1579.5h8v8h-8zM339 1587.5h8v8h-8zM331 1603.5h8v8h-8zM323 1611.5h8v8h-8zM323 1619.5h8v8h-8z"/><path fill="#ffa68b" d="M443 1419.5h16v8h-16zM427 1435.5h8v8h-8zM459 1435.5h8v8h-8zM435 1443.5h8v8h-8zM331 1451.5h8v8h-8zM347 1451.5h8v8h-8zM507 1451.5h40v8h-40zM315 1459.5h8v8h-8zM403 1467.5h8v8h-8zM491 1467.5h8v8h-8zM307 1475.5h8v8h-8zM299 1483.5h8v8h-8zM299 1491.5h8v8h-8zM491 1491.5h8v8h-8zM299 1499.5h8v8h-8zM491 1499.5h8v8h-8zM299 1507.5h8v8h-8zM299 1515.5h8v8h-8zM435 1531.5h8v8h-8zM435 1547.5h8v8h-8zM419 1555.5h8v8h-8zM483 1555.5h8v8h-8zM339 1563.5h8v8h-8zM419 1563.5h8v8h-8zM483 1563.5h8v8h-8zM427 1571.5h8v8h-8zM475 1571.5h8v8h-8zM339 1595.5h8v8h-8z"/><path fill="#ffa286" d="M435 1427.5h8v8h-8zM451 1427.5h8v8h-8zM443 1443.5h16v8h-16zM339 1451.5h8v8h-8zM323 1459.5h8v8h-8zM379 1459.5h8v8h-8zM507 1459.5h32v8h-32zM315 1467.5h8v8h-8zM499 1467.5h24v8h-24zM491 1475.5h8v8h-8zM307 1483.5h8v8h-8zM411 1483.5h8v8h-8zM491 1483.5h8v8h-8zM419 1491.5h8v8h-8zM427 1499.5h8v8h-8zM491 1507.5h8v8h-8zM491 1515.5h8v8h-8zM307 1523.5h8v8h-8zM435 1539.5h8v8h-8zM427 1547.5h8v8h-8zM491 1547.5h8v8h-8zM339 1555.5h8v8h-8zM411 1563.5h8v8h-8zM347 1571.5h8v8h-8zM419 1571.5h8v8h-8zM483 1571.5h8v8h-8zM347 1579.5h8v8h-8zM443 1579.5h40v8h-40zM347 1587.5h8v8h-8zM347 1595.5h8v8h-8zM339 1603.5h8v8h-8zM331 1611.5h24v8h-24zM331 1619.5h32v8h-32z"/><path fill="#ff9e81" d="M443 1427.5h8v8h-8zM435 1435.5h8v8h-8zM451 1435.5h8v8h-8zM547 1451.5h8v8h-8zM331 1459.5h40v8h-40zM539 1459.5h8v8h-8zM323 1467.5h8v8h-8zM395 1467.5h8v8h-8zM523 1467.5h8v8h-8zM315 1475.5h8v8h-8zM499 1475.5h8v8h-8zM307 1491.5h8v8h-8zM427 1507.5h8v8h-8zM307 1515.5h8v8h-8zM427 1515.5h8v8h-8zM315 1531.5h8v8h-8zM331 1547.5h8v8h-8zM419 1547.5h8v8h-8zM411 1555.5h8v8h-8zM491 1555.5h8v8h-8zM347 1563.5h8v8h-8zM403 1563.5h8v8h-8zM491 1563.5h8v8h-8zM355 1571.5h8v8h-8zM403 1571.5h16v8h-16zM491 1571.5h8v8h-8zM355 1579.5h8v8h-8zM435 1579.5h8v8h-8zM483 1579.5h8v8h-8zM355 1587.5h8v8h-8zM355 1595.5h8v8h-8zM347 1603.5h8v8h-8zM355 1611.5h8v8h-8z"/><path fill="#ff9a7c" d="M371 1459.5h8v8h-8zM331 1467.5h8v8h-8zM531 1467.5h8v8h-8zM323 1475.5h8v8h-8zM403 1475.5h8v8h-8zM515 1475.5h8v8h-8zM315 1483.5h8v8h-8zM307 1499.5h8v8h-8zM307 1507.5h8v8h-8zM427 1523.5h8v8h-8zM427 1531.5h8v8h-8zM323 1539.5h8v8h-8zM427 1539.5h8v8h-8zM347 1555.5h8v8h-8zM403 1555.5h8v8h-8zM355 1563.5h8v8h-8zM395 1563.5h8v8h-8zM531 1563.5h24v8h-24zM363 1571.5h8v8h-8zM395 1571.5h8v8h-8zM499 1571.5h8v8h-8zM531 1571.5h24v8h-24zM363 1579.5h16v8h-16zM419 1579.5h16v8h-16zM491 1579.5h8v8h-8zM531 1579.5h24v8h-24zM363 1587.5h16v8h-16zM451 1587.5h40v8h-40zM531 1587.5h24v8h-24zM363 1595.5h8v8h-8zM531 1595.5h24v8h-24zM355 1603.5h8v8h-8z"/><path fill="#ff9678" d="M443 1435.5h8v8h-8zM339 1467.5h8v8h-8zM387 1467.5h8v8h-8zM331 1475.5h8v8h-8zM507 1475.5h8v8h-8zM323 1483.5h8v8h-8zM315 1491.5h8v8h-8zM419 1499.5h8v8h-8zM315 1523.5h8v8h-8zM339 1547.5h8v8h-8zM411 1547.5h8v8h-8zM499 1547.5h8v8h-8zM355 1555.5h8v8h-8zM395 1555.5h8v8h-8zM499 1555.5h8v8h-8zM363 1563.5h32v8h-32zM499 1563.5h16v8h-16zM523 1563.5h8v8h-8zM371 1571.5h24v8h-24zM507 1571.5h8v8h-8zM523 1571.5h8v8h-8zM379 1579.5h40v8h-40zM499 1579.5h16v8h-16zM523 1579.5h8v8h-8zM379 1587.5h8v8h-8zM435 1587.5h16v8h-16zM491 1587.5h16v8h-16zM523 1587.5h8v8h-8zM371 1595.5h16v8h-16zM451 1595.5h32v8h-32zM363 1603.5h16v8h-16zM363 1611.5h8v8h-8z"/><path fill="#ff9273" d="M347 1467.5h8v8h-8zM395 1475.5h8v8h-8zM403 1483.5h8v8h-8zM499 1483.5h8v8h-8zM323 1491.5h8v8h-8zM411 1491.5h8v8h-8zM315 1499.5h8v8h-8zM315 1507.5h8v8h-8zM419 1507.5h8v8h-8zM315 1515.5h8v8h-8zM419 1515.5h8v8h-8zM323 1531.5h8v8h-8zM499 1539.5h8v8h-8zM531 1547.5h24v8h-24zM363 1555.5h8v8h-8zM387 1555.5h8v8h-8zM507 1555.5h8v8h-8zM531 1555.5h24v8h-24zM515 1563.5h8v8h-8zM515 1571.5h8v8h-8zM515 1579.5h8v8h-8zM387 1587.5h48v8h-48zM507 1587.5h16v8h-16zM387 1595.5h16v8h-16zM435 1595.5h16v8h-16zM483 1595.5h24v8h-24zM515 1595.5h16v8h-16zM379 1603.5h16v8h-16zM443 1603.5h40v8h-40zM523 1603.5h32v8h-32zM371 1611.5h32v8h-32zM443 1611.5h40v8h-40zM515 1611.5h40v8h-40zM363 1619.5h40v8h-40zM443 1619.5h40v8h-40zM515 1619.5h40v8h-40z"/><path fill="#ff8d6e" d="M355 1467.5h16v8h-16zM379 1467.5h8v8h-8zM339 1475.5h8v8h-8zM331 1483.5h8v8h-8zM323 1499.5h8v8h-8zM323 1507.5h8v8h-8zM323 1523.5h8v8h-8zM419 1523.5h8v8h-8zM419 1531.5h8v8h-8zM331 1539.5h8v8h-8zM419 1539.5h8v8h-8zM347 1547.5h8v8h-8zM403 1547.5h8v8h-8zM371 1555.5h16v8h-16zM515 1555.5h16v8h-16zM403 1595.5h32v8h-32zM507 1595.5h8v8h-8zM395 1603.5h16v8h-16zM427 1603.5h16v8h-16zM483 1603.5h16v8h-16zM507 1603.5h16v8h-16z"/><path fill="#ff8969" d="M547 1459.5h8v8h-8zM371 1467.5h8v8h-8zM347 1475.5h16v8h-16zM387 1475.5h8v8h-8zM523 1475.5h8v8h-8zM339 1483.5h8v8h-8zM515 1483.5h8v8h-8zM331 1491.5h8v8h-8zM499 1491.5h8v8h-8zM411 1499.5h8v8h-8zM323 1515.5h8v8h-8zM331 1531.5h8v8h-8zM499 1531.5h8v8h-8zM539 1539.5h16v8h-16zM355 1547.5h8v8h-8zM507 1547.5h8v8h-8zM411 1603.5h16v8h-16zM499 1603.5h8v8h-8zM403 1611.5h40v8h-40zM483 1611.5h32v8h-32zM403 1619.5h40v8h-40zM483 1619.5h32v8h-32z"/><path fill="#ff8565" d="M539 1467.5h8v8h-8zM363 1475.5h24v8h-24zM531 1475.5h8v8h-8zM347 1483.5h8v8h-8zM395 1483.5h8v8h-8zM403 1491.5h8v8h-8zM331 1499.5h8v8h-8zM499 1499.5h8v8h-8zM331 1507.5h8v8h-8zM411 1507.5h8v8h-8zM331 1515.5h8v8h-8zM411 1515.5h8v8h-8zM331 1523.5h8v8h-8zM547 1531.5h8v8h-8zM339 1539.5h8v8h-8zM411 1539.5h8v8h-8zM531 1539.5h8v8h-8zM395 1547.5h8v8h-8zM515 1547.5h16v8h-16z"/><path fill="#ff8160" d="M547 1467.5h8v8h-8zM539 1475.5h16v8h-16zM355 1483.5h8v8h-8zM387 1483.5h8v8h-8zM523 1483.5h32v8h-32zM339 1491.5h8v8h-8zM395 1491.5h8v8h-8zM523 1491.5h32v8h-32zM403 1499.5h8v8h-8zM531 1499.5h24v8h-24zM499 1507.5h8v8h-8zM499 1515.5h8v8h-8zM411 1523.5h8v8h-8zM499 1523.5h8v8h-8zM339 1531.5h8v8h-8zM411 1531.5h8v8h-8zM347 1539.5h8v8h-8zM507 1539.5h8v8h-8zM363 1547.5h8v8h-8zM387 1547.5h8v8h-8z"/><path fill="#ff7c5b" d="M363 1483.5h24v8h-24zM507 1483.5h8v8h-8zM347 1491.5h8v8h-8zM339 1499.5h8v8h-8zM523 1499.5h8v8h-8zM339 1507.5h8v8h-8zM403 1507.5h8v8h-8zM523 1507.5h8v8h-8zM339 1515.5h8v8h-8zM403 1515.5h8v8h-8zM339 1523.5h8v8h-8zM403 1539.5h8v8h-8zM523 1539.5h8v8h-8z"/><path fill="#ff7857" d="M355 1491.5h16v8h-16zM387 1491.5h8v8h-8zM515 1491.5h8v8h-8zM347 1499.5h8v8h-8zM395 1499.5h8v8h-8zM395 1507.5h8v8h-8zM347 1531.5h8v8h-8zM371 1547.5h16v8h-16z"/><path fill="#ff7352" d="M371 1491.5h16v8h-16zM355 1499.5h16v8h-16zM387 1499.5h8v8h-8zM347 1507.5h16v8h-16zM531 1507.5h8v8h-8zM347 1515.5h8v8h-8zM395 1515.5h8v8h-8zM523 1515.5h8v8h-8zM347 1523.5h8v8h-8zM403 1523.5h8v8h-8zM547 1523.5h8v8h-8zM403 1531.5h8v8h-8zM539 1531.5h8v8h-8zM355 1539.5h8v8h-8zM515 1539.5h8v8h-8z"/><path fill="#ff6f4d" d="M371 1499.5h16v8h-16zM363 1507.5h8v8h-8zM387 1507.5h8v8h-8zM539 1507.5h16v8h-16zM355 1515.5h8v8h-8zM531 1515.5h24v8h-24zM531 1523.5h16v8h-16zM355 1531.5h8v8h-8zM507 1531.5h8v8h-8zM531 1531.5h8v8h-8zM395 1539.5h8v8h-8z"/><path fill="#ff6a49" d="M507 1491.5h8v8h-8zM371 1507.5h16v8h-16zM363 1515.5h8v8h-8zM387 1515.5h8v8h-8zM355 1523.5h8v8h-8zM523 1523.5h8v8h-8zM523 1531.5h8v8h-8zM363 1539.5h8v8h-8z"/><path fill="#ff6544" d="M371 1515.5h16v8h-16zM363 1523.5h8v8h-8zM395 1523.5h8v8h-8zM395 1531.5h8v8h-8z"/><path fill="#ff603f" d="M507 1499.5h16v8h-16zM507 1507.5h8v8h-8zM507 1515.5h8v8h-8zM371 1523.5h8v8h-8zM507 1523.5h8v8h-8zM363 1531.5h8v8h-8zM387 1539.5h8v8h-8z"/><path fill="#ff5b3a" d="M515 1507.5h8v8h-8zM515 1515.5h8v8h-8zM387 1523.5h8v8h-8zM515 1531.5h8v8h-8zM371 1539.5h8v8h-8z"/><path fill="#ff5636" d="M379 1523.5h8v8h-8zM515 1523.5h8v8h-8zM371 1531.5h8v8h-8zM379 1539.5h8v8h-8z"/><path fill="#ff5031" d="M387 1531.5h8v8h-8z"/><path fill="#ff4a2c" d="M379 1531.5h8v8h-8z"/></g></g>
<g clip-path="url(#clipE)"><path d="M525.3 1199.2L530.7 1210.6L532.3 1235.5L537 1242.5L519.9 1243.2L515.2 1239.4L509.7 1244.8L505.9 1243.2L490.3 1243.2L474.7 1249.5L466.9 1241.7L459.2 1232.3L446.7 1230L435.8 1231.6L423.4 1237.8L406.3 1239.4L384.5 1243.2L373.6 1247.9L368.9 1255.7L370.5 1263.5L379.8 1265.8L390.7 1266.6L379.8 1268.1L378.2 1272.8L387.6 1275.9L389.1 1278.3L376.7 1280.6L373.6 1286.8L382.9 1289.9L387.6 1297.7L395.4 1302.4L403.1 1301.6L426.5 1303.9L437.4 1309.4L448.3 1310.9L457.6 1316.4L465.4 1316.4L470.1 1322.6L485.6 1325.7L482.5 1332L485.6 1338.2L501.2 1339.7L498.1 1346L505.9 1353.7L504.3 1366.2L510.5 1377.1L516.7 1386.4L523 1394.2L526.1 1400L530.6 1397.3L542.3 1403.2L553.3 1404.6L553.3 1199.2Z" fill="#D3D3D3"/><path d="M496.5 1201L503 1200.4L509 1202L510.5 1207L505 1209.8L497 1208.5Z" fill="#D3D3D3"/><path d="M545 1422L549 1428L552.5 1436L552.5 1448L548 1440L541 1428L539.4 1423Z" fill="#D3D3D3"/><path d="M141.9 1629.8L144.1 1620.1L151.6 1614.7L162.5 1609.3L173.3 1609.3L188.5 1602.8L192.8 1592L205.8 1583.3L220.9 1579L233.9 1582.2L244.7 1589.8L255.6 1592L270.7 1590.9L294.5 1589.8L314 1586.5L329.2 1590.9L357.3 1596.3L379 1600.6L400.6 1599.5L417.9 1595.2L428.8 1596.3L439.6 1600.6L454.6 1604.8L461.9 1600.5L478 1603.4L488.2 1607.8L498.5 1609.2L510.2 1606.3L521.8 1600.5L533.5 1597.5L535 1591.7L539.4 1580L542.3 1550.8L546.7 1518.6L550 1490L552.5 1463L553.3 1460L553.3 1629.8Z" fill="#D3D3D3"/></g>
<g clip-path="url(#clipE)" fill="#000"><circle cx="315.2" cy="1324.8" r="3.5"/><circle cx="349.3" cy="1345.2" r="3.5"/><circle cx="372.2" cy="1310.3" r="3.5"/><circle cx="378.5" cy="1315.9" r="3.5"/><circle cx="393.7" cy="1340.2" r="3.5"/><circle cx="423.1" cy="1342.5" r="3.5"/><circle cx="436.3" cy="1357.1" r="3.5"/><circle cx="443.1" cy="1374.7" r="3.5"/><circle cx="405.9" cy="1389.0" r="3.5"/><circle cx="392.0" cy="1397.0" r="3.5"/><circle cx="400.3" cy="1404.4" r="3.5"/><circle cx="443.4" cy="1394.4" r="3.5"/><circle cx="448.8" cy="1391.0" r="3.5"/><circle cx="455.6" cy="1388.8" r="3.5"/><circle cx="464.9" cy="1404.6" r="3.5"/><circle cx="469.2" cy="1414.6" r="3.5"/><circle cx="442.9" cy="1417.6" r="3.5"/><circle cx="448.0" cy="1413.4" r="3.5"/><circle cx="453.6" cy="1411.4" r="3.5"/><circle cx="448.0" cy="1420.2" r="3.5"/><circle cx="417.5" cy="1430.3" r="3.5"/><circle cx="411.5" cy="1433.7" r="3.5"/><circle cx="408.1" cy="1435.4" r="3.5"/><circle cx="459.8" cy="1429.5" r="3.5"/><circle cx="464.1" cy="1436.8" r="3.5"/><circle cx="482.7" cy="1435.4" r="3.5"/><circle cx="482.7" cy="1438.0" r="3.5"/><circle cx="440.7" cy="1440.5" r="3.5"/><circle cx="431.9" cy="1444.7" r="3.5"/><circle cx="468.8" cy="1446.1" r="3.5"/><circle cx="417.5" cy="1452.7" r="3.5"/><circle cx="457.6" cy="1452.7" r="3.5"/><circle cx="498.0" cy="1451.2" r="3.5"/><circle cx="457.6" cy="1474.4" r="3.5"/><circle cx="439.7" cy="1484.2" r="3.5"/><circle cx="496.8" cy="1496.1" r="3.5"/><circle cx="316.5" cy="1433.0" r="3.5"/><circle cx="505.1" cy="1505.5" r="3.5"/><circle cx="507.8" cy="1504.2" r="3.5"/><circle cx="516.6" cy="1508.0" r="3.5"/><circle cx="447.6" cy="1509.3" r="3.5"/><circle cx="439.7" cy="1512.0" r="3.5"/><circle cx="435.1" cy="1523.4" r="3.5"/><circle cx="498.3" cy="1521.8" r="3.5"/><circle cx="506.4" cy="1522.5" r="3.5"/><circle cx="510.5" cy="1522.5" r="3.5"/><circle cx="519.3" cy="1521.8" r="3.5"/><circle cx="516.6" cy="1529.2" r="3.5"/><circle cx="522.0" cy="1529.2" r="3.5"/><circle cx="387.4" cy="1523.8" r="3.5"/><circle cx="440.1" cy="1533.3" r="3.5"/><circle cx="499.7" cy="1539.1" r="3.5"/><circle cx="506.2" cy="1538.7" r="3.5"/><circle cx="388.0" cy="1547.5" r="3.5"/><circle cx="387.4" cy="1556.3" r="3.5"/><circle cx="422.8" cy="1550.2" r="3.5"/><circle cx="439.7" cy="1553.6" r="3.5"/><circle cx="457.5" cy="1555.6" r="3.5"/><circle cx="490.9" cy="1556.3" r="3.5"/><circle cx="495.6" cy="1556.7" r="3.5"/><circle cx="507.8" cy="1555.6" r="3.5"/><circle cx="509.8" cy="1557.6" r="3.5"/><circle cx="369.5" cy="1571.9" r="3.5"/><circle cx="405.0" cy="1563.1" r="3.5"/><circle cx="474.6" cy="1569.8" r="3.5"/><circle cx="492.9" cy="1573.2" r="3.5"/><circle cx="488.6" cy="1578.3" r="3.5"/><circle cx="509.8" cy="1573.2" r="3.5"/><circle cx="387.4" cy="1576.6" r="3.5"/><circle cx="387.4" cy="1582.0" r="3.5"/><circle cx="370.4" cy="1586.1" r="3.5"/><circle cx="404.7" cy="1580.6" r="3.5"/><circle cx="404.7" cy="1587.4" r="3.5"/><circle cx="404.7" cy="1592.2" r="3.5"/><circle cx="404.7" cy="1594.9" r="3.5"/><circle cx="422.3" cy="1569.8" r="3.5"/><circle cx="422.3" cy="1575.2" r="3.5"/><circle cx="422.3" cy="1584.7" r="3.5"/><circle cx="439.7" cy="1580.0" r="3.5"/><circle cx="449.3" cy="1578.0" r="3.5"/><circle cx="448.3" cy="1582.7" r="3.5"/><circle cx="445.5" cy="1594.2" r="3.5"/><circle cx="457.1" cy="1581.3" r="3.5"/><circle cx="457.1" cy="1585.4" r="3.5"/><circle cx="457.1" cy="1593.2" r="3.5"/><circle cx="434.7" cy="1588.8" r="3.5"/><circle cx="439.5" cy="1588.8" r="3.5"/><circle cx="440.8" cy="1591.5" r="3.5"/><circle cx="468.3" cy="1595.5" r="3.5"/><circle cx="475.3" cy="1588.8" r="3.5"/><circle cx="480.7" cy="1588.8" r="3.5"/><circle cx="475.3" cy="1592.2" r="3.5"/><circle cx="491.8" cy="1585.4" r="3.5"/><circle cx="509.1" cy="1584.7" r="3.5"/><circle cx="511.9" cy="1587.4" r="3.5"/><circle cx="514.6" cy="1590.1" r="3.5"/><circle cx="521.3" cy="1590.8" r="3.5"/><circle cx="491.8" cy="1600.0" r="3.5"/><circle cx="509.1" cy="1598.6" r="3.5"/><circle cx="516.6" cy="1601.6" r="3.5"/><circle cx="335.5" cy="1517.2" r="3.5"/><circle cx="195.4" cy="1532.3" r="3.5"/><circle cx="265.5" cy="1541.9" r="3.5"/><circle cx="256.3" cy="1547.1" r="3.5"/><circle cx="229.8" cy="1557.2" r="3.5"/><circle cx="229.8" cy="1560.3" r="3.5"/><circle cx="247.7" cy="1560.0" r="3.5"/><circle cx="256.3" cy="1561.8" r="3.5"/><circle cx="265.5" cy="1560.3" r="3.5"/><circle cx="282.6" cy="1554.8" r="3.5"/><circle cx="282.6" cy="1564.2" r="3.5"/><circle cx="282.6" cy="1568.8" r="3.5"/><circle cx="282.6" cy="1576.6" r="3.5"/><circle cx="300.2" cy="1532.6" r="3.5"/><circle cx="300.2" cy="1544.4" r="3.5"/><circle cx="300.2" cy="1558.0" r="3.5"/><circle cx="300.2" cy="1563.4" r="3.5"/><circle cx="300.2" cy="1571.2" r="3.5"/><circle cx="308.4" cy="1571.6" r="3.5"/><circle cx="300.2" cy="1585.2" r="3.5"/><circle cx="317.8" cy="1536.6" r="3.5"/><circle cx="317.8" cy="1546.0" r="3.5"/><circle cx="317.8" cy="1562.6" r="3.5"/><circle cx="317.8" cy="1566.5" r="3.5"/><circle cx="317.8" cy="1571.2" r="3.5"/><circle cx="335.5" cy="1564.2" r="3.5"/><circle cx="335.5" cy="1572.4" r="3.5"/><circle cx="352.3" cy="1553.3" r="3.5"/><circle cx="352.3" cy="1559.5" r="3.5"/><circle cx="352.3" cy="1567.3" r="3.5"/><circle cx="352.3" cy="1574.3" r="3.5"/><circle cx="352.3" cy="1580.5" r="3.5"/><circle cx="369.7" cy="1572.0" r="3.5"/><circle cx="370.2" cy="1586.0" r="3.5"/><circle cx="177.2" cy="1571.2" r="3.5"/><circle cx="177.7" cy="1596.9" r="3.5"/><circle cx="466.5" cy="1491.7" r="3.5"/><circle cx="471.1" cy="1489.2" r="3.5"/><circle cx="475.8" cy="1486.6" r="3.5"/><circle cx="480.4" cy="1484.1" r="3.5"/><circle cx="485.0" cy="1481.6" r="3.5"/><circle cx="489.7" cy="1479.0" r="3.5"/><circle cx="494.3" cy="1476.5" r="3.5"/></g>
<text x="120.3" y="1573.8" text-anchor="end" class="tk">44</text>
<text x="120.3" y="1504.9" text-anchor="end" class="tk">45</text>
<text x="120.3" y="1436" text-anchor="end" class="tk">46</text>
<text x="120.3" y="1367.1" text-anchor="end" class="tk">47</text>
<text x="120.3" y="1298.2" text-anchor="end" class="tk">48</text>
<text x="120.3" y="1229.3" text-anchor="end" class="tk">49</text>
<text x="230.9" y="1665.8" text-anchor="middle" class="tk">-7.5</text>
<text x="357.9" y="1665.8" text-anchor="middle" class="tk">-5.0</text>
<text x="484.9" y="1665.8" text-anchor="middle" class="tk">-2.5</text>
<text x="345" y="1704.3" text-anchor="middle" class="ti">Lon</text>
<text transform="translate(53.5,1414.5) rotate(-90)" text-anchor="middle" class="ti">Lat</text>
<text x="2.6" y="1190.4" class="pl">E</text>
<rect x="1349.1" y="724.2" width="53.0" height="265.3" fill="url(#lgbar)"/>
<line x1="1349.1" y1="989.5" x2="1359.7" y2="989.5" stroke="#fff" stroke-width="1.1"/>
<line x1="1391.5" y1="989.5" x2="1402.1" y2="989.5" stroke="#fff" stroke-width="1.1"/>
<text x="1419" y="999.2" class="lg">0.00</text>
<line x1="1349.1" y1="923.2" x2="1359.7" y2="923.2" stroke="#fff" stroke-width="1.1"/>
<line x1="1391.5" y1="923.2" x2="1402.1" y2="923.2" stroke="#fff" stroke-width="1.1"/>
<text x="1419" y="932.9" class="lg">0.25</text>
<line x1="1349.1" y1="856.9" x2="1359.7" y2="856.9" stroke="#fff" stroke-width="1.1"/>
<line x1="1391.5" y1="856.9" x2="1402.1" y2="856.9" stroke="#fff" stroke-width="1.1"/>
<text x="1419" y="866.6" class="lg">0.50</text>
<line x1="1349.1" y1="790.5" x2="1359.7" y2="790.5" stroke="#fff" stroke-width="1.1"/>
<line x1="1391.5" y1="790.5" x2="1402.1" y2="790.5" stroke="#fff" stroke-width="1.1"/>
<text x="1419" y="800.2" class="lg">0.75</text>
<line x1="1349.1" y1="724.2" x2="1359.7" y2="724.2" stroke="#fff" stroke-width="1.1"/>
<line x1="1391.5" y1="724.2" x2="1402.1" y2="724.2" stroke="#fff" stroke-width="1.1"/>
<text x="1419" y="733.9" class="lg">1.00</text>
<text x="1349.5" y="703.1" class="ti">Density</text>
</svg></body></html>
